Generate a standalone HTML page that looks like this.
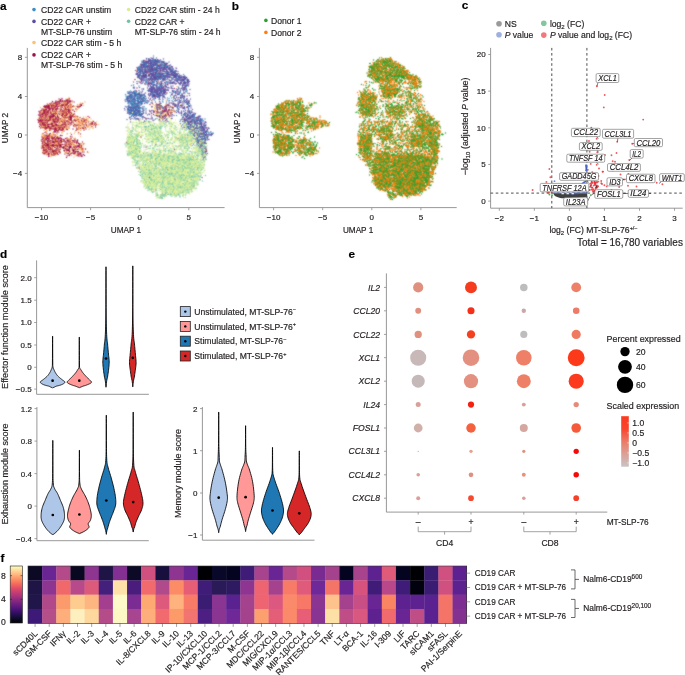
<!DOCTYPE html>
<html><head><meta charset="utf-8"><style>
html,body{margin:0;padding:0;background:#fff;}
body{width:685px;height:675px;overflow:hidden;}
svg{display:block;will-change:transform;}
text{font-family:"Liberation Sans", sans-serif;stroke:#231f20;stroke-width:0.18px;paint-order:stroke;}
</style></head><body>
<svg width="685" height="675" viewBox="0 0 685 675" font-family='"Liberation Sans", sans-serif' fill="#231f20">
<text x="0.00" y="9.60" font-size="11.8" font-weight="bold" fill="#000" >a</text>
<text x="231.80" y="9.60" font-size="11.8" font-weight="bold" fill="#000" >b</text>
<text x="461.80" y="9.30" font-size="11.8" font-weight="bold" fill="#000" >c</text>
<text x="0.00" y="258.20" font-size="11.8" font-weight="bold" fill="#000" >d</text>
<text x="348.60" y="258.20" font-size="11.8" font-weight="bold" fill="#000" >e</text>
<text x="0.60" y="561.80" font-size="11.8" font-weight="bold" fill="#000" >f</text>
<line x1="27.30" y1="47.90" x2="27.30" y2="207.60" stroke="#8c8c8c" stroke-width="0.9" />
<line x1="27.30" y1="207.60" x2="224.60" y2="207.60" stroke="#8c8c8c" stroke-width="0.9" />
<line x1="24.90" y1="57.30" x2="27.30" y2="57.30" stroke="#8c8c8c" stroke-width="0.8" />
<text x="22.10" y="60.20" font-size="8" text-anchor="end" >8</text>
<line x1="24.90" y1="96.50" x2="27.30" y2="96.50" stroke="#8c8c8c" stroke-width="0.8" />
<text x="22.10" y="99.40" font-size="8" text-anchor="end" >4</text>
<line x1="24.90" y1="135.00" x2="27.30" y2="135.00" stroke="#8c8c8c" stroke-width="0.8" />
<text x="22.10" y="137.90" font-size="8" text-anchor="end" >0</text>
<line x1="24.90" y1="173.40" x2="27.30" y2="173.40" stroke="#8c8c8c" stroke-width="0.8" />
<text x="22.10" y="176.30" font-size="8" text-anchor="end" >−4</text>
<line x1="41.50" y1="207.60" x2="41.50" y2="210.20" stroke="#8c8c8c" stroke-width="0.8" />
<text x="41.50" y="220.30" font-size="8" text-anchor="middle" >−10</text>
<line x1="90.60" y1="207.60" x2="90.60" y2="210.20" stroke="#8c8c8c" stroke-width="0.8" />
<text x="90.60" y="220.30" font-size="8" text-anchor="middle" >−5</text>
<line x1="139.70" y1="207.60" x2="139.70" y2="210.20" stroke="#8c8c8c" stroke-width="0.8" />
<text x="139.70" y="220.30" font-size="8" text-anchor="middle" >0</text>
<line x1="188.80" y1="207.60" x2="188.80" y2="210.20" stroke="#8c8c8c" stroke-width="0.8" />
<text x="188.80" y="220.30" font-size="8" text-anchor="middle" >5</text>
<text x="126.00" y="233.30" font-size="8.2" text-anchor="middle" >UMAP 1</text>
<text x="0.00" y="0.00" font-size="8.2" text-anchor="middle" transform="translate(7.70,128) rotate(-90)">UMAP 2</text>
<line x1="259.40" y1="47.90" x2="259.40" y2="207.60" stroke="#8c8c8c" stroke-width="0.9" />
<line x1="259.40" y1="207.60" x2="456.70" y2="207.60" stroke="#8c8c8c" stroke-width="0.9" />
<line x1="257.00" y1="57.30" x2="259.40" y2="57.30" stroke="#8c8c8c" stroke-width="0.8" />
<text x="254.20" y="60.20" font-size="8" text-anchor="end" >8</text>
<line x1="257.00" y1="96.50" x2="259.40" y2="96.50" stroke="#8c8c8c" stroke-width="0.8" />
<text x="254.20" y="99.40" font-size="8" text-anchor="end" >4</text>
<line x1="257.00" y1="135.00" x2="259.40" y2="135.00" stroke="#8c8c8c" stroke-width="0.8" />
<text x="254.20" y="137.90" font-size="8" text-anchor="end" >0</text>
<line x1="257.00" y1="173.40" x2="259.40" y2="173.40" stroke="#8c8c8c" stroke-width="0.8" />
<text x="254.20" y="176.30" font-size="8" text-anchor="end" >−4</text>
<line x1="273.60" y1="207.60" x2="273.60" y2="210.20" stroke="#8c8c8c" stroke-width="0.8" />
<text x="273.60" y="220.30" font-size="8" text-anchor="middle" >−10</text>
<line x1="322.70" y1="207.60" x2="322.70" y2="210.20" stroke="#8c8c8c" stroke-width="0.8" />
<text x="322.70" y="220.30" font-size="8" text-anchor="middle" >−5</text>
<line x1="371.80" y1="207.60" x2="371.80" y2="210.20" stroke="#8c8c8c" stroke-width="0.8" />
<text x="371.80" y="220.30" font-size="8" text-anchor="middle" >0</text>
<line x1="420.90" y1="207.60" x2="420.90" y2="210.20" stroke="#8c8c8c" stroke-width="0.8" />
<text x="420.90" y="220.30" font-size="8" text-anchor="middle" >5</text>
<text x="358.10" y="233.30" font-size="8.2" text-anchor="middle" >UMAP 1</text>
<text x="0.00" y="0.00" font-size="8.2" text-anchor="middle" transform="translate(239.80,128) rotate(-90)">UMAP 2</text>
<circle cx="34.00" cy="9.60" r="1.80" fill="#3a8fc4" />
<circle cx="34.00" cy="21.40" r="1.80" fill="#5a4ea3" />
<circle cx="34.00" cy="42.60" r="1.80" fill="#fcc276" />
<circle cx="34.00" cy="54.90" r="1.80" fill="#a1124c" />
<circle cx="128.60" cy="9.50" r="1.80" fill="#d8ee90" />
<circle cx="128.60" cy="21.30" r="1.80" fill="#6cc4a0" />
<text x="41.00" y="12.90" font-size="8.6" >CD22 CAR unstim</text>
<text x="41.00" y="24.60" font-size="8.6" >CD22 CAR +</text>
<text x="41.00" y="34.60" font-size="8.6" >MT-SLP-76 unstim</text>
<text x="41.00" y="45.80" font-size="8.6" >CD22 CAR stim - 5 h</text>
<text x="41.00" y="57.60" font-size="8.6" >CD22 CAR +</text>
<text x="41.00" y="67.60" font-size="8.6" >MT-SLP-76 stim - 5 h</text>
<text x="134.70" y="12.90" font-size="8.6" >CD22 CAR stim - 24 h</text>
<text x="134.70" y="24.60" font-size="8.6" >CD22 CAR +</text>
<text x="134.70" y="34.60" font-size="8.6" >MT-SLP-76 stim - 24 h</text>
<circle cx="265.90" cy="20.40" r="1.80" fill="#2ca02c" />
<circle cx="265.90" cy="32.40" r="1.80" fill="#ff7f0e" />
<text x="271.00" y="23.50" font-size="8.6" >Donor 1</text>
<text x="271.00" y="35.50" font-size="8.6" >Donor 2</text>
<defs><filter id="ub" x="-5%" y="-5%" width="110%" height="110%"><feConvolveMatrix order="3" kernelMatrix="1 2 1 2 12 2 1 2 1"/></filter></defs><g filter="url(#ub)"><g transform="scale(0.5)" stroke-linecap="round" fill="none"><g stroke-opacity="0.8"><path d="M293 123h0m27 19h0m-1 8h0m11 13h0m32 29h0m-3 4h0m-227 2h0m173 4h0m57 1h0m-243 2h0m9 2h0m5 0h0m6 0h0m1 0h0m-7 1h0m-3 1h0m-33 1h0m30 0h0m-26 1h0m6 0h0m33 0h0m27 0h0m-38 1h0m26 0h0m-68 1h0m17 0h0m1 0h0m10 0h0m8 0h0m7 0h0m7 0h0m12 0h0m-46 2h0m32 0h0m-20 1h0m-17 1h0m9 0h0m35 1h0m9 0h0m-19 1h0m2 0h0m5 0h0m7 1h0m-59 1h0m41 0h0m213 0h0m-223 1h0m11 1h0m8 0h0m-49 1h0m7 0h0m6 0h0m8 0h0m20 0h0m184 0h0m30 0h0m-255 1h0m15 0h0m-12 1h0m32 0h0m8 0h0m190 0h0m6 0h0m-16 1h0m-218 1h0m239 0h0m-225 1h0m210 0h0m-206 1h0m3 0h0m1 0h0m16 0h0m-32 1h0m30 0h0m201 0h0m8 0h0m3 0h0m-230 1h0m-9 1h0m-9 1h0m58 1h0m-68 1h0m10 0h0m38 0h0m3 0h0m4 0h0m-59 1h0m5 0h0m70 0h0m15 0h0m173 0h0m-205 1h0m17 0h0m28 0h0m-78 1h0m16 0h0m-31 1h0m242 0h0m-213 1h0m6 0h0m31 0h0m13 0h0m-63 1h0m17 0h0m13 0h0m39 0h0m-2 1h0m-33 1h0m21 0h0m12 0h0m13 0h0m-105 2h0m27 2h0m28 0h0m19 0h0m31 0h0m12 1h0m-103 1h0m3 0h0m10 0h0m67 0h0m-70 1h0m1 0h0m8 0h0m7 0h0m37 0h0m30 0h0m-73 2h0m21 0h0m38 0h0m2 0h0m-64 1h0m46 0h0m25 0h0m-84 1h0m61 0h0m-45 1h0m10 0h0m37 0h0m-41 1h0m46 0h0m-59 1h0m5 1h0m-24 2h0m30 4h0m6 1h0m11 1h0m-29 1h0m51 0h0m-73 4h0m3 2h0m8 0h0m19 1h0m-5 1h0m7 0h0m-19 1h0m7 0h0m7 1h0m-29 2h0m45 0h0m-26 2h0m14 0h0m40 0h0m-35 1h0m22 1h0m-54 1h0m60 1h0m-59 1h0m4 0h0m69 0h0m-73 2h0m28 0h0m18 0h0m4 0h0m3 0h0m3 0h0m-56 1h0m-6 1h0m6 0h0m7 0h0m54 2h0m-49 1h0m31 0h0m139 0h0m-183 1h0m12 0h0m50 0h0m11 2h0m-63 2h0m4 0h0m10 1h0m30 0h0m22 0h0m-55 1h0m1 2h0m46 0h0m9 0h0m-73 2h0m24 0h0m4 0h0m-13 2h0m-12 1h0m6 1h0m35 2h0m255 32h0m-71 28h0" stroke="#fdae61" stroke-width="3.00"/>
<path d="M261 198h0m11 15h0m49 1h0m-8 15h0m11 1h0m10 0h0m-14 2h0m11 2h0m-24 8h0m34 1h0m32 1h0m-100 1h0m34 0h0m-10 1h0m-39 1h0m18 0h0m62 1h0m35 0h0m8 0h0m6 0h0m-100 1h0m46 0h0m-9 1h0m45 1h0m-72 2h0m46 0h0m19 0h0m-57 1h0m77 0h0m-67 1h0m-32 1h0m62 0h0m-48 1h0m13 0h0m39 0h0m39 0h0m-90 3h0m71 0h0m20 0h0m-133 2h0m26 0h0m21 0h0m-15 1h0m90 0h0m-61 1h0m-8 1h0m59 0h0m-108 1h0m57 1h0m-63 1h0m109 0h0m-63 1h0m4 0h0m6 0h0m-7 1h0m33 0h0m-80 1h0m39 0h0m87 0h0m-102 1h0m35 0h0m8 0h0m-28 1h0m14 0h0m36 0h0m30 0h0m-118 1h0m114 1h0m-89 1h0m0 0h0m30 0h0m47 0h0m9 0h0m10 0h0m3 0h0m-78 1h0m16 0h0m49 0h0m-112 1h0m53 0h0m36 0h0m30 0h0m3 0h0m-19 1h0m-97 1h0m5 0h0m40 1h0m65 0h0m26 0h0m11 0h0m2 0h0m-156 1h0m3 0h0m80 0h0m50 0h0m-11 1h0m-120 1h0m3 0h0m44 0h0m55 0h0m1 0h0m11 0h0m3 0h0m21 0h0m9 0h0m-128 1h0m52 0h0m40 0h0m-19 1h0m18 0h0m14 0h0m-32 2h0m-78 2h0m88 0h0m2 0h0m10 0h0m35 0h0m0 0h0m-149 1h0m17 0h0m64 0h0m32 0h0m31 0h0m-129 1h0m108 0h0m-105 1h0m80 1h0m-87 1h0m5 0h0m94 0h0m-92 1h0m2 0h0m23 0h0m46 0h0m7 0h0m-25 1h0m45 0h0m28 1h0m8 0h0m-130 1h0m126 0h0m-124 1h0m18 0h0m10 0h0m45 0h0m-51 1h0m39 0h0m37 0h0m15 0h0m-125 1h0m59 1h0m-69 1h0m10 0h0m74 0h0m28 1h0m35 0h0m-67 1h0m4 1h0m4 0h0m-34 2h0m49 0h0m1 0h0m6 0h0m10 0h0m-46 1h0m6 0h0m39 0h0m11 0h0m17 0h0m-91 1h0m5 0h0m76 0h0m-133 1h0m24 0h0m2 0h0m4 0h0m38 0h0m25 0h0m24 0h0m-77 1h0m28 0h0m4 0h0m2 0h0m3 0h0m26 0h0m12 0h0m10 0h0m-107 1h0m31 0h0m7 0h0m1 0h0m24 0h0m20 0h0m-93 1h0m5 0h0m19 0h0m21 0h0m44 0h0m4 0h0m17 0h0m-78 1h0m51 0h0m9 0h0m-68 1h0m38 0h0m-39 1h0m3 0h0m15 0h0m42 0h0m0 0h0m33 0h0m-71 1h0m7 0h0m15 0h0m7 0h0m53 0h0m10 0h0m-88 1h0m13 0h0m38 0h0m8 0h0m-96 1h0m35 0h0m73 0h0m2 0h0m14 0h0m1 0h0m-143 1h0m26 0h0m2 0h0m30 0h0m13 0h0m17 0h0m40 0h0m8 0h0m10 0h0m-122 1h0m3 0h0m34 0h0m17 0h0m5 0h0m2 0h0m17 0h0m1 0h0m-104 1h0m22 0h0m40 0h0m4 0h0m15 0h0m16 0h0m15 0h0m10 0h0m-91 1h0m11 0h0m30 0h0m26 0h0m25 0h0m18 0h0m-107 1h0m33 0h0m14 0h0m1 0h0m10 0h0m20 0h0m6 1h0m1 0h0m-99 1h0m41 0h0m18 0h0m23 0h0m23 0h0m-16 1h0m8 0h0m12 0h0m-63 1h0m3 0h0m12 0h0m-60 1h0m8 0h0m21 0h0m11 0h0m1 0h0m22 0h0m19 0h0m3 0h0m-82 1h0m7 0h0m0 0h0m1 0h0m41 0h0m30 0h0m17 0h0m-80 1h0m46 0h0m18 0h0m5 0h0m1 0h0m1 0h0m18 0h0m-55 1h0m4 0h0m19 0h0m25 0h0m1 0h0m1 0h0m12 0h0m-117 1h0m44 0h0m35 0h0m5 0h0m11 0h0m2 0h0m-96 1h0m0 0h0m35 0h0m24 0h0m23 0h0m-62 1h0m58 0h0m-36 1h0m29 0h0m17 0h0m-41 1h0m11 0h0m2 0h0m17 0h0m4 0h0m11 0h0m23 0h0m4 0h0m-115 1h0m18 0h0m5 0h0m19 0h0m47 0h0m8 0h0m7 0h0m-98 1h0m22 0h0m28 0h0m8 0h0m5 0h0m-67 1h0m61 0h0m50 0h0m-114 1h0m10 0h0m1 0h0m24 0h0m47 0h0m-62 1h0m85 0h0m10 0h0m-116 1h0m17 0h0m43 0h0m1 0h0m22 0h0m6 0h0m-64 1h0m4 0h0m47 0h0m-74 1h0m5 0h0m16 0h0m48 0h0m7 0h0m5 0h0m-74 1h0m6 0h0m53 0h0m24 0h0m-68 1h0m47 0h0m5 0h0m-71 1h0m6 0h0m18 0h0m13 0h0m18 0h0m20 0h0m-86 1h0m22 0h0m45 0h0m3 0h0m12 0h0m11 0h0m-34 1h0m27 0h0m7 0h0m16 0h0m-100 1h0m41 0h0m3 0h0m25 0h0m25 0h0m-99 1h0m28 0h0m15 0h0m-34 1h0m25 0h0m8 0h0m12 0h0m20 0h0m24 0h0m-81 1h0m24 0h0m3 0h0m39 0h0m-23 1h0m20 0h0m4 0h0m26 0h0m-68 1h0m65 0h0m-69 1h0m20 0h0m25 0h0m-39 1h0m32 0h0m15 0h0m-38 1h0m10 0h0m4 0h0m-68 1h0m30 0h0m31 0h0m-57 1h0m56 0h0m13 0h0m28 0h0m-82 1h0m39 0h0m2 0h0m3 0h0m14 0h0m32 0h0m-105 1h0m15 0h0m1 0h0m8 0h0m8 0h0m12 0h0m28 0h0m-14 1h0m26 0h0m24 0h0m-74 1h0m58 0h0m-81 1h0m47 0h0m41 0h0m-88 1h0m10 0h0m1 0h0m41 0h0m18 0h0m-75 1h0m6 0h0m1 0h0m79 0h0m-76 1h0m7 0h0m2 0h0m17 0h0m53 0h0m4 0h0m3 0h0m2 0h0m-98 1h0m1 0h0m13 0h0m12 0h0m33 0h0m6 0h0m8 0h0m9 0h0m9 0h0m-74 1h0m9 0h0m6 0h0m17 0h0m46 0h0m-64 1h0m41 0h0m9 0h0m-36 1h0m23 0h0m-42 1h0m4 0h0m18 0h0m40 0h0m-78 1h0m33 0h0m43 0h0m1 0h0m-84 1h0m39 0h0m11 0h0m20 0h0m8 0h0m-45 1h0m2 0h0m6 0h0m29 0h0m-18 1h0m-16 1h0m31 0h0m-42 1h0m19 0h0m5 0h0m-40 1h0m35 0h0m-6 1h0m-1 2h0m29 1h0m-41 3h0m24 0h0m11 0h0m10 1h0m-53 6h0" stroke="#e6f598" stroke-width="3.00"/>
<path d="M297 118h0m13 1h0m-9 1h0m6 0h0m8 0h0m-9 1h0m2 1h0m-19 2h0m5 1h0m20 0h0m-32 3h0m9 0h0m29 1h0m-4 2h0m5 0h0m-4 1h0m-23 1h0m42 1h0m-39 4h0m15 0h0m-31 1h0m52 1h0m6 4h0m-60 2h0m10 0h0m3 0h0m19 0h0m-27 1h0m36 2h0m35 0h0m12 0h0m-43 1h0m-13 1h0m36 0h0m-30 1h0m-15 1h0m46 0h0m-45 1h0m-24 2h0m78 1h0m-53 3h0m-12 2h0m35 6h0m43 0h0m6 0h0m-16 2h0m-97 1h0m48 0h0m14 0h0m-12 2h0m-52 9h0m61 0h0m3 0h0m-56 1h0m58 1h0m20 1h0m-79 1h0m7 2h0m-6 1h0m44 0h0m-36 2h0m7 0h0m5 0h0m31 0h0m-63 1h0m6 0h0m-5 1h0m62 0h0m-56 1h0m14 0h0m51 0h0m-76 1h0m8 0h0m2 0h0m80 1h0m18 0h0m-108 2h0m9 0h0m4 0h0m16 0h0m0 0h0m81 2h0m-68 1h0m-30 1h0m5 3h0m102 0h0m-13 1h0m-103 1h0m121 1h0m-29 1h0m-73 1h0m7 0h0m53 0h0m-72 1h0m2 0h0m92 0h0m-89 1h0m4 1h0m-10 1h0m2 0h0m13 0h0m78 0h0m-98 1h0m70 0h0m-54 1h0m-8 1h0m-2 1h0m15 0h0m-16 1h0m95 0h0m-99 1h0m2 0h0m87 0h0m-71 2h0m0 1h0m1 0h0m38 0h0m15 0h0m-56 2h0m5 0h0m58 0h0m-61 1h0m102 0h0m-97 3h0m107 0h0m-123 1h0m8 1h0m8 0h0m29 0h0m74 0h0m-98 2h0m-17 2h0m113 2h0m-114 1h0m119 0h0m-16 3h0m32 0h0m-23 5h0m10 2h0m-3 10h0m27 2h0m-3 3h0m11 1h0m-34 1h0m35 5h0m-17 9h0m-1 18h0m3 13h0" stroke="#3288bd" stroke-width="3.00"/>
<path d="M311 120h0m-7 1h0m6 1h0m-18 1h0m0 0h0m5 0h0m1 0h0m3 0h0m8 0h0m11 0h0m-8 1h0m12 0h0m14 0h0m-46 1h0m11 0h0m17 0h0m-22 1h0m34 0h0m3 1h0m-51 2h0m4 0h0m22 0h0m10 0h0m5 0h0m-41 1h0m1 0h0m16 0h0m19 0h0m-25 1h0m7 0h0m13 0h0m-27 1h0m29 0h0m15 0h0m-18 1h0m0 0h0m-24 1h0m15 1h0m10 0h0m12 0h0m8 0h0m-51 1h0m34 0h0m2 0h0m3 0h0m6 0h0m10 0h0m-56 1h0m23 0h0m10 0h0m0 0h0m22 0h0m1 0h0m-63 1h0m10 0h0m22 0h0m37 0h0m2 0h0m-55 1h0m5 0h0m5 0h0m3 0h0m15 0h0m4 0h0m5 0h0m11 0h0m2 0h0m-46 1h0m18 0h0m-20 1h0m12 0h0m5 0h0m11 1h0m3 0h0m-11 1h0m15 0h0m16 0h0m11 0h0m-71 1h0m27 0h0m25 0h0m-60 1h0m13 0h0m18 0h0m-21 1h0m46 0h0m4 0h0m-56 1h0m25 0h0m11 0h0m11 0h0m26 0h0m-73 1h0m-8 1h0m14 0h0m4 0h0m8 0h0m10 0h0m10 0h0m1 0h0m5 0h0m-45 1h0m27 0h0m11 0h0m36 0h0m-72 1h0m3 0h0m3 0h0m9 0h0m11 0h0m5 0h0m23 0h0m9 0h0m4 0h0m-73 1h0m3 0h0m49 0h0m41 0h0m-76 1h0m1 0h0m27 0h0m2 0h0m0 0h0m28 0h0m1 0h0m10 0h0m-84 1h0m0 0h0m33 0h0m4 0h0m-26 1h0m23 0h0m4 0h0m32 0h0m4 0h0m8 0h0m-45 1h0m46 0h0m-77 1h0m45 0h0m0 0h0m42 0h0m-74 1h0m62 0h0m-78 1h0m19 0h0m67 0h0m8 0h0m-89 1h0m45 0h0m12 0h0m17 0h0m0 0h0m17 0h0m-36 1h0m14 0h0m5 0h0m8 0h0m-85 1h0m91 0h0m-96 1h0m35 0h0m8 1h0m55 0h0m-80 1h0m11 0h0m37 0h0m19 0h0m7 0h0m-26 1h0m28 0h0m-32 1h0m-20 1h0m3 0h0m-23 1h0m32 0h0m0 0h0m-26 2h0m2 0h0m14 0h0m50 0h0m-75 1h0m4 0h0m71 0h0m-59 1h0m10 0h0m9 1h0m38 0h0m-103 1h0m70 0h0m31 0h0m-67 1h0m9 0h0m15 0h0m2 0h0m-28 1h0m15 0h0m49 0h0m9 0h0m-67 1h0m2 0h0m7 0h0m47 0h0m-55 1h0m30 0h0m-38 1h0m12 0h0m12 0h0m5 0h0m4 0h0m-18 1h0m4 0h0m5 1h0m-55 1h0m34 0h0m8 0h0m42 0h0m-48 1h0m2 0h0m15 0h0m-51 1h0m38 0h0m20 0h0m4 0h0m-23 1h0m22 0h0m-60 1h0m46 0h0m13 0h0m-65 1h0m37 0h0m31 0h0m26 0h0m-95 1h0m46 0h0m7 0h0m-28 1h0m14 0h0m4 0h0m2 0h0m9 0h0m4 0h0m-61 1h0m40 0h0m9 0h0m55 0h0m-96 1h0m3 0h0m34 0h0m13 0h0m-38 1h0m1 0h0m32 0h0m56 0h0m-54 1h0m-59 2h0m4 1h0m51 0h0m56 0h0m-108 1h0m2 0h0m14 0h0m5 0h0m3 0h0m68 0h0m-25 1h0m32 0h0m-72 1h0m65 1h0m-93 1h0m23 0h0m78 0h0m2 0h0m-99 1h0m106 2h0m-30 1h0m2 0h0m-68 1h0m86 0h0m21 0h0m-115 1h0m1 0h0m68 0h0m43 0h0m-96 2h0m71 0h0m3 0h0m-77 1h0m55 0h0m-10 1h0m55 0h0m5 0h0m-78 1h0m11 0h0m41 0h0m-99 1h0m1 0h0m61 0h0m-58 1h0m7 0h0m77 0h0m17 0h0m12 0h0m-108 1h0m61 0h0m28 0h0m13 0h0m-37 1h0m-75 1h0m114 0h0m-120 2h0m16 0h0m13 0h0m-13 1h0m33 0h0m4 0h0m3 0h0m-51 1h0m108 0h0m-56 1h0m64 2h0m12 0h0m-111 1h0m90 0h0m26 0h0m-126 1h0m5 2h0m3 1h0m2 0h0m64 0h0m44 0h0m-67 1h0m10 0h0m19 1h0m-70 1h0m102 0h0m0 0h0m1 0h0m25 0h0m-33 1h0m14 1h0m12 0h0m-102 1h0m86 1h0m0 0h0m4 0h0m20 0h0m-35 1h0m-112 1h0m18 0h0m5 0h0m101 1h0m23 0h0m0 1h0m-23 1h0m23 0h0m-12 1h0m10 0h0m-30 3h0m7 0h0m20 0h0m4 1h0m-24 2h0m26 0h0m-39 3h0m11 0h0m29 0h0m-18 2h0m2 0h0m9 1h0m1 0h0m13 0h0m-45 1h0m31 1h0m-22 1h0m0 0h0m14 4h0m0 0h0m18 0h0m6 1h0m-30 1h0m26 1h0m-20 1h0m16 0h0m2 1h0m-7 1h0m3 0h0m16 0h0m-21 1h0m7 0h0m3 0h0m5 0h0m-20 1h0m2 0h0m11 0h0m-11 1h0m13 0h0m-18 2h0m10 0h0m5 0h0m-12 1h0m16 1h0m3 1h0m-7 1h0m3 0h0m-4 1h0m1 1h0m-12 1h0m8 0h0m14 0h0m-22 2h0m11 3h0m-6 1h0m13 0h0m-7 1h0m3 0h0m3 0h0m-7 2h0m-8 1h0m7 1h0m-5 2h0m5 0h0m4 0h0m-4 1h0m1 2h0m1 0h0m-4 1h0m9 0h0m2 0h0m2 0h0m0 0h0m-1 1h0m0 5h0m-8 4h0m10 3h0m-8 2h0" stroke="#5e4fa2" stroke-width="3.00"/>
<path d="M318 239h0m9 3h0m-47 2h0m9 1h0m38 0h0m-7 1h0m-54 3h0m110 1h0m-43 1h0m-26 2h0m24 0h0m75 1h0m-140 1h0m125 1h0m-5 2h0m-92 1h0m11 0h0m35 0h0m14 0h0m-84 1h0m-15 2h0m60 0h0m-32 1h0m26 0h0m-51 2h0m20 0h0m43 0h0m2 1h0m16 1h0m8 0h0m-44 1h0m2 0h0m61 1h0m5 0h0m30 0h0m-93 1h0m57 0h0m-82 1h0m3 0h0m17 0h0m59 0h0m8 0h0m9 0h0m-55 1h0m56 0h0m-104 1h0m16 0h0m120 0h0m-97 1h0m-47 1h0m4 0h0m35 0h0m53 0h0m32 0h0m6 0h0m-75 1h0m20 0h0m16 0h0m-85 1h0m15 0h0m81 0h0m-73 1h0m68 0h0m13 0h0m-83 1h0m71 0h0m-109 1h0m16 0h0m4 0h0m0 0h0m43 0h0m61 0h0m11 0h0m15 0h0m-144 1h0m89 0h0m-98 1h0m52 0h0m64 0h0m7 0h0m10 0h0m-14 1h0m6 0h0m28 0h0m-151 1h0m8 0h0m86 0h0m11 0h0m45 0h0m-131 1h0m2 0h0m93 0h0m-47 1h0m16 0h0m-85 1h0m81 0h0m-53 1h0m43 0h0m-63 1h0m11 0h0m2 0h0m5 0h0m101 0h0m-107 1h0m17 0h0m84 0h0m-108 1h0m61 0h0m73 1h0m-137 1h0m71 1h0m68 0h0m-136 1h0m144 0h0m-84 2h0m-47 1h0m-12 1h0m2 1h0m1 0h0m78 0h0m16 0h0m-92 1h0m99 0h0m31 0h0m1 0h0m0 1h0m2 0h0m-152 1h0m65 0h0m-59 1h0m52 0h0m92 0h0m-99 1h0m84 0h0m3 0h0m-48 1h0m-45 1h0m76 0h0m29 0h0m-115 1h0m10 0h0m37 0h0m26 0h0m3 0h0m47 0h0m-96 1h0m34 0h0m3 0h0m26 0h0m-68 1h0m8 0h0m-62 1h0m38 0h0m30 0h0m28 0h0m16 0h0m20 0h0m9 0h0m9 0h0m-109 1h0m97 0h0m-125 1h0m5 0h0m43 0h0m2 0h0m33 0h0m10 0h0m25 0h0m-99 1h0m9 0h0m13 0h0m12 0h0m12 0h0m35 0h0m-81 1h0m5 0h0m28 0h0m24 0h0m15 0h0m3 0h0m-85 1h0m62 0h0m9 0h0m6 0h0m2 0h0m35 0h0m18 0h0m-94 1h0m19 0h0m12 0h0m13 0h0m11 0h0m2 0h0m-21 1h0m21 0h0m-88 1h0m23 0h0m27 0h0m25 0h0m9 0h0m20 0h0m2 0h0m-110 1h0m56 0h0m54 0h0m0 0h0m7 0h0m-129 1h0m7 0h0m28 0h0m25 0h0m3 0h0m12 0h0m6 0h0m15 0h0m12 0h0m-39 1h0m9 0h0m17 0h0m4 0h0m18 0h0m1 0h0m-55 1h0m12 0h0m12 0h0m9 0h0m-81 1h0m9 0h0m11 0h0m20 0h0m3 0h0m14 0h0m6 0h0m0 0h0m34 0h0m10 0h0m-66 1h0m49 0h0m-58 1h0m5 0h0m30 0h0m13 0h0m1 0h0m31 0h0m-111 1h0m28 0h0m47 0h0m10 0h0m-60 1h0m8 0h0m13 0h0m2 0h0m-34 1h0m28 0h0m60 0h0m-97 1h0m58 0h0m9 0h0m17 0h0m-57 1h0m32 0h0m3 0h0m11 0h0m20 0h0m-41 1h0m33 0h0m15 0h0m-112 1h0m8 0h0m82 0h0m5 0h0m15 0h0m-99 1h0m68 0h0m3 0h0m-71 1h0m50 0h0m25 0h0m26 0h0m-118 1h0m27 0h0m6 0h0m10 0h0m31 0h0m14 0h0m3 0h0m18 0h0m-98 1h0m71 0h0m29 0h0m-77 1h0m25 0h0m2 1h0m12 0h0m0 0h0m2 0h0m9 0h0m5 0h0m31 0h0m-109 1h0m8 0h0m58 0h0m36 0h0m-86 1h0m8 0h0m33 0h0m5 0h0m3 0h0m2 0h0m9 0h0m41 0h0m-98 1h0m27 0h0m59 0h0m9 0h0m-98 1h0m41 0h0m-30 1h0m5 0h0m6 0h0m4 0h0m24 0h0m8 0h0m34 0h0m7 0h0m-74 1h0m7 0h0m4 0h0m39 0h0m-76 1h0m65 0h0m-68 1h0m1 0h0m1 0h0m16 0h0m4 0h0m37 0h0m13 0h0m28 0h0m-101 1h0m15 0h0m20 0h0m20 0h0m8 0h0m19 0h0m-99 1h0m60 0h0m2 0h0m36 0h0m3 0h0m4 0h0m2 0h0m-94 1h0m14 0h0m19 0h0m29 0h0m-46 1h0m27 0h0m2 0h0m8 0h0m5 0h0m4 0h0m16 0h0m26 0h0m-71 1h0m45 0h0m8 0h0m-53 1h0m1 0h0m46 0h0m-37 1h0m55 0h0m-100 1h0m8 0h0m14 0h0m26 0h0m12 0h0m10 0h0m-67 1h0m0 0h0m7 0h0m7 0h0m44 0h0m20 0h0m17 0h0m7 0h0m2 0h0m-94 1h0m7 0h0m34 0h0m-8 1h0m1 0h0m15 0h0m32 0h0m-94 1h0m15 0h0m13 0h0m11 0h0m53 0h0m11 0h0m-101 1h0m31 0h0m31 0h0m12 0h0m-30 1h0m23 0h0m18 0h0m-38 1h0m2 0h0m21 0h0m11 0h0m-67 1h0m59 0h0m8 0h0m-68 1h0m13 0h0m59 0h0m6 0h0m14 0h0m-97 1h0m11 0h0m63 0h0m-82 1h0m2 0h0m11 0h0m13 0h0m17 0h0m10 0h0m4 0h0m20 0h0m-73 1h0m4 0h0m7 0h0m23 0h0m37 0h0m3 0h0m-46 1h0m1 0h0m4 0h0m2 0h0m45 0h0m5 0h0m-75 1h0m8 0h0m31 0h0m21 0h0m15 0h0m-91 1h0m38 0h0m7 0h0m2 0h0m27 0h0m-45 1h0m66 0h0m-61 1h0m-28 1h0m8 0h0m10 0h0m8 0h0m26 0h0m-51 1h0m28 0h0m-2 1h0m4 0h0m20 0h0m19 0h0m5 0h0m6 0h0m-38 1h0m-47 1h0m51 0h0m15 0h0m9 0h0m17 0h0m-80 1h0m10 0h0m45 0h0m-53 1h0m45 0h0m11 0h0m-25 1h0m11 1h0m10 0h0m-1 1h0m1 0h0m-6 1h0m2 0h0m-1 1h0m16 0h0m3 0h0m12 0h0m-48 1h0m15 0h0m2 0h0m22 0h0m-11 1h0m-31 1h0m20 0h0m-15 1h0m2 0h0m14 0h0m4 0h0m-36 1h0m9 0h0m9 0h0m7 0h0m9 0h0m-30 2h0m16 0h0m-13 1h0" stroke="#abdda4" stroke-width="3.00"/>
<path d="M319 134h0m10 1h0m-3 4h0m4 15h0m-26 3h0m47 11h0m-27 9h0m25 0h0m20 2h0m-42 14h0m-190 4h0m-1 2h0m-3 1h0m0 2h0m-7 1h0m10 1h0m1 0h0m-10 1h0m-21 1h0m29 0h0m208 0h0m-178 1h0m148 1h0m-214 1h0m2 0h0m8 0h0m5 0h0m27 0h0m19 0h0m159 0h0m-223 1h0m18 0h0m220 0h0m-236 1h0m5 0h0m3 0h0m18 0h0m17 0h0m21 0h0m-67 1h0m14 0h0m9 0h0m16 0h0m189 0h0m27 0h0m-258 1h0m24 0h0m-26 1h0m5 0h0m2 0h0m9 1h0m3 0h0m21 0h0m5 0h0m2 0h0m176 0h0m9 0h0m-225 2h0m-13 1h0m2 0h0m14 0h0m13 0h0m24 1h0m8 1h0m1 0h0m-48 1h0m10 0h0m24 0h0m205 0h0m-240 1h0m11 0h0m200 0h0m29 0h0m-197 1h0m-8 1h0m202 0h0m-232 1h0m-12 1h0m6 0h0m30 0h0m1 0h0m-42 1h0m11 0h0m26 0h0m8 0h0m9 0h0m-56 2h0m4 0h0m5 0h0m215 0h0m-192 1h0m-27 1h0m35 0h0m9 0h0m-35 1h0m28 0h0m7 0h0m197 0h0m-222 1h0m-28 1h0m1 1h0m8 0h0m10 0h0m3 0h0m3 0h0m217 0h0m-189 1h0m198 0h0m-208 1h0m44 0h0m-61 1h0m11 0h0m4 0h0m9 0h0m12 0h0m23 0h0m-56 1h0m21 0h0m43 0h0m-91 2h0m46 0h0m15 0h0m31 0h0m-95 1h0m39 0h0m3 0h0m26 0h0m-67 1h0m13 0h0m31 0h0m28 0h0m-26 1h0m33 0h0m19 0h0m-89 1h0m-4 1h0m25 0h0m9 0h0m29 0h0m43 0h0m-81 1h0m-24 1h0m1 0h0m4 0h0m15 0h0m66 0h0m-82 1h0m24 0h0m12 0h0m9 0h0m54 0h0m-105 1h0m15 0h0m70 0h0m-85 1h0m24 0h0m47 0h0m24 0h0m-86 1h0m0 0h0m32 0h0m-16 1h0m-16 1h0m4 0h0m23 0h0m10 0h0m-15 1h0m18 0h0m-40 1h0m23 0h0m279 1h0m-285 1h0m8 0h0m8 0h0m-4 1h0m-21 1h0m68 0h0m-54 1h0m10 0h0m-8 1h0m12 0h0m-38 3h0m67 0h0m4 3h0m-18 1h0m-44 2h0m-10 1h0m8 0h0m4 1h0m2 0h0m3 2h0m-17 1h0m30 0h0m-11 2h0m9 0h0m-24 1h0m5 0h0m31 1h0m26 0h0m-32 1h0m-37 1h0m17 0h0m7 0h0m27 0h0m17 0h0m-63 1h0m5 0h0m27 0h0m1 0h0m-38 1h0m30 0h0m-3 1h0m5 1h0m38 0h0m-58 1h0m5 0h0m6 0h0m49 0h0m243 0h0m-302 1h0m2 0h0m10 0h0m22 0h0m27 0h0m-64 1h0m11 0h0m8 0h0m5 0h0m-35 1h0m21 0h0m-11 1h0m43 0h0m20 0h0m-55 1h0m4 0h0m25 0h0m0 0h0m-31 1h0m14 0h0m20 0h0m24 1h0m0 0h0m3 0h0m-52 1h0m-27 1h0m31 0h0m-23 1h0m10 0h0m12 0h0m52 0h0m-60 1h0m40 0h0m6 0h0m6 0h0m-69 1h0m17 0h0m13 0h0m-15 1h0m62 0h0m-28 1h0m-48 1h0m4 0h0m26 1h0m33 0h0m-48 1h0m3 1h0m-5 1h0m18 0h0m-13 1h0m29 0h0m25 0h0m-31 1h0m25 0h0m2 0h0m-60 1h0m61 0h0m3 0h0m6 0h0m-59 1h0m30 0h0m23 0h0m-62 2h0m310 2h0m-33 11h0m-69 12h0m97 18h0" stroke="#9e0142" stroke-width="3.00"/>
<path d="M323 244h0m-40 4h0m-4 6h0m12 1h0m27 1h0m-16 3h0m67 1h0m-61 1h0m1 0h0m63 0h0m-71 2h0m1 0h0m77 0h0m-80 1h0m10 0h0m3 1h0m-1 1h0m-51 2h0m41 0h0m71 1h0m8 1h0m1 0h0m-107 1h0m49 0h0m88 1h0m-35 1h0m-11 1h0m-49 1h0m52 0h0m-1 2h0m-108 1h0m107 0h0m-1 1h0m-52 1h0m30 0h0m33 0h0m-15 1h0m2 0h0m-101 2h0m12 0h0m88 2h0m31 1h0m-126 1h0m140 1h0m-151 1h0m9 0h0m0 1h0m137 5h0m6 0h0m-39 1h0m20 0h0m-89 1h0m5 0h0m37 0h0m-71 1h0m-12 1h0m146 0h0m-61 1h0m-78 1h0m56 0h0m-43 1h0m63 0h0m22 0h0m-93 1h0m67 0h0m52 2h0m-121 1h0m138 0h0m-105 1h0m50 0h0m10 0h0m16 0h0m-12 1h0m40 0h0m-140 3h0m139 0h0m-82 1h0m-36 2h0m70 0h0m20 0h0m-21 1h0m-70 2h0m39 1h0m38 0h0m0 0h0m-45 1h0m36 1h0m17 0h0m-29 1h0m4 0h0m8 0h0m24 1h0m-6 1h0m-48 2h0m51 0h0m-56 2h0m-32 1h0m85 0h0m-45 1h0m55 0h0m-50 1h0m44 0h0m-4 1h0m1 0h0m4 0h0m12 0h0m-80 1h0m74 2h0m-86 1h0m87 0h0m-50 1h0m-9 1h0m20 0h0m-13 1h0m-52 1h0m11 0h0m91 0h0m21 0h0m-45 1h0m7 0h0m-23 2h0m-7 1h0m0 0h0m-24 2h0m5 0h0m10 0h0m43 1h0m7 0h0m-44 1h0m-36 1h0m-2 2h0m72 0h0m9 0h0m-33 1h0m-57 1h0m42 0h0m2 1h0m10 0h0m1 0h0m13 0h0m-22 1h0m23 0h0m11 2h0m7 0h0m-9 1h0m16 0h0m15 1h0m3 1h0m-99 1h0m74 0h0m-27 1h0m9 0h0m28 0h0m-18 1h0m41 0h0m-86 3h0m-4 1h0m67 1h0m4 1h0m3 0h0m-44 1h0m-49 1h0m64 0h0m2 0h0m17 0h0m-16 1h0m2 0h0m-65 2h0m60 0h0m-18 1h0m23 0h0m23 0h0m-92 2h0m40 0h0m39 1h0m-7 1h0m-65 2h0m66 0h0m-3 1h0m-59 2h0m40 0h0m19 0h0m-2 1h0m-27 4h0m15 1h0m-26 1h0m6 0h0" stroke="#66c2a5" stroke-width="3.00"/>
<path d="M343 247h0m-12 1h0m13 0h0m45 1h0m-69 3h0m-11 12h0m27 0h0m49 0h0m-81 2h0m41 2h0m14 0h0m49 0h0m-76 3h0m-59 3h0m93 0h0m-53 2h0m5 0h0m71 1h0m-123 1h0m138 0h0m-134 1h0m27 0h0m1 0h0m7 0h0m10 0h0m45 0h0m-105 1h0m82 0h0m26 0h0m-4 1h0m8 0h0m-5 3h0m-95 1h0m122 0h0m-116 1h0m6 0h0m2 1h0m94 0h0m26 0h0m-151 1h0m6 0h0m64 2h0m-49 1h0m3 0h0m36 0h0m11 0h0m10 0h0m-62 1h0m32 0h0m9 1h0m66 0h0m-14 1h0m36 0h0m13 0h0m-42 2h0m-89 1h0m-21 2h0m116 1h0m-95 3h0m31 0h0m-44 1h0m5 0h0m-8 1h0m11 1h0m-6 1h0m6 0h0m134 1h0m-143 1h0m-2 1h0m39 0h0m-29 1h0m17 1h0m21 0h0m8 0h0m-14 1h0m53 0h0m-51 1h0m18 0h0m19 0h0m-40 1h0m35 0h0m8 1h0m-34 1h0m21 0h0m-39 1h0m1 0h0m88 0h0m-54 1h0m50 0h0m-110 1h0m88 0h0m-37 1h0m16 1h0m43 0h0m-29 2h0m20 0h0m1 1h0m-25 1h0m-74 1h0m111 0h0m-33 1h0m22 0h0m4 0h0m-53 1h0m12 0h0m12 0h0m-22 2h0m59 0h0m-7 1h0m-80 1h0m53 0h0m6 1h0m-19 1h0m35 0h0m-32 3h0m22 0h0m40 0h0m-58 1h0m20 0h0m-68 1h0m29 0h0m-7 1h0m-13 1h0m67 0h0m-6 1h0m17 1h0m-49 1h0m-47 1h0m109 0h0m-54 1h0m8 0h0m18 0h0m23 0h0m-74 1h0m6 0h0m47 0h0m4 0h0m-41 2h0m40 0h0m0 0h0m-58 2h0m16 0h0m-2 1h0m70 0h0m-69 1h0m31 0h0m-28 1h0m-51 1h0m72 0h0m27 0h0m-97 1h0m4 0h0m50 1h0m9 0h0m-45 1h0m12 1h0m10 0h0m-24 1h0m55 0h0m-41 1h0m33 1h0m11 0h0m-39 1h0m51 0h0m-24 1h0m28 0h0m-7 3h0m16 1h0m-56 1h0m43 0h0m-30 1h0m26 0h0m-46 2h0m2 1h0m44 0h0m-31 1h0m5 0h0m-22 2h0m58 2h0m4 0h0m-35 1h0m-51 1h0m33 1h0m27 0h0m-24 1h0m14 0h0m-16 1h0m-25 1h0m28 1h0m39 1h0m-60 1h0m46 0h0m-27 2h0m40 0h0m-58 1h0m53 1h0m-6 2h0" stroke="#66c2a5" stroke-width="3.00"/>
<path d="M318 124h0m11 3h0m4 8h0m-16 11h0m-14 2h0m39 2h0m-20 1h0m30 35h0m-228 11h0m13 9h0m-28 1h0m20 0h0m-34 1h0m255 0h0m-216 1h0m166 0h0m16 0h0m-213 1h0m24 0h0m-7 1h0m3 0h0m5 0h0m189 0h0m-221 1h0m2 0h0m35 0h0m246 0h0m-288 2h0m283 0h0m-275 1h0m57 0h0m-50 1h0m5 0h0m1 0h0m25 0h0m3 0h0m-41 1h0m29 0h0m-28 1h0m-13 1h0m1 0h0m233 0h0m-233 1h0m3 0h0m2 0h0m8 0h0m6 0h0m14 0h0m222 0h0m-255 1h0m50 0h0m-41 1h0m8 0h0m22 0h0m0 0h0m13 0h0m187 0h0m12 0h0m-251 1h0m36 0h0m12 0h0m-14 1h0m201 0h0m-242 1h0m1 0h0m14 0h0m27 0h0m19 0h0m198 0h0m-257 1h0m9 0h0m35 0h0m4 0h0m194 0h0m2 0h0m14 0h0m-260 1h0m8 0h0m6 0h0m19 0h0m8 0h0m20 0h0m-44 1h0m17 0h0m9 0h0m16 0h0m0 0h0m-49 1h0m36 0h0m5 0h0m0 0h0m3 0h0m202 0h0m-235 1h0m24 0h0m19 0h0m-12 1h0m200 1h0m-247 1h0m18 0h0m51 0h0m-55 1h0m3 0h0m223 0h0m5 0h0m-195 1h0m7 0h0m-59 1h0m6 1h0m14 0h0m-1 1h0m17 0h0m-25 1h0m6 0h0m18 0h0m6 0h0m14 0h0m2 0h0m-50 1h0m6 0h0m20 0h0m56 0h0m-36 1h0m-57 1h0m6 0h0m18 0h0m4 0h0m6 0h0m24 0h0m25 0h0m-53 1h0m20 0h0m-48 1h0m26 1h0m23 0h0m41 0h0m-69 1h0m-18 1h0m9 0h0m33 1h0m65 0h0m-26 1h0m22 0h0m5 0h0m-102 1h0m-1 1h0m0 0h0m20 0h0m81 0h0m83 0h0m-179 1h0m18 0h0m-16 1h0m87 0h0m-94 1h0m3 0h0m18 0h0m5 0h0m8 0h0m14 0h0m266 0h0m-312 1h0m1 0h0m19 0h0m14 0h0m-25 1h0m6 0h0m4 0h0m46 0h0m-68 1h0m45 0h0m22 0h0m5 0h0m-4 1h0m-33 1h0m-16 6h0m281 1h0m-288 1h0m-2 3h0m22 1h0m-26 4h0m-1 1h0m9 0h0m13 1h0m8 2h0m-35 1h0m19 0h0m14 1h0m16 0h0m-20 1h0m266 0h0m-271 1h0m-13 1h0m2 0h0m5 0h0m12 0h0m33 0h0m-30 1h0m-34 1h0m15 0h0m13 0h0m-20 2h0m3 0h0m10 0h0m8 0h0m0 0h0m3 0h0m10 0h0m-17 1h0m35 0h0m-55 1h0m18 0h0m9 0h0m-19 1h0m3 0h0m12 0h0m46 0h0m-76 1h0m12 0h0m3 0h0m5 1h0m22 0h0m13 0h0m16 0h0m2 0h0m4 0h0m-72 1h0m4 0h0m61 0h0m-65 1h0m34 0h0m8 0h0m20 0h0m-14 2h0m27 0h0m-16 1h0m-50 1h0m36 0h0m19 0h0m-62 1h0m7 0h0m13 1h0m16 0h0m18 0h0m-41 1h0m27 0h0m-21 1h0m45 0h0m-67 1h0m3 0h0m58 0h0m24 0h0m-62 1h0m-19 1h0m52 0h0m-12 1h0m6 2h0m16 0h0m8 1h0m-25 1h0m16 0h0m147 14h0m44 6h0m9 2h0m16 32h0m-46 21h0" stroke="#9e0142" stroke-width="3.00"/>
<path d="M374 240h0m-57 1h0m70 3h0m-88 1h0m77 0h0m-96 1h0m-4 2h0m11 1h0m85 0h0m11 1h0m-85 1h0m5 0h0m21 0h0m-59 1h0m9 1h0m15 0h0m-3 1h0m90 0h0m-104 2h0m17 0h0m5 0h0m14 0h0m-5 1h0m17 0h0m44 2h0m-56 1h0m-14 1h0m28 0h0m38 0h0m-27 1h0m45 0h0m15 0h0m-127 1h0m8 0h0m67 0h0m-80 1h0m52 0h0m7 0h0m-21 1h0m44 0h0m-44 1h0m3 0h0m47 0h0m-53 1h0m20 0h0m63 0h0m3 0h0m18 0h0m-93 1h0m-10 1h0m18 0h0m-38 1h0m-1 1h0m9 0h0m18 1h0m14 0h0m-7 1h0m21 0h0m-69 1h0m9 0h0m1 0h0m39 0h0m2 0h0m8 0h0m43 0h0m-89 1h0m75 0h0m-92 1h0m43 0h0m12 0h0m4 0h0m8 0h0m74 0h0m-145 1h0m10 0h0m36 0h0m64 0h0m12 0h0m-85 1h0m23 0h0m57 0h0m11 0h0m11 0h0m5 0h0m-137 1h0m4 0h0m116 0h0m10 0h0m-136 1h0m64 0h0m76 0h0m-138 1h0m99 0h0m-92 1h0m3 0h0m2 0h0m36 0h0m8 0h0m54 0h0m8 0h0m6 0h0m-112 1h0m1 0h0m42 0h0m14 0h0m39 0h0m-110 1h0m1 0h0m23 0h0m45 0h0m-68 1h0m5 0h0m18 0h0m62 0h0m62 0h0m-73 1h0m39 0h0m6 1h0m28 0h0m-139 1h0m68 0h0m40 0h0m-11 1h0m-85 2h0m7 0h0m11 1h0m18 0h0m-52 1h0m36 0h0m19 0h0m57 0h0m36 0h0m-150 1h0m36 0h0m-33 1h0m1 0h0m130 0h0m-13 1h0m24 0h0m-20 1h0m4 1h0m6 0h0m8 1h0m-136 1h0m6 0h0m44 0h0m-57 1h0m13 0h0m6 0h0m42 1h0m73 0h0m-86 1h0m83 1h0m22 0h0m-150 1h0m5 0h0m140 0h0m-111 1h0m88 0h0m-53 1h0m13 0h0m17 0h0m49 0h0m-82 1h0m3 0h0m-20 1h0m25 0h0m32 0h0m33 0h0m-127 1h0m30 0h0m4 0h0m10 0h0m1 0h0m67 0h0m-107 1h0m8 0h0m60 0h0m16 0h0m35 0h0m0 1h0m-130 1h0m42 0h0m27 0h0m60 0h0m-94 1h0m6 0h0m15 0h0m28 0h0m35 0h0m24 0h0m-130 1h0m27 0h0m25 0h0m6 0h0m35 0h0m9 0h0m-32 1h0m20 0h0m-68 1h0m53 0h0m-34 1h0m39 0h0m5 0h0m18 0h0m2 0h0m-100 1h0m13 0h0m47 0h0m0 0h0m32 0h0m7 0h0m5 0h0m-111 1h0m6 0h0m2 0h0m52 0h0m19 0h0m1 0h0m5 0h0m39 0h0m-84 1h0m7 0h0m27 0h0m8 0h0m6 0h0m3 0h0m18 0h0m21 0h0m-64 1h0m27 0h0m-54 1h0m46 0h0m17 0h0m14 0h0m-81 1h0m42 0h0m6 0h0m-69 1h0m19 0h0m37 0h0m20 0h0m21 0h0m10 0h0m-70 1h0m37 0h0m3 0h0m3 0h0m9 0h0m23 0h0m-112 1h0m35 0h0m32 0h0m20 0h0m-105 1h0m34 0h0m28 0h0m3 0h0m-46 1h0m10 0h0m5 0h0m13 0h0m27 0h0m21 0h0m3 0h0m-73 1h0m0 0h0m33 0h0m45 0h0m2 0h0m1 0h0m9 0h0m-123 1h0m16 0h0m29 0h0m18 0h0m21 0h0m4 0h0m4 0h0m9 0h0m31 0h0m-112 2h0m73 0h0m6 0h0m-82 1h0m52 0h0m45 0h0m13 0h0m7 0h0m-127 1h0m24 0h0m16 0h0m15 0h0m3 0h0m13 0h0m31 0h0m2 0h0m-70 1h0m4 0h0m6 0h0m60 0h0m1 0h0m0 0h0m2 0h0m18 0h0m-107 1h0m9 0h0m12 0h0m23 0h0m67 0h0m-107 1h0m19 0h0m49 0h0m-65 1h0m11 0h0m49 0h0m27 0h0m-97 1h0m4 0h0m84 0h0m-64 1h0m1 0h0m5 0h0m-20 1h0m0 0h0m78 0h0m-47 1h0m16 0h0m3 0h0m34 0h0m-74 1h0m64 0h0m15 0h0m-67 1h0m15 0h0m5 0h0m18 0h0m35 0h0m-56 1h0m55 0h0m3 0h0m-103 1h0m16 0h0m20 0h0m3 0h0m15 0h0m7 0h0m6 0h0m10 0h0m11 0h0m-56 1h0m34 0h0m28 0h0m-89 1h0m62 0h0m-36 1h0m34 0h0m6 0h0m12 0h0m9 0h0m5 0h0m-97 1h0m7 0h0m13 0h0m5 0h0m38 0h0m30 0h0m15 0h0m-62 1h0m4 0h0m14 0h0m25 0h0m0 0h0m6 0h0m-91 1h0m32 0h0m0 0h0m5 0h0m7 0h0m9 0h0m8 0h0m9 0h0m12 0h0m-93 1h0m8 0h0m20 0h0m42 0h0m1 0h0m7 0h0m-50 1h0m17 0h0m1 0h0m4 0h0m12 0h0m41 0h0m-96 1h0m14 0h0m14 0h0m14 0h0m11 0h0m2 0h0m26 0h0m4 0h0m-63 1h0m47 0h0m20 0h0m-65 1h0m11 0h0m9 0h0m19 0h0m18 0h0m-74 1h0m9 0h0m4 0h0m13 0h0m62 0h0m-26 1h0m2 0h0m25 0h0m-96 1h0m1 0h0m7 0h0m5 0h0m24 0h0m4 0h0m49 0h0m-67 1h0m15 0h0m7 0h0m48 0h0m-103 1h0m46 0h0m32 0h0m1 0h0m1 0h0m-73 1h0m4 0h0m-5 1h0m13 0h0m80 0h0m-95 1h0m3 0h0m22 0h0m3 0h0m9 0h0m54 0h0m8 0h0m-30 1h0m0 0h0m2 0h0m15 0h0m0 0h0m-48 1h0m23 0h0m6 0h0m13 0h0m0 0h0m30 0h0m-99 1h0m24 0h0m26 0h0m38 0h0m4 0h0m-63 1h0m4 0h0m9 0h0m40 0h0m-80 1h0m57 0h0m6 0h0m4 0h0m10 0h0m-70 1h0m5 0h0m36 0h0m6 0h0m12 0h0m-30 1h0m10 0h0m0 0h0m32 0h0m7 0h0m-80 1h0m27 0h0m15 0h0m38 0h0m1 0h0m0 0h0m-82 1h0m1 0h0m25 0h0m2 0h0m22 0h0m16 0h0m-32 1h0m31 0h0m-70 1h0m8 0h0m42 0h0m6 0h0m0 0h0m10 0h0m-66 1h0m1 0h0m35 0h0m41 0h0m7 0h0m-57 1h0m13 0h0m4 0h0m31 0h0m-61 1h0m0 0h0m16 0h0m2 0h0m-27 1h0m15 0h0m31 1h0m18 0h0m-6 1h0m24 0h0m-74 1h0m32 1h0m8 0h0m11 0h0m-48 1h0m36 0h0m8 0h0m20 0h0m-47 1h0m40 0h0m-38 1h0m27 0h0m-13 1h0m-26 1h0m0 1h0m6 1h0m-3 4h0" stroke="#abdda4" stroke-width="3.00"/>
<path d="M311 120h0m1 0h0m9 0h0m-19 1h0m2 0h0m15 0h0m-15 1h0m0 0h0m7 0h0m3 1h0m11 0h0m-38 1h0m0 1h0m14 0h0m7 0h0m-12 1h0m-5 1h0m2 0h0m1 0h0m34 0h0m-26 1h0m10 0h0m9 0h0m4 0h0m-19 1h0m22 0h0m-44 1h0m16 0h0m4 0h0m4 0h0m0 0h0m7 0h0m15 0h0m-43 2h0m16 0h0m-8 1h0m8 0h0m0 0h0m29 0h0m-50 1h0m1 0h0m21 0h0m10 0h0m-40 1h0m2 0h0m14 0h0m0 0h0m42 0h0m1 0h0m-48 1h0m6 0h0m18 0h0m18 0h0m-25 1h0m11 0h0m13 0h0m-51 1h0m10 0h0m1 0h0m3 0h0m2 0h0m18 0h0m7 0h0m18 0h0m0 0h0m6 0h0m-12 1h0m-51 1h0m62 0h0m-68 1h0m8 0h0m11 0h0m2 0h0m52 0h0m-52 1h0m6 0h0m6 0h0m49 0h0m-72 1h0m3 0h0m1 0h0m7 0h0m11 0h0m16 0h0m12 0h0m4 0h0m6 0h0m2 0h0m-31 1h0m34 0h0m0 0h0m1 0h0m2 0h0m-55 1h0m41 0h0m0 0h0m-22 1h0m9 0h0m0 0h0m10 0h0m2 0h0m-60 1h0m33 0h0m12 0h0m7 0h0m2 0h0m7 0h0m8 0h0m0 0h0m-56 1h0m60 0h0m4 0h0m-75 1h0m63 0h0m1 0h0m-64 1h0m4 0h0m27 0h0m27 0h0m25 0h0m-62 1h0m53 0h0m-60 1h0m40 0h0m1 0h0m1 0h0m6 0h0m13 0h0m2 0h0m-77 1h0m13 0h0m18 0h0m12 0h0m4 0h0m6 0h0m2 0h0m28 0h0m-76 1h0m4 0h0m2 0h0m12 0h0m1 0h0m21 0h0m7 0h0m6 0h0m3 0h0m10 0h0m-61 1h0m22 0h0m33 0h0m-54 1h0m3 0h0m11 0h0m3 0h0m7 0h0m0 0h0m6 0h0m4 0h0m-41 1h0m4 0h0m11 0h0m5 0h0m2 0h0m31 0h0m9 0h0m11 0h0m-49 1h0m7 0h0m53 0h0m-56 1h0m1 0h0m10 0h0m-32 1h0m40 0h0m38 0h0m-79 1h0m73 0h0m1 0h0m14 0h0m-10 1h0m-18 1h0m31 0h0m-38 1h0m-55 1h0m13 0h0m6 0h0m2 0h0m64 0h0m3 0h0m-74 1h0m6 0h0m32 0h0m37 0h0m-27 1h0m11 0h0m3 0h0m-42 1h0m50 0h0m-79 1h0m17 0h0m66 1h0m2 0h0m-11 1h0m5 0h0m0 0h0m-28 1h0m29 0h0m-67 1h0m29 0h0m-10 1h0m-8 1h0m8 0h0m46 0h0m-102 1h0m38 0h0m35 0h0m-19 1h0m-19 1h0m13 0h0m5 0h0m1 0h0m6 0h0m1 0h0m-19 1h0m17 0h0m33 0h0m-57 1h0m13 0h0m13 0h0m-10 1h0m10 0h0m-31 1h0m17 0h0m17 0h0m-68 2h0m17 0h0m35 0h0m1 0h0m4 0h0m30 0h0m10 0h0m-50 1h0m10 0h0m9 0h0m2 0h0m-26 1h0m46 0h0m1 0h0m18 0h0m-43 1h0m-49 1h0m37 0h0m5 0h0m25 0h0m10 0h0m8 0h0m-101 1h0m14 0h0m33 0h0m9 0h0m1 0h0m7 0h0m-63 1h0m7 0h0m12 1h0m38 0h0m30 0h0m-41 1h0m9 0h0m35 0h0m9 0h0m-87 1h0m1 0h0m40 0h0m3 1h0m38 1h0m5 0h0m2 0h0m-34 1h0m26 0h0m-67 1h0m85 0h0m-92 1h0m86 0h0m-62 1h0m-56 1h0m10 1h0m11 0h0m100 0h0m-117 1h0m4 0h0m2 0h0m10 0h0m11 0h0m-15 1h0m11 0h0m8 0h0m61 0h0m-90 1h0m109 0h0m11 0h0m-83 1h0m81 0h0m-92 1h0m64 0h0m-85 1h0m28 0h0m57 0h0m10 0h0m-93 1h0m13 0h0m40 1h0m36 1h0m-2 1h0m12 0h0m4 0h0m-32 1h0m35 1h0m-99 1h0m-9 1h0m7 1h0m58 0h0m39 0h0m4 0h0m0 0h0m-120 1h0m6 1h0m65 0h0m65 1h0m-110 1h0m17 0h0m-19 1h0m3 0h0m68 0h0m-75 1h0m2 0h0m5 0h0m79 0h0m24 0h0m-29 1h0m-87 1h0m15 1h0m29 0h0m-51 1h0m31 0h0m28 0h0m7 0h0m41 0h0m-90 1h0m19 0h0m-26 1h0m10 0h0m9 0h0m-5 1h0m110 0h0m-109 1h0m14 0h0m74 0h0m-53 1h0m72 1h0m12 0h0m-133 1h0m19 0h0m30 0h0m59 0h0m-3 1h0m-5 1h0m10 1h0m-33 1h0m-69 1h0m104 0h0m2 0h0m-13 1h0m34 0h0m-77 1h0m68 0h0m4 0h0m-2 1h0m-6 1h0m-53 1h0m68 0h0m-4 1h0m11 0h0m-124 1h0m45 0h0m48 0h0m12 0h0m-16 1h0m13 1h0m-22 1h0m10 0h0m3 0h0m0 0h0m2 0h0m15 0h0m-31 1h0m37 0h0m7 2h0m-42 1h0m8 0h0m5 0h0m4 0h0m1 1h0m1 2h0m13 0h0m13 0h0m-23 1h0m3 0h0m9 0h0m-21 1h0m10 0h0m3 0h0m0 1h0m-15 1h0m9 1h0m4 1h0m1 0h0m16 1h0m7 2h0m-13 2h0m-15 1h0m11 0h0m27 0h0m-23 1h0m1 0h0m-2 1h0m21 0h0m-28 2h0m5 2h0m9 0h0m0 0h0m5 1h0m-10 4h0m6 0h0m8 1h0m-18 13h0m7 1h0m-4 2h0m5 2h0m-4 4h0m9 2h0m-8 4h0m8 0h0m-5 3h0" stroke="#5e4fa2" stroke-width="3.00"/>
<path d="M309 120h0m6 0h0m-4 1h0m-1 1h0m-22 3h0m36 0h0m-15 1h0m-3 1h0m-12 5h0m24 0h0m-36 1h0m20 1h0m10 2h0m-1 3h0m-31 4h0m9 0h0m24 1h0m21 0h0m-33 1h0m-14 1h0m44 0h0m19 0h0m-53 2h0m47 1h0m-40 2h0m2 1h0m17 0h0m4 0h0m12 0h0m11 0h0m-58 1h0m61 1h0m-64 1h0m44 0h0m-54 1h0m24 1h0m10 3h0m39 0h0m22 0h0m-83 4h0m3 4h0m10 1h0m17 4h0m52 0h0m-30 1h0m14 0h0m-53 1h0m-34 6h0m104 0h0m-91 5h0m76 1h0m-90 1h0m9 0h0m24 0h0m11 0h0m-41 1h0m16 1h0m-36 2h0m19 0h0m1 0h0m69 0h0m-81 1h0m21 0h0m-25 2h0m6 0h0m17 0h0m-22 1h0m11 0h0m51 0h0m-65 1h0m9 0h0m13 0h0m16 1h0m-24 1h0m17 1h0m4 0h0m20 0h0m-37 1h0m3 0h0m64 0h0m-57 1h0m10 0h0m-9 1h0m-26 2h0m21 0h0m83 0h0m16 0h0m-108 3h0m3 0h0m12 0h0m-13 1h0m110 1h0m-111 1h0m1 0h0m1 0h0m3 0h0m45 0h0m-49 2h0m5 1h0m-19 1h0m10 0h0m72 0h0m-79 1h0m18 1h0m14 0h0m21 0h0m-51 3h0m7 0h0m84 1h0m-76 2h0m-18 1h0m9 1h0m50 1h0m-50 2h0m11 1h0m5 0h0m-14 1h0m83 1h0m-70 1h0m96 0h0m-58 1h0m-61 1h0m12 3h0m42 0h0m21 0h0m66 1h0m-30 4h0m18 2h0m0 1h0m-7 2h0m12 0h0m14 4h0m-35 5h0m33 2h0m3 1h0m-19 2h0m17 0h0m-4 1h0m-19 6h0m4 2h0m2 1h0m11 4h0m9 3h0m-16 4h0m15 10h0m-10 3h0m0 1h0m14 6h0" stroke="#3288bd" stroke-width="3.00"/>
<path d="M341 213h0m-16 1h0m-16 1h0m37 4h0m-10 4h0m-9 4h0m24 13h0m-90 2h0m28 1h0m11 0h0m-18 1h0m43 0h0m-57 1h0m24 1h0m15 0h0m46 0h0m-63 1h0m3 0h0m3 0h0m12 0h0m37 0h0m-62 2h0m2 0h0m0 0h0m56 1h0m-17 1h0m-44 1h0m69 0h0m29 0h0m-84 1h0m0 0h0m4 0h0m79 0h0m-36 1h0m-64 1h0m26 0h0m31 0h0m55 0h0m-42 1h0m-32 1h0m-16 1h0m-16 2h0m101 1h0m-122 1h0m14 0h0m25 1h0m67 0h0m-6 1h0m-75 1h0m19 0h0m12 0h0m2 0h0m39 0h0m2 0h0m39 0h0m-121 1h0m83 0h0m38 0h0m-145 2h0m149 0h0m-125 1h0m41 0h0m58 0h0m-120 1h0m43 0h0m20 0h0m38 0h0m-39 1h0m19 0h0m-39 1h0m61 0h0m7 0h0m10 0h0m-120 1h0m8 0h0m30 0h0m17 0h0m49 0h0m25 1h0m-114 1h0m5 0h0m58 0h0m22 0h0m-31 1h0m8 0h0m19 0h0m-30 2h0m18 0h0m33 1h0m6 0h0m10 0h0m-96 1h0m-27 1h0m45 0h0m37 0h0m27 0h0m-17 1h0m27 0h0m-41 1h0m5 0h0m13 0h0m26 0h0m14 0h0m-140 1h0m12 0h0m20 0h0m15 0h0m30 0h0m-66 1h0m35 1h0m-46 1h0m118 0h0m17 0h0m-59 1h0m39 0h0m-12 1h0m14 0h0m-114 1h0m53 0h0m-44 1h0m13 0h0m93 0h0m-123 1h0m6 1h0m3 0h0m138 0h0m-68 1h0m-72 1h0m125 0h0m-121 1h0m4 0h0m60 0h0m-67 2h0m125 0h0m-133 1h0m5 0h0m1 0h0m3 0h0m123 0h0m18 0h0m-135 1h0m76 0h0m53 0h0m-149 1h0m13 0h0m109 0h0m17 0h0m4 0h0m-121 1h0m51 0h0m-65 1h0m145 0h0m-139 1h0m3 0h0m8 0h0m27 0h0m2 0h0m-17 1h0m19 0h0m22 0h0m39 0h0m26 0h0m-94 1h0m39 0h0m-7 1h0m51 0h0m-121 1h0m6 0h0m4 0h0m28 0h0m48 1h0m32 0h0m-63 1h0m3 0h0m6 0h0m-1 1h0m15 0h0m10 0h0m14 0h0m-18 1h0m1 0h0m31 0h0m16 0h0m1 0h0m-125 1h0m36 0h0m23 0h0m3 0h0m11 0h0m-77 1h0m18 0h0m2 0h0m6 0h0m7 0h0m10 0h0m65 0h0m-50 1h0m13 0h0m22 0h0m7 0h0m-108 1h0m20 0h0m2 0h0m26 0h0m48 0h0m28 0h0m17 0h0m-87 1h0m19 0h0m17 0h0m22 0h0m16 0h0m11 0h0m-91 1h0m29 0h0m31 0h0m5 0h0m16 0h0m-100 1h0m19 0h0m14 0h0m55 0h0m18 0h0m-101 1h0m14 0h0m16 0h0m5 0h0m1 0h0m43 0h0m18 0h0m7 0h0m-71 1h0m-6 1h0m9 0h0m21 0h0m9 0h0m37 0h0m-122 1h0m24 0h0m9 0h0m62 0h0m2 0h0m-37 1h0m13 0h0m-75 1h0m18 0h0m17 0h0m1 0h0m25 0h0m14 0h0m1 0h0m13 0h0m4 0h0m32 0h0m-64 1h0m0 0h0m35 0h0m11 0h0m-55 1h0m38 0h0m17 0h0m18 0h0m-73 1h0m24 0h0m47 0h0m-120 1h0m36 0h0m2 0h0m4 0h0m25 0h0m2 0h0m13 0h0m28 0h0m5 0h0m-98 1h0m8 0h0m38 0h0m36 0h0m14 0h0m19 0h0m-118 1h0m70 0h0m6 0h0m14 0h0m13 0h0m-69 1h0m14 0h0m10 0h0m22 0h0m8 0h0m23 0h0m-74 1h0m3 0h0m70 0h0m-117 1h0m21 0h0m96 0h0m-114 1h0m2 0h0m21 0h0m18 0h0m20 0h0m28 0h0m27 0h0m-117 1h0m21 0h0m12 0h0m58 0h0m-59 1h0m8 0h0m6 0h0m21 0h0m41 0h0m-107 1h0m15 0h0m11 0h0m24 0h0m4 0h0m5 0h0m2 0h0m2 0h0m3 0h0m43 0h0m-100 1h0m55 0h0m-65 1h0m12 0h0m27 0h0m1 0h0m15 0h0m48 0h0m-89 1h0m76 0h0m3 0h0m-66 1h0m13 0h0m41 0h0m1 0h0m39 0h0m-106 1h0m39 0h0m30 0h0m15 0h0m-95 1h0m9 0h0m13 0h0m21 0h0m23 0h0m52 0h0m-108 1h0m33 0h0m15 0h0m-54 1h0m8 0h0m58 0h0m15 0h0m1 0h0m10 0h0m-92 1h0m26 0h0m24 1h0m7 0h0m14 1h0m10 0h0m6 0h0m-102 1h0m6 0h0m31 0h0m4 0h0m54 0h0m3 0h0m-30 1h0m36 0h0m6 0h0m-82 1h0m1 0h0m28 0h0m20 0h0m-69 1h0m26 0h0m5 0h0m6 0h0m51 0h0m2 0h0m12 0h0m-76 1h0m16 0h0m4 0h0m22 0h0m28 0h0m-95 1h0m6 0h0m85 0h0m-51 1h0m63 0h0m-100 1h0m14 0h0m2 0h0m38 0h0m36 0h0m-88 1h0m13 0h0m74 0h0m-84 1h0m9 0h0m12 0h0m30 0h0m35 0h0m-91 1h0m3 0h0m7 0h0m95 0h0m-79 1h0m18 0h0m4 0h0m5 0h0m5 0h0m29 0h0m-90 1h0m3 0h0m9 0h0m3 0h0m9 0h0m2 0h0m61 0h0m-92 1h0m26 0h0m6 0h0m55 0h0m0 0h0m-68 1h0m29 0h0m5 0h0m28 0h0m6 0h0m8 0h0m-88 1h0m50 0h0m-50 1h0m8 0h0m95 0h0m-100 1h0m2 0h0m15 0h0m29 0h0m0 0h0m18 0h0m-61 1h0m43 0h0m4 0h0m21 0h0m12 0h0m7 0h0m-92 1h0m23 0h0m35 0h0m0 0h0m4 0h0m-61 1h0m3 0h0m11 0h0m19 0h0m12 0h0m35 0h0m10 0h0m11 0h0m-65 1h0m24 0h0m17 0h0m5 0h0m13 1h0m-29 1h0m-61 1h0m4 0h0m72 0h0m9 0h0m-80 1h0m25 0h0m50 0h0m-65 1h0m53 0h0m13 0h0m-75 1h0m1 0h0m10 0h0m39 0h0m25 0h0m-56 1h0m3 0h0m45 0h0m13 0h0m6 0h0m-79 1h0m35 0h0m-12 1h0m39 0h0m13 0h0m-28 1h0m-44 1h0m23 0h0m17 0h0m-4 1h0m22 0h0m5 0h0m-34 1h0m10 0h0m5 0h0m9 1h0m-26 2h0m31 0h0m3 0h0m-40 1h0m-7 1h0m22 0h0m3 0h0m27 0h0m-28 1h0m16 6h0m-48 1h0" stroke="#e6f598" stroke-width="3.00"/>
<path d="M326 128h0m-26 6h0m42 17h0m-22 4h0m-22 6h0m8 0h0m30 2h0m-54 26h0m-143 7h0m193 4h0m-218 6h0m15 0h0m32 0h0m-59 2h0m22 0h0m19 3h0m-49 1h0m38 0h0m10 1h0m169 0h0m-166 1h0m1 0h0m-53 1h0m11 0h0m212 0h0m28 0h0m-241 1h0m206 0h0m15 0h0m-226 1h0m32 0h0m1 0h0m26 0h0m-57 1h0m-9 1h0m233 0h0m14 0h0m-250 1h0m34 0h0m-30 1h0m39 0h0m-47 1h0m36 0h0m-18 1h0m3 0h0m223 0h0m14 0h0m-241 2h0m22 0h0m16 0h0m5 1h0m179 0h0m-243 1h0m11 0h0m19 0h0m-25 1h0m28 1h0m17 0h0m196 0h0m7 0h0m43 0h0m-244 1h0m198 0h0m-242 1h0m41 0h0m22 0h0m172 1h0m-239 1h0m32 0h0m-34 1h0m37 0h0m37 0h0m11 0h0m-64 2h0m21 0h0m8 0h0m-39 2h0m11 0h0m3 0h0m2 0h0m0 0h0m1 0h0m33 0h0m15 0h0m-62 1h0m29 0h0m2 0h0m4 1h0m22 1h0m1 0h0m-2 2h0m6 0h0m-60 1h0m26 0h0m69 0h0m-86 1h0m8 0h0m43 1h0m5 0h0m-43 2h0m-33 1h0m41 0h0m59 0h0m5 1h0m-66 1h0m25 0h0m-58 1h0m8 0h0m11 1h0m14 0h0m-38 1h0m7 0h0m10 0h0m72 0h0m-40 1h0m25 0h0m13 0h0m118 0h0m-208 1h0m5 0h0m14 0h0m15 1h0m37 3h0m-51 5h0m53 0h0m-65 1h0m5 3h0m4 1h0m-2 1h0m-5 1h0m18 0h0m-2 1h0m-26 2h0m17 0h0m10 1h0m-22 1h0m44 0h0m-47 1h0m0 1h0m48 1h0m10 2h0m-33 2h0m-2 1h0m33 0h0m8 0h0m-36 1h0m20 0h0m-51 1h0m5 0h0m14 0h0m16 0h0m29 1h0m5 0h0m-61 2h0m17 0h0m53 0h0m-29 1h0m-42 1h0m13 0h0m29 1h0m28 0h0m-15 1h0m2 0h0m262 0h0m-300 1h0m-9 1h0m70 2h0m-50 1h0m41 0h0m-72 2h0m16 0h0m-21 1h0m54 0h0m8 0h0m-57 3h0m16 0h0m70 0h0m-18 1h0m-53 2h0m2 2h0m36 1h0m246 23h0" stroke="#fdae61" stroke-width="3.00"/>
<path d="M293 125h0m48 11h0m-68 4h0m49 0h0m19 12h0m-11 20h0m-51 21h0m-140 4h0m-5 4h0m-16 1h0m-6 3h0m3 1h0m7 2h0m12 0h0m28 0h0m-63 1h0m5 0h0m24 0h0m15 0h0m163 0h0m-201 1h0m17 0h0m12 0h0m5 0h0m18 2h0m159 0h0m0 1h0m-208 1h0m-19 3h0m8 1h0m42 0h0m-42 1h0m16 0h0m33 0h0m9 0h0m-64 2h0m15 0h0m6 2h0m3 0h0m7 0h0m196 0h0m-190 1h0m1 1h0m221 0h0m-236 1h0m202 0h0m-219 1h0m18 0h0m18 0h0m-12 1h0m-11 1h0m27 0h0m-3 1h0m-27 1h0m22 0h0m9 0h0m186 0h0m-236 1h0m10 0h0m22 0h0m-9 1h0m38 0h0m-46 1h0m43 0h0m9 0h0m-31 1h0m-16 1h0m213 0h0m3 0h0m-246 1h0m25 0h0m5 0h0m0 0h0m3 0h0m22 0h0m-51 1h0m34 0h0m36 0h0m-64 1h0m17 0h0m6 0h0m38 0h0m-46 1h0m39 0h0m34 0h0m-99 1h0m41 0h0m12 0h0m28 0h0m15 0h0m-81 1h0m21 0h0m73 0h0m-75 1h0m69 0h0m-89 1h0m21 0h0m69 0h0m1 0h0m-103 1h0m80 0h0m-65 1h0m34 1h0m-17 1h0m10 0h0m2 0h0m7 0h0m43 0h0m13 0h0m-77 1h0m9 0h0m9 0h0m-9 1h0m-36 1h0m5 0h0m64 0h0m-59 1h0m39 0h0m4 0h0m29 0h0m-82 1h0m37 0h0m-27 1h0m43 0h0m24 1h0m27 0h0m-54 1h0m7 1h0m-21 1h0m2 0h0m1 0h0m37 0h0m-57 1h0m12 1h0m14 0h0m22 7h0m-62 3h0m1 1h0m281 1h0m-283 1h0m5 0h0m1 0h0m8 0h0m15 0h0m-1 1h0m-14 1h0m6 0h0m35 1h0m-35 1h0m2 1h0m1 1h0m26 0h0m-49 1h0m33 0h0m16 0h0m8 0h0m218 1h0m-266 1h0m8 2h0m-15 1h0m33 0h0m24 0h0m-53 1h0m17 0h0m7 0h0m6 0h0m-34 1h0m31 0h0m-4 1h0m8 0h0m31 0h0m-54 1h0m8 0h0m16 0h0m-31 1h0m16 0h0m40 1h0m-49 1h0m18 0h0m-33 1h0m16 0h0m59 0h0m100 0h0m-138 1h0m9 0h0m-34 2h0m7 0h0m0 0h0m0 0h0m-14 1h0m1 0h0m43 0h0m33 0h0m-83 1h0m22 1h0m37 0h0m24 0h0m0 1h0m-32 1h0m-1 3h0m-21 1h0m22 0h0m16 0h0m-9 2h0m1 0h0m-29 1h0m-10 2h0m212 26h0m16 52h0" stroke="#fdae61" stroke-width="3.00"/>
<path d="M276 184h0m10 8h0m45 16h0m-10 1h0m-4 3h0m8 2h0m-9 4h0m-6 4h0m17 3h0m-10 4h0m-2 1h0m16 0h0m0 3h0m-12 3h0m46 6h0m-87 2h0m103 0h0m-43 2h0m-27 1h0m20 0h0m-18 1h0m-58 1h0m39 1h0m26 0h0m4 0h0m55 0h0m-104 1h0m41 0h0m6 2h0m0 0h0m47 0h0m-71 1h0m4 0h0m-45 1h0m97 0h0m26 0h0m-14 1h0m3 0h0m-73 1h0m11 0h0m80 0h0m-119 1h0m110 0h0m-90 1h0m21 0h0m41 2h0m-31 1h0m29 0h0m-52 1h0m49 0h0m35 0h0m-30 1h0m18 0h0m-66 1h0m65 0h0m19 0h0m-123 1h0m91 0h0m38 0h0m-127 1h0m63 0h0m-23 2h0m30 1h0m24 0h0m14 0h0m6 0h0m14 0h0m-125 1h0m18 0h0m28 0h0m1 0h0m20 0h0m24 0h0m-32 1h0m32 0h0m33 0h0m-130 1h0m6 0h0m7 0h0m83 0h0m13 0h0m-116 1h0m107 0h0m20 0h0m-122 1h0m35 0h0m2 1h0m29 0h0m-69 1h0m46 0h0m49 0h0m6 0h0m19 0h0m3 0h0m-117 1h0m4 0h0m7 0h0m94 0h0m-107 1h0m7 0h0m81 0h0m-79 1h0m39 0h0m4 0h0m-55 1h0m4 0h0m8 0h0m15 1h0m27 0h0m92 0h0m-138 1h0m94 0h0m6 0h0m-15 1h0m-93 1h0m54 0h0m-3 1h0m53 0h0m6 0h0m-57 1h0m94 0h0m8 1h0m-155 1h0m8 0h0m104 0h0m-111 1h0m105 0h0m2 0h0m34 0h0m-147 1h0m18 0h0m1 0h0m97 0h0m15 0h0m-60 1h0m72 0h0m-144 2h0m16 0h0m5 0h0m10 1h0m108 0h0m7 0h0m-142 2h0m139 1h0m-117 1h0m90 0h0m-40 1h0m41 0h0m30 0h0m-136 1h0m12 0h0m54 0h0m-72 1h0m8 0h0m126 0h0m6 0h0m16 0h0m-157 1h0m11 1h0m47 0h0m3 0h0m4 0h0m85 1h0m-141 1h0m16 0h0m3 0h0m116 0h0m-135 1h0m41 0h0m4 0h0m31 0h0m3 0h0m10 0h0m24 1h0m-79 1h0m27 0h0m10 0h0m70 0h0m-143 1h0m7 0h0m4 0h0m0 0h0m23 0h0m-28 1h0m88 0h0m22 0h0m0 0h0m15 0h0m8 0h0m-137 1h0m8 0h0m35 0h0m15 0h0m10 0h0m73 0h0m-92 1h0m57 0h0m-62 1h0m33 0h0m14 0h0m15 0h0m-68 1h0m4 0h0m8 0h0m38 0h0m12 0h0m-83 1h0m23 0h0m33 0h0m24 0h0m-80 1h0m9 0h0m12 0h0m66 0h0m27 0h0m-68 1h0m26 0h0m36 0h0m4 0h0m-98 1h0m13 0h0m16 0h0m12 0h0m38 0h0m-3 1h0m10 0h0m-68 1h0m12 0h0m1 0h0m31 0h0m21 0h0m30 0h0m-57 1h0m22 0h0m11 0h0m9 0h0m-71 1h0m0 0h0m17 0h0m31 0h0m16 0h0m-70 1h0m6 0h0m7 0h0m13 0h0m6 0h0m14 0h0m15 0h0m15 0h0m-89 1h0m21 0h0m33 0h0m-27 1h0m27 0h0m22 1h0m15 0h0m13 0h0m-97 1h0m17 0h0m73 0h0m-98 1h0m33 0h0m29 0h0m10 0h0m31 0h0m-58 1h0m31 0h0m20 0h0m-52 1h0m5 0h0m15 0h0m5 0h0m19 0h0m12 0h0m5 0h0m-123 1h0m33 0h0m56 0h0m6 0h0m8 0h0m-32 1h0m21 0h0m2 0h0m1 0h0m-92 1h0m36 0h0m1 0h0m80 0h0m-107 1h0m4 0h0m4 0h0m6 0h0m14 0h0m3 0h0m8 0h0m33 0h0m3 0h0m-96 1h0m29 0h0m27 0h0m6 0h0m3 0h0m9 0h0m3 0h0m7 0h0m16 0h0m-46 1h0m67 0h0m-107 1h0m10 0h0m13 0h0m29 0h0m36 0h0m22 0h0m1 0h0m-40 1h0m7 0h0m14 0h0m-82 1h0m18 0h0m15 0h0m21 0h0m15 0h0m1 0h0m17 0h0m-76 1h0m16 0h0m1 0h0m11 0h0m5 0h0m8 0h0m13 0h0m-73 1h0m47 0h0m4 0h0m17 1h0m20 0h0m3 0h0m13 0h0m-86 1h0m71 1h0m4 0h0m11 0h0m8 0h0m-82 1h0m17 0h0m16 0h0m23 0h0m-70 1h0m60 0h0m4 0h0m3 0h0m-83 1h0m15 0h0m15 0h0m3 0h0m10 0h0m24 0h0m6 0h0m13 0h0m6 0h0m-69 1h0m41 0h0m-64 1h0m70 0h0m21 0h0m1 0h0m5 0h0m-86 1h0m7 0h0m2 0h0m32 0h0m28 0h0m-62 1h0m22 0h0m8 0h0m-37 1h0m4 0h0m34 0h0m-51 1h0m35 0h0m17 0h0m45 0h0m8 0h0m1 0h0m-112 1h0m18 0h0m33 0h0m2 0h0m30 0h0m7 0h0m-34 1h0m34 0h0m12 0h0m-38 1h0m7 0h0m41 0h0m-103 1h0m6 0h0m5 0h0m4 0h0m6 0h0m12 0h0m3 0h0m7 0h0m1 0h0m6 0h0m45 0h0m-98 1h0m29 0h0m27 0h0m46 0h0m-83 1h0m19 0h0m3 0h0m12 0h0m24 0h0m6 0h0m-43 1h0m9 0h0m36 0h0m10 0h0m-99 1h0m58 0h0m12 0h0m8 0h0m-56 1h0m28 0h0m1 0h0m52 0h0m-68 1h0m31 0h0m1 0h0m-65 1h0m16 0h0m4 0h0m40 0h0m25 0h0m-31 1h0m46 0h0m-71 1h0m10 0h0m16 0h0m2 0h0m6 0h0m7 0h0m10 0h0m1 0h0m0 0h0m0 0h0m14 0h0m2 0h0m7 0h0m-91 1h0m40 0h0m6 0h0m12 0h0m2 0h0m22 0h0m-77 1h0m33 0h0m21 0h0m-52 1h0m77 0h0m-72 1h0m42 0h0m40 0h0m-73 1h0m22 0h0m42 0h0m-95 1h0m7 0h0m32 0h0m11 1h0m-49 1h0m79 0h0m-78 1h0m19 0h0m18 0h0m26 0h0m9 0h0m11 0h0m-44 1h0m-29 1h0m7 0h0m53 0h0m-37 1h0m31 0h0m4 0h0m4 0h0m-34 1h0m-2 1h0m14 0h0m5 0h0m6 0h0m-27 1h0m22 0h0m-2 1h0m4 1h0m10 0h0m-17 2h0m3 1h0m1 0h0m11 0h0m-40 2h0m14 0h0m21 0h0m13 1h0m-2 1h0m-51 1h0" stroke="#e6f598" stroke-width="3.00"/>
<path d="M307 112h0m-3 5h0m-5 1h0m15 3h0m-21 3h0m17 1h0m18 0h0m-5 2h0m-34 1h0m16 1h0m5 2h0m9 0h0m-14 1h0m12 0h0m-29 1h0m31 0h0m-37 2h0m-4 1h0m12 0h0m23 0h0m-13 2h0m46 0h0m-37 1h0m-32 2h0m66 0h0m-63 5h0m22 0h0m32 0h0m-18 1h0m9 1h0m10 0h0m1 0h0m-24 1h0m40 0h0m-73 2h0m24 1h0m-25 2h0m31 0h0m1 0h0m39 0h0m10 0h0m-69 1h0m6 3h0m10 1h0m57 2h0m7 1h0m-7 2h0m-48 1h0m4 1h0m1 5h0m-4 2h0m42 4h0m-41 1h0m31 3h0m-26 1h0m7 0h0m-72 2h0m10 1h0m3 0h0m70 0h0m10 0h0m10 0h0m-103 1h0m9 0h0m46 0h0m-44 1h0m51 0h0m-59 1h0m15 0h0m-24 1h0m21 0h0m0 3h0m-15 2h0m22 0h0m82 0h0m-80 1h0m7 1h0m-15 1h0m-19 1h0m16 1h0m48 0h0m-15 2h0m-37 1h0m6 0h0m11 1h0m5 0h0m-18 1h0m11 1h0m-15 1h0m6 0h0m30 0h0m-31 2h0m-4 1h0m8 0h0m-1 1h0m-16 1h0m58 1h0m37 0h0m-89 1h0m11 2h0m8 1h0m-19 1h0m-7 1h0m1 0h0m2 0h0m11 0h0m62 1h0m-60 1h0m-2 1h0m-9 2h0m6 0h0m8 0h0m-8 1h0m-7 1h0m2 0h0m3 2h0m8 0h0m9 0h0m-1 1h0m106 0h0m-124 2h0m11 1h0m100 0h0m-9 1h0m23 0h0m-55 5h0m34 0h0m0 1h0m25 2h0m2 0h0m-105 3h0m70 0h0m7 0h0m14 0h0m2 0h0m11 0h0m-17 4h0m20 1h0m-7 2h0m3 4h0m12 0h0m-8 2h0m20 0h0m-39 2h0m24 0h0m-8 2h0m5 2h0m-5 20h0m10 8h0m5 12h0m1 11h0m2 6h0" stroke="#3288bd" stroke-width="3.00"/>
<path d="M313 116h0m-6 4h0m3 0h0m-23 1h0m0 0h0m30 0h0m-5 1h0m-18 1h0m14 0h0m-16 2h0m9 1h0m33 1h0m-3 1h0m-49 1h0m2 0h0m1 0h0m3 0h0m2 0h0m26 0h0m13 0h0m-23 1h0m3 0h0m1 0h0m-18 1h0m20 0h0m5 0h0m3 0h0m2 0h0m0 0h0m-25 1h0m31 0h0m0 0h0m-36 1h0m23 0h0m17 0h0m3 0h0m-50 2h0m7 0h0m18 0h0m13 0h0m-42 1h0m41 0h0m22 0h0m-66 1h0m24 0h0m2 0h0m14 0h0m-27 1h0m4 0h0m43 0h0m2 0h0m-50 1h0m8 0h0m6 0h0m23 0h0m3 0h0m3 0h0m4 0h0m0 0h0m-36 1h0m6 0h0m34 0h0m3 0h0m-62 1h0m60 0h0m-41 1h0m5 0h0m36 0h0m2 0h0m-54 1h0m4 0h0m1 0h0m1 0h0m54 0h0m2 0h0m-6 2h0m-71 2h0m27 0h0m14 0h0m3 0h0m5 0h0m1 0h0m18 0h0m-67 1h0m61 0h0m6 0h0m-23 1h0m19 0h0m-17 1h0m5 0h0m24 0h0m-64 1h0m4 0h0m12 1h0m2 0h0m3 0h0m12 0h0m11 0h0m19 0h0m9 0h0m-61 1h0m29 0h0m8 0h0m21 0h0m-71 1h0m43 0h0m12 0h0m0 0h0m7 0h0m4 0h0m7 0h0m9 0h0m-90 1h0m40 0h0m1 0h0m4 0h0m14 0h0m0 0h0m3 0h0m1 0h0m8 0h0m23 0h0m2 0h0m-73 1h0m30 0h0m39 0h0m-61 1h0m3 0h0m-12 1h0m3 0h0m16 0h0m52 0h0m-64 1h0m0 0h0m5 0h0m4 0h0m19 0h0m28 0h0m3 0h0m-73 1h0m10 0h0m24 0h0m-23 1h0m72 0h0m-13 1h0m-60 1h0m11 0h0m-46 1h0m42 0h0m46 0h0m-8 1h0m22 0h0m-25 1h0m6 0h0m11 0h0m10 0h0m-81 1h0m13 0h0m-6 1h0m6 0h0m57 0h0m7 0h0m11 0h0m-57 1h0m1 1h0m-9 1h0m9 0h0m9 0h0m-4 2h0m1 0h0m43 0h0m-1 1h0m-47 1h0m-54 1h0m39 0h0m-6 1h0m16 0h0m26 0h0m-60 1h0m35 0h0m3 0h0m45 0h0m-48 1h0m10 0h0m5 1h0m21 0h0m-77 1h0m34 0h0m6 0h0m-13 1h0m40 0h0m-43 1h0m9 0h0m5 0h0m12 0h0m-69 1h0m43 0h0m21 0h0m-57 1h0m44 0h0m3 0h0m9 0h0m6 0h0m40 0h0m-77 1h0m23 0h0m1 0h0m4 0h0m-42 2h0m29 0h0m6 0h0m-39 1h0m33 0h0m1 0h0m8 0h0m41 0h0m-76 1h0m6 0h0m39 0h0m19 0h0m-37 1h0m1 0h0m0 0h0m12 0h0m3 0h0m0 0h0m3 0h0m35 0h0m-97 1h0m17 0h0m28 0h0m8 0h0m1 0h0m-60 1h0m47 0h0m2 0h0m-42 1h0m3 0h0m14 0h0m6 0h0m-24 1h0m23 1h0m10 0h0m4 1h0m-44 1h0m21 0h0m70 0h0m-93 3h0m105 0h0m7 1h0m-101 1h0m10 0h0m97 0h0m-83 1h0m21 0h0m45 0h0m4 1h0m-97 1h0m6 0h0m9 0h0m-2 1h0m-11 2h0m92 0h0m4 2h0m-104 1h0m56 0h0m21 0h0m-62 1h0m6 0h0m-9 1h0m4 0h0m1 0h0m51 0h0m29 0h0m-87 1h0m-5 1h0m17 0h0m98 1h0m-111 1h0m50 0h0m12 1h0m-70 1h0m14 0h0m67 0h0m-75 1h0m14 0h0m105 1h0m-120 1h0m6 0h0m-2 1h0m35 0h0m12 0h0m14 0h0m25 1h0m26 0h0m-109 1h0m-8 1h0m4 0h0m7 0h0m90 1h0m-104 1h0m83 0h0m3 0h0m40 0h0m2 0h0m-17 1h0m-93 1h0m51 0h0m57 0h0m-105 1h0m23 0h0m68 0h0m-41 1h0m42 0h0m11 0h0m-124 2h0m30 0h0m94 0h0m-80 1h0m93 0h0m-102 1h0m3 0h0m27 0h0m45 0h0m1 0h0m7 0h0m-77 1h0m11 0h0m65 0h0m22 0h0m7 0h0m-18 1h0m6 0h0m-32 1h0m12 2h0m-45 1h0m42 0h0m5 0h0m5 1h0m10 0h0m20 0h0m-8 1h0m-12 1h0m5 0h0m-5 1h0m5 0h0m-34 1h0m12 0h0m20 0h0m6 1h0m4 2h0m-14 1h0m21 0h0m-35 1h0m3 0h0m17 0h0m10 0h0m-12 1h0m6 0h0m-16 1h0m-5 1h0m5 4h0m6 0h0m17 1h0m-9 2h0m-7 1h0m7 0h0m4 1h0m0 1h0m7 0h0m5 1h0m-16 1h0m-9 2h0m25 1h0m9 0h0m-16 2h0m1 0h0m9 0h0m-4 1h0m2 0h0m-2 1h0m-18 1h0m21 0h0m-10 3h0m6 0h0m-15 1h0m5 2h0m2 0h0m7 0h0m-10 2h0m4 2h0m-1 2h0m-3 6h0m12 0h0m-13 8h0m11 0h0m-5 1h0" stroke="#5e4fa2" stroke-width="3.00"/>
<path d="M320 237h0m15 0h0m-42 6h0m77 0h0m-69 1h0m2 0h0m36 0h0m33 0h0m-24 1h0m-28 1h0m22 0h0m-63 1h0m22 4h0m27 0h0m47 0h0m-59 1h0m35 0h0m-78 1h0m9 0h0m118 0h0m-144 1h0m61 0h0m54 0h0m14 1h0m-4 1h0m-41 1h0m-74 1h0m17 0h0m3 1h0m85 0h0m-80 1h0m115 1h0m-102 1h0m12 1h0m-7 1h0m46 0h0m-70 1h0m26 0h0m34 0h0m-83 1h0m49 0h0m-3 1h0m64 1h0m12 0h0m-85 1h0m3 0h0m3 0h0m3 0h0m27 0h0m17 0h0m18 0h0m-73 1h0m66 0h0m-62 1h0m9 0h0m3 0h0m85 0h0m-100 1h0m3 0h0m-26 1h0m30 0h0m-41 1h0m52 0h0m4 0h0m4 0h0m52 0h0m8 1h0m-111 1h0m89 0h0m-43 1h0m2 0h0m2 0h0m20 0h0m-69 1h0m86 0h0m23 0h0m-78 1h0m12 0h0m26 0h0m-69 1h0m31 0h0m58 0h0m-98 1h0m8 0h0m1 0h0m32 0h0m65 0h0m9 0h0m-16 1h0m-71 1h0m66 0h0m49 0h0m-134 1h0m45 0h0m40 0h0m10 0h0m33 0h0m-145 1h0m40 0h0m63 0h0m-85 1h0m61 0h0m-62 1h0m60 0h0m2 0h0m6 0h0m-79 1h0m18 0h0m85 0h0m29 0h0m-128 1h0m105 0h0m33 0h0m-91 1h0m93 0h0m-119 1h0m30 0h0m1 0h0m54 0h0m17 0h0m-45 1h0m38 0h0m-124 1h0m57 0h0m4 0h0m32 0h0m10 0h0m-91 1h0m8 0h0m-23 1h0m92 0h0m-72 1h0m101 1h0m15 0h0m-116 1h0m63 1h0m56 0h0m-128 1h0m1 0h0m20 0h0m42 0h0m68 0h0m-124 1h0m53 0h0m74 0h0m3 0h0m1 0h0m-5 1h0m-134 1h0m3 0h0m127 0h0m7 0h0m-143 1h0m2 0h0m124 0h0m16 0h0m3 0h0m-134 1h0m16 0h0m8 0h0m25 0h0m-9 1h0m26 0h0m6 0h0m-82 1h0m14 0h0m37 0h0m1 0h0m15 0h0m-64 1h0m84 0h0m16 0h0m15 0h0m-93 1h0m28 0h0m3 0h0m20 0h0m38 0h0m-115 1h0m20 0h0m3 0h0m34 0h0m19 0h0m17 0h0m-87 1h0m34 0h0m2 0h0m-33 1h0m59 0h0m14 0h0m3 0h0m12 0h0m26 0h0m12 0h0m2 0h0m6 0h0m-65 1h0m-66 1h0m2 0h0m85 0h0m4 0h0m21 0h0m22 0h0m-138 1h0m43 0h0m10 0h0m8 0h0m30 0h0m36 0h0m-126 1h0m20 0h0m23 0h0m22 0h0m12 0h0m38 0h0m-119 1h0m3 0h0m17 0h0m17 0h0m15 0h0m10 0h0m32 0h0m21 0h0m2 0h0m6 0h0m23 0h0m-59 1h0m33 0h0m23 0h0m-140 1h0m29 0h0m18 0h0m32 0h0m6 0h0m14 0h0m2 0h0m6 0h0m3 0h0m-95 1h0m22 0h0m73 0h0m-103 1h0m52 0h0m8 0h0m32 0h0m10 0h0m6 0h0m9 0h0m-98 1h0m6 0h0m5 0h0m14 0h0m14 0h0m3 0h0m50 0h0m1 0h0m-118 1h0m44 0h0m19 0h0m8 0h0m2 0h0m25 0h0m29 0h0m-74 1h0m32 0h0m47 0h0m-61 1h0m9 0h0m19 0h0m5 0h0m16 0h0m-119 1h0m33 0h0m15 0h0m11 0h0m5 0h0m10 0h0m58 0h0m-103 1h0m3 0h0m20 0h0m2 0h0m51 0h0m19 0h0m3 0h0m-112 1h0m15 0h0m34 0h0m9 0h0m10 0h0m20 0h0m13 0h0m10 0h0m-105 1h0m16 0h0m15 0h0m2 0h0m-35 1h0m10 0h0m24 0h0m35 0h0m13 0h0m6 0h0m1 0h0m-80 1h0m19 0h0m54 0h0m-80 1h0m4 0h0m65 0h0m0 0h0m6 0h0m-53 1h0m18 0h0m21 0h0m25 0h0m2 0h0m11 0h0m-56 1h0m2 0h0m8 0h0m7 0h0m-58 1h0m42 0h0m6 0h0m7 0h0m9 0h0m5 0h0m-83 1h0m11 0h0m42 0h0m24 0h0m4 0h0m8 0h0m11 1h0m28 0h0m-113 1h0m37 0h0m10 0h0m2 0h0m5 0h0m11 0h0m11 0h0m33 0h0m-104 1h0m14 0h0m26 0h0m32 0h0m7 0h0m14 0h0m7 0h0m-109 1h0m7 0h0m10 0h0m-9 1h0m6 0h0m62 0h0m1 0h0m18 0h0m-75 1h0m56 1h0m19 0h0m-88 1h0m36 0h0m20 0h0m17 0h0m18 0h0m-92 1h0m15 0h0m1 0h0m20 0h0m4 0h0m14 0h0m1 0h0m18 0h0m31 0h0m-115 1h0m8 0h0m14 0h0m26 0h0m1 0h0m57 0h0m13 0h0m-118 1h0m23 0h0m11 0h0m49 0h0m6 0h0m-73 1h0m42 0h0m2 0h0m6 0h0m17 0h0m11 0h0m-70 1h0m35 0h0m35 0h0m-96 1h0m44 0h0m19 0h0m19 0h0m-69 1h0m24 0h0m31 0h0m4 0h0m26 0h0m20 0h0m-102 1h0m8 0h0m36 0h0m7 0h0m20 0h0m-68 1h0m30 0h0m22 0h0m1 0h0m1 0h0m28 0h0m-83 1h0m27 0h0m-13 1h0m62 0h0m1 0h0m9 0h0m-89 1h0m3 0h0m14 0h0m0 0h0m40 0h0m18 0h0m14 0h0m-99 1h0m22 0h0m27 0h0m30 0h0m2 0h0m2 0h0m-74 1h0m3 0h0m68 0h0m-56 1h0m39 0h0m7 0h0m-72 1h0m10 0h0m5 0h0m5 0h0m5 0h0m49 0h0m-75 1h0m23 0h0m50 0h0m6 0h0m17 0h0m-96 1h0m3 0h0m47 0h0m35 0h0m-76 1h0m4 0h0m22 0h0m38 0h0m-67 1h0m7 0h0m79 0h0m-90 1h0m5 0h0m27 0h0m4 0h0m3 0h0m16 0h0m4 0h0m9 0h0m22 0h0m-55 1h0m54 0h0m-70 1h0m31 0h0m1 0h0m-33 1h0m8 0h0m56 0h0m-61 1h0m58 0h0m2 0h0m27 0h0m-40 1h0m4 0h0m14 0h0m6 0h0m4 0h0m-9 1h0m-48 1h0m25 0h0m11 0h0m4 0h0m6 0h0m-56 1h0m23 0h0m31 0h0m-49 1h0m7 0h0m16 0h0m21 0h0m-72 1h0m2 0h0m39 0h0m1 0h0m-39 1h0m36 0h0m53 0h0m-82 1h0m40 0h0m-31 1h0m42 0h0m11 0h0m-44 1h0m11 0h0m9 0h0m28 0h0m12 0h0m-43 1h0m8 0h0m24 0h0m-46 1h0m5 0h0m6 0h0m5 0h0m16 1h0m19 0h0m-69 1h0m17 0h0m26 0h0m0 0h0m-36 1h0m34 0h0m19 0h0m8 0h0m-50 1h0m13 0h0m24 0h0m-25 1h0m-9 1h0m-13 2h0m15 1h0m21 0h0m5 0h0m-28 1h0m5 1h0m12 0h0m-21 3h0m-3 1h0" stroke="#abdda4" stroke-width="3.00"/>
<path d="M343 133h0m-38 5h0m16 3h0m-51 18h0m99 33h0m-251 6h0m21 0h0m161 1h0m-164 2h0m3 1h0m2 0h0m-23 1h0m16 0h0m6 0h0m-28 2h0m-2 1h0m26 0h0m-28 1h0m12 0h0m-9 1h0m5 0h0m-1 1h0m12 0h0m14 0h0m-10 1h0m-12 1h0m196 0h0m-226 1h0m24 0h0m4 0h0m1 0h0m6 0h0m240 0h0m-276 1h0m3 0h0m14 0h0m245 0h0m-261 1h0m14 0h0m34 0h0m3 0h0m179 0h0m12 0h0m5 0h0m-232 1h0m21 0h0m6 0h0m214 0h0m-247 1h0m7 0h0m10 0h0m-7 1h0m3 0h0m0 1h0m1 0h0m-22 1h0m3 0h0m19 0h0m17 0h0m12 0h0m197 0h0m-200 1h0m-50 1h0m17 0h0m19 0h0m7 0h0m2 0h0m-46 1h0m12 0h0m29 0h0m10 0h0m187 0h0m11 0h0m-245 1h0m31 0h0m5 0h0m173 0h0m27 0h0m-209 1h0m13 0h0m9 0h0m-52 1h0m43 0h0m3 0h0m182 0h0m-215 1h0m40 0h0m-48 1h0m1 0h0m2 0h0m39 0h0m8 0h0m160 0h0m20 0h0m-238 1h0m3 0h0m19 0h0m42 0h0m135 0h0m53 0h0m-243 2h0m29 0h0m-14 1h0m24 0h0m189 0h0m-193 1h0m16 0h0m-45 1h0m6 0h0m44 0h0m26 0h0m-94 1h0m65 0h0m-41 1h0m22 0h0m12 0h0m1 0h0m-58 1h0m18 0h0m2 0h0m14 0h0m-10 1h0m32 0h0m2 0h0m237 0h0m-299 1h0m248 0h0m-218 1h0m40 0h0m-65 1h0m16 0h0m289 0h0m-297 1h0m9 0h0m35 0h0m-53 1h0m13 0h0m26 0h0m7 0h0m3 0h0m11 0h0m25 0h0m152 0h0m-229 2h0m18 0h0m281 0h0m-309 1h0m4 0h0m8 0h0m26 0h0m17 0h0m-32 1h0m32 1h0m-54 1h0m50 0h0m-29 1h0m9 0h0m-24 1h0m35 0h0m34 0h0m-63 1h0m12 0h0m5 0h0m3 0h0m8 0h0m25 0h0m14 0h0m-41 1h0m6 0h0m7 0h0m-35 1h0m8 0h0m20 0h0m-26 1h0m210 1h0m-199 1h0m55 0h0m-65 1h0m14 0h0m5 0h0m-29 1h0m33 0h0m283 0h0m-294 1h0m20 0h0m21 0h0m-45 1h0m3 2h0m-20 2h0m2 4h0m-4 3h0m4 1h0m11 1h0m5 0h0m5 1h0m-6 1h0m-22 1h0m7 0h0m5 0h0m-13 1h0m4 0h0m7 0h0m2 0h0m10 0h0m-24 1h0m27 0h0m38 0h0m-23 1h0m11 0h0m-48 1h0m26 0h0m6 0h0m13 1h0m0 0h0m-47 1h0m13 0h0m13 0h0m15 0h0m17 0h0m251 0h0m-300 1h0m-2 1h0m3 0h0m43 0h0m8 0h0m-59 1h0m8 0h0m40 0h0m15 0h0m-9 1h0m-27 1h0m21 0h0m-43 2h0m33 0h0m-37 1h0m6 0h0m2 0h0m7 0h0m-9 1h0m12 0h0m7 0h0m43 0h0m-38 1h0m-13 1h0m31 0h0m10 0h0m-8 1h0m151 0h0m-206 1h0m35 0h0m41 0h0m-75 1h0m1 0h0m50 0h0m-42 1h0m31 0h0m4 0h0m-44 1h0m13 0h0m29 0h0m5 0h0m37 0h0m-25 1h0m-38 1h0m24 0h0m-26 1h0m8 0h0m21 0h0m-19 1h0m-25 1h0m0 0h0m56 0h0m-51 1h0m54 0h0m-58 1h0m17 0h0m4 0h0m-15 1h0m62 0h0m-51 1h0m5 0h0m22 0h0m6 0h0m7 0h0m-51 1h0m58 0h0m-48 2h0m45 1h0m4 1h0m3 0h0m136 8h0m91 53h0" stroke="#9e0142" stroke-width="3.00"/>
<path d="M293 240h0m6 4h0m30 4h0m-9 1h0m-11 4h0m-26 2h0m25 2h0m-5 2h0m-41 3h0m34 0h0m50 2h0m13 0h0m21 0h0m-63 3h0m42 1h0m16 0h0m-103 2h0m39 1h0m64 0h0m10 1h0m-64 1h0m61 0h0m-126 2h0m96 0h0m18 0h0m8 0h0m-11 2h0m-98 1h0m-11 1h0m54 0h0m58 0h0m-53 1h0m-48 1h0m97 0h0m15 0h0m-20 1h0m31 0h0m-117 1h0m99 1h0m-107 1h0m134 2h0m-78 2h0m-57 2h0m119 0h0m-74 1h0m-29 2h0m6 0h0m9 3h0m-27 3h0m128 0h0m-70 1h0m3 2h0m53 1h0m11 0h0m12 0h0m-140 1h0m105 1h0m-113 3h0m44 1h0m10 0h0m-38 2h0m98 0h0m-71 1h0m39 0h0m36 0h0m-100 1h0m98 0h0m16 0h0m-77 1h0m65 0h0m-4 1h0m-38 1h0m-69 1h0m24 0h0m53 1h0m4 0h0m30 0h0m14 0h0m-39 2h0m-66 1h0m73 0h0m7 2h0m4 1h0m33 1h0m-48 3h0m11 1h0m-88 1h0m93 0h0m6 0h0m-38 1h0m57 0h0m-116 3h0m61 1h0m53 0h0m-21 1h0m-2 1h0m-21 1h0m34 0h0m-67 1h0m13 0h0m62 0h0m9 0h0m-106 1h0m29 0h0m4 0h0m11 1h0m12 0h0m-71 1h0m37 0h0m47 0h0m-11 1h0m10 0h0m-56 1h0m24 0h0m24 0h0m23 1h0m10 0h0m-77 1h0m3 0h0m24 0h0m11 0h0m-24 1h0m16 0h0m52 0h0m-110 1h0m46 0h0m7 0h0m54 0h0m-34 1h0m21 0h0m-80 1h0m74 1h0m16 0h0m5 1h0m-90 1h0m20 0h0m8 0h0m11 0h0m43 0h0m-40 2h0m25 0h0m-36 1h0m5 0h0m-40 1h0m49 1h0m-40 1h0m52 1h0m28 0h0m-64 1h0m29 0h0m14 0h0m-68 2h0m-10 1h0m17 0h0m-4 1h0m38 0h0m8 0h0m39 0h0m-4 1h0m-58 1h0m53 1h0m0 3h0m-73 1h0m6 1h0m24 0h0m22 2h0m17 0h0m11 0h0m-45 3h0m5 0h0m21 0h0m-34 3h0m-5 1h0m38 0h0m-27 1h0m6 0h0m19 0h0m3 0h0m-26 3h0m15 1h0m-27 2h0m24 2h0" stroke="#66c2a5" stroke-width="3.00"/>
<path d="M283 245h0m23 7h0m-17 1h0m54 0h0m24 2h0m-53 1h0m5 0h0m4 0h0m-12 1h0m3 0h0m-53 5h0m35 0h0m82 3h0m-28 4h0m56 1h0m-8 3h0m-62 2h0m-75 2h0m125 0h0m-31 1h0m-28 1h0m-53 1h0m100 0h0m-105 1h0m35 1h0m-44 2h0m13 0h0m-12 2h0m144 0h0m-60 1h0m38 0h0m-118 1h0m110 1h0m30 0h0m-149 1h0m109 1h0m6 0h0m10 0h0m-107 1h0m4 1h0m1 0h0m-21 1h0m3 0h0m117 1h0m16 0h0m-136 1h0m1 1h0m13 0h0m76 0h0m53 1h0m-88 1h0m-46 2h0m11 1h0m42 0h0m61 1h0m-111 1h0m80 2h0m-90 1h0m102 0h0m29 0h0m-99 1h0m70 0h0m46 0h0m-136 2h0m23 0h0m2 0h0m4 0h0m-19 1h0m28 0h0m19 0h0m65 0h0m-98 1h0m63 0h0m-11 1h0m-74 1h0m102 0h0m-111 2h0m78 0h0m-42 1h0m4 0h0m8 0h0m9 0h0m20 0h0m24 2h0m9 0h0m-52 1h0m-34 1h0m12 0h0m17 0h0m26 0h0m2 0h0m38 0h0m1 0h0m-15 1h0m8 1h0m5 0h0m4 0h0m-48 1h0m-36 1h0m83 2h0m6 0h0m-36 1h0m-85 3h0m103 0h0m16 0h0m-5 1h0m11 0h0m-121 3h0m14 0h0m35 0h0m1 1h0m-17 1h0m4 0h0m38 0h0m-7 1h0m55 0h0m-90 1h0m17 0h0m-1 1h0m-28 1h0m53 0h0m10 2h0m-66 1h0m7 0h0m48 0h0m28 0h0m-14 1h0m-50 1h0m33 0h0m-45 1h0m7 0h0m27 0h0m1 0h0m66 0h0m-119 1h0m55 0h0m-32 1h0m24 0h0m27 1h0m-22 1h0m27 0h0m23 0h0m27 0h0m-118 1h0m67 0h0m-76 1h0m94 0h0m19 0h0m-73 1h0m10 0h0m29 0h0m18 1h0m10 0h0m-73 1h0m8 0h0m-1 1h0m4 0h0m33 0h0m-42 2h0m80 0h0m-10 1h0m-90 1h0m33 0h0m18 0h0m4 0h0m7 1h0m12 0h0m15 0h0m-100 1h0m20 0h0m17 2h0m-1 1h0m21 3h0m36 0h0m-87 1h0m12 0h0m76 0h0m-28 2h0m9 1h0m-14 1h0m11 0h0m-28 1h0m22 0h0m3 0h0m-20 1h0m23 0h0m-28 1h0m-35 1h0m37 0h0m34 0h0m-66 1h0m29 0h0m11 0h0m-30 1h0m32 1h0m23 0h0m-8 2h0m2 0h0m0 3h0m-39 3h0m1 0h0m27 1h0m-8 2h0m-24 3h0m6 1h0m-1 1h0" stroke="#66c2a5" stroke-width="3.00"/>
<path d="M288 121h0m10 0h0m-4 2h0m-12 7h0m17 2h0m-4 1h0m10 1h0m29 8h0m-60 1h0m67 7h0m-24 10h0m7 7h0m11 2h0m-63 13h0m1 0h0m77 16h0m-229 1h0m16 0h0m-17 2h0m12 0h0m6 0h0m-4 1h0m-9 1h0m-2 1h0m25 0h0m-18 1h0m-30 2h0m220 0h0m-189 1h0m3 0h0m-29 1h0m12 0h0m7 0h0m17 0h0m-33 1h0m205 0h0m-220 1h0m32 0h0m38 0h0m174 0h0m24 0h0m-258 1h0m5 0h0m14 0h0m-26 1h0m58 0h0m176 0h0m-238 1h0m17 0h0m13 0h0m182 0h0m-162 1h0m173 0h0m31 1h0m-244 1h0m218 0h0m-228 1h0m13 0h0m6 0h0m21 0h0m20 0h0m162 0h0m17 0h0m-198 1h0m3 0h0m-44 1h0m21 0h0m11 0h0m5 0h0m12 2h0m207 0h0m-235 1h0m8 0h0m4 0h0m15 0h0m-32 1h0m25 0h0m203 0h0m-204 1h0m7 0h0m-26 1h0m16 0h0m213 0h0m-217 1h0m15 0h0m0 0h0m174 0h0m-204 1h0m-7 1h0m2 0h0m-19 1h0m6 0h0m3 0h0m30 0h0m7 0h0m14 0h0m-41 1h0m3 0h0m20 0h0m203 0h0m-237 1h0m221 0h0m24 0h0m-224 1h0m10 0h0m19 0h0m10 0h0m-62 1h0m10 0h0m-6 1h0m15 0h0m6 0h0m0 0h0m24 0h0m38 0h0m214 1h0m-294 1h0m14 0h0m24 0h0m-52 1h0m5 0h0m5 0h0m43 0h0m-28 1h0m223 0h0m-243 1h0m8 0h0m31 0h0m-52 1h0m34 0h0m37 0h0m22 0h0m-92 1h0m11 0h0m3 0h0m15 0h0m24 0h0m38 0h0m-12 1h0m12 0h0m-82 1h0m21 0h0m37 0h0m22 0h0m-73 1h0m35 0h0m2 0h0m-51 1h0m80 0h0m-67 1h0m90 0h0m-98 1h0m13 0h0m6 0h0m1 0h0m73 0h0m-90 1h0m7 0h0m8 0h0m68 0h0m-40 1h0m23 0h0m4 0h0m-67 1h0m0 1h0m39 0h0m18 1h0m-65 1h0m0 1h0m9 0h0m25 0h0m2 0h0m10 0h0m-36 1h0m3 0h0m7 0h0m9 0h0m13 0h0m28 0h0m-63 1h0m9 0h0m22 0h0m-21 1h0m19 0h0m8 0h0m19 0h0m-27 1h0m-1 1h0m4 1h0m279 0h0m-291 1h0m1 2h0m-25 3h0m21 2h0m-17 1h0m9 0h0m1 3h0m-16 1h0m31 1h0m-18 1h0m0 0h0m10 0h0m10 0h0m-25 1h0m50 0h0m214 0h0m-266 1h0m-6 1h0m0 0h0m8 1h0m17 0h0m2 0h0m-7 1h0m18 0h0m-10 1h0m43 0h0m-59 1h0m10 0h0m9 0h0m8 0h0m4 0h0m-38 1h0m41 0h0m18 0h0m17 0h0m-60 1h0m4 0h0m1 0h0m11 0h0m33 0h0m99 0h0m154 0h0m-271 1h0m17 0h0m-54 1h0m35 0h0m-34 1h0m67 0h0m-79 1h0m26 0h0m7 0h0m4 0h0m12 0h0m22 0h0m-67 1h0m10 0h0m29 0h0m-41 1h0m8 0h0m4 0h0m54 0h0m7 0h0m-70 1h0m41 0h0m8 0h0m216 0h0m-272 1h0m22 0h0m14 0h0m8 0h0m-29 1h0m18 0h0m8 0h0m22 0h0m-61 1h0m31 0h0m6 0h0m3 0h0m11 0h0m-34 1h0m-3 1h0m0 0h0m2 0h0m61 1h0m-53 1h0m27 0h0m210 0h0m-256 1h0m41 0h0m2 0h0m11 0h0m-60 1h0m16 0h0m15 0h0m29 0h0m-43 1h0m0 0h0m5 0h0m-3 1h0m1 0h0m4 0h0m28 0h0m-47 1h0m24 0h0m49 0h0m-18 2h0m1 0h0m-54 3h0m256 49h0m-24 4h0" stroke="#9e0142" stroke-width="3.00"/>
<path d="M371 242h0m-106 3h0m59 2h0m15 1h0m-34 1h0m-33 1h0m-1 1h0m79 0h0m-10 1h0m-42 1h0m11 1h0m4 1h0m39 0h0m-88 1h0m34 0h0m-31 2h0m4 0h0m26 0h0m75 1h0m-86 1h0m67 0h0m-33 2h0m80 0h0m-110 1h0m25 0h0m46 1h0m-25 1h0m-23 1h0m-43 1h0m6 0h0m-7 1h0m7 0h0m-5 1h0m3 0h0m55 0h0m-11 1h0m78 0h0m-51 1h0m-70 1h0m44 0h0m32 1h0m-93 1h0m124 0h0m-122 1h0m109 0h0m0 0h0m11 0h0m-35 1h0m15 0h0m15 0h0m-110 1h0m43 0h0m4 0h0m44 0h0m24 0h0m7 0h0m-129 1h0m53 0h0m3 0h0m45 0h0m-45 1h0m-51 1h0m44 0h0m22 1h0m29 0h0m-84 2h0m49 0h0m40 0h0m-41 1h0m43 0h0m10 0h0m-94 1h0m59 0h0m25 0h0m12 0h0m31 0h0m2 0h0m-51 1h0m27 0h0m15 0h0m-149 1h0m23 0h0m10 0h0m20 0h0m94 0h0m-35 1h0m-88 1h0m2 0h0m117 0h0m-91 1h0m99 0h0m-127 1h0m100 0h0m13 0h0m18 0h0m-137 1h0m30 0h0m47 0h0m67 0h0m-40 1h0m-111 1h0m16 1h0m90 0h0m-104 1h0m62 0h0m35 0h0m-100 1h0m12 0h0m84 0h0m-86 1h0m35 0h0m-35 1h0m80 0h0m-32 2h0m12 0h0m-51 1h0m86 0h0m-110 1h0m122 0h0m21 0h0m-130 1h0m81 0h0m-46 1h0m93 0h0m-90 1h0m50 0h0m-96 1h0m7 0h0m25 0h0m26 0h0m85 0h0m-142 1h0m2 0h0m93 0h0m25 0h0m2 0h0m-127 1h0m74 0h0m79 0h0m-145 1h0m0 0h0m10 0h0m35 0h0m17 0h0m46 0h0m-114 1h0m149 0h0m-140 1h0m74 0h0m43 0h0m16 0h0m-113 1h0m34 0h0m6 0h0m11 0h0m29 0h0m3 0h0m7 0h0m-56 1h0m4 0h0m9 0h0m6 0h0m15 0h0m18 0h0m6 0h0m3 0h0m19 0h0m-137 1h0m63 0h0m6 0h0m-34 1h0m32 0h0m28 0h0m5 0h0m-44 1h0m-28 2h0m82 0h0m-106 1h0m22 0h0m88 0h0m0 0h0m5 0h0m5 0h0m-78 1h0m16 0h0m22 0h0m8 0h0m16 0h0m21 0h0m-115 1h0m50 0h0m4 0h0m15 0h0m53 0h0m-121 1h0m9 0h0m10 0h0m7 0h0m7 0h0m21 0h0m10 0h0m-79 1h0m4 0h0m16 0h0m58 0h0m30 0h0m19 0h0m-9 1h0m21 0h0m-100 1h0m49 0h0m-77 1h0m19 0h0m68 0h0m3 0h0m-91 1h0m15 0h0m28 0h0m5 0h0m31 0h0m26 0h0m18 0h0m-124 2h0m11 0h0m1 0h0m21 0h0m58 0h0m1 0h0m10 0h0m-91 1h0m19 0h0m4 0h0m16 0h0m8 0h0m19 0h0m39 0h0m6 0h0m-99 1h0m29 0h0m43 0h0m33 0h0m-126 1h0m15 0h0m69 0h0m4 0h0m-65 1h0m75 0h0m3 0h0m10 0h0m5 0h0m1 0h0m-92 1h0m6 0h0m21 0h0m19 0h0m34 0h0m-96 1h0m3 0h0m54 0h0m26 0h0m6 0h0m-91 1h0m5 0h0m20 0h0m18 0h0m24 0h0m4 0h0m-59 1h0m1 0h0m24 0h0m66 0h0m0 0h0m-106 1h0m97 0h0m-94 1h0m2 0h0m59 0h0m12 0h0m5 0h0m6 0h0m17 0h0m17 0h0m-93 1h0m19 0h0m10 0h0m20 0h0m13 0h0m-70 1h0m61 0h0m-71 1h0m11 0h0m11 0h0m1 0h0m0 0h0m36 0h0m32 0h0m1 0h0m5 0h0m-108 1h0m5 0h0m42 0h0m22 0h0m10 0h0m20 0h0m18 0h0m-80 1h0m5 0h0m66 0h0m-96 1h0m24 0h0m4 0h0m6 0h0m45 0h0m11 0h0m4 0h0m-19 1h0m20 0h0m-87 1h0m14 0h0m21 1h0m16 0h0m7 0h0m-54 1h0m3 0h0m38 0h0m32 0h0m1 0h0m-69 1h0m36 0h0m11 0h0m5 0h0m13 0h0m-73 1h0m55 0h0m27 0h0m-88 1h0m23 0h0m35 0h0m9 0h0m-55 1h0m6 0h0m12 0h0m2 0h0m6 0h0m-26 1h0m11 0h0m4 0h0m15 0h0m8 0h0m3 0h0m4 0h0m-64 1h0m48 0h0m2 0h0m-21 1h0m57 0h0m-81 1h0m14 0h0m13 0h0m9 0h0m8 0h0m3 0h0m21 0h0m15 0h0m-83 1h0m4 0h0m74 0h0m-48 1h0m0 0h0m14 0h0m3 0h0m17 0h0m2 0h0m28 0h0m9 0h0m-94 1h0m40 0h0m20 0h0m-50 1h0m6 0h0m7 0h0m12 0h0m1 0h0m29 0h0m-75 1h0m6 0h0m15 0h0m23 0h0m51 0h0m-72 1h0m13 0h0m7 0h0m-20 1h0m45 0h0m10 0h0m4 0h0m-85 1h0m21 0h0m4 0h0m31 0h0m13 0h0m-60 1h0m55 0h0m-52 1h0m10 0h0m20 0h0m14 0h0m23 0h0m13 0h0m13 0h0m-103 1h0m32 0h0m4 0h0m6 0h0m29 0h0m17 0h0m4 0h0m5 0h0m-89 1h0m14 0h0m9 0h0m14 0h0m14 0h0m25 0h0m-50 1h0m22 0h0m16 0h0m3 0h0m21 0h0m6 0h0m-52 1h0m-37 1h0m36 0h0m35 0h0m7 0h0m-94 1h0m10 0h0m39 0h0m2 0h0m1 0h0m4 0h0m2 0h0m38 0h0m4 0h0m-38 1h0m3 0h0m7 0h0m20 0h0m-35 1h0m30 0h0m17 0h0m-98 1h0m42 0h0m15 0h0m2 0h0m37 0h0m-90 1h0m32 0h0m16 0h0m22 0h0m-64 1h0m68 1h0m-50 2h0m34 0h0m2 0h0m5 0h0m13 0h0m-73 1h0m24 0h0m12 0h0m5 0h0m4 0h0m9 0h0m-52 1h0m40 0h0m31 0h0m-47 1h0m27 0h0m-2 1h0m7 0h0m15 0h0m-64 1h0m58 0h0m-36 1h0m7 1h0m6 0h0m3 0h0m-30 1h0m4 0h0m3 0h0m23 2h0m-22 2h0m20 0h0m-29 1h0m50 0h0" stroke="#abdda4" stroke-width="3.00"/>
<path d="M293 117h0m4 1h0m0 2h0m3 0h0m4 2h0m-17 1h0m14 0h0m14 0h0m-4 1h0m-23 1h0m2 0h0m37 0h0m-34 2h0m19 0h0m-24 1h0m9 0h0m5 0h0m9 0h0m2 0h0m20 0h0m-36 2h0m27 0h0m7 0h0m-47 1h0m16 0h0m39 0h0m-59 1h0m10 0h0m3 0h0m23 0h0m5 0h0m11 0h0m-50 1h0m5 0h0m2 0h0m5 0h0m6 0h0m5 0h0m14 0h0m10 0h0m-51 1h0m18 0h0m2 0h0m30 0h0m-6 1h0m1 0h0m1 0h0m11 0h0m-48 1h0m27 0h0m1 1h0m7 0h0m2 0h0m-49 1h0m55 0h0m-28 1h0m4 0h0m6 0h0m0 0h0m-21 1h0m7 0h0m23 0h0m6 0h0m15 0h0m-60 1h0m2 0h0m14 0h0m9 0h0m2 0h0m7 0h0m11 0h0m-12 1h0m3 0h0m7 0h0m-24 1h0m-23 1h0m14 1h0m20 0h0m25 0h0m11 0h0m2 0h0m-69 1h0m5 0h0m25 0h0m-15 1h0m15 0h0m7 0h0m17 0h0m15 0h0m-78 1h0m1 0h0m65 0h0m16 1h0m-68 1h0m0 0h0m3 0h0m4 0h0m50 0h0m4 0h0m-68 1h0m8 0h0m12 0h0m4 0h0m2 0h0m0 0h0m25 0h0m3 0h0m11 0h0m6 0h0m-63 1h0m12 0h0m11 0h0m5 0h0m2 0h0m7 0h0m3 0h0m-35 1h0m25 0h0m47 0h0m-79 1h0m6 0h0m20 0h0m12 0h0m27 0h0m8 0h0m6 1h0m4 0h0m5 0h0m-43 1h0m-20 1h0m3 0h0m5 0h0m6 0h0m-30 1h0m3 0h0m8 0h0m20 0h0m2 0h0m2 0h0m16 0h0m21 0h0m-41 1h0m30 0h0m2 0h0m-53 1h0m5 0h0m58 0h0m-68 1h0m40 0h0m16 0h0m3 0h0m-4 1h0m1 0h0m-32 1h0m0 0h0m-15 1h0m6 0h0m30 0h0m25 0h0m-24 1h0m3 0h0m9 0h0m10 0h0m-65 1h0m68 0h0m-79 1h0m24 0h0m26 0h0m-28 1h0m48 0h0m-65 1h0m34 1h0m35 1h0m3 0h0m-22 1h0m31 0h0m-74 2h0m15 0h0m-10 1h0m12 0h0m7 0h0m7 0h0m-39 1h0m62 0h0m7 0h0m2 0h0m6 0h0m0 0h0m-68 1h0m1 0h0m4 0h0m15 0h0m22 0h0m-59 1h0m66 0h0m-49 2h0m3 0h0m11 0h0m3 0h0m2 0h0m-25 1h0m11 0h0m0 0h0m4 1h0m1 0h0m0 0h0m13 0h0m2 0h0m-15 1h0m-41 1h0m11 0h0m24 0h0m-5 1h0m1 0h0m-39 1h0m39 0h0m24 0h0m16 0h0m-19 1h0m1 0h0m53 0h0m-82 1h0m21 0h0m6 0h0m7 0h0m25 0h0m-95 1h0m11 0h0m71 0h0m-82 1h0m18 0h0m2 0h0m24 0h0m4 0h0m-37 1h0m9 0h0m3 0h0m22 0h0m1 0h0m14 0h0m44 0h0m-105 1h0m6 0h0m-7 1h0m32 0h0m35 0h0m22 0h0m-79 1h0m11 1h0m25 0h0m48 0h0m-28 1h0m43 0h0m-113 1h0m11 0h0m42 0h0m-40 1h0m11 0h0m102 0h0m-127 1h0m11 0h0m3 1h0m17 0h0m70 0h0m-2 1h0m-84 1h0m8 0h0m10 0h0m63 0h0m28 0h0m1 0h0m-96 1h0m89 1h0m0 1h0m-96 1h0m-7 1h0m6 0h0m9 0h0m64 0h0m-78 1h0m76 0h0m29 0h0m-19 2h0m-88 1h0m111 2h0m-126 1h0m26 0h0m96 0h0m-114 1h0m1 0h0m12 0h0m-7 1h0m4 0h0m0 1h0m54 0h0m-51 1h0m0 0h0m82 0h0m-26 1h0m9 0h0m-73 1h0m20 0h0m69 0h0m-94 1h0m2 0h0m108 0h0m0 0h0m-4 1h0m-47 1h0m-41 1h0m46 0h0m38 0h0m13 0h0m4 1h0m-120 1h0m3 0h0m100 0h0m-105 1h0m111 0h0m22 0h0m-112 1h0m-7 1h0m95 0h0m3 0h0m15 0h0m-116 1h0m119 1h0m0 1h0m-125 1h0m121 1h0m-19 1h0m8 0h0m7 0h0m-120 1h0m10 0h0m4 1h0m2 0h0m4 1h0m5 0h0m106 0h0m-130 1h0m140 0h0m-95 2h0m64 0h0m26 0h0m4 0h0m-111 1h0m99 0h0m3 0h0m-94 1h0m87 0h0m-123 1h0m128 0h0m11 0h0m-30 2h0m30 0h0m1 0h0m-21 1h0m23 0h0m0 1h0m1 0h0m4 0h0m-31 1h0m17 2h0m17 0h0m-19 2h0m15 1h0m-38 1h0m8 0h0m5 0h0m5 0h0m13 0h0m16 1h0m-26 1h0m10 2h0m-15 1h0m10 0h0m13 2h0m2 0h0m5 0h0m-2 1h0m-22 1h0m1 1h0m0 0h0m3 1h0m7 0h0m-8 1h0m29 0h0m-14 1h0m5 1h0m7 0h0m-10 1h0m-7 2h0m5 0h0m-7 2h0m5 0h0m7 0h0m-20 1h0m1 1h0m-7 2h0m6 0h0m6 9h0m8 0h0m-8 3h0m-3 1h0m16 7h0m-7 2h0m-2 2h0m1 4h0m10 1h0m-11 2h0m3 0h0" stroke="#5e4fa2" stroke-width="3.00"/>
<path d="M316 120h0m-15 1h0m6 0h0m-23 1h0m3 1h0m36 1h0m-30 5h0m0 0h0m32 0h0m-40 1h0m5 0h0m38 1h0m-13 1h0m18 0h0m-32 1h0m5 0h0m25 0h0m-17 1h0m-18 1h0m8 0h0m-26 1h0m13 1h0m52 2h0m-62 1h0m33 1h0m0 1h0m33 0h0m-41 1h0m-17 1h0m57 0h0m-62 2h0m67 1h0m-58 1h0m11 0h0m8 0h0m25 0h0m-23 1h0m-36 1h0m10 0h0m61 1h0m-62 1h0m-3 1h0m38 0h0m-7 2h0m45 0h0m-50 2h0m57 4h0m-80 1h0m19 2h0m-2 1h0m27 0h0m-49 2h0m-4 5h0m42 0h0m-1 1h0m-18 1h0m-14 4h0m8 3h0m76 1h0m-98 1h0m-4 2h0m4 1h0m6 1h0m8 2h0m71 0h0m-89 1h0m13 0h0m-8 1h0m6 0h0m1 0h0m29 0h0m15 0h0m-62 1h0m19 0h0m3 0h0m-31 1h0m7 0h0m2 0h0m19 0h0m1 1h0m5 0h0m16 0h0m-17 1h0m-18 1h0m1 0h0m65 0h0m27 0h0m-96 3h0m10 0h0m59 1h0m-79 1h0m33 0h0m-13 1h0m1 0h0m-16 1h0m17 0h0m1 0h0m5 0h0m-6 1h0m-16 1h0m18 2h0m-6 1h0m0 0h0m99 0h0m-111 1h0m52 1h0m34 1h0m-60 2h0m-24 1h0m60 0h0m-66 1h0m12 0h0m11 0h0m-11 1h0m6 2h0m-2 3h0m13 0h0m-22 1h0m115 0h0m-119 1h0m18 0h0m-11 2h0m51 0h0m60 1h0m-95 1h0m-19 1h0m5 0h0m1 0h0m7 0h0m92 0h0m-104 1h0m12 0h0m97 0h0m-106 1h0m94 1h0m16 1h0m0 2h0m-4 2h0m-2 3h0m14 1h0m17 0h0m-27 5h0m3 4h0m-14 1h0m14 0h0m29 2h0m-36 2h0m20 0h0m0 9h0m20 2h0m-31 2h0m41 1h0m-28 2h0m-10 4h0m27 0h0m-5 1h0m-1 4h0m-1 1h0m-6 1h0m12 1h0m1 5h0m-3 5h0m-7 4h0" stroke="#3288bd" stroke-width="3.00"/>
<path d="M330 187h0m41 1h0m-64 23h0m9 1h0m19 1h0m-22 1h0m42 6h0m-40 3h0m24 0h0m-74 2h0m62 11h0m-45 3h0m0 1h0m-15 4h0m60 0h0m-34 2h0m29 0h0m25 0h0m-21 1h0m19 2h0m-26 1h0m-36 2h0m53 0h0m-27 2h0m6 1h0m-4 1h0m2 0h0m43 0h0m-68 1h0m4 0h0m-6 2h0m32 0h0m-48 1h0m41 0h0m27 0h0m1 0h0m56 0h0m3 0h0m-92 1h0m43 0h0m21 0h0m-96 2h0m39 0h0m78 0h0m5 1h0m-93 1h0m0 0h0m10 0h0m2 0h0m20 0h0m67 0h0m-125 1h0m48 0h0m-51 1h0m89 1h0m35 0h0m-106 2h0m11 0h0m17 0h0m45 0h0m6 0h0m-17 1h0m17 0h0m1 0h0m32 0h0m-123 1h0m54 1h0m-74 1h0m113 0h0m8 0h0m9 0h0m-124 1h0m25 0h0m20 0h0m23 0h0m72 0h0m-28 1h0m4 0h0m-120 1h0m116 0h0m-79 1h0m63 0h0m-96 1h0m18 0h0m66 0h0m-90 1h0m44 0h0m18 0h0m31 0h0m-90 1h0m98 0h0m-95 1h0m46 0h0m7 0h0m4 0h0m46 0h0m11 0h0m-121 1h0m35 0h0m67 0h0m-71 1h0m40 0h0m28 0h0m22 1h0m-116 1h0m62 0h0m-31 1h0m8 0h0m51 0h0m-96 2h0m111 0h0m-96 2h0m3 0h0m79 0h0m25 0h0m29 0h0m-144 1h0m-2 2h0m-5 1h0m7 0h0m127 1h0m-120 1h0m87 0h0m40 0h0m14 0h0m-146 1h0m122 0h0m5 0h0m-90 1h0m-47 1h0m8 0h0m16 0h0m85 0h0m25 0h0m-29 1h0m11 0h0m-111 1h0m10 0h0m136 0h0m-105 1h0m9 0h0m11 0h0m51 0h0m-31 1h0m52 0h0m6 0h0m-134 1h0m17 0h0m102 0h0m9 0h0m8 0h0m-93 1h0m8 0h0m29 0h0m41 0h0m-102 1h0m86 0h0m36 0h0m-127 1h0m30 0h0m10 0h0m20 0h0m48 0h0m13 0h0m-137 1h0m1 0h0m52 0h0m10 0h0m8 0h0m2 0h0m67 0h0m-140 1h0m12 0h0m81 0h0m16 1h0m8 0h0m20 0h0m-111 1h0m31 0h0m11 0h0m31 0h0m-82 2h0m68 0h0m3 0h0m5 0h0m13 0h0m4 0h0m2 0h0m6 0h0m-111 1h0m25 0h0m85 0h0m20 0h0m-129 1h0m17 0h0m116 0h0m-129 1h0m19 0h0m20 0h0m9 0h0m13 0h0m48 0h0m-109 1h0m5 0h0m9 0h0m7 0h0m-15 1h0m20 0h0m15 0h0m76 0h0m-117 1h0m10 0h0m31 0h0m-23 1h0m5 0h0m18 0h0m14 0h0m38 0h0m2 0h0m-95 1h0m70 0h0m33 0h0m25 0h0m-112 1h0m58 0h0m31 0h0m11 0h0m0 0h0m1 0h0m-104 1h0m52 0h0m8 0h0m26 0h0m5 0h0m11 0h0m2 0h0m-124 1h0m25 0h0m1 0h0m19 0h0m17 0h0m-8 1h0m2 0h0m15 0h0m16 0h0m6 0h0m8 0h0m1 0h0m10 0h0m9 0h0m-108 1h0m14 0h0m14 0h0m5 0h0m9 0h0m24 0h0m17 0h0m1 0h0m18 0h0m-18 1h0m11 0h0m2 0h0m-68 1h0m14 0h0m4 0h0m2 0h0m29 0h0m9 0h0m-14 1h0m24 0h0m-100 1h0m27 0h0m47 0h0m16 0h0m8 0h0m12 0h0m-101 1h0m7 0h0m39 0h0m27 0h0m14 0h0m14 0h0m-104 1h0m13 0h0m3 0h0m60 0h0m1 0h0m20 0h0m4 0h0m4 0h0m-64 1h0m18 0h0m23 0h0m13 0h0m16 0h0m-91 1h0m34 0h0m44 0h0m6 0h0m4 0h0m-68 1h0m53 0h0m20 0h0m-75 1h0m12 0h0m11 0h0m21 0h0m10 0h0m-3 1h0m16 0h0m-101 1h0m1 0h0m3 0h0m59 0h0m7 0h0m-74 1h0m4 0h0m2 0h0m48 0h0m0 0h0m-48 1h0m14 0h0m11 0h0m12 0h0m7 0h0m12 0h0m4 0h0m3 0h0m11 0h0m2 0h0m-77 1h0m82 0h0m1 0h0m15 0h0m2 0h0m-104 1h0m7 0h0m21 1h0m-5 1h0m5 0h0m6 0h0m25 0h0m9 0h0m4 0h0m4 0h0m26 0h0m-83 1h0m61 0h0m24 0h0m2 0h0m-96 1h0m7 0h0m7 0h0m73 0h0m-92 1h0m39 0h0m15 0h0m4 0h0m17 0h0m9 0h0m-62 1h0m16 0h0m-44 1h0m4 0h0m14 0h0m59 0h0m32 0h0m-104 1h0m0 0h0m6 0h0m10 0h0m4 0h0m12 0h0m30 0h0m33 0h0m9 0h0m12 0h0m-113 1h0m7 0h0m19 0h0m35 0h0m-22 1h0m7 0h0m6 0h0m14 0h0m10 0h0m1 0h0m10 0h0m11 0h0m-77 1h0m51 0h0m7 0h0m-31 1h0m3 0h0m30 0h0m19 0h0m-69 1h0m1 0h0m32 0h0m34 0h0m-97 1h0m24 0h0m10 0h0m1 0h0m58 0h0m1 0h0m2 0h0m-97 1h0m0 0h0m41 0h0m2 0h0m12 0h0m17 0h0m7 0h0m-84 1h0m15 0h0m13 0h0m49 0h0m24 0h0m-90 1h0m29 0h0m-35 1h0m17 0h0m26 0h0m8 0h0m12 0h0m24 0h0m-62 1h0m9 0h0m26 0h0m29 1h0m-95 1h0m8 0h0m70 0h0m5 0h0m-38 1h0m4 0h0m1 0h0m-49 1h0m82 0h0m-79 1h0m10 0h0m51 0h0m23 0h0m5 0h0m-54 1h0m4 0h0m2 0h0m2 0h0m26 0h0m2 0h0m-64 1h0m2 0h0m61 0h0m-51 1h0m15 0h0m35 0h0m-58 1h0m74 0h0m-40 1h0m19 0h0m4 0h0m5 0h0m5 0h0m-61 1h0m42 0h0m12 0h0m2 0h0m5 0h0m-57 1h0m-22 1h0m18 0h0m45 0h0m6 0h0m-37 1h0m30 0h0m13 0h0m11 0h0m-64 1h0m46 0h0m-17 1h0m23 0h0m-68 1h0m28 0h0m18 0h0m6 0h0m2 0h0m0 1h0m1 0h0m23 0h0m-33 1h0m7 0h0m-51 1h0m25 0h0m16 0h0m-3 1h0m3 0h0m20 0h0m1 0h0m-5 1h0m-19 2h0m15 0h0m11 0h0m3 0h0m-26 2h0m-6 1h0m32 0h0m-17 1h0m7 0h0m-33 3h0m0 0h0" stroke="#e6f598" stroke-width="3.00"/>
<path d="M287 137h0m-7 12h0m-143 48h0m-5 6h0m12 1h0m26 0h0m-60 2h0m34 0h0m-49 1h0m38 1h0m22 1h0m-45 1h0m8 0h0m23 0h0m169 1h0m-167 1h0m-37 1h0m26 0h0m6 1h0m-4 2h0m198 0h0m-220 1h0m29 0h0m-32 1h0m2 1h0m-27 1h0m39 0h0m5 0h0m216 0h0m-252 2h0m40 0h0m215 0h0m-206 1h0m8 0h0m-44 1h0m0 0h0m224 0h0m-245 1h0m8 0h0m0 0h0m46 0h0m-16 2h0m11 0h0m1 1h0m6 0h0m7 0h0m186 0h0m9 0h0m-253 1h0m34 0h0m-44 4h0m5 0h0m7 1h0m35 0h0m4 0h0m19 1h0m177 0h0m-224 1h0m26 0h0m-44 1h0m54 0h0m15 0h0m21 0h0m193 0h0m-283 1h0m28 1h0m11 0h0m5 0h0m21 0h0m-66 1h0m8 0h0m18 0h0m49 0h0m6 0h0m12 1h0m-55 1h0m17 0h0m9 0h0m11 0h0m-70 1h0m3 0h0m8 0h0m32 0h0m2 0h0m43 0h0m-55 2h0m5 0h0m42 0h0m-49 1h0m40 0h0m5 0h0m-76 1h0m97 0h0m-96 1h0m39 0h0m34 0h0m2 0h0m20 0h0m-78 1h0m12 0h0m46 0h0m20 0h0m-58 1h0m10 0h0m6 0h0m21 0h0m2 0h0m17 0h0m-90 1h0m72 0h0m13 0h0m2 0h0m-44 2h0m16 0h0m-68 2h0m49 0h0m31 0h0m2 0h0m-51 1h0m0 1h0m55 0h0m-59 1h0m4 0h0m3 0h0m2 0h0m-19 2h0m2 0h0m52 0h0m8 0h0m-1 1h0m-67 1h0m31 0h0m2 0h0m152 3h0m-138 1h0m-33 3h0m7 0h0m-10 1h0m1 0h0m6 0h0m-23 2h0m16 0h0m2 0h0m-6 1h0m-13 1h0m8 0h0m41 3h0m10 0h0m-60 2h0m1 0h0m15 3h0m23 0h0m1 0h0m-30 1h0m38 1h0m-15 1h0m286 0h0m-295 1h0m2 0h0m30 0h0m-54 1h0m2 0h0m7 0h0m23 0h0m12 0h0m-15 1h0m2 0h0m-8 1h0m51 0h0m-63 2h0m17 0h0m31 0h0m-48 2h0m9 0h0m-18 1h0m19 0h0m3 0h0m-3 1h0m23 0h0m-29 1h0m-18 1h0m18 0h0m48 0h0m-23 2h0m163 0h0m-201 1h0m3 1h0m4 0h0m53 0h0m-53 3h0m48 1h0m-61 1h0m6 0h0m19 0h0m2 0h0m-19 1h0m60 1h0m143 0h0m-184 1h0m0 0h0m44 0h0m-63 1h0m11 1h0m44 3h0m170 7h0m-43 16h0m73 49h0" stroke="#fdae61" stroke-width="3.00"/>
<path d="M318 143h0m-22 4h0m44 4h0m-203 48h0m-9 3h0m-11 1h0m22 2h0m-26 1h0m14 0h0m39 1h0m-32 1h0m25 1h0m152 0h0m21 0h0m-212 3h0m15 0h0m177 0h0m33 0h0m-245 1h0m8 0h0m25 0h0m11 0h0m-39 1h0m32 0h0m-56 1h0m48 0h0m3 0h0m-43 1h0m39 0h0m12 0h0m189 0h0m-242 1h0m52 0h0m-10 1h0m-14 1h0m199 0h0m-207 1h0m7 1h0m8 0h0m-38 2h0m2 0h0m6 0h0m21 0h0m227 0h0m-260 1h0m42 0h0m11 1h0m-11 1h0m193 0h0m-222 1h0m2 0h0m9 0h0m37 0h0m175 0h0m-207 1h0m20 0h0m9 0h0m7 1h0m-50 2h0m44 0h0m3 0h0m180 0h0m-235 1h0m11 0h0m-17 1h0m52 0h0m187 0h0m-148 1h0m-36 1h0m-28 2h0m3 0h0m-6 1h0m-10 1h0m1 0h0m23 0h0m32 0h0m7 0h0m-68 1h0m1 0h0m29 0h0m35 1h0m2 0h0m-45 1h0m8 0h0m26 0h0m16 0h0m3 0h0m-71 1h0m7 2h0m68 0h0m232 0h0m-301 1h0m4 0h0m54 0h0m24 1h0m-95 1h0m49 0h0m-44 1h0m43 0h0m-55 1h0m3 0h0m16 0h0m64 0h0m-34 1h0m35 0h0m17 0h0m-78 1h0m54 0h0m1 0h0m18 1h0m-56 2h0m49 0h0m-62 1h0m30 0h0m22 0h0m8 0h0m-77 1h0m65 0h0m31 0h0m-77 1h0m22 0h0m128 0h0m-144 1h0m3 0h0m17 0h0m43 0h0m-77 1h0m-8 1h0m41 7h0m-37 2h0m6 1h0m10 3h0m-11 1h0m2 1h0m46 0h0m-42 2h0m34 2h0m-51 3h0m5 0h0m24 2h0m-9 1h0m25 1h0m270 0h0m-315 1h0m-4 1h0m0 0h0m293 0h0m-290 1h0m11 0h0m48 0h0m-20 1h0m9 0h0m16 0h0m-6 1h0m13 0h0m-78 2h0m48 0h0m16 0h0m-30 1h0m5 0h0m0 1h0m-31 1h0m68 0h0m5 0h0m-45 1h0m-19 1h0m7 0h0m58 2h0m-53 1h0m49 0h0m-62 1h0m16 0h0m26 1h0m-21 1h0m-8 1h0m-2 1h0m43 4h0m-51 2h0" stroke="#fdae61" stroke-width="3.00"/>
<path d="M276 160h0m83 19h0m-13 15h0m-31 20h0m-2 3h0m8 1h0m2 1h0m-44 5h0m35 11h0m5 4h0m-47 2h0m70 0h0m-57 3h0m48 0h0m-63 1h0m73 0h0m-54 1h0m11 0h0m50 0h0m32 0h0m-65 1h0m29 0h0m24 0h0m-107 1h0m17 0h0m2 1h0m37 0h0m37 0h0m11 0h0m-21 1h0m11 1h0m-45 2h0m60 0h0m24 1h0m-90 1h0m-31 1h0m25 0h0m-28 1h0m76 0h0m-90 1h0m19 0h0m43 0h0m81 0h0m-9 1h0m-77 1h0m-54 1h0m59 1h0m11 1h0m11 0h0m16 0h0m-43 1h0m22 0h0m56 0h0m-4 1h0m-96 1h0m-34 1h0m138 0h0m-125 1h0m-13 1h0m33 0h0m56 0h0m-38 1h0m49 0h0m-45 1h0m5 0h0m37 0h0m16 0h0m8 0h0m1 0h0m-119 1h0m1 0h0m54 0h0m-48 1h0m1 0h0m83 0h0m12 0h0m12 0h0m9 0h0m-35 1h0m8 0h0m-103 1h0m42 0h0m8 0h0m40 0h0m49 0h0m-66 1h0m39 0h0m10 0h0m-111 1h0m52 0h0m23 0h0m-85 1h0m0 0h0m68 0h0m-54 1h0m27 0h0m53 0h0m25 0h0m12 0h0m2 0h0m-135 1h0m70 0h0m23 0h0m17 0h0m10 0h0m0 0h0m-104 1h0m24 0h0m11 0h0m3 0h0m99 0h0m-105 1h0m83 0h0m14 0h0m-37 1h0m16 0h0m-118 1h0m51 0h0m-1 1h0m14 0h0m4 0h0m56 0h0m-127 1h0m0 0h0m50 0h0m88 0h0m2 0h0m17 0h0m-141 1h0m87 1h0m-106 1h0m15 0h0m74 0h0m-84 1h0m71 0h0m-74 1h0m11 0h0m44 0h0m38 0h0m21 0h0m-108 1h0m16 0h0m79 0h0m-47 1h0m13 0h0m-14 1h0m9 0h0m77 0h0m-50 1h0m-49 1h0m75 0h0m-106 1h0m4 1h0m61 0h0m6 0h0m10 0h0m-68 2h0m0 0h0m84 0h0m11 0h0m27 0h0m10 0h0m-134 1h0m59 0h0m16 0h0m-69 1h0m6 1h0m48 0h0m54 0h0m-120 1h0m-8 1h0m8 0h0m-15 1h0m83 0h0m7 0h0m50 0h0m-115 1h0m88 0h0m-111 1h0m13 0h0m9 0h0m7 0h0m32 0h0m-41 1h0m13 0h0m17 0h0m3 0h0m8 0h0m17 0h0m38 0h0m35 0h0m-117 1h0m0 0h0m-24 1h0m40 0h0m16 0h0m35 0h0m13 0h0m42 0h0m-130 1h0m27 0h0m5 0h0m13 0h0m1 0h0m12 0h0m34 0h0m4 0h0m-59 1h0m-37 1h0m40 0h0m11 0h0m43 0h0m22 0h0m-89 1h0m8 0h0m12 0h0m13 0h0m4 0h0m29 0h0m-26 1h0m9 0h0m-50 1h0m55 0h0m42 0h0m-115 1h0m25 0h0m6 0h0m13 0h0m9 0h0m3 0h0m24 0h0m-74 1h0m6 0h0m30 0h0m27 0h0m11 0h0m1 0h0m-94 1h0m1 0h0m16 0h0m28 0h0m25 0h0m42 0h0m-67 1h0m47 0h0m23 0h0m-91 1h0m44 0h0m27 0h0m6 0h0m11 0h0m-81 1h0m63 0h0m9 0h0m-39 1h0m11 0h0m15 0h0m-95 1h0m11 0h0m17 0h0m27 0h0m55 0h0m-119 1h0m109 0h0m7 0h0m7 0h0m21 0h0m-100 1h0m29 0h0m44 0h0m20 0h0m4 0h0m-12 1h0m-96 1h0m14 0h0m24 0h0m16 0h0m12 0h0m13 0h0m25 0h0m-95 1h0m14 0h0m0 0h0m50 0h0m8 0h0m2 0h0m-37 2h0m22 0h0m14 0h0m7 0h0m-103 1h0m77 0h0m4 0h0m19 0h0m-103 1h0m3 0h0m9 0h0m31 0h0m66 0h0m4 0h0m-115 1h0m4 0h0m21 0h0m102 0h0m-119 1h0m42 0h0m12 0h0m51 0h0m-107 1h0m10 0h0m5 0h0m0 0h0m41 0h0m-56 1h0m14 0h0m23 0h0m16 0h0m9 0h0m5 0h0m4 0h0m-60 1h0m11 0h0m12 0h0m14 0h0m7 0h0m21 0h0m6 0h0m3 0h0m7 0h0m3 0h0m1 0h0m15 0h0m2 0h0m1 0h0m-116 1h0m92 0h0m-86 1h0m40 0h0m6 0h0m15 0h0m46 0h0m-119 1h0m43 0h0m6 0h0m13 0h0m12 0h0m19 0h0m17 0h0m-78 1h0m40 0h0m19 0h0m5 0h0m7 0h0m-78 1h0m23 0h0m13 0h0m2 0h0m6 0h0m15 0h0m16 0h0m2 0h0m-80 1h0m60 0h0m-63 1h0m18 0h0m5 0h0m4 0h0m41 0h0m14 0h0m16 0h0m-96 1h0m7 0h0m26 0h0m2 0h0m23 0h0m33 0h0m-81 1h0m4 0h0m-18 1h0m6 0h0m71 0h0m2 0h0m25 0h0m-86 1h0m9 0h0m47 0h0m15 0h0m-93 1h0m28 0h0m26 0h0m25 0h0m3 0h0m0 0h0m15 0h0m-88 1h0m18 0h0m5 0h0m73 0h0m-109 1h0m42 0h0m19 0h0m12 0h0m9 1h0m23 0h0m1 0h0m-61 1h0m13 0h0m15 0h0m1 0h0m34 0h0m-78 1h0m17 0h0m12 0h0m0 0h0m10 0h0m6 0h0m-49 1h0m7 0h0m10 0h0m54 0h0m-93 1h0m25 0h0m58 0h0m-18 1h0m-2 1h0m30 0h0m-96 1h0m0 0h0m11 0h0m1 0h0m23 0h0m49 0h0m7 0h0m3 0h0m5 0h0m1 0h0m-91 1h0m7 0h0m31 0h0m1 0h0m58 0h0m-104 1h0m9 0h0m36 0h0m30 0h0m3 0h0m18 0h0m-101 1h0m21 0h0m35 0h0m1 0h0m29 0h0m20 0h0m-82 1h0m0 0h0m5 0h0m23 0h0m0 0h0m8 0h0m23 0h0m9 0h0m13 0h0m-101 1h0m1 0h0m66 0h0m16 0h0m-81 1h0m22 0h0m7 0h0m26 0h0m32 0h0m-89 1h0m10 0h0m5 0h0m5 0h0m29 0h0m4 0h0m3 0h0m2 0h0m-40 1h0m10 0h0m15 0h0m44 0h0m-82 1h0m62 0h0m38 1h0m-90 1h0m1 0h0m3 0h0m15 0h0m40 0h0m14 0h0m3 0h0m-55 1h0m39 0h0m-62 1h0m25 0h0m15 0h0m29 0h0m11 0h0m-19 1h0m-52 1h0m9 0h0m16 0h0m12 0h0m5 0h0m-17 1h0m3 0h0m22 0h0m7 0h0m7 0h0m-59 1h0m30 0h0m38 0h0m-55 1h0m11 1h0m11 0h0m7 0h0m11 0h0m4 0h0m8 0h0m10 0h0m-84 1h0m25 0h0m39 0h0m-57 2h0m15 0h0m2 0h0m5 0h0m5 0h0m10 0h0m8 0h0m8 0h0m-42 1h0m33 0h0m3 0h0m11 1h0m-15 1h0m-28 1h0m34 0h0m4 4h0m-49 1h0" stroke="#e6f598" stroke-width="3.00"/>
<path d="M322 122h0m-6 1h0m13 1h0m0 0h0m-38 1h0m25 0h0m2 1h0m-29 1h0m-3 3h0m48 0h0m-49 1h0m27 0h0m-7 1h0m12 1h0m0 0h0m-38 1h0m12 0h0m-1 1h0m33 1h0m14 0h0m-28 2h0m-23 1h0m27 2h0m-25 1h0m-6 1h0m63 2h0m-64 1h0m47 2h0m24 0h0m-60 1h0m-1 1h0m59 0h0m-14 1h0m20 1h0m-43 1h0m11 0h0m-9 1h0m26 0h0m-50 1h0m26 0h0m12 0h0m15 0h0m-36 1h0m14 0h0m-1 1h0m-21 1h0m-7 1h0m-3 1h0m64 1h0m-30 1h0m51 2h0m-35 1h0m-46 1h0m13 5h0m65 0h0m-47 10h0m6 1h0m-22 1h0m63 0h0m-105 1h0m107 0h0m-96 1h0m-8 2h0m7 0h0m-8 1h0m3 1h0m1 0h0m32 1h0m59 0h0m-93 1h0m1 0h0m45 0h0m-27 1h0m-28 1h0m9 0h0m-8 1h0m13 0h0m1 0h0m-18 1h0m5 0h0m10 0h0m-15 1h0m19 1h0m-26 2h0m13 1h0m60 2h0m13 0h0m-87 1h0m29 0h0m89 0h0m-73 1h0m30 0h0m51 0h0m-113 4h0m12 2h0m-25 3h0m94 3h0m22 0h0m-96 1h0m15 0h0m-29 3h0m2 0h0m-1 2h0m23 0h0m-2 1h0m7 0h0m82 0h0m-112 1h0m16 1h0m1 1h0m-13 1h0m16 1h0m0 0h0m2 3h0m3 0h0m91 0h0m-91 1h0m44 1h0m60 0h0m2 1h0m-61 1h0m58 0h0m11 0h0m3 3h0m12 0h0m-26 2h0m22 1h0m1 1h0m-29 1h0m6 0h0m4 0h0m-27 4h0m38 3h0m1 7h0m11 8h0m7 0h0m-21 1h0m29 0h0m-22 2h0m14 0h0m-8 9h0m1 30h0" stroke="#3288bd" stroke-width="3.00"/>
<path d="M327 118h0m-22 2h0m10 0h0m-18 1h0m20 2h0m10 0h0m-41 1h0m7 1h0m4 0h0m6 0h0m5 0h0m6 0h0m4 0h0m8 0h0m-38 1h0m25 0h0m1 0h0m-15 1h0m4 0h0m8 0h0m-10 1h0m5 1h0m5 1h0m19 0h0m-40 1h0m11 0h0m1 0h0m6 0h0m20 0h0m7 1h0m-29 1h0m11 0h0m0 0h0m-32 1h0m59 0h0m-56 1h0m14 0h0m27 0h0m6 0h0m-36 1h0m5 0h0m9 0h0m9 0h0m-27 1h0m8 0h0m15 0h0m-38 1h0m39 0h0m1 0h0m0 0h0m8 0h0m-44 1h0m19 0h0m1 0h0m6 0h0m-26 1h0m0 0h0m15 0h0m5 0h0m-14 1h0m21 0h0m11 0h0m-37 1h0m5 0h0m12 0h0m7 0h0m12 0h0m12 0h0m12 0h0m4 0h0m-50 1h0m1 0h0m4 0h0m10 0h0m14 0h0m-54 1h0m7 0h0m10 0h0m2 0h0m2 0h0m10 0h0m13 0h0m3 0h0m-40 1h0m0 0h0m12 0h0m25 0h0m23 0h0m5 0h0m2 0h0m0 0h0m-61 1h0m2 0h0m4 0h0m31 0h0m20 0h0m-58 1h0m20 0h0m15 0h0m14 0h0m22 0h0m-58 1h0m51 0h0m-71 1h0m22 0h0m1 0h0m3 0h0m1 0h0m3 0h0m2 0h0m23 0h0m2 0h0m9 0h0m-21 1h0m22 0h0m-58 1h0m5 0h0m56 0h0m7 0h0m-73 1h0m7 0h0m17 0h0m9 0h0m13 0h0m10 0h0m-49 1h0m18 0h0m12 0h0m13 0h0m-43 1h0m35 0h0m31 0h0m10 0h0m3 0h0m-94 1h0m35 0h0m2 0h0m48 0h0m-40 1h0m5 0h0m3 0h0m32 0h0m3 0h0m7 0h0m-18 1h0m1 0h0m17 0h0m-84 1h0m1 0h0m44 0h0m16 0h0m28 0h0m-74 1h0m10 0h0m41 0h0m12 0h0m5 0h0m-85 1h0m22 0h0m4 0h0m40 0h0m16 1h0m-82 1h0m68 0h0m2 0h0m1 0h0m20 0h0m2 0h0m-103 1h0m43 1h0m23 0h0m29 0h0m-89 1h0m43 0h0m6 0h0m48 0h0m-76 1h0m35 0h0m10 0h0m16 0h0m9 0h0m-74 1h0m1 0h0m33 0h0m35 0h0m3 0h0m-65 1h0m10 0h0m9 0h0m43 0h0m-59 1h0m2 0h0m14 0h0m-56 1h0m69 0h0m37 0h0m-59 1h0m61 0h0m-79 1h0m35 0h0m-25 1h0m25 0h0m-6 1h0m40 0h0m-86 1h0m24 0h0m4 0h0m11 0h0m-14 1h0m39 0h0m-25 1h0m-19 1h0m18 0h0m14 0h0m-33 1h0m13 0h0m4 0h0m17 0h0m40 0h0m1 0h0m7 0h0m-78 1h0m2 0h0m7 0h0m18 0h0m-29 1h0m22 0h0m23 0h0m16 0h0m-38 1h0m33 0h0m-58 1h0m10 0h0m5 1h0m42 0h0m-95 1h0m61 0h0m8 0h0m-16 1h0m-34 1h0m22 0h0m21 0h0m-33 1h0m25 0h0m2 0h0m-41 1h0m9 0h0m72 0h0m-47 2h0m5 0h0m5 0h0m-38 1h0m67 0h0m17 0h0m-58 1h0m61 0h0m-3 1h0m1 0h0m-5 1h0m-86 1h0m17 0h0m27 0h0m-50 1h0m15 0h0m-16 1h0m1 1h0m51 0h0m-64 1h0m94 0h0m24 0h0m-115 2h0m27 0h0m6 0h0m4 0h0m-38 1h0m10 0h0m51 0h0m-60 1h0m61 0h0m13 0h0m-54 1h0m25 0h0m58 0h0m-79 1h0m38 1h0m47 1h0m-22 1h0m17 1h0m-88 1h0m46 0h0m19 1h0m11 0h0m12 0h0m-107 1h0m58 0h0m-55 1h0m7 0h0m8 0h0m11 0h0m-25 1h0m1 0h0m1 0h0m55 0h0m49 0h0m16 1h0m-126 1h0m14 0h0m7 0h0m1 0h0m54 0h0m35 0h0m-96 1h0m1 1h0m16 1h0m-29 1h0m9 1h0m3 0h0m7 0h0m97 0h0m-91 1h0m25 0h0m20 0h0m28 0h0m22 0h0m-121 1h0m17 0h0m17 0h0m28 0h0m64 0h0m-104 1h0m77 0h0m27 0h0m-129 1h0m104 0h0m17 0h0m-109 1h0m102 0h0m-70 2h0m-16 1h0m93 1h0m-32 1h0m38 0h0m-2 1h0m5 1h0m11 0h0m3 0h0m-113 1h0m92 0h0m19 0h0m-92 1h0m38 1h0m30 1h0m23 0h0m-27 2h0m15 0h0m1 0h0m-54 1h0m43 0h0m10 0h0m-16 1h0m2 0h0m11 0h0m-16 1h0m11 1h0m25 1h0m11 0h0m-31 1h0m5 0h0m16 1h0m-21 1h0m3 0h0m7 0h0m11 1h0m-17 1h0m22 0h0m5 0h0m-18 1h0m-13 1h0m3 0h0m19 1h0m7 1h0m-4 1h0m-28 2h0m25 0h0m6 1h0m-20 1h0m12 0h0m1 0h0m5 0h0m-26 1h0m1 0h0m23 1h0m1 0h0m-9 1h0m-13 1h0m0 1h0m23 1h0m4 0h0m-16 3h0m4 0h0m9 0h0m1 1h0m2 0h0m5 0h0m8 0h0m-13 1h0m5 0h0m3 0h0m-31 1h0m11 0h0m-10 1h0m9 1h0m7 1h0m5 1h0m-1 1h0m-1 2h0m-9 2h0m0 0h0m1 4h0m-4 1h0m14 0h0m-4 1h0m-2 5h0m-4 4h0m12 4h0m-8 1h0m3 0h0m-2 2h0m6 1h0m1 0h0m-6 3h0m0 7h0m2 1h0m-1 2h0m-1 3h0" stroke="#5e4fa2" stroke-width="3.00"/>
<path d="M324 243h0m-27 1h0m70 0h0m-94 1h0m11 0h0m15 1h0m28 1h0m54 0h0m-66 3h0m19 1h0m-22 1h0m-8 1h0m47 0h0m-97 1h0m18 0h0m46 0h0m-52 1h0m42 0h0m44 0h0m34 0h0m-66 1h0m63 1h0m-127 1h0m75 0h0m-65 1h0m99 0h0m-100 2h0m49 0h0m29 0h0m-82 1h0m30 0h0m51 1h0m-44 1h0m8 0h0m10 0h0m5 0h0m-58 1h0m20 0h0m28 0h0m6 0h0m26 0h0m25 0h0m8 1h0m-67 1h0m34 0h0m5 0h0m31 0h0m-120 2h0m51 0h0m27 0h0m28 0h0m4 0h0m17 0h0m-123 1h0m13 0h0m31 0h0m-46 1h0m17 0h0m99 0h0m9 0h0m6 0h0m-116 1h0m17 0h0m70 0h0m1 0h0m-92 1h0m4 0h0m42 0h0m-54 1h0m101 0h0m-106 1h0m59 0h0m8 0h0m-58 1h0m54 0h0m-61 1h0m9 1h0m82 0h0m10 0h0m1 0h0m-69 1h0m15 0h0m1 0h0m51 0h0m-37 1h0m17 0h0m34 0h0m3 1h0m-121 1h0m123 0h0m-103 1h0m26 0h0m12 0h0m8 0h0m53 2h0m-122 1h0m4 0h0m-3 1h0m-1 1h0m58 0h0m88 0h0m8 0h0m-132 1h0m-13 1h0m42 0h0m59 0h0m-92 1h0m66 0h0m37 0h0m24 0h0m-33 1h0m-99 1h0m89 0h0m-88 2h0m3 0h0m6 0h0m29 0h0m50 0h0m-89 1h0m9 0h0m64 0h0m-77 1h0m71 0h0m73 0h0m-91 1h0m3 0h0m34 0h0m44 0h0m-124 1h0m46 0h0m86 1h0m-136 1h0m6 0h0m31 0h0m16 0h0m-64 1h0m115 0h0m-109 1h0m132 0h0m-54 1h0m25 0h0m36 0h0m-143 1h0m33 0h0m97 0h0m-116 1h0m44 0h0m19 0h0m57 0h0m9 0h0m-140 1h0m6 0h0m36 0h0m90 0h0m-79 1h0m86 0h0m3 0h0m-149 1h0m26 0h0m16 0h0m-7 1h0m43 0h0m22 0h0m4 0h0m48 0h0m-142 1h0m11 0h0m33 0h0m50 0h0m-76 1h0m42 0h0m52 0h0m1 0h0m-96 1h0m71 0h0m12 0h0m10 0h0m7 0h0m23 0h0m-89 1h0m15 0h0m1 0h0m9 0h0m14 0h0m-73 1h0m6 0h0m6 0h0m10 0h0m39 0h0m1 0h0m6 0h0m1 0h0m43 0h0m-120 1h0m41 0h0m38 0h0m21 0h0m28 0h0m-133 1h0m30 0h0m86 0h0m10 0h0m-96 1h0m15 0h0m66 0h0m31 0h0m-117 1h0m26 0h0m2 0h0m17 0h0m19 0h0m7 0h0m14 0h0m13 0h0m-81 1h0m53 0h0m22 0h0m-114 1h0m5 0h0m39 0h0m10 0h0m41 0h0m1 0h0m33 0h0m4 0h0m-81 1h0m2 0h0m8 0h0m24 0h0m10 0h0m4 0h0m-95 1h0m58 0h0m19 0h0m17 0h0m-98 1h0m63 0h0m11 0h0m26 0h0m7 0h0m28 0h0m-137 1h0m3 0h0m38 0h0m7 0h0m18 0h0m3 0h0m19 0h0m-11 1h0m19 0h0m8 0h0m-42 1h0m39 0h0m5 0h0m-98 1h0m33 0h0m65 0h0m3 0h0m-37 1h0m4 0h0m11 0h0m10 0h0m11 0h0m28 0h0m-63 1h0m37 0h0m22 0h0m-77 1h0m24 0h0m28 0h0m15 0h0m-97 1h0m60 0h0m-24 1h0m18 0h0m1 0h0m31 0h0m-86 1h0m35 0h0m4 0h0m12 0h0m13 0h0m8 0h0m-94 1h0m91 0h0m9 0h0m17 0h0m15 0h0m-103 1h0m7 0h0m16 0h0m5 0h0m36 0h0m1 0h0m33 0h0m-96 1h0m66 0h0m1 1h0m9 0h0m-101 1h0m46 0h0m40 0h0m-80 1h0m10 0h0m12 0h0m34 0h0m2 0h0m10 0h0m6 0h0m23 0h0m-100 1h0m125 0h0m-112 1h0m30 0h0m1 0h0m8 0h0m0 0h0m-59 1h0m59 0h0m0 0h0m17 0h0m29 0h0m6 0h0m-107 1h0m15 0h0m55 0h0m28 0h0m9 0h0m-105 1h0m15 0h0m66 0h0m11 0h0m7 0h0m-80 1h0m30 0h0m13 0h0m49 0h0m6 0h0m-115 1h0m3 0h0m20 0h0m8 0h0m5 0h0m17 0h0m9 0h0m6 0h0m2 0h0m20 0h0m-85 1h0m33 0h0m18 0h0m-37 1h0m34 0h0m24 0h0m0 0h0m1 0h0m32 0h0m-105 1h0m6 0h0m9 0h0m39 0h0m26 0h0m25 0h0m-106 1h0m2 0h0m2 0h0m11 0h0m19 0h0m10 0h0m17 0h0m29 0h0m8 0h0m-96 1h0m1 0h0m7 0h0m1 0h0m16 0h0m47 0h0m28 0h0m3 0h0m-67 1h0m19 0h0m20 0h0m-75 1h0m32 0h0m12 0h0m4 0h0m21 0h0m-57 1h0m65 0h0m14 0h0m18 0h0m-73 1h0m4 0h0m21 0h0m-52 1h0m24 0h0m26 0h0m-45 1h0m51 0h0m2 0h0m-12 1h0m20 0h0m15 0h0m18 0h0m-109 1h0m12 0h0m5 0h0m2 0h0m18 0h0m4 0h0m-26 1h0m27 0h0m2 0h0m6 0h0m11 0h0m10 0h0m7 0h0m19 0h0m-38 1h0m36 0h0m4 0h0m3 0h0m-98 1h0m45 0h0m11 0h0m-37 1h0m76 0h0m-41 1h0m7 1h0m7 0h0m20 0h0m1 0h0m-57 1h0m12 0h0m4 0h0m9 0h0m21 0h0m6 0h0m5 0h0m-92 1h0m5 0h0m80 0h0m11 0h0m-52 1h0m21 0h0m2 0h0m11 0h0m0 0h0m7 0h0m-73 1h0m19 0h0m4 0h0m35 0h0m-71 1h0m43 0h0m36 0h0m-74 1h0m65 0h0m-48 1h0m29 0h0m15 0h0m9 0h0m22 0h0m-90 1h0m3 0h0m65 0h0m5 0h0m2 0h0m0 0h0m11 0h0m-90 1h0m68 0h0m21 0h0m2 0h0m-73 1h0m1 0h0m14 0h0m55 0h0m-45 1h0m3 0h0m-9 1h0m11 0h0m8 0h0m14 0h0m14 0h0m-69 1h0m63 0h0m-70 1h0m43 0h0m11 0h0m1 0h0m17 0h0m-3 1h0m-45 1h0m39 0h0m-61 1h0m2 0h0m27 0h0m10 0h0m20 0h0m20 0h0m-47 2h0m0 0h0m37 0h0m-11 1h0m1 1h0m-14 2h0m-4 1h0m22 0h0m-17 1h0m9 0h0m-40 5h0m4 0h0" stroke="#abdda4" stroke-width="3.00"/>
<path d="M291 150h0m7 0h0m51 1h0m-62 1h0m40 7h0m-45 5h0m84 15h0m-32 7h0m-35 6h0m11 0h0m-186 8h0m11 0h0m-14 1h0m4 0h0m-13 1h0m6 1h0m11 1h0m10 0h0m1 0h0m-28 1h0m4 0h0m18 0h0m-31 1h0m32 0h0m-18 1h0m-5 1h0m2 0h0m20 0h0m28 1h0m-30 1h0m205 0h0m-206 1h0m6 0h0m-31 1h0m41 0h0m-36 1h0m18 0h0m31 0h0m-71 1h0m1 0h0m46 0h0m197 0h0m-237 1h0m-4 1h0m30 0h0m-7 1h0m7 0h0m9 1h0m189 0h0m-215 1h0m17 0h0m16 0h0m177 0h0m-209 1h0m-23 1h0m232 0h0m10 0h0m4 0h0m-248 1h0m14 0h0m17 0h0m24 0h0m194 0h0m-252 1h0m20 0h0m27 0h0m24 0h0m-62 1h0m2 0h0m8 0h0m1 0h0m3 0h0m208 0h0m-215 1h0m17 0h0m-32 1h0m31 0h0m23 0h0m-43 1h0m18 0h0m4 0h0m6 0h0m-31 1h0m7 0h0m12 0h0m173 0h0m-194 1h0m5 0h0m5 0h0m24 0h0m212 0h0m6 0h0m-260 1h0m4 0h0m10 0h0m-11 1h0m10 0h0m11 0h0m7 0h0m37 0h0m168 0h0m-229 1h0m16 0h0m2 0h0m-17 1h0m21 0h0m9 0h0m24 0h0m3 0h0m177 0h0m-228 1h0m45 0h0m3 0h0m180 0h0m19 0h0m-241 1h0m3 0h0m14 0h0m14 0h0m-42 1h0m15 0h0m41 0h0m-59 2h0m2 0h0m1 0h0m14 0h0m192 0h0m-211 1h0m12 0h0m12 0h0m2 0h0m7 0h0m3 0h0m25 0h0m177 0h0m51 0h0m-286 1h0m13 0h0m52 0h0m-67 1h0m14 0h0m2 0h0m16 0h0m38 0h0m-66 1h0m47 0h0m-24 1h0m27 0h0m-54 1h0m3 0h0m41 0h0m256 0h0m-305 1h0m13 0h0m24 0h0m70 0h0m1 0h0m-44 1h0m-36 1h0m-2 1h0m9 0h0m31 0h0m-63 1h0m24 0h0m21 0h0m4 0h0m8 0h0m12 0h0m-68 1h0m45 0h0m14 0h0m-53 1h0m3 0h0m27 0h0m40 0h0m-70 1h0m20 0h0m5 0h0m6 0h0m1 0h0m-23 1h0m8 0h0m25 0h0m39 0h0m-46 2h0m-12 1h0m55 0h0m-53 1h0m-4 1h0m19 0h0m-15 1h0m288 0h0m-275 1h0m-26 1h0m11 1h0m-2 1h0m6 3h0m-21 5h0m31 0h0m-30 1h0m1 1h0m-5 1h0m54 0h0m-51 1h0m11 0h0m0 1h0m11 0h0m6 0h0m13 0h0m-39 1h0m11 0h0m25 0h0m-26 2h0m6 0h0m9 1h0m14 0h0m7 0h0m-28 1h0m38 0h0m-54 1h0m13 0h0m2 0h0m22 0h0m-29 1h0m-6 1h0m6 0h0m17 0h0m1 0h0m-15 1h0m1 0h0m14 0h0m-5 1h0m-27 1h0m66 0h0m-61 1h0m-7 1h0m6 0h0m10 0h0m38 0h0m-37 1h0m16 0h0m18 0h0m-30 1h0m21 0h0m-40 1h0m2 0h0m1 0h0m18 0h0m7 0h0m32 0h0m5 0h0m-65 1h0m65 0h0m-57 1h0m2 0h0m41 0h0m10 0h0m-55 1h0m29 0h0m15 0h0m-48 3h0m4 1h0m18 0h0m5 0h0m30 0h0m-60 1h0m13 0h0m44 0h0m-37 1h0m18 0h0m-40 1h0m7 0h0m10 0h0m308 0h0m-313 1h0m39 0h0m-50 1h0m3 0h0m8 0h0m6 0h0m49 0h0m13 0h0m-82 1h0m52 1h0m6 0h0m-46 1h0m-8 1h0m13 0h0m8 0h0m-14 2h0m7 0h0m54 0h0m11 1h0m141 0h0m-176 1h0m-37 1h0m67 0h0m172 26h0m-15 8h0" stroke="#9e0142" stroke-width="3.00"/>
<path d="M338 246h0m-59 1h0m30 1h0m-8 2h0m5 1h0m63 0h0m-44 1h0m-48 1h0m16 0h0m4 0h0m25 0h0m-10 1h0m72 0h0m2 0h0m-84 1h0m18 0h0m-6 3h0m7 0h0m-30 1h0m107 0h0m-126 3h0m116 2h0m-66 1h0m-31 3h0m113 2h0m-85 1h0m-45 1h0m45 0h0m-60 2h0m8 0h0m85 2h0m22 0h0m-102 1h0m36 1h0m76 0h0m14 0h0m-35 2h0m-84 1h0m94 1h0m32 0h0m5 1h0m-142 1h0m80 0h0m-86 2h0m105 0h0m-111 1h0m19 1h0m123 1h0m-137 1h0m10 1h0m-3 1h0m9 1h0m93 1h0m-98 1h0m2 2h0m-6 4h0m40 0h0m29 0h0m-74 1h0m2 3h0m14 0h0m125 0h0m1 0h0m-147 1h0m-3 1h0m19 2h0m75 2h0m-78 1h0m68 0h0m22 0h0m-35 1h0m11 0h0m-55 1h0m62 0h0m11 0h0m-44 3h0m27 0h0m11 1h0m-25 1h0m22 0h0m17 0h0m22 0h0m9 0h0m0 0h0m-35 1h0m5 0h0m-20 1h0m22 0h0m13 0h0m-43 1h0m22 0h0m50 0h0m-119 2h0m56 0h0m-72 2h0m23 0h0m16 0h0m58 0h0m-57 1h0m78 0h0m-74 1h0m1 0h0m82 1h0m-24 1h0m-12 2h0m1 0h0m19 0h0m-73 1h0m11 0h0m21 0h0m26 0h0m-12 2h0m34 0h0m7 0h0m0 0h0m-64 1h0m7 0h0m31 0h0m-79 3h0m56 0h0m-41 1h0m58 1h0m-85 3h0m95 1h0m11 0h0m-57 1h0m25 0h0m-57 1h0m3 0h0m11 1h0m9 0h0m73 0h0m-103 1h0m52 0h0m23 0h0m-59 2h0m90 1h0m-78 1h0m22 0h0m20 0h0m22 0h0m7 0h0m-92 1h0m31 1h0m42 0h0m15 0h0m-59 1h0m37 1h0m-64 1h0m3 0h0m-3 1h0m83 0h0m-80 1h0m64 0h0m33 0h0m-25 2h0m-75 3h0m88 0h0m4 0h0m-77 1h0m20 0h0m10 1h0m-5 1h0m31 0h0m-3 2h0m20 1h0m-75 1h0m34 1h0m18 0h0m-68 1h0m28 0h0m4 0h0m18 0h0m11 0h0m4 2h0m21 4h0m-18 5h0m-21 3h0m-30 1h0m22 0h0m-9 1h0m1 0h0m0 0h0m-13 1h0" stroke="#66c2a5" stroke-width="3.00"/>
<path d="M298 243h0m3 6h0m-10 4h0m39 1h0m-22 3h0m-4 1h0m46 0h0m-86 4h0m38 7h0m74 1h0m6 0h0m-118 2h0m72 3h0m-22 1h0m51 0h0m-60 1h0m-32 1h0m3 2h0m41 2h0m-13 1h0m27 0h0m-25 1h0m20 0h0m-64 1h0m73 1h0m-77 1h0m17 0h0m49 0h0m84 0h0m-152 1h0m-4 4h0m100 0h0m-24 1h0m81 0h0m-149 1h0m47 2h0m-37 1h0m104 0h0m-43 1h0m31 0h0m-89 1h0m-2 2h0m67 0h0m-60 1h0m127 0h0m-131 1h0m70 0h0m3 0h0m-77 1h0m52 1h0m-50 1h0m15 1h0m31 2h0m40 0h0m-103 1h0m48 0h0m25 0h0m65 0h0m3 0h0m-67 1h0m-53 2h0m42 0h0m30 1h0m-81 1h0m1 0h0m35 0h0m33 0h0m41 1h0m10 0h0m-30 1h0m15 0h0m9 0h0m-8 1h0m-62 1h0m10 0h0m61 0h0m-70 1h0m11 0h0m12 0h0m-7 1h0m17 0h0m12 0h0m-64 1h0m-18 1h0m25 0h0m15 0h0m5 2h0m1 0h0m46 0h0m4 0h0m-55 1h0m26 0h0m-25 1h0m38 0h0m25 0h0m-85 1h0m14 0h0m-38 2h0m20 0h0m92 0h0m25 0h0m-96 1h0m95 0h0m-37 3h0m-38 1h0m59 0h0m4 0h0m10 0h0m1 0h0m-62 1h0m34 0h0m-21 2h0m10 0h0m14 0h0m7 0h0m7 0h0m-59 1h0m-37 1h0m61 0h0m21 2h0m-93 2h0m75 0h0m7 0h0m-71 1h0m3 1h0m20 0h0m21 0h0m-22 2h0m17 0h0m13 0h0m37 0h0m-85 1h0m40 0h0m-62 2h0m82 0h0m5 0h0m-21 1h0m27 0h0m-78 2h0m27 1h0m40 0h0m1 1h0m-4 1h0m5 1h0m-53 1h0m53 0h0m-76 1h0m72 0h0m9 0h0m-45 2h0m12 1h0m-31 2h0m10 0h0m-25 1h0m10 1h0m65 0h0m5 0h0m-57 1h0m23 0h0m7 1h0m-45 2h0m62 2h0m15 0h0m4 1h0m-32 2h0m-45 1h0m-4 2h0m22 0h0m33 0h0m-43 1h0m20 0h0m44 0h0m2 5h0m-46 1h0m29 0h0m-11 2h0m-8 1h0m16 0h0m-35 3h0m0 0h0m3 0h0m4 0h0m31 0h0m-39 1h0m2 3h0" stroke="#66c2a5" stroke-width="3.00"/>
<path d="M332 128h0m-33 8h0m13 2h0m-16 7h0m15 1h0m-9 1h0m18 7h0m-12 1h0m-25 5h0m14 7h0m-23 9h0m-145 26h0m15 0h0m-39 1h0m10 0h0m6 0h0m10 0h0m10 0h0m-30 1h0m20 0h0m247 0h0m-259 2h0m10 0h0m-11 2h0m7 1h0m8 1h0m2 0h0m28 0h0m155 0h0m-228 2h0m8 0h0m1 0h0m12 0h0m2 0h0m47 0h0m-62 1h0m47 0h0m11 0h0m-62 1h0m1 0h0m64 0h0m171 0h0m12 0h0m-242 2h0m31 0h0m-35 1h0m2 1h0m15 0h0m1 0h0m4 0h0m215 0h0m-234 1h0m7 0h0m5 0h0m-24 2h0m245 0h0m-243 1h0m3 0h0m13 0h0m16 0h0m212 0h0m-236 1h0m233 0h0m-238 1h0m224 0h0m-179 1h0m207 0h0m-260 1h0m48 0h0m6 0h0m-36 1h0m0 0h0m233 0h0m-249 1h0m39 1h0m9 0h0m13 0h0m-68 1h0m8 0h0m7 0h0m47 0h0m-17 1h0m19 0h0m176 0h0m-238 1h0m9 0h0m25 0h0m12 0h0m3 0h0m10 0h0m-41 1h0m11 0h0m216 0h0m-222 1h0m38 0h0m-10 1h0m28 0h0m165 0h0m-214 2h0m32 0h0m-32 1h0m-35 1h0m10 0h0m1 0h0m69 0h0m12 0h0m-68 1h0m7 0h0m35 0h0m-51 1h0m6 0h0m14 0h0m5 0h0m34 0h0m13 0h0m-78 1h0m24 1h0m2 0h0m3 0h0m73 0h0m-92 1h0m70 0h0m-22 1h0m-62 1h0m29 0h0m29 0h0m51 0h0m-102 1h0m77 0h0m20 0h0m-100 1h0m17 0h0m24 0h0m4 0h0m51 0h0m3 0h0m-96 1h0m0 0h0m3 0h0m6 0h0m3 0h0m10 0h0m40 0h0m22 0h0m12 0h0m-69 1h0m-30 1h0m20 0h0m4 0h0m64 0h0m-62 1h0m41 0h0m-73 1h0m25 0h0m15 0h0m-30 1h0m9 0h0m20 0h0m73 0h0m-105 1h0m1 0h0m84 0h0m-90 1h0m14 0h0m25 0h0m-28 1h0m6 0h0m14 0h0m55 0h0m-75 1h0m10 0h0m3 0h0m14 0h0m35 0h0m18 0h0m-62 1h0m8 0h0m17 0h0m280 0h0m-298 1h0m-3 1h0m38 0h0m-36 3h0m-17 4h0m305 0h0m-294 2h0m11 1h0m-28 1h0m4 0h0m44 1h0m-48 1h0m189 0h0m-195 2h0m26 0h0m7 0h0m-33 1h0m17 0h0m19 0h0m-6 1h0m285 1h0m-314 1h0m8 0h0m17 0h0m36 0h0m-54 1h0m5 0h0m1 0h0m44 0h0m3 0h0m-65 1h0m32 0h0m12 0h0m9 0h0m-29 1h0m5 0h0m27 0h0m-54 1h0m10 0h0m5 0h0m31 0h0m2 1h0m-48 2h0m8 0h0m48 0h0m-9 1h0m-35 1h0m18 0h0m5 0h0m192 0h0m-216 1h0m22 0h0m4 0h0m-35 1h0m14 0h0m3 0h0m2 0h0m1 0h0m6 0h0m8 0h0m-6 1h0m39 0h0m-69 1h0m56 0h0m7 0h0m-51 1h0m18 0h0m7 0h0m16 0h0m21 0h0m-65 1h0m16 0h0m38 0h0m-62 1h0m6 0h0m52 0h0m-28 1h0m15 0h0m33 1h0m-64 1h0m52 0h0m-61 1h0m-4 1h0m18 0h0m32 0h0m8 0h0m3 0h0m-19 1h0m10 0h0m8 1h0m5 0h0m3 0h0m-43 1h0m8 0h0m30 0h0m-18 1h0m26 1h0m4 0h0m-75 1h0m2 0h0m8 0h0m2 0h0m10 0h0m2 0h0m4 0h0m35 0h0m-53 1h0m51 0h0m-32 1h0m47 3h0m-30 3h0m145 21h0m21 19h0" stroke="#9e0142" stroke-width="3.00"/>
<path d="M280 243h0m11 4h0m51 1h0m28 0h0m-80 1h0m95 0h0m-111 1h0m27 0h0m44 0h0m24 0h0m15 1h0m-105 2h0m29 1h0m-56 1h0m121 0h0m-77 1h0m9 0h0m43 0h0m14 0h0m-70 1h0m68 1h0m41 1h0m-103 1h0m89 0h0m-69 1h0m72 0h0m-80 1h0m33 0h0m-40 1h0m41 0h0m-30 1h0m24 0h0m-37 1h0m10 0h0m14 0h0m67 0h0m-31 1h0m-96 1h0m55 0h0m29 0h0m-81 1h0m5 0h0m4 0h0m16 0h0m13 0h0m-43 1h0m38 0h0m3 0h0m16 0h0m13 0h0m58 0h0m-114 2h0m94 0h0m9 0h0m-108 1h0m64 0h0m-64 1h0m46 0h0m31 0h0m-94 1h0m50 0h0m56 0h0m-105 1h0m1 2h0m6 0h0m90 0h0m17 0h0m-98 1h0m56 0h0m61 0h0m-124 1h0m68 1h0m-28 1h0m87 0h0m-29 1h0m11 0h0m3 0h0m4 0h0m14 0h0m2 0h0m-121 1h0m25 0h0m82 0h0m-122 1h0m51 0h0m77 0h0m-126 1h0m36 0h0m5 0h0m18 0h0m49 0h0m-111 1h0m2 2h0m-4 1h0m55 0h0m-37 1h0m1 0h0m-9 1h0m60 0h0m33 0h0m29 0h0m4 0h0m-120 1h0m1 1h0m58 0h0m20 0h0m16 0h0m24 0h0m-84 1h0m78 1h0m11 0h0m-89 1h0m-36 1h0m98 0h0m-109 1h0m32 0h0m82 1h0m-57 1h0m40 0h0m-81 1h0m97 0h0m24 0h0m-133 1h0m70 0h0m61 0h0m0 0h0m3 1h0m-128 1h0m18 0h0m8 0h0m92 0h0m11 0h0m-141 1h0m11 1h0m49 0h0m21 0h0m18 0h0m8 0h0m22 0h0m-78 1h0m86 0h0m1 0h0m15 0h0m-136 1h0m24 0h0m18 0h0m-59 1h0m50 0h0m12 0h0m46 0h0m10 0h0m-117 1h0m3 0h0m-8 1h0m32 0h0m53 0h0m67 0h0m-116 1h0m1 0h0m2 0h0m13 0h0m4 0h0m13 0h0m15 0h0m-62 1h0m10 0h0m11 0h0m4 0h0m12 0h0m9 0h0m11 0h0m0 0h0m6 0h0m0 0h0m-77 1h0m3 0h0m17 0h0m50 0h0m1 0h0m4 0h0m4 0h0m8 0h0m10 0h0m-97 1h0m50 0h0m59 0h0m8 0h0m24 0h0m-139 1h0m16 0h0m45 0h0m15 0h0m-74 1h0m37 0h0m26 0h0m13 0h0m30 0h0m13 0h0m-120 1h0m88 0h0m33 0h0m-106 1h0m12 0h0m7 0h0m22 0h0m2 0h0m11 0h0m27 0h0m38 0h0m-87 1h0m13 0h0m17 0h0m-56 1h0m4 0h0m83 0h0m11 0h0m6 0h0m11 0h0m-112 1h0m15 0h0m4 0h0m12 0h0m13 0h0m49 0h0m5 0h0m-69 1h0m38 0h0m2 0h0m11 0h0m2 0h0m16 0h0m-63 1h0m4 0h0m34 0h0m9 0h0m10 0h0m10 0h0m3 0h0m2 0h0m-105 1h0m2 0h0m64 0h0m20 0h0m6 0h0m-107 1h0m29 0h0m47 0h0m41 0h0m-97 1h0m53 0h0m38 0h0m-81 1h0m54 0h0m30 0h0m-56 1h0m24 0h0m-86 1h0m45 0h0m14 0h0m40 0h0m9 0h0m3 0h0m17 0h0m-104 1h0m5 0h0m19 0h0m10 0h0m41 0h0m10 0h0m2 0h0m-42 1h0m-39 1h0m22 0h0m72 1h0m3 0h0m-50 1h0m11 0h0m4 0h0m14 0h0m4 0h0m-90 1h0m22 0h0m40 0h0m1 0h0m5 0h0m5 0h0m0 0h0m-42 1h0m13 0h0m0 0h0m37 0h0m13 0h0m-57 1h0m25 0h0m-72 1h0m19 0h0m16 0h0m2 0h0m8 0h0m49 0h0m12 0h0m-101 1h0m6 0h0m27 0h0m16 0h0m1 0h0m-22 1h0m14 0h0m30 0h0m18 0h0m15 0h0m3 0h0m-105 1h0m39 0h0m58 0h0m0 0h0m-80 1h0m10 0h0m35 0h0m27 0h0m7 0h0m-101 1h0m3 0h0m13 0h0m45 0h0m-28 1h0m19 0h0m5 0h0m-63 1h0m24 0h0m-19 1h0m15 0h0m0 0h0m22 0h0m67 0h0m-93 1h0m37 0h0m11 0h0m2 0h0m17 0h0m-68 1h0m56 0h0m-53 1h0m17 0h0m26 0h0m60 0h0m-57 1h0m3 0h0m31 0h0m-92 1h0m71 0h0m22 0h0m-91 1h0m20 0h0m40 0h0m21 0h0m6 0h0m12 0h0m11 0h0m-114 1h0m39 0h0m48 0h0m7 0h0m14 0h0m-92 1h0m15 0h0m9 0h0m2 0h0m0 0h0m27 0h0m5 0h0m1 0h0m3 0h0m24 0h0m-50 1h0m18 0h0m1 0h0m9 0h0m9 0h0m25 0h0m-91 1h0m61 0h0m7 0h0m-82 1h0m5 0h0m1 0h0m34 0h0m26 0h0m7 0h0m-70 1h0m9 0h0m34 0h0m6 0h0m40 0h0m-23 1h0m-80 1h0m46 0h0m20 0h0m12 0h0m30 0h0m-63 1h0m9 0h0m11 0h0m43 0h0m3 0h0m-97 1h0m6 0h0m15 0h0m32 0h0m7 0h0m27 0h0m-86 1h0m56 0h0m0 0h0m-16 1h0m1 0h0m5 0h0m5 0h0m20 0h0m11 0h0m1 0h0m2 0h0m5 0h0m-95 1h0m8 0h0m9 0h0m5 0h0m37 0h0m17 0h0m3 0h0m9 0h0m11 0h0m-82 1h0m68 0h0m-7 1h0m24 0h0m-81 1h0m8 0h0m48 0h0m2 0h0m-71 1h0m53 0h0m12 0h0m-8 1h0m4 0h0m-73 1h0m46 0h0m0 0h0m-42 1h0m17 0h0m72 0h0m-72 1h0m14 1h0m16 0h0m16 0h0m18 0h0m-70 1h0m17 0h0m4 0h0m8 0h0m10 0h0m23 0h0m17 0h0m-76 1h0m11 0h0m8 0h0m37 0h0m30 0h0m-81 1h0m12 0h0m8 0h0m8 0h0m9 0h0m18 1h0m11 0h0m3 0h0m-50 1h0m2 0h0m41 0h0m-23 1h0m4 0h0m3 0h0m15 0h0m5 0h0m-39 1h0m26 0h0m7 0h0m-10 1h0m1 0h0m-7 1h0m11 0h0m11 0h0m-7 1h0m-16 1h0m6 0h0m6 2h0m-50 2h0m9 0h0m40 1h0m-37 1h0m-17 1h0m6 1h0m-3 1h0" stroke="#abdda4" stroke-width="3.00"/>
<path d="M302 116h0m5 0h0m-2 1h0m-12 1h0m7 2h0m1 0h0m-1 1h0m-10 1h0m2 0h0m7 0h0m0 0h0m6 0h0m7 0h0m-15 1h0m17 0h0m-30 1h0m11 0h0m28 0h0m-18 1h0m-17 1h0m1 0h0m18 0h0m2 0h0m-11 1h0m3 0h0m2 0h0m-13 1h0m17 0h0m7 0h0m1 0h0m-29 1h0m2 0h0m23 0h0m3 0h0m-7 1h0m16 0h0m18 0h0m-55 1h0m12 0h0m40 0h0m-9 1h0m-36 1h0m1 0h0m10 0h0m20 0h0m14 0h0m-42 1h0m6 0h0m6 0h0m37 0h0m-52 1h0m46 0h0m-26 1h0m13 0h0m4 0h0m2 0h0m9 0h0m11 0h0m-48 1h0m4 0h0m30 0h0m15 0h0m-22 1h0m8 0h0m1 0h0m-61 1h0m2 0h0m22 0h0m37 0h0m-43 1h0m17 0h0m1 0h0m-40 1h0m7 0h0m23 0h0m11 0h0m35 0h0m-65 1h0m15 0h0m33 0h0m7 0h0m-61 1h0m18 0h0m1 0h0m6 0h0m1 0h0m22 0h0m-37 1h0m8 1h0m9 0h0m5 0h0m29 1h0m8 0h0m-62 1h0m17 0h0m6 0h0m3 0h0m4 0h0m30 0h0m-73 1h0m40 0h0m1 0h0m16 0h0m13 0h0m8 0h0m-48 1h0m4 0h0m13 0h0m1 0h0m16 0h0m7 0h0m4 1h0m2 0h0m-74 1h0m75 0h0m9 0h0m-86 1h0m30 0h0m5 0h0m4 0h0m34 0h0m-64 1h0m2 0h0m27 0h0m0 0h0m18 0h0m18 0h0m18 0h0m1 0h0m-87 1h0m6 0h0m1 0h0m47 0h0m31 0h0m-85 1h0m11 0h0m10 0h0m16 0h0m32 0h0m1 0h0m6 0h0m4 0h0m1 0h0m-55 1h0m1 0h0m6 0h0m-36 1h0m3 0h0m19 0h0m9 0h0m1 0h0m6 0h0m10 0h0m1 0h0m30 1h0m10 0h0m3 0h0m1 0h0m-34 1h0m-55 1h0m26 0h0m6 0h0m13 0h0m21 0h0m18 0h0m10 0h0m-81 1h0m68 0h0m-70 1h0m32 0h0m39 0h0m-68 1h0m8 0h0m1 0h0m70 0h0m-84 1h0m77 0h0m-8 1h0m-26 1h0m10 0h0m30 0h0m-101 1h0m1 0h0m9 0h0m18 0h0m42 0h0m9 0h0m5 0h0m10 0h0m-78 1h0m9 0h0m10 1h0m56 1h0m-64 2h0m64 0h0m-58 2h0m6 1h0m5 1h0m1 0h0m11 0h0m6 0h0m32 0h0m-60 1h0m61 0h0m-68 1h0m12 0h0m-10 1h0m9 0h0m44 0h0m-29 1h0m0 0h0m41 0h0m-65 1h0m2 0h0m23 0h0m6 0h0m3 0h0m-52 1h0m17 0h0m43 0h0m8 0h0m14 0h0m-64 1h0m7 0h0m16 0h0m4 0h0m17 0h0m-44 1h0m12 0h0m8 0h0m28 0h0m6 0h0m-95 1h0m43 0h0m1 0h0m17 0h0m-52 1h0m47 0h0m2 0h0m-64 1h0m1 0h0m71 0h0m1 0h0m39 0h0m8 0h0m-107 1h0m9 0h0m20 0h0m3 0h0m13 0h0m15 0h0m36 0h0m-61 1h0m-7 1h0m9 0h0m2 0h0m43 0h0m-91 1h0m10 0h0m12 0h0m97 0h0m-68 1h0m3 0h0m0 0h0m52 0h0m8 0h0m-119 1h0m7 1h0m47 0h0m19 0h0m-17 1h0m5 0h0m32 0h0m-93 1h0m32 0h0m75 0h0m-107 1h0m20 0h0m11 2h0m87 0h0m-110 2h0m12 0h0m101 0h0m-113 1h0m35 0h0m71 0h0m-93 1h0m0 1h0m7 0h0m75 0h0m-63 2h0m-19 1h0m29 0h0m70 0h0m-117 1h0m25 0h0m82 0h0m-100 1h0m110 0h0m-37 1h0m13 0h0m-77 1h0m104 1h0m-19 2h0m-98 1h0m7 0h0m2 0h0m8 0h0m38 0h0m53 0h0m-56 1h0m16 0h0m17 0h0m-61 2h0m73 0h0m-102 1h0m6 0h0m5 0h0m110 0h0m-103 1h0m57 1h0m-67 1h0m10 0h0m1 0h0m5 0h0m77 0h0m20 0h0m-63 1h0m-37 1h0m-17 1h0m12 0h0m63 0h0m-67 1h0m19 0h0m39 0h0m-54 1h0m100 0h0m1 0h0m8 0h0m-111 1h0m28 0h0m-25 1h0m102 0h0m2 1h0m-109 1h0m80 0h0m36 0h0m1 1h0m13 0h0m-79 1h0m54 0h0m24 0h0m-113 1h0m96 1h0m12 0h0m-15 1h0m11 0h0m1 0h0m7 0h0m-132 1h0m65 0h0m-25 1h0m71 0h0m10 0h0m-21 1h0m-56 1h0m76 0h0m-106 1h0m93 0h0m22 0h0m1 0h0m4 0h0m-64 1h0m41 0h0m19 1h0m-14 1h0m22 0h0m-26 1h0m8 0h0m12 1h0m8 0h0m4 0h0m-30 2h0m22 0h0m10 0h0m-29 2h0m1 0h0m12 0h0m-7 3h0m14 0h0m-26 1h0m12 1h0m17 0h0m2 0h0m-15 1h0m4 1h0m13 0h0m4 0h0m6 0h0m-13 1h0m3 0h0m-1 1h0m2 0h0m-23 1h0m16 0h0m1 1h0m10 1h0m-33 1h0m9 0h0m1 2h0m2 0h0m0 0h0m10 2h0m21 2h0m-36 1h0m24 0h0m-15 2h0m6 1h0m-6 2h0m15 1h0m4 0h0m-24 2h0m0 1h0m4 0h0m21 0h0m-20 2h0m14 0h0m-13 2h0m-3 2h0m15 0h0m-12 1h0m12 0h0m3 1h0m-25 1h0m15 2h0m1 3h0m7 12h0m-1 1h0m-5 3h0m6 5h0" stroke="#5e4fa2" stroke-width="3.00"/>
<path d="M306 122h0m12 3h0m-34 1h0m4 0h0m18 0h0m-16 1h0m2 2h0m22 0h0m15 0h0m-37 2h0m1 0h0m7 1h0m25 0h0m8 1h0m8 1h0m-63 3h0m36 0h0m1 0h0m0 2h0m26 0h0m-59 2h0m27 0h0m18 0h0m-29 1h0m7 1h0m44 0h0m-35 3h0m3 2h0m-36 1h0m34 0h0m7 1h0m20 0h0m-12 3h0m40 0h0m-48 3h0m-5 1h0m0 1h0m11 0h0m25 0h0m-9 2h0m-35 1h0m24 2h0m3 0h0m-43 2h0m14 0h0m26 0h0m-16 3h0m-7 1h0m21 2h0m-63 3h0m98 6h0m-5 3h0m-106 1h0m104 1h0m-93 1h0m40 0h0m14 0h0m-61 1h0m53 1h0m-52 2h0m5 0h0m15 0h0m25 0h0m23 1h0m-66 2h0m8 1h0m48 0h0m29 1h0m22 0h0m-84 1h0m53 1h0m-75 1h0m21 0h0m64 0h0m-77 1h0m20 0h0m77 1h0m-92 1h0m68 0h0m7 0h0m8 0h0m-95 1h0m2 1h0m2 0h0m-2 1h0m1 0h0m0 0h0m18 0h0m91 0h0m-116 1h0m6 0h0m15 0h0m1 0h0m-14 1h0m24 0h0m-27 1h0m2 0h0m6 0h0m49 0h0m-48 2h0m-9 1h0m14 0h0m-12 1h0m68 0h0m43 1h0m-121 2h0m13 0h0m3 1h0m5 1h0m10 0h0m89 0h0m-107 1h0m10 0h0m1 0h0m75 0h0m-82 1h0m6 0h0m-24 3h0m3 0h0m8 0h0m9 1h0m-13 1h0m24 1h0m-7 1h0m-13 1h0m6 0h0m-12 2h0m19 0h0m41 0h0m60 0h0m-115 2h0m56 0h0m46 0h0m-89 1h0m-16 1h0m124 2h0m1 0h0m-10 1h0m11 1h0m-25 2h0m38 0h0m-9 2h0m-6 1h0m12 0h0m-6 2h0m-22 2h0m30 0h0m-29 5h0m6 3h0m21 1h0m-22 1h0m4 5h0m23 2h0m-23 1h0m16 0h0m24 1h0m-37 1h0m1 1h0m24 2h0m-10 2h0m17 1h0m-17 1h0m8 1h0m-12 2h0m15 2h0m2 1h0m-10 1h0m-6 1h0m-2 3h0m0 5h0" stroke="#3288bd" stroke-width="3.00"/>
<path d="M349 199h0m12 9h0m9 2h0m-51 13h0m16 12h0m2 0h0m3 4h0m-12 1h0m-51 2h0m17 3h0m79 0h0m-98 1h0m5 0h0m40 0h0m-44 2h0m28 0h0m57 1h0m9 0h0m-58 1h0m12 0h0m73 0h0m-128 1h0m58 0h0m41 0h0m-98 2h0m121 0h0m-113 1h0m6 0h0m21 0h0m-23 1h0m20 0h0m6 0h0m32 0h0m3 1h0m-27 1h0m69 0h0m-77 2h0m69 2h0m5 0h0m-130 1h0m6 0h0m25 0h0m13 0h0m50 0h0m34 0h0m-78 1h0m-26 1h0m98 0h0m13 0h0m-98 1h0m35 0h0m44 0h0m16 0h0m3 0h0m-65 1h0m-30 1h0m20 1h0m-30 1h0m1 0h0m2 0h0m18 0h0m55 0h0m25 0h0m-28 1h0m-98 1h0m4 1h0m42 0h0m14 0h0m-49 1h0m51 0h0m66 0h0m9 0h0m18 1h0m-93 1h0m2 0h0m12 1h0m46 0h0m-124 1h0m4 0h0m10 0h0m1 0h0m35 0h0m3 0h0m59 0h0m-104 1h0m29 0h0m61 0h0m14 1h0m9 0h0m-115 1h0m5 0h0m10 0h0m60 0h0m54 0h0m-113 1h0m44 0h0m22 0h0m59 0h0m-103 1h0m63 0h0m8 0h0m16 1h0m-127 1h0m18 0h0m77 0h0m14 0h0m9 0h0m-120 1h0m127 0h0m3 0h0m5 0h0m8 0h0m-21 1h0m22 0h0m-140 1h0m8 0h0m49 0h0m-54 1h0m1 0h0m126 1h0m-114 1h0m9 0h0m49 1h0m1 0h0m-13 1h0m21 0h0m-88 1h0m12 0h0m3 0h0m74 0h0m37 0h0m-123 1h0m10 1h0m4 0h0m35 0h0m95 0h0m-142 1h0m16 0h0m111 0h0m-129 1h0m9 0h0m95 0h0m-96 1h0m53 0h0m22 0h0m15 0h0m-81 1h0m68 0h0m42 0h0m-125 1h0m44 0h0m1 0h0m18 0h0m83 0h0m-145 1h0m9 0h0m114 0h0m-117 1h0m8 0h0m30 0h0m11 0h0m9 0h0m18 0h0m-70 1h0m96 0h0m-101 1h0m7 0h0m-2 1h0m2 0h0m50 0h0m-45 1h0m18 0h0m10 0h0m56 0h0m44 1h0m-144 1h0m30 0h0m98 0h0m-81 1h0m-47 1h0m80 0h0m4 0h0m-88 1h0m4 0h0m9 0h0m36 0h0m61 0h0m-40 1h0m31 0h0m-98 1h0m30 0h0m30 0h0m35 0h0m8 0h0m1 0h0m40 0h0m-100 1h0m3 0h0m38 0h0m-55 1h0m39 0h0m9 0h0m8 0h0m11 0h0m-92 1h0m72 0h0m22 0h0m12 0h0m17 0h0m-48 1h0m15 0h0m13 0h0m13 0h0m4 0h0m-100 1h0m25 1h0m38 0h0m-48 1h0m3 0h0m10 0h0m1 0h0m9 1h0m12 0h0m1 0h0m2 0h0m51 0h0m-52 1h0m20 0h0m4 0h0m21 0h0m13 0h0m-110 1h0m5 0h0m22 0h0m4 0h0m2 0h0m60 0h0m5 0h0m-59 1h0m7 0h0m14 0h0m9 0h0m0 0h0m10 0h0m9 0h0m8 0h0m-90 1h0m19 0h0m26 0h0m49 0h0m-67 1h0m2 0h0m14 0h0m19 0h0m-59 1h0m18 0h0m23 0h0m4 0h0m5 0h0m26 0h0m10 0h0m10 0h0m-100 1h0m38 0h0m17 0h0m1 0h0m25 0h0m21 0h0m2 0h0m7 0h0m2 0h0m-65 1h0m2 0h0m-76 1h0m57 0h0m5 0h0m24 0h0m29 0h0m-101 1h0m25 0h0m63 0h0m14 0h0m23 0h0m-81 1h0m45 0h0m2 0h0m-42 1h0m11 0h0m16 0h0m2 0h0m37 0h0m-95 1h0m6 0h0m11 0h0m74 0h0m15 0h0m-41 1h0m-91 1h0m115 0h0m14 0h0m-115 1h0m5 0h0m41 0h0m2 1h0m53 0h0m19 0h0m-122 1h0m19 0h0m32 0h0m15 0h0m19 0h0m5 0h0m-21 1h0m2 0h0m1 0h0m4 0h0m-14 1h0m24 0h0m-81 1h0m2 0h0m16 0h0m34 0h0m3 0h0m21 0h0m9 0h0m21 0h0m-108 1h0m18 0h0m17 0h0m12 0h0m55 0h0m-95 1h0m38 0h0m27 0h0m6 0h0m-21 1h0m2 0h0m-67 1h0m26 0h0m15 0h0m42 0h0m3 0h0m1 0h0m3 0h0m21 0h0m-76 1h0m0 0h0m43 0h0m33 0h0m6 0h0m-94 1h0m11 0h0m13 0h0m5 0h0m20 0h0m16 0h0m17 0h0m-71 1h0m37 0h0m28 0h0m-47 1h0m40 0h0m-85 1h0m2 0h0m12 0h0m1 1h0m11 0h0m-19 1h0m7 0h0m15 0h0m16 0h0m7 0h0m0 0h0m1 0h0m21 0h0m6 0h0m-81 1h0m7 0h0m27 0h0m53 0h0m-67 1h0m43 0h0m16 0h0m-64 1h0m2 0h0m40 0h0m23 0h0m-64 1h0m13 0h0m21 0h0m6 0h0m-37 1h0m3 0h0m13 0h0m17 0h0m19 0h0m5 0h0m15 0h0m-81 1h0m46 0h0m1 0h0m19 0h0m32 0h0m-66 1h0m16 0h0m6 0h0m19 0h0m5 0h0m12 0h0m-75 1h0m1 0h0m6 0h0m5 0h0m11 0h0m21 0h0m-70 1h0m45 0h0m22 0h0m7 0h0m-61 1h0m57 0h0m5 0h0m20 0h0m-71 1h0m16 0h0m21 0h0m4 0h0m14 0h0m-65 1h0m3 0h0m38 0h0m10 0h0m38 0h0m-95 1h0m20 0h0m40 0h0m6 0h0m-71 1h0m12 0h0m51 0h0m15 0h0m-62 1h0m27 0h0m15 0h0m25 0h0m7 1h0m-84 1h0m2 0h0m4 0h0m58 0h0m3 0h0m3 0h0m7 0h0m5 0h0m-45 1h0m15 0h0m-37 1h0m5 0h0m26 0h0m15 0h0m8 0h0m-75 1h0m84 0h0m2 0h0m-65 1h0m30 0h0m40 0h0m-81 1h0m6 0h0m2 0h0m26 0h0m10 0h0m3 1h0m38 0h0m-78 1h0m13 0h0m19 0h0m-25 2h0m41 0h0m2 0h0m6 0h0m4 0h0m-41 1h0m7 0h0m5 0h0m12 0h0m13 0h0m-20 1h0m0 0h0m-5 1h0m11 0h0m1 0h0m3 0h0m-17 1h0m11 0h0m15 0h0m18 0h0m-61 1h0m35 0h0m-32 1h0m15 0h0m10 0h0m22 0h0m9 1h0m-19 1h0m12 0h0m-27 1h0m6 0h0m13 0h0m-52 1h0m38 0h0m-6 2h0m-16 6h0" stroke="#e6f598" stroke-width="3.00"/>
<path d="M318 128h0m0 36h0m-27 4h0m63 5h0m-226 32h0m1 0h0m3 0h0m-9 2h0m2 0h0m5 0h0m-25 1h0m12 0h0m22 0h0m-30 1h0m9 2h0m17 0h0m-5 1h0m20 1h0m-26 1h0m194 0h0m-180 1h0m200 0h0m-218 1h0m21 1h0m11 1h0m0 0h0m158 0h0m-169 1h0m205 0h0m1 1h0m-240 1h0m25 0h0m180 0h0m-159 1h0m157 0h0m-211 1h0m0 0h0m23 0h0m-39 1h0m16 0h0m5 0h0m22 0h0m-17 1h0m4 0h0m22 0h0m195 0h0m8 0h0m-255 1h0m48 0h0m-16 2h0m198 0h0m-225 1h0m6 1h0m6 0h0m44 0h0m-17 1h0m195 0h0m-233 1h0m39 1h0m24 0h0m-55 2h0m50 0h0m-62 1h0m40 0h0m31 0h0m168 0h0m-148 1h0m-92 1h0m3 0h0m10 0h0m7 0h0m58 0h0m-1 1h0m-42 1h0m10 0h0m-17 1h0m14 0h0m11 0h0m28 0h0m-64 1h0m30 0h0m-45 1h0m-6 2h0m76 0h0m7 0h0m2 0h0m-72 1h0m43 0h0m17 0h0m8 0h0m13 0h0m-92 1h0m52 0h0m15 0h0m-40 1h0m25 0h0m12 0h0m10 0h0m10 0h0m-7 1h0m12 0h0m16 1h0m-59 1h0m29 0h0m-72 1h0m25 0h0m9 0h0m-33 1h0m2 0h0m24 0h0m6 0h0m7 0h0m25 0h0m10 0h0m-46 2h0m66 1h0m-83 1h0m25 0h0m7 0h0m6 0h0m22 0h0m-1 1h0m3 0h0m-66 2h0m0 3h0m57 1h0m-26 1h0m-29 2h0m-9 1h0m-2 1h0m20 1h0m-17 1h0m1 1h0m4 0h0m26 1h0m43 0h0m-73 1h0m4 0h0m-3 3h0m50 1h0m-51 2h0m25 0h0m28 0h0m10 0h0m-42 1h0m5 0h0m12 1h0m-24 1h0m38 1h0m-41 1h0m36 2h0m29 0h0m5 0h0m-38 1h0m11 0h0m-42 1h0m15 0h0m30 1h0m-9 1h0m-48 1h0m61 0h0m17 0h0m-65 1h0m10 0h0m-20 1h0m3 0h0m-2 3h0m55 0h0m12 2h0m-44 1h0m0 0h0m3 0h0m34 0h0m12 0h0m3 0h0m-64 1h0m63 1h0m-76 1h0m-2 1h0m11 1h0m31 0h0m3 0h0m-23 1h0m-9 1h0m32 0h0m-39 1h0m56 1h0m-39 2h0m48 1h0m227 2h0m-76 68h0" stroke="#fdae61" stroke-width="3.00"/></g><g stroke-opacity="0.95"><path d="M767 118h0m-2 4h0m-3 1h0m15 0h0m-11 1h0m7 0h0m8 2h0m8 0h0m-49 1h0m13 0h0m19 0h0m13 0h0m-31 1h0m1 1h0m17 0h0m20 0h0m-40 1h0m4 0h0m-1 1h0m14 0h0m4 0h0m5 0h0m5 0h0m1 0h0m-41 1h0m0 0h0m12 0h0m24 0h0m11 0h0m-36 1h0m25 0h0m-28 1h0m1 0h0m8 0h0m8 0h0m4 0h0m5 0h0m10 0h0m9 0h0m-34 1h0m24 0h0m-40 1h0m20 0h0m6 0h0m-29 1h0m10 0h0m2 0h0m2 0h0m6 0h0m-20 1h0m26 0h0m-24 1h0m22 0h0m27 0h0m8 0h0m-63 1h0m26 0h0m23 0h0m6 0h0m-51 1h0m14 0h0m37 0h0m3 0h0m1 0h0m0 0h0m-55 1h0m21 0h0m16 0h0m12 0h0m-50 1h0m11 0h0m26 0h0m21 0h0m7 0h0m2 0h0m-43 1h0m-27 1h0m11 0h0m21 0h0m26 0h0m13 0h0m-47 1h0m21 0h0m2 0h0m6 0h0m11 0h0m-53 1h0m1 0h0m3 0h0m1 0h0m7 0h0m-9 1h0m0 0h0m23 0h0m12 0h0m-38 1h0m12 0h0m20 0h0m-43 1h0m0 0h0m42 0h0m16 0h0m17 0h0m-64 1h0m26 0h0m8 0h0m7 0h0m23 1h0m10 0h0m-78 1h0m7 0h0m3 0h0m15 0h0m14 0h0m7 0h0m11 0h0m12 0h0m6 0h0m-57 1h0m65 0h0m2 0h0m-71 1h0m1 0h0m1 0h0m9 0h0m25 0h0m13 0h0m14 0h0m-79 1h0m12 0h0m6 0h0m28 0h0m13 0h0m-43 1h0m12 0h0m6 0h0m31 0h0m6 0h0m5 0h0m4 1h0m-49 1h0m10 0h0m35 0h0m-44 1h0m53 0h0m2 0h0m-71 1h0m22 0h0m-27 1h0m1 0h0m69 0h0m-59 1h0m7 0h0m-34 1h0m99 0h0m0 0h0m3 0h0m-83 1h0m81 1h0m-60 1h0m50 1h0m-49 1h0m7 1h0m36 2h0m3 0h0m5 0h0m-67 1h0m1 0h0m25 0h0m12 0h0m29 0h0m-55 1h0m23 1h0m19 0h0m-46 1h0m8 0h0m34 0h0m-52 1h0m2 0h0m22 0h0m5 0h0m4 0h0m40 0h0m-65 1h0m-20 2h0m39 0h0m-14 1h0m-40 1h0m82 0h0m-44 2h0m42 0h0m-32 1h0m38 0h0m-75 1h0m30 0h0m11 0h0m0 0h0m5 0h0m1 0h0m-67 1h0m17 0h0m33 0h0m31 0h0m14 1h0m6 0h0m-47 1h0m-56 1h0m30 0h0m21 0h0m42 0h0m-47 1h0m13 0h0m-52 1h0m33 0h0m4 0h0m9 0h0m-53 1h0m5 0h0m20 0h0m54 0h0m19 1h0m-91 1h0m3 0h0m5 1h0m34 0h0m5 0h0m3 0h0m-57 1h0m16 0h0m37 0h0m5 0h0m32 0h0m18 0h0m-95 1h0m78 0h0m-214 1h0m116 0h0m17 0h0m4 0h0m-8 1h0m16 0h0m1 0h0m86 0h0m-236 1h0m130 0h0m-133 1h0m125 0h0m3 0h0m49 0h0m65 0h0m-72 1h0m-166 1h0m130 0h0m13 0h0m49 0h0m-193 1h0m2 0h0m141 0h0m-173 2h0m166 0h0m64 0h0m30 1h0m-248 1h0m10 0h0m216 0h0m-226 1h0m27 0h0m115 0h0m5 0h0m22 0h0m-148 1h0m0 0h0m-42 1h0m13 0h0m32 0h0m117 0h0m25 0h0m43 0h0m44 0h0m-269 1h0m170 0h0m49 0h0m2 0h0m39 0h0m13 0h0m-273 1h0m5 0h0m187 0h0m16 0h0m-215 1h0m28 0h0m158 0h0m39 0h0m-221 1h0m171 0h0m84 0h0m-259 1h0m56 0h0m-10 1h0m117 0h0m9 0h0m99 0h0m-50 1h0m7 0h0m32 0h0m-77 1h0m2 0h0m46 0h0m21 0h0m-246 1h0m44 0h0m4 0h0m-34 1h0m40 0h0m117 0h0m53 0h0m-198 1h0m247 0h0m14 0h0m-301 1h0m10 0h0m11 0h0m19 0h0m138 0h0m47 0h0m20 0h0m-228 1h0m2 0h0m225 0h0m-240 1h0m2 0h0m49 0h0m123 0h0m1 0h0m-149 1h0m21 0h0m5 0h0m1 0h0m123 0h0m61 0h0m0 0h0m-193 1h0m4 0h0m4 0h0m1 1h0m0 0h0m124 0h0m10 0h0m-157 1h0m221 0h0m36 0h0m-288 1h0m18 0h0m17 0h0m11 0h0m9 0h0m139 0h0m-178 1h0m41 0h0m117 0h0m25 0h0m58 0h0m44 0h0m-304 1h0m5 0h0m40 0h0m146 0h0m67 0h0m45 0h0m-285 1h0m47 0h0m3 0h0m150 0h0m68 0h0m12 0h0m3 0h0m-304 1h0m186 0h0m-178 1h0m30 0h0m26 0h0m177 0h0m-230 1h0m37 0h0m16 0h0m11 0h0m0 0h0m201 0h0m-233 1h0m16 0h0m244 0h0m-108 1h0m110 0h0m15 0h0m-313 1h0m12 0h0m-8 1h0m27 0h0m41 0h0m229 0h0m6 0h0m5 0h0m-312 1h0m21 0h0m18 0h0m11 0h0m163 0h0m70 0h0m23 0h0m-308 1h0m15 0h0m3 0h0m7 0h0m186 0h0m0 0h0m99 0h0m11 0h0m7 0h0m-260 1h0m12 0h0m19 0h0m4 0h0m98 0h0m18 0h0m-205 1h0m28 0h0m194 0h0m-231 1h0m213 0h0m23 0h0m10 0h0m-249 1h0m61 0h0m31 0h0m201 0h0m-285 1h0m0 0h0m6 0h0m1 0h0m6 0h0m24 0h0m3 0h0m26 0h0m15 0h0m87 0h0m122 0h0m-269 1h0m0 0h0m5 0h0m224 0h0m5 0h0m0 0h0m-252 1h0m22 0h0m14 0h0m37 0h0m10 0h0m98 0h0m1 0h0m57 0h0m-253 1h0m20 0h0m188 0h0m51 0h0m-156 1h0m81 0h0m7 0h0m60 0h0m6 0h0m32 0h0m9 0h0m1 0h0m-295 1h0m76 0h0m8 0h0m206 0h0m4 0h0m-269 1h0m23 0h0m15 0h0m5 0h0m137 0h0m23 0h0m54 0h0m17 0h0m11 0h0m-15 1h0m5 0h0m7 0h0m-295 1h0m1 0h0m14 0h0m15 0h0m4 0h0m148 0h0m27 0h0m57 0h0m-266 1h0m23 0h0m178 0h0m84 0h0m14 0h0m10 0h0m-73 1h0m-238 1h0m180 0h0m8 0h0m67 0h0m44 0h0m-276 1h0m163 0h0m4 0h0m10 0h0m22 0h0m65 0h0m3 0h0m-111 1h0m73 0h0m45 0h0m-265 1h0m163 0h0m19 0h0m5 0h0m61 0h0m5 0h0m-272 1h0m1 0h0m140 0h0m108 0h0m15 0h0m13 0h0m11 0h0m-313 1h0m292 1h0m37 0h0m-103 1h0m4 0h0m98 0h0m-320 2h0m172 0h0m136 0h0m-114 1h0m30 0h0m16 0h0m-229 1h0m211 0h0m78 0h0m1 0h0m19 0h0m-303 1h0m2 0h0m152 0h0m13 0h0m18 0h0m114 0h0m2 0h0m-68 1h0m7 0h0m-240 1h0m22 0h0m123 0h0m28 0h0m32 0h0m21 0h0m0 0h0m16 0h0m29 0h0m-287 1h0m172 0h0m7 0h0m76 0h0m24 0h0m-98 1h0m32 0h0m4 0h0m46 0h0m27 0h0m-119 1h0m4 0h0m28 0h0m29 0h0m57 0h0m11 0h0m6 0h0m-270 1h0m174 0h0m57 0h0m5 0h0m-224 1h0m117 0h0m55 0h0m58 0h0m5 0h0m4 0h0m-291 1h0m201 0h0m8 0h0m35 0h0m70 0h0m-296 1h0m27 0h0m122 0h0m66 0h0m5 0h0m2 0h0m33 0h0m6 0h0m2 0h0m-265 1h0m15 0h0m13 0h0m124 0h0m5 0h0m112 0h0m11 0h0m6 0h0m14 0h0m-325 1h0m1 0h0m33 0h0m11 0h0m21 0h0m113 0h0m91 0h0m6 0h0m7 0h0m13 0h0m3 0h0m9 0h0m-250 1h0m174 0h0m48 0h0m1 0h0m-264 1h0m1 0h0m11 0h0m166 0h0m47 0h0m73 0h0m10 0h0m-325 1h0m9 0h0m21 0h0m24 0h0m14 0h0m128 0h0m23 0h0m14 0h0m71 0h0m7 0h0m-292 1h0m55 0h0m166 0h0m49 0h0m22 0h0m-311 1h0m10 0h0m64 0h0m94 0h0m17 0h0m8 0h0m34 0h0m36 0h0m9 0h0m20 0h0m17 0h0m-295 1h0m9 0h0m11 0h0m41 0h0m123 0h0m1 0h0m77 0h0m12 0h0m29 0h0m6 0h0m9 0h0m-325 1h0m8 0h0m0 0h0m15 0h0m41 0h0m102 0h0m109 0h0m20 0h0m-285 1h0m43 0h0m21 0h0m104 0h0m6 0h0m3 0h0m30 0h0m42 0h0m0 0h0m52 0h0m4 0h0m-313 1h0m8 0h0m15 0h0m17 0h0m0 0h0m2 0h0m122 0h0m6 0h0m66 0h0m-224 1h0m16 0h0m4 0h0m14 0h0m3 0h0m116 0h0m7 0h0m16 0h0m11 0h0m73 0h0m39 0h0m-316 1h0m16 0h0m2 0h0m7 0h0m8 0h0m142 0h0m134 0h0m4 0h0m3 0h0m16 0h0m-321 1h0m46 0h0m126 0h0m41 0h0m46 0h0m-274 1h0m14 0h0m3 0h0m59 0h0m104 0h0m6 0h0m2 0h0m8 0h0m107 0h0m-291 1h0m5 0h0m3 0h0m43 0h0m9 0h0m112 0h0m2 0h0m82 0h0m23 0h0m-286 1h0m23 1h0m47 0h0m105 0h0m2 0h0m49 0h0m48 0h0m14 0h0m24 0h0m9 0h0m-324 1h0m1 0h0m18 0h0m166 0h0m89 0h0m50 0h0m-299 1h0m5 0h0m34 0h0m9 0h0m4 0h0m1 0h0m247 0h0m-300 1h0m254 0h0m-272 1h0m44 0h0m127 0h0m5 0h0m68 0h0m20 0h0m12 0h0m8 0h0m26 0h0m5 0h0m-283 1h0m177 0h0m16 0h0m9 0h0m78 0h0m-256 1h0m124 0h0m117 0h0m9 0h0m-121 1h0m41 0h0m23 0h0m64 0h0m-313 1h0m9 0h0m39 0h0m228 0h0m36 0h0m-307 1h0m0 0h0m37 0h0m22 0h0m115 0h0m23 0h0m6 0h0m31 0h0m2 0h0m1 0h0m22 0h0m1 0h0m-89 1h0m8 0h0m49 0h0m54 0h0m13 0h0m-297 1h0m68 0h0m130 0h0m4 0h0m9 0h0m33 0h0m52 0h0m3 0h0m2 0h0m-282 1h0m190 0h0m1 0h0m20 0h0m-36 1h0m1 0h0m25 0h0m20 0h0m1 0h0m73 0h0m-140 1h0m2 0h0m3 0h0m20 0h0m55 0h0m7 0h0m5 0h0m8 0h0m35 0h0m-143 1h0m25 0h0m1 0h0m27 0h0m36 0h0m30 0h0m-109 1h0m60 0h0m4 0h0m2 0h0m3 0h0m8 0h0m12 0h0m25 0h0m6 0h0m-104 1h0m16 0h0m8 0h0m99 0h0m-117 1h0m18 0h0m24 0h0m16 0h0m2 0h0m9 0h0m2 0h0m5 0h0m3 0h0m14 0h0m-97 1h0m9 0h0m12 0h0m26 0h0m5 0h0m8 0h0m50 0h0m-86 1h0m24 0h0m58 0h0m13 0h0m-123 1h0m16 0h0m10 0h0m28 0h0m13 0h0m13 0h0m4 0h0m4 0h0m11 0h0m-46 1h0m51 0h0m11 0h0m-130 1h0m17 0h0m11 0h0m5 0h0m40 0h0m16 0h0m5 0h0m6 0h0m15 0h0m10 0h0m-129 1h0m53 0h0m8 0h0m13 0h0m17 0h0m14 0h0m14 0h0m12 0h0m-69 1h0m16 0h0m2 0h0m40 0h0m5 0h0m1 0h0m-45 1h0m2 0h0m2 0h0m1 0h0m28 0h0m29 0h0m-118 1h0m36 0h0m7 0h0m6 0h0m41 0h0m4 0h0m2 0h0m2 0h0m21 0h0m-139 1h0m3 0h0m36 0h0m36 0h0m-43 1h0m7 0h0m49 0h0m24 0h0m13 0h0m-99 1h0m43 0h0m11 0h0m17 0h0m12 0h0m14 0h0m1 0h0m4 0h0m-68 1h0m9 0h0m4 0h0m22 0h0m31 0h0m-115 1h0m25 0h0m23 0h0m19 0h0m-37 1h0m12 0h0m2 0h0m14 0h0m15 0h0m15 0h0m4 0h0m12 0h0m13 0h0m-80 1h0m42 0h0m2 0h0m1 0h0m18 0h0m-94 1h0m22 0h0m11 0h0m13 0h0m6 0h0m24 0h0m-81 1h0m25 0h0m1 0h0m47 0h0m6 0h0m1 0h0m4 0h0m14 0h0m26 0h0m-83 1h0m10 0h0m9 0h0m59 0h0m-120 1h0m53 0h0m16 0h0m11 0h0m2 0h0m18 0h0m-101 1h0m9 0h0m50 0h0m17 0h0m4 0h0m21 0h0m-86 1h0m14 0h0m14 0h0m52 0h0m1 0h0m2 0h0m-84 1h0m5 0h0m3 0h0m19 0h0m15 0h0m6 0h0m11 0h0m23 0h0m-80 1h0m81 0h0m1 0h0m0 0h0m4 0h0m-102 1h0m36 0h0m0 0h0m11 0h0m5 0h0m3 0h0m24 0h0m20 0h0m-84 1h0m26 0h0m1 0h0m49 0h0m-36 1h0m17 0h0m5 0h0m0 0h0m20 0h0m5 0h0m3 0h0m11 0h0m-61 1h0m8 0h0m20 0h0m21 0h0m-64 1h0m3 0h0m36 0h0m33 0h0m-106 1h0m5 0h0m10 0h0m24 0h0m19 0h0m6 0h0m3 0h0m2 0h0m1 0h0m3 0h0m0 0h0m32 0h0m-107 1h0m12 0h0m2 0h0m12 0h0m3 0h0m12 0h0m5 0h0m4 0h0m3 0h0m5 0h0m37 0h0m27 0h0m-116 1h0m19 0h0m5 0h0m9 0h0m30 0h0m0 0h0m27 0h0m-45 1h0m19 0h0m7 0h0m16 0h0m5 0h0m-73 1h0m7 0h0m6 0h0m41 0h0m20 0h0m13 1h0m-92 1h0m42 0h0m19 0h0m5 0h0m10 0h0m-78 1h0m10 0h0m13 0h0m37 0h0m-49 1h0m4 0h0m14 0h0m18 0h0m22 0h0m8 0h0m7 0h0m-64 1h0m9 0h0m5 0h0m2 0h0m2 0h0m7 0h0m30 0h0m-87 1h0m3 0h0m10 0h0m2 0h0m0 0h0m20 0h0m15 0h0m35 0h0m8 0h0m-97 1h0m3 0h0m4 0h0m10 0h0m29 0h0m6 0h0m19 0h0m15 0h0m-65 1h0m9 0h0m19 0h0m22 0h0m5 0h0m22 0h0m4 0h0m1 0h0m-79 1h0m3 0h0m6 0h0m3 0h0m8 0h0m18 0h0m6 0h0m3 0h0m14 0h0m10 0h0m-72 1h0m15 0h0m8 0h0m11 0h0m23 0h0m12 0h0m-92 1h0m20 0h0m5 0h0m19 0h0m19 0h0m3 0h0m7 0h0m18 0h0m-46 1h0m21 0h0m6 0h0m-44 1h0m10 0h0m2 0h0m43 0h0m-84 1h0m1 0h0m30 0h0m31 0h0m8 0h0m5 0h0m3 0h0m24 0h0m-78 1h0m6 0h0m26 0h0m10 0h0m0 0h0m15 0h0m8 0h0m4 0h0m4 0h0m7 0h0m-100 1h0m0 0h0m17 0h0m12 0h0m12 0h0m5 0h0m44 0h0m5 0h0m-74 1h0m14 0h0m4 0h0m15 0h0m6 0h0m7 0h0m10 0h0m-56 1h0m12 0h0m3 0h0m2 0h0m-37 1h0m6 0h0m19 0h0m0 0h0m15 0h0m12 0h0m18 0h0m0 0h0m2 0h0m6 0h0m-23 1h0m15 0h0m6 0h0m-80 1h0m11 0h0m37 0h0m3 0h0m7 0h0m7 0h0m6 0h0m23 0h0m2 0h0m0 0h0m14 0h0m-102 1h0m55 0h0m27 0h0m11 0h0m-63 1h0m8 0h0m1 0h0m21 0h0m-47 1h0m6 0h0m41 0h0m2 0h0m-59 1h0m31 0h0m4 0h0m43 0h0m-69 1h0m27 0h0m2 0h0m12 0h0m7 0h0m-48 1h0m-11 1h0m23 0h0m29 0h0m19 0h0m-52 1h0m23 0h0m8 0h0m12 0h0m14 0h0m16 1h0m-82 1h0m66 0h0m-45 1h0m-5 1h0m9 0h0m1 0h0m2 0h0m29 0h0m2 0h0m0 0h0m12 0h0m2 0h0m-33 1h0m9 0h0m6 0h0m4 0h0m-16 1h0m2 0h0m2 0h0m3 0h0m5 0h0m6 0h0m9 0h0m-44 2h0m24 0h0m-37 1h0m32 0h0m20 0h0m-13 1h0m-21 1h0m4 1h0m6 0h0m-23 1h0" stroke="#2ca02c" stroke-width="3.00"/>
<path d="M765 120h0m9 0h0m6 0h0m1 1h0m-22 2h0m1 0h0m29 0h0m-18 1h0m12 0h0m-21 3h0m3 0h0m8 0h0m-11 2h0m-15 1h0m24 0h0m25 0h0m-40 1h0m48 0h0m-37 1h0m2 0h0m0 0h0m13 0h0m0 0h0m11 1h0m13 0h0m-22 1h0m16 0h0m-55 1h0m12 0h0m45 0h0m-58 1h0m54 0h0m-34 2h0m0 1h0m-11 2h0m1 0h0m58 0h0m-6 1h0m-65 1h0m6 1h0m3 1h0m25 0h0m-29 1h0m18 0h0m44 0h0m-10 1h0m-50 2h0m66 0h0m-38 1h0m-24 1h0m21 0h0m5 0h0m3 0h0m9 0h0m24 0h0m9 0h0m-73 1h0m4 0h0m20 0h0m14 0h0m3 0h0m25 0h0m-31 1h0m26 0h0m17 0h0m-80 1h0m1 1h0m5 0h0m77 0h0m-59 1h0m0 0h0m22 0h0m-39 1h0m37 0h0m-45 2h0m35 0h0m5 0h0m33 0h0m4 0h0m-7 1h0m14 0h0m0 0h0m-59 1h0m-16 2h0m27 0h0m42 0h0m12 0h0m-107 1h0m18 0h0m7 0h0m34 0h0m-13 2h0m1 0h0m29 1h0m28 0h0m-9 1h0m-36 1h0m43 0h0m-51 1h0m12 0h0m8 2h0m12 3h0m21 1h0m-57 2h0m1 0h0m7 0h0m37 0h0m-42 1h0m-10 1h0m5 0h0m6 0h0m6 0h0m-12 1h0m60 0h0m-116 1h0m51 0h0m14 0h0m9 0h0m-67 1h0m63 0h0m3 0h0m22 2h0m-48 2h0m20 0h0m-46 1h0m43 0h0m-57 1h0m4 0h0m58 0h0m1 1h0m28 0h0m-69 1h0m73 0h0m-92 1h0m0 1h0m6 0h0m2 0h0m38 1h0m20 0h0m24 0h0m9 0h0m-87 2h0m92 0h0m-88 1h0m19 0h0m3 0h0m-41 1h0m7 0h0m20 0h0m-151 1h0m141 0h0m0 0h0m-9 1h0m42 0h0m-36 1h0m4 0h0m34 1h0m-187 1h0m248 0h0m-114 1h0m-132 1h0m-20 2h0m15 0h0m40 0h0m102 1h0m24 0h0m66 0h0m12 0h0m-92 1h0m-167 1h0m146 0h0m5 0h0m20 0h0m70 0h0m22 0h0m7 0h0m-280 1h0m7 0h0m4 0h0m148 0h0m5 0h0m71 1h0m-228 1h0m170 0h0m3 0h0m28 0h0m12 0h0m8 1h0m-174 1h0m172 0h0m2 0h0m49 0h0m-245 1h0m188 0h0m15 0h0m-231 1h0m20 0h0m150 0h0m46 0h0m7 0h0m-236 1h0m10 0h0m32 0h0m195 0h0m-228 1h0m5 1h0m10 0h0m18 0h0m147 0h0m37 0h0m20 0h0m-248 1h0m4 0h0m16 0h0m171 0h0m81 0h0m-261 1h0m1 0h0m7 0h0m31 0h0m124 0h0m4 0h0m-176 1h0m193 0h0m4 1h0m68 0h0m-237 1h0m147 0h0m3 0h0m53 0h0m50 0h0m-251 1h0m149 0h0m2 0h0m60 0h0m10 0h0m-222 1h0m18 0h0m150 0h0m27 0h0m-220 1h0m170 0h0m131 0h0m-290 1h0m33 0h0m131 0h0m51 0h0m-219 1h0m5 1h0m171 0h0m58 0h0m-18 1h0m74 0h0m-250 1h0m9 0h0m181 1h0m5 0h0m37 0h0m-247 1h0m25 0h0m-65 1h0m25 0h0m7 0h0m5 0h0m8 0h0m186 0h0m-211 1h0m271 0h0m22 0h0m-304 1h0m8 0h0m60 0h0m166 0h0m61 0h0m12 0h0m-312 1h0m34 0h0m9 0h0m245 0h0m22 0h0m-260 1h0m2 0h0m159 0h0m30 0h0m-225 1h0m19 0h0m5 0h0m21 0h0m216 0h0m-289 1h0m25 0h0m40 0h0m11 0h0m10 0h0m11 0h0m-62 1h0m40 0h0m120 0h0m107 0h0m14 0h0m-305 1h0m16 0h0m76 0h0m193 0h0m-291 1h0m3 0h0m193 0h0m90 0h0m16 0h0m10 0h0m-302 1h0m61 0h0m163 0h0m73 0h0m-281 1h0m28 0h0m34 0h0m6 0h0m9 0h0m182 0h0m17 0h0m1 0h0m23 0h0m-328 1h0m41 0h0m11 0h0m44 0h0m17 0h0m201 0h0m-290 1h0m210 0h0m58 0h0m3 0h0m37 0h0m-331 1h0m49 0h0m63 0h0m194 0h0m6 0h0m-305 1h0m316 0h0m-321 1h0m51 0h0m22 0h0m26 0h0m130 0h0m75 0h0m11 0h0m-47 1h0m-255 1h0m13 0h0m68 0h0m180 0h0m2 0h0m-271 1h0m29 0h0m60 0h0m184 0h0m38 0h0m-273 1h0m44 0h0m92 0h0m23 0h0m31 0h0m37 0h0m33 0h0m-263 1h0m7 0h0m28 0h0m121 0h0m3 0h0m5 0h0m90 0h0m20 0h0m10 0h0m3 0h0m-285 1h0m133 0h0m129 0h0m5 0h0m2 0h0m17 0h0m-307 1h0m62 0h0m106 0h0m56 0h0m43 0h0m8 0h0m13 0h0m9 0h0m-293 1h0m35 0h0m126 0h0m43 0h0m70 0h0m12 0h0m4 0h0m6 0h0m-95 1h0m84 0h0m-277 1h0m166 0h0m12 0h0m21 0h0m85 0h0m-28 1h0m-111 1h0m150 0h0m-152 1h0m6 0h0m24 0h0m13 0h0m15 0h0m63 0h0m7 0h0m0 0h0m-116 1h0m66 0h0m65 0h0m-151 1h0m69 0h0m50 0h0m42 0h0m-106 1h0m2 0h0m9 0h0m44 1h0m6 0h0m-277 1h0m186 0h0m126 0h0m-315 1h0m4 1h0m219 0h0m36 0h0m19 0h0m-281 1h0m178 0h0m126 0h0m-114 1h0m47 0h0m6 0h0m-15 1h0m64 0h0m13 0h0m8 0h0m-105 1h0m13 0h0m-200 1h0m9 0h0m161 0h0m22 0h0m7 0h0m7 0h0m67 0h0m9 0h0m13 0h0m-297 1h0m158 0h0m48 0h0m63 0h0m-234 1h0m133 0h0m103 0h0m29 0h0m8 0h0m-276 1h0m118 0h0m5 0h0m7 0h0m95 0h0m12 0h0m20 0h0m4 0h0m-295 1h0m173 0h0m96 0h0m2 0h0m30 0h0m-296 1h0m15 0h0m152 0h0m-135 1h0m219 0h0m2 0h0m-272 1h0m32 0h0m137 0h0m1 0h0m94 0h0m28 0h0m-296 1h0m8 0h0m23 0h0m3 0h0m147 0h0m70 0h0m16 0h0m-209 1h0m9 0h0m255 0h0m-125 1h0m39 0h0m-221 1h0m19 0h0m36 0h0m147 0h0m21 0h0m78 0h0m-304 1h0m171 0h0m1 0h0m1 0h0m30 0h0m66 0h0m8 0h0m5 0h0m7 0h0m-111 1h0m91 0h0m-280 1h0m36 0h0m22 0h0m11 0h0m120 0h0m93 0h0m38 0h0m-302 1h0m56 0h0m9 0h0m139 0h0m2 0h0m24 0h0m17 0h0m3 0h0m53 0h0m-133 1h0m80 0h0m18 0h0m-283 1h0m173 0h0m4 0h0m0 0h0m4 0h0m69 0h0m25 0h0m19 0h0m-282 1h0m40 0h0m134 0h0m2 0h0m-192 1h0m14 0h0m1 0h0m3 0h0m65 0h0m8 0h0m98 0h0m16 0h0m37 0h0m-162 1h0m172 0h0m66 0h0m7 0h0m-247 1h0m115 0h0m56 0h0m55 0h0m12 0h0m11 0h0m-280 1h0m145 0h0m120 0h0m-228 1h0m87 0h0m16 0h0m4 0h0m95 0h0m36 0h0m-302 1h0m28 0h0m162 0h0m61 0h0m54 0h0m-322 1h0m1 0h0m25 0h0m14 0h0m26 0h0m110 0h0m5 0h0m135 0h0m6 0h0m2 0h0m3 0h0m-318 1h0m15 0h0m54 0h0m93 0h0m98 0h0m7 0h0m41 0h0m-322 1h0m77 0h0m14 0h0m153 0h0m46 0h0m-282 1h0m9 0h0m203 0h0m3 0h0m1 0h0m82 0h0m-273 1h0m292 0h0m-297 1h0m155 0h0m23 0h0m6 0h0m68 0h0m-257 1h0m190 0h0m105 0h0m-293 1h0m152 0h0m146 0h0m-269 1h0m25 0h0m212 0h0m-245 1h0m138 0h0m3 0h0m13 0h0m41 0h0m10 0h0m21 0h0m4 0h0m11 0h0m12 0h0m5 0h0m-46 1h0m21 0h0m12 0h0m3 0h0m0 0h0m35 0h0m-104 1h0m4 0h0m19 0h0m12 0h0m15 0h0m-89 1h0m34 0h0m33 0h0m20 0h0m29 0h0m-120 1h0m24 0h0m61 0h0m9 0h0m19 0h0m2 0h0m-53 1h0m16 0h0m11 0h0m-82 1h0m16 0h0m102 0h0m-62 1h0m25 0h0m8 0h0m-97 1h0m25 0h0m8 0h0m46 0h0m-49 1h0m20 0h0m7 0h0m9 0h0m23 0h0m10 0h0m22 0h0m-86 1h0m35 0h0m1 0h0m28 0h0m-63 1h0m6 0h0m29 0h0m58 0h0m-101 1h0m5 0h0m3 0h0m13 0h0m3 0h0m37 0h0m5 0h0m45 0h0m-118 1h0m10 0h0m6 0h0m34 0h0m7 0h0m16 0h0m13 0h0m7 0h0m8 0h0m-93 1h0m79 0h0m9 0h0m19 0h0m-117 1h0m41 0h0m55 0h0m28 0h0m-111 1h0m45 0h0m26 0h0m2 0h0m2 0h0m5 0h0m27 0h0m-70 1h0m3 0h0m30 0h0m1 0h0m21 0h0m-56 1h0m-11 2h0m58 0h0m-55 1h0m-40 1h0m51 0h0m31 0h0m1 0h0m13 0h0m14 0h0m-69 1h0m25 0h0m2 0h0m14 0h0m33 0h0m8 0h0m1 0h0m-93 1h0m24 0h0m6 0h0m21 0h0m40 0h0m-71 1h0m37 0h0m-66 1h0m1 0h0m37 0h0m13 0h0m19 0h0m10 0h0m2 0h0m-100 1h0m8 0h0m29 0h0m-12 1h0m58 0h0m12 0h0m20 0h0m-101 1h0m20 0h0m12 0h0m1 0h0m26 0h0m23 0h0m4 0h0m4 0h0m-108 1h0m43 0h0m27 0h0m19 0h0m1 0h0m-52 2h0m11 0h0m11 0h0m9 0h0m9 0h0m-56 1h0m0 0h0m7 0h0m33 0h0m7 0h0m5 0h0m14 0h0m9 0h0m-87 1h0m24 0h0m50 0h0m12 0h0m16 0h0m-109 1h0m5 0h0m4 0h0m8 0h0m16 0h0m38 0h0m1 0h0m12 0h0m-78 1h0m4 0h0m37 0h0m17 0h0m15 0h0m-69 1h0m25 0h0m5 0h0m43 0h0m3 0h0m8 0h0m-83 1h0m3 0h0m6 0h0m13 0h0m65 0h0m9 0h0m7 0h0m-73 1h0m5 0h0m0 0h0m36 0h0m-75 1h0m19 0h0m18 0h0m22 0h0m16 0h0m19 0h0m7 0h0m-93 1h0m13 0h0m24 0h0m17 0h0m3 0h0m24 0h0m7 0h0m1 0h0m-20 1h0m-70 1h0m60 0h0m3 0h0m31 0h0m-110 1h0m10 0h0m10 0h0m25 0h0m8 0h0m15 0h0m0 0h0m22 0h0m10 0h0m5 0h0m-61 1h0m19 0h0m36 0h0m-93 1h0m29 0h0m63 0h0m-86 1h0m43 0h0m23 0h0m16 0h0m-71 1h0m7 0h0m10 0h0m2 0h0m26 0h0m35 0h0m-85 1h0m37 0h0m19 0h0m22 0h0m15 0h0m0 0h0m-111 1h0m15 0h0m50 0h0m12 0h0m25 0h0m-90 1h0m16 0h0m10 0h0m43 0h0m15 0h0m2 0h0m-90 1h0m40 0h0m9 0h0m2 0h0m9 0h0m5 0h0m2 0h0m15 0h0m24 0h0m-65 1h0m13 0h0m11 0h0m-64 1h0m3 0h0m11 0h0m24 0h0m2 0h0m10 0h0m0 0h0m51 0h0m-83 1h0m34 0h0m7 0h0m1 0h0m25 0h0m-94 1h0m50 0h0m18 0h0m-21 1h0m18 0h0m0 0h0m-40 1h0m12 0h0m37 0h0m2 0h0m-46 1h0m35 0h0m30 0h0m11 0h0m-93 1h0m30 0h0m35 0h0m-61 1h0m59 0h0m5 0h0m22 0h0m1 0h0m-57 1h0m1 0h0m2 0h0m4 0h0m1 0h0m2 0h0m26 0h0m-70 1h0m40 0h0m42 0h0m-14 1h0m-36 1h0m7 0h0m18 0h0m-3 1h0m4 0h0m10 0h0m-27 1h0m13 0h0m24 0h0m-77 1h0m3 0h0m81 0h0m-39 1h0m21 0h0m21 0h0m-29 1h0m7 0h0m-51 1h0m61 0h0m-29 1h0m4 0h0m18 0h0m-55 1h0m36 1h0m-4 2h0m4 0h0m10 0h0m17 0h0m-51 1h0m42 0h0m-49 1h0m29 0h0m2 1h0m4 0h0m7 0h0m-20 1h0m38 0h0m-59 1h0m9 3h0m-8 1h0" stroke="#ff7f0e" stroke-width="3.00"/>
<path d="M783 120h0m-14 2h0m0 0h0m-4 1h0m10 1h0m-2 4h0m7 1h0m-36 1h0m6 0h0m49 1h0m-18 1h0m-38 1h0m6 0h0m48 0h0m-39 1h0m26 1h0m-37 2h0m5 0h0m28 0h0m0 0h0m-11 1h0m2 0h0m-16 1h0m27 0h0m24 0h0m-34 1h0m4 0h0m28 0h0m-44 1h0m36 0h0m-41 1h0m0 0h0m16 0h0m44 0h0m-29 1h0m16 0h0m-24 1h0m23 0h0m-29 1h0m41 0h0m-66 1h0m2 0h0m23 0h0m10 0h0m-32 1h0m23 0h0m-33 1h0m21 0h0m19 0h0m6 0h0m4 0h0m18 0h0m-26 1h0m16 0h0m1 0h0m-29 1h0m-2 1h0m26 0h0m11 0h0m6 0h0m3 0h0m1 0h0m-68 1h0m25 0h0m13 0h0m21 0h0m-66 1h0m34 0h0m19 0h0m-45 1h0m19 0h0m13 0h0m0 1h0m35 0h0m13 0h0m-61 1h0m72 0h0m-71 1h0m8 0h0m10 0h0m8 0h0m-16 1h0m6 0h0m28 0h0m4 0h0m5 0h0m-61 1h0m32 0h0m39 0h0m-39 1h0m7 0h0m32 0h0m-67 3h0m64 2h0m-69 1h0m52 0h0m-12 1h0m26 0h0m6 0h0m-57 1h0m10 0h0m46 0h0m-40 1h0m3 0h0m-19 1h0m7 1h0m56 0h0m-4 1h0m0 0h0m-72 1h0m6 0h0m12 0h0m5 1h0m46 1h0m-64 1h0m9 0h0m41 0h0m6 0h0m-49 1h0m14 2h0m-51 1h0m43 0h0m43 0h0m-57 1h0m17 0h0m12 0h0m-4 1h0m-60 1h0m64 1h0m24 0h0m-44 1h0m11 0h0m-64 1h0m0 0h0m11 0h0m37 0h0m12 0h0m37 0h0m12 0h0m-100 2h0m8 0h0m10 0h0m11 0h0m18 0h0m3 0h0m1 0h0m3 0h0m-8 1h0m-59 1h0m16 0h0m3 0h0m93 0h0m-67 1h0m15 0h0m26 0h0m24 0h0m-51 1h0m6 0h0m19 0h0m-57 1h0m33 0h0m1 0h0m-30 1h0m25 0h0m3 1h0m-50 1h0m-7 1h0m30 0h0m-148 2h0m127 0h0m13 0h0m-11 1h0m20 0h0m67 0h0m4 0h0m-242 1h0m168 0h0m-170 1h0m20 0h0m150 0h0m70 0h0m-91 1h0m3 0h0m38 0h0m73 0h0m8 0h0m-112 1h0m-19 1h0m3 1h0m12 0h0m80 0h0m-249 1h0m10 0h0m198 0h0m-195 1h0m2 0h0m22 0h0m127 0h0m77 0h0m23 0h0m-236 1h0m157 0h0m-184 1h0m18 0h0m21 0h0m-45 1h0m-6 1h0m174 0h0m11 0h0m23 0h0m16 0h0m45 0h0m-230 1h0m138 0h0m10 0h0m33 0h0m28 0h0m10 0h0m17 0h0m9 0h0m-112 1h0m24 0h0m29 0h0m64 0h0m-288 1h0m11 0h0m2 0h0m167 0h0m50 0h0m-227 1h0m1 0h0m36 0h0m2 0h0m17 0h0m188 0h0m35 0h0m10 0h0m-291 1h0m167 0h0m64 0h0m-236 1h0m10 0h0m9 0h0m38 0h0m-22 1h0m149 0h0m7 0h0m-190 1h0m40 0h0m-29 1h0m27 0h0m130 0h0m25 0h0m100 1h0m-232 1h0m116 0h0m2 0h0m78 0h0m14 0h0m-46 1h0m-227 1h0m34 0h0m193 0h0m4 0h0m3 0h0m28 0h0m-263 1h0m57 0h0m247 0h0m5 0h0m-304 1h0m1 0h0m170 0h0m15 0h0m8 0h0m16 0h0m36 0h0m-225 1h0m168 0h0m90 0h0m6 0h0m-98 1h0m14 0h0m12 0h0m27 0h0m40 0h0m-257 1h0m14 0h0m8 0h0m136 0h0m-178 1h0m17 0h0m18 0h0m212 0h0m38 0h0m-269 1h0m8 0h0m39 0h0m22 0h0m-68 1h0m-1 1h0m7 0h0m24 0h0m129 0h0m-156 1h0m234 0h0m45 0h0m-308 1h0m86 0h0m-24 1h0m12 1h0m213 0h0m-268 1h0m8 0h0m57 0h0m101 0h0m39 0h0m71 0h0m-257 2h0m29 0h0m236 0h0m-284 1h0m183 0h0m19 0h0m-217 1h0m186 0h0m39 0h0m-172 1h0m154 0h0m2 0h0m6 0h0m112 0h0m-241 1h0m105 0h0m83 0h0m-259 1h0m62 0h0m150 0h0m-211 1h0m170 0h0m100 0h0m-233 1h0m25 0h0m92 0h0m110 0h0m-267 1h0m18 0h0m44 0h0m3 0h0m11 0h0m120 0h0m23 0h0m96 0h0m-332 1h0m71 1h0m244 0h0m-312 1h0m31 0h0m45 0h0m220 0h0m22 0h0m-252 1h0m132 0h0m25 0h0m57 0h0m28 0h0m16 0h0m6 0h0m-330 1h0m11 1h0m11 0h0m284 0h0m20 0h0m-244 1h0m2 0h0m213 0h0m2 0h0m21 0h0m-298 1h0m160 0h0m17 0h0m94 0h0m-215 1h0m224 0h0m19 0h0m-304 1h0m172 0h0m27 0h0m39 0h0m49 0h0m10 0h0m-305 1h0m29 0h0m160 0h0m22 0h0m34 0h0m-29 1h0m93 0h0m-244 1h0m140 0h0m52 0h0m43 0h0m-92 1h0m13 0h0m2 0h0m22 0h0m55 0h0m-266 1h0m142 0h0m49 0h0m62 0h0m-66 1h0m4 0h0m61 0h0m-75 1h0m89 0h0m-120 1h0m30 0h0m14 0h0m-227 1h0m178 0h0m82 0h0m39 0h0m-91 1h0m16 0h0m6 0h0m77 0h0m2 0h0m-146 1h0m40 0h0m72 0h0m28 0h0m-79 1h0m66 0h0m30 0h0m-308 1h0m156 0h0m79 0h0m32 0h0m30 0h0m4 0h0m-137 1h0m33 0h0m6 0h0m7 0h0m72 0h0m18 0h0m-313 1h0m19 0h0m157 0h0m97 0h0m-253 1h0m33 0h0m118 0h0m6 0h0m0 1h0m7 0h0m32 0h0m-205 1h0m11 0h0m196 0h0m71 0h0m20 0h0m-316 1h0m31 0h0m145 0h0m13 0h0m8 0h0m31 0h0m45 0h0m6 0h0m0 0h0m13 0h0m1 0h0m1 0h0m-290 1h0m3 0h0m14 0h0m46 0h0m222 0h0m38 0h0m-327 1h0m10 0h0m8 0h0m27 0h0m238 0h0m40 0h0m-306 1h0m54 0h0m99 0h0m112 0h0m34 0h0m7 0h0m-303 1h0m35 0h0m161 0h0m21 0h0m77 0h0m-299 1h0m227 0h0m38 0h0m-97 1h0m1 0h0m0 0h0m104 0h0m32 0h0m-312 1h0m47 0h0m20 0h0m110 0h0m5 0h0m51 0h0m46 0h0m26 0h0m9 0h0m-302 1h0m14 0h0m146 0h0m5 0h0m10 0h0m60 0h0m19 0h0m-203 1h0m2 0h0m121 0h0m33 0h0m74 0h0m1 0h0m7 0h0m1 0h0m5 0h0m-249 1h0m173 0h0m22 0h0m23 0h0m10 0h0m10 0h0m18 0h0m-317 1h0m12 0h0m169 0h0m8 0h0m0 0h0m125 0h0m5 0h0m-286 1h0m278 0h0m-304 1h0m9 0h0m168 0h0m71 0h0m-247 1h0m19 0h0m139 0h0m12 0h0m12 0h0m73 0h0m2 0h0m11 0h0m5 0h0m10 0h0m22 0h0m-142 1h0m14 0h0m65 0h0m11 0h0m19 0h0m41 0h0m1 0h0m-141 1h0m5 0h0m38 0h0m14 0h0m-181 1h0m183 0h0m54 0h0m-239 1h0m17 0h0m3 0h0m108 0h0m115 0h0m2 0h0m-225 1h0m189 0h0m23 0h0m-289 1h0m19 0h0m276 0h0m21 0h0m-297 1h0m20 0h0m133 0h0m81 0h0m-245 1h0m165 0h0m20 0h0m5 0h0m125 0h0m-145 1h0m2 0h0m116 0h0m22 0h0m-294 1h0m16 0h0m220 0h0m-238 1h0m175 0h0m80 0h0m16 0h0m9 0h0m-296 1h0m2 0h0m5 0h0m2 0h0m34 0h0m200 0h0m64 0h0m3 0h0m3 0h0m-309 1h0m6 0h0m56 0h0m100 0h0m127 0h0m5 0h0m8 0h0m-294 1h0m5 0h0m161 0h0m37 0h0m-200 1h0m4 0h0m149 0h0m10 0h0m80 0h0m2 0h0m17 0h0m23 0h0m-19 1h0m26 0h0m-255 1h0m135 0h0m15 0h0m27 0h0m29 0h0m11 0h0m39 0h0m-91 1h0m14 0h0m-33 1h0m29 0h0m55 0h0m-79 1h0m4 0h0m41 0h0m31 0h0m7 0h0m3 0h0m-50 1h0m12 0h0m22 0h0m23 0h0m5 0h0m-139 1h0m15 0h0m73 0h0m23 0h0m38 0h0m-135 1h0m2 0h0m80 0h0m12 0h0m46 0h0m-141 1h0m9 0h0m33 0h0m12 0h0m49 0h0m19 0h0m-81 1h0m18 0h0m29 0h0m20 0h0m-58 1h0m4 0h0m40 0h0m-94 1h0m1 0h0m50 0h0m12 0h0m53 0h0m6 0h0m1 0h0m10 0h0m2 0h0m-124 1h0m13 0h0m24 0h0m9 0h0m7 0h0m3 0h0m16 0h0m25 1h0m35 0h0m-112 1h0m32 0h0m20 0h0m25 0h0m8 0h0m-64 1h0m42 0h0m25 0h0m2 0h0m4 0h0m18 0h0m-70 1h0m45 0h0m11 0h0m-8 1h0m-66 1h0m13 0h0m11 0h0m6 0h0m27 0h0m6 0h0m2 0h0m-6 1h0m1 0h0m-61 1h0m54 0h0m5 0h0m13 0h0m-121 1h0m19 0h0m37 0h0m5 0h0m0 0h0m12 0h0m17 0h0m9 0h0m-95 1h0m21 0h0m23 0h0m23 0h0m-73 1h0m11 0h0m35 0h0m16 0h0m5 0h0m26 0h0m18 0h0m17 0h0m-119 1h0m4 0h0m15 1h0m15 0h0m6 0h0m1 0h0m6 0h0m27 0h0m28 0h0m-95 1h0m10 0h0m1 0h0m41 0h0m3 0h0m45 0h0m-102 1h0m45 0h0m7 0h0m43 0h0m19 0h0m2 0h0m-110 1h0m4 0h0m10 0h0m53 0h0m21 0h0m2 0h0m-50 1h0m10 0h0m21 0h0m-51 1h0m1 0h0m19 0h0m40 0h0m31 0h0m2 0h0m-62 1h0m-34 1h0m2 0h0m45 0h0m17 0h0m15 0h0m-55 1h0m3 0h0m51 0h0m7 0h0m-110 1h0m8 0h0m14 0h0m28 0h0m-25 1h0m11 0h0m17 0h0m3 0h0m6 0h0m13 0h0m2 0h0m12 0h0m-84 1h0m15 0h0m62 0h0m-81 1h0m20 0h0m2 0h0m6 0h0m3 0h0m10 0h0m9 0h0m29 0h0m1 0h0m37 0h0m-115 1h0m24 0h0m6 0h0m67 0h0m15 0h0m-94 1h0m15 0h0m3 0h0m1 0h0m22 0h0m0 0h0m27 0h0m32 0h0m-99 1h0m6 0h0m56 0h0m2 0h0m7 0h0m9 0h0m5 0h0m-94 1h0m3 0h0m15 0h0m38 0h0m13 0h0m12 0h0m2 0h0m-92 1h0m29 0h0m21 0h0m-24 1h0m22 0h0m4 0h0m56 0h0m-95 1h0m3 0h0m38 0h0m6 0h0m-60 1h0m40 0h0m8 0h0m8 0h0m34 0h0m-80 1h0m2 0h0m52 0h0m17 0h0m13 0h0m1 0h0m1 0h0m3 0h0m-97 1h0m10 0h0m92 0h0m-97 1h0m7 0h0m41 0h0m29 0h0m8 0h0m8 0h0m-102 1h0m1 0h0m17 0h0m59 0h0m-74 1h0m3 0h0m0 0h0m33 0h0m29 0h0m-61 1h0m47 0h0m47 0h0m-72 1h0m64 0h0m-84 1h0m11 0h0m1 0h0m9 0h0m3 0h0m18 0h0m-47 1h0m2 0h0m16 0h0m15 0h0m12 0h0m10 0h0m23 0h0m8 0h0m-44 1h0m20 0h0m-63 1h0m1 0h0m57 0h0m16 0h0m27 0h0m-96 1h0m52 0h0m3 0h0m24 0h0m-84 1h0m8 0h0m8 0h0m9 0h0m20 0h0m3 0h0m1 0h0m5 0h0m9 0h0m21 0h0m7 0h0m-23 1h0m4 0h0m33 0h0m-83 1h0m10 0h0m28 0h0m-58 1h0m1 0h0m4 0h0m5 0h0m3 0h0m27 0h0m14 0h0m32 0h0m-44 1h0m4 0h0m5 0h0m28 0h0m14 0h0m8 0h0m-95 2h0m58 0h0m3 0h0m9 0h0m6 0h0m1 1h0m14 0h0m-86 1h0m9 0h0m42 0h0m23 0h0m1 0h0m-64 1h0m16 0h0m25 0h0m6 0h0m2 0h0m-67 1h0m65 0h0m-28 1h0m1 0h0m-22 1h0m27 0h0m49 0h0m-62 1h0m19 0h0m-40 1h0m8 0h0m67 0h0m4 0h0m-46 1h0m29 0h0m-15 1h0m32 0h0m-36 1h0m9 0h0m7 0h0m2 1h0m-29 1h0m12 1h0m23 1h0m-35 1h0m19 0h0m-19 1h0m22 0h0m-21 1h0m5 0h0m6 0h0m13 1h0m-47 1h0m43 2h0m-4 2h0" stroke="#ff7f0e" stroke-width="3.00"/>
<path d="M771 117h0m0 2h0m8 0h0m-32 1h0m16 0h0m22 1h0m-9 1h0m3 0h0m-3 1h0m0 0h0m-24 1h0m13 0h0m0 0h0m26 0h0m-30 1h0m6 0h0m2 0h0m2 1h0m12 0h0m-30 1h0m-5 1h0m31 0h0m-31 1h0m5 0h0m18 0h0m-6 1h0m-13 1h0m15 0h0m11 0h0m0 0h0m9 0h0m-21 1h0m9 0h0m9 0h0m-26 1h0m4 0h0m-12 1h0m-7 1h0m57 0h0m2 0h0m-53 1h0m5 0h0m36 0h0m17 0h0m-49 1h0m10 0h0m-29 1h0m68 0h0m-57 1h0m5 0h0m41 0h0m10 0h0m-63 1h0m58 0h0m-30 1h0m19 0h0m14 0h0m-47 1h0m23 0h0m25 0h0m-11 1h0m9 0h0m-29 1h0m30 0h0m-60 1h0m10 0h0m24 0h0m5 0h0m14 0h0m16 0h0m-13 1h0m7 0h0m-61 1h0m28 1h0m8 0h0m16 0h0m2 0h0m-59 1h0m0 0h0m13 0h0m47 0h0m12 0h0m13 0h0m-48 1h0m12 0h0m2 0h0m18 0h0m2 0h0m-76 1h0m5 0h0m4 0h0m6 0h0m33 0h0m39 0h0m9 0h0m-82 1h0m17 0h0m9 0h0m37 1h0m14 0h0m-77 1h0m22 0h0m61 0h0m-76 1h0m15 0h0m32 0h0m2 0h0m7 0h0m4 0h0m2 0h0m-69 1h0m6 0h0m79 0h0m-71 1h0m26 0h0m8 0h0m9 0h0m14 0h0m-70 1h0m9 0h0m7 0h0m27 0h0m15 0h0m0 0h0m20 0h0m-67 1h0m12 0h0m-22 1h0m13 0h0m16 0h0m-33 1h0m45 0h0m8 0h0m3 0h0m23 0h0m2 0h0m-18 1h0m19 1h0m-33 1h0m6 0h0m-21 1h0m40 0h0m-24 1h0m29 0h0m-30 1h0m20 1h0m5 0h0m6 0h0m-53 1h0m-36 1h0m23 0h0m31 0h0m-61 1h0m101 0h0m1 0h0m-48 1h0m-24 1h0m24 0h0m5 0h0m-24 1h0m18 0h0m45 0h0m-94 1h0m38 0h0m2 0h0m7 0h0m46 0h0m-84 2h0m18 0h0m12 0h0m4 0h0m42 0h0m-36 1h0m12 1h0m-26 1h0m0 0h0m2 0h0m28 1h0m-21 1h0m1 0h0m-15 1h0m6 0h0m34 0h0m12 0h0m-46 1h0m-4 3h0m22 0h0m22 0h0m19 0h0m-57 1h0m5 0h0m12 0h0m26 0h0m-70 1h0m30 0h0m5 0h0m9 0h0m35 0h0m-46 1h0m-39 1h0m41 0h0m1 0h0m7 0h0m-17 1h0m41 0h0m-83 1h0m2 3h0m94 0h0m-103 1h0m19 0h0m5 0h0m75 0h0m-95 1h0m5 0h0m-137 1h0m123 0h0m120 0h0m-118 2h0m8 0h0m16 1h0m3 0h0m75 0h0m1 0h0m-2 1h0m-221 1h0m156 0h0m29 0h0m-199 1h0m42 0h0m92 1h0m22 0h0m40 1h0m12 0h0m-238 1h0m16 0h0m152 0h0m47 0h0m40 0h0m-234 1h0m141 0h0m15 0h0m15 0h0m71 0h0m-258 1h0m10 0h0m15 0h0m179 0h0m1 0h0m6 0h0m-214 1h0m218 0h0m-207 1h0m8 0h0m22 0h0m149 0h0m-153 1h0m10 0h0m-35 1h0m152 0h0m9 0h0m2 0h0m7 0h0m62 0h0m-241 1h0m3 0h0m14 0h0m0 0h0m15 0h0m19 0h0m110 0h0m1 0h0m13 0h0m6 0h0m61 0h0m-242 1h0m5 0h0m12 0h0m17 0h0m1 0h0m0 0h0m8 0h0m137 0h0m4 0h0m51 0h0m19 0h0m-263 1h0m6 0h0m17 0h0m176 0h0m37 0h0m8 0h0m-242 1h0m164 0h0m94 0h0m-256 1h0m176 0h0m9 0h0m30 0h0m30 0h0m-235 2h0m38 0h0m114 0h0m19 1h0m102 0h0m-265 1h0m29 0h0m129 0h0m49 0h0m9 0h0m13 0h0m51 0h0m-308 1h0m48 0h0m6 0h0m1 0h0m124 0h0m9 0h0m4 0h0m36 0h0m2 0h0m8 0h0m7 0h0m2 0h0m28 0h0m-274 1h0m10 0h0m1 0h0m5 0h0m23 0h0m125 0h0m25 0h0m3 0h0m69 0h0m27 0h0m7 0h0m-296 1h0m6 0h0m2 0h0m9 0h0m25 0h0m16 0h0m130 1h0m98 0h0m-47 1h0m8 0h0m50 0h0m12 0h0m-294 1h0m40 0h0m132 1h0m59 0h0m8 0h0m50 0h0m-287 1h0m241 0h0m-248 1h0m47 0h0m235 0h0m-240 1h0m203 0h0m45 0h0m-299 1h0m3 0h0m34 0h0m20 0h0m172 0h0m12 0h0m65 0h0m-301 1h0m7 0h0m29 0h0m21 0h0m1 0h0m0 0h0m248 0h0m-304 1h0m1 0h0m236 0h0m1 0h0m1 0h0m68 0h0m-309 1h0m10 0h0m233 0h0m2 0h0m-236 1h0m30 0h0m276 0h0m-313 1h0m12 0h0m2 0h0m284 0h0m0 0h0m-269 1h0m13 0h0m43 0h0m218 0h0m1 0h0m2 0h0m-275 1h0m4 0h0m16 0h0m250 0h0m-313 1h0m3 0h0m18 0h0m13 0h0m4 0h0m24 0h0m23 0h0m134 0h0m77 0h0m28 0h0m-297 1h0m20 0h0m4 0h0m191 0h0m-170 1h0m17 0h0m117 0h0m15 0h0m74 0h0m1 0h0m-256 1h0m6 0h0m26 0h0m20 0h0m24 0h0m132 0h0m61 0h0m3 0h0m-302 1h0m32 0h0m2 0h0m54 0h0m203 0h0m-265 1h0m43 0h0m3 0h0m29 0h0m89 0h0m97 0h0m1 0h0m7 0h0m5 0h0m8 0h0m3 0h0m3 0h0m-321 1h0m18 0h0m2 0h0m63 0h0m126 0h0m23 0h0m0 0h0m3 0h0m4 0h0m60 0h0m4 0h0m5 0h0m7 0h0m-285 2h0m148 0h0m5 0h0m55 0h0m41 0h0m-263 1h0m21 0h0m21 0h0m21 0h0m4 0h0m16 0h0m82 0h0m82 0h0m66 0h0m-327 1h0m30 0h0m7 0h0m17 0h0m17 0h0m6 0h0m8 0h0m197 0h0m21 0h0m2 0h0m-253 1h0m176 0h0m4 0h0m3 0h0m5 0h0m26 0h0m23 0h0m-260 1h0m9 0h0m44 0h0m5 0h0m84 0h0m11 0h0m21 0h0m88 0h0m19 0h0m-129 1h0m33 0h0m90 0h0m-295 1h0m37 0h0m17 0h0m112 0h0m62 0h0m-224 1h0m41 0h0m154 0h0m9 0h0m-207 1h0m12 0h0m169 0h0m66 0h0m14 0h0m36 0h0m-13 1h0m9 0h0m-277 1h0m9 0h0m136 0h0m59 0h0m87 0h0m-288 1h0m150 0h0m28 0h0m10 0h0m11 0h0m14 0h0m43 0h0m35 0h0m-120 2h0m22 0h0m3 0h0m3 0h0m9 0h0m-194 1h0m277 0h0m-141 1h0m107 0h0m12 0h0m0 0h0m-125 1h0m60 0h0m14 0h0m25 0h0m55 0h0m-29 1h0m8 0h0m9 0h0m0 0h0m-11 1h0m-291 1h0m7 0h0m158 0h0m12 0h0m11 0h0m31 0h0m-60 1h0m19 0h0m64 0h0m24 0h0m8 0h0m10 0h0m16 0h0m2 0h0m-310 1h0m2 0h0m33 0h0m186 0h0m23 0h0m35 0h0m-52 1h0m30 0h0m61 0h0m-310 1h0m7 0h0m156 0h0m5 0h0m44 0h0m49 0h0m23 0h0m1 0h0m25 0h0m-150 1h0m10 0h0m30 0h0m8 0h0m7 0h0m30 0h0m23 0h0m47 0h0m-320 1h0m17 0h0m152 0h0m36 0h0m26 0h0m13 0h0m42 0h0m18 0h0m-294 1h0m7 0h0m11 0h0m155 0h0m4 0h0m32 0h0m8 0h0m93 0h0m-155 1h0m9 0h0m133 0h0m-103 1h0m9 0h0m63 0h0m4 0h0m8 0h0m25 0h0m-284 1h0m3 0h0m154 0h0m30 0h0m25 0h0m22 0h0m13 0h0m17 0h0m30 0h0m-293 1h0m32 0h0m153 0h0m30 0h0m7 0h0m16 0h0m41 0h0m-302 1h0m39 0h0m10 0h0m110 0h0m5 0h0m75 0h0m7 0h0m19 0h0m4 0h0m-278 1h0m6 0h0m21 0h0m159 0h0m0 0h0m3 0h0m43 0h0m41 1h0m11 0h0m25 0h0m-314 1h0m32 0h0m153 0h0m97 0h0m34 0h0m-310 1h0m16 0h0m7 0h0m39 0h0m101 0h0m16 0h0m97 0h0m31 0h0m-296 1h0m36 0h0m8 0h0m109 0h0m7 0h0m138 0h0m4 0h0m-318 1h0m19 0h0m177 0h0m-184 1h0m52 0h0m108 0h0m9 0h0m5 0h0m36 0h0m75 0h0m19 0h0m-294 1h0m55 0h0m92 0h0m17 0h0m1 0h0m122 0h0m15 0h0m-287 1h0m145 0h0m22 0h0m77 0h0m20 0h0m6 0h0m11 0h0m8 0h0m-325 1h0m0 0h0m16 0h0m8 0h0m31 0h0m8 0h0m145 0h0m55 0h0m17 0h0m33 0h0m-293 1h0m32 0h0m1 0h0m195 0h0m45 0h0m6 0h0m0 0h0m22 0h0m-269 1h0m119 0h0m15 0h0m68 0h0m-225 1h0m4 0h0m9 0h0m137 0h0m49 0h0m74 0h0m-301 1h0m27 0h0m28 0h0m5 0h0m12 0h0m96 0h0m16 0h0m63 0h0m68 0h0m0 0h0m10 0h0m-326 1h0m51 0h0m19 0h0m1 0h0m6 0h0m92 0h0m52 0h0m27 0h0m54 0h0m22 0h0m-323 1h0m7 0h0m10 0h0m33 0h0m120 0h0m17 0h0m124 0h0m7 0h0m-307 1h0m34 0h0m20 0h0m6 0h0m100 0h0m3 0h0m66 0h0m-240 1h0m10 0h0m67 0h0m125 0h0m36 0h0m-230 1h0m16 0h0m23 0h0m14 0h0m5 0h0m11 0h0m103 0h0m71 0h0m-201 1h0m16 0h0m105 0h0m13 0h0m106 0h0m24 0h0m-265 1h0m118 0h0m9 0h0m9 0h0m-176 1h0m60 0h0m237 0h0m-234 1h0m129 0h0m16 0h0m23 0h0m18 0h0m58 0h0m-282 1h0m41 0h0m98 0h0m11 0h0m78 0h0m58 0h0m-301 1h0m195 0h0m11 0h0m-220 1h0m16 0h0m53 0h0m201 0h0m5 0h0m42 0h0m1 0h0m-144 1h0m9 0h0m75 0h0m35 0h0m22 0h0m-144 1h0m51 0h0m38 0h0m4 0h0m29 0h0m-281 1h0m166 0h0m9 0h0m39 0h0m12 0h0m-78 1h0m35 0h0m17 0h0m20 0h0m1 0h0m15 0h0m5 0h0m11 0h0m-77 1h0m1 0h0m24 0h0m1 0h0m4 0h0m5 0h0m28 0h0m15 0h0m40 0h0m-127 1h0m2 0h0m0 0h0m48 0h0m8 0h0m19 0h0m8 0h0m54 0h0m-117 1h0m21 0h0m12 0h0m36 0h0m23 0h0m-92 1h0m38 0h0m1 0h0m15 0h0m5 0h0m3 0h0m32 0h0m14 0h0m4 0h0m-110 1h0m53 0h0m-61 1h0m20 0h0m16 0h0m15 0h0m1 0h0m2 0h0m47 0h0m3 0h0m2 0h0m-115 1h0m23 0h0m25 0h0m1 0h0m19 0h0m42 0h0m17 0h0m-96 1h0m55 0h0m23 0h0m17 0h0m-99 1h0m3 0h0m4 0h0m25 0h0m24 0h0m7 0h0m33 0h0m-111 1h0m4 0h0m9 0h0m20 0h0m9 0h0m5 0h0m12 0h0m15 0h0m24 0h0m-123 1h0m10 0h0m40 0h0m16 0h0m5 0h0m47 0h0m1 0h0m-85 1h0m10 0h0m12 0h0m7 0h0m72 0h0m-88 1h0m10 0h0m47 0h0m-47 1h0m2 0h0m13 0h0m18 0h0m9 0h0m36 0h0m5 0h0m0 0h0m-119 1h0m13 0h0m38 0h0m8 0h0m29 0h0m18 0h0m3 0h0m-88 1h0m43 0h0m24 0h0m32 0h0m-39 1h0m25 0h0m-103 1h0m6 0h0m43 0h0m1 0h0m12 0h0m22 0h0m5 0h0m-89 1h0m30 0h0m80 0h0m-59 1h0m13 0h0m10 0h0m-87 1h0m75 0h0m29 0h0m12 0h0m-104 1h0m32 0h0m8 0h0m18 0h0m47 0h0m-93 1h0m3 0h0m13 0h0m2 0h0m9 0h0m8 0h0m13 0h0m26 0h0m18 0h0m1 0h0m-88 1h0m14 0h0m0 0h0m22 0h0m4 0h0m-60 1h0m1 0h0m6 0h0m41 0h0m0 0h0m70 0h0m-121 1h0m24 0h0m5 0h0m56 0h0m7 0h0m0 0h0m-91 1h0m16 0h0m5 0h0m24 0h0m10 0h0m13 0h0m38 0h0m11 0h0m-110 1h0m41 0h0m11 0h0m9 0h0m4 0h0m49 0h0m1 0h0m-104 1h0m12 0h0m44 0h0m35 0h0m-93 1h0m16 0h0m10 0h0m0 0h0m5 0h0m16 0h0m4 0h0m11 0h0m1 0h0m-68 1h0m12 0h0m10 0h0m18 0h0m27 0h0m2 0h0m10 0h0m12 0h0m-81 1h0m5 0h0m27 0h0m4 0h0m62 0h0m-126 1h0m24 0h0m15 0h0m16 0h0m1 0h0m15 0h0m2 0h0m26 0h0m0 0h0m25 0h0m1 0h0m-115 1h0m5 0h0m18 0h0m16 0h0m35 0h0m1 0h0m2 0h0m12 0h0m0 0h0m13 0h0m-87 1h0m9 0h0m20 0h0m17 0h0m38 0h0m5 0h0m-66 1h0m7 0h0m0 0h0m25 0h0m-70 1h0m18 0h0m5 0h0m64 0h0m21 0h0m-102 1h0m18 0h0m12 0h0m17 0h0m2 0h0m10 0h0m14 0h0m4 0h0m7 0h0m8 0h0m17 0h0m-102 1h0m14 0h0m26 0h0m11 0h0m-55 1h0m13 0h0m30 0h0m50 0h0m5 0h0m-71 1h0m7 0h0m30 0h0m17 0h0m-88 1h0m38 0h0m21 0h0m29 0h0m-89 1h0m11 0h0m28 0h0m3 0h0m44 0h0m24 0h0m-37 1h0m24 0h0m10 0h0m-105 1h0m15 0h0m15 0h0m0 0h0m5 0h0m7 0h0m19 0h0m4 0h0m2 0h0m22 0h0m4 0h0m-96 1h0m59 0h0m1 0h0m20 0h0m15 0h0m-97 1h0m3 0h0m20 0h0m4 0h0m12 0h0m4 0h0m3 0h0m23 0h0m15 0h0m12 0h0m0 0h0m-88 1h0m2 0h0m16 0h0m25 0h0m12 0h0m1 0h0m6 0h0m-63 1h0m17 0h0m-3 1h0m2 0h0m14 0h0m3 0h0m22 0h0m14 0h0m30 0h0m-88 1h0m16 0h0m42 0h0m-65 1h0m1 0h0m15 0h0m3 0h0m50 0h0m18 0h0m11 0h0m-58 1h0m61 0h0m-59 1h0m2 0h0m5 0h0m31 0h0m1 0h0m8 0h0m8 0h0m-74 1h0m27 0h0m18 0h0m8 0h0m5 0h0m8 0h0m8 0h0m-99 1h0m6 0h0m1 0h0m2 0h0m28 0h0m8 0h0m1 0h0m0 0h0m13 0h0m-65 1h0m20 0h0m32 0h0m27 0h0m3 0h0m-82 1h0m1 0h0m25 0h0m19 0h0m13 0h0m24 0h0m-60 1h0m41 0h0m23 0h0m3 0h0m2 0h0m3 0h0m-75 1h0m23 0h0m23 0h0m17 0h0m26 0h0m-78 1h0m13 0h0m12 0h0m11 0h0m7 0h0m9 0h0m-75 1h0m18 0h0m10 0h0m11 0h0m26 0h0m6 0h0m-67 1h0m7 0h0m42 0h0m-41 1h0m4 0h0m20 0h0m8 0h0m13 0h0m30 0h0m-52 2h0m1 0h0m16 0h0m11 0h0m16 0h0m3 0h0m1 0h0m-80 1h0m34 0h0m3 0h0m5 0h0m14 0h0m19 0h0m0 0h0m1 0h0m2 0h0m2 0h0m3 0h0m-70 1h0m48 0h0m-55 1h0m49 0h0m-46 1h0m26 0h0m11 0h0m0 1h0m17 0h0m7 0h0m-34 1h0m25 0h0m-42 1h0m20 0h0m23 0h0m9 0h0m13 0h0m-67 1h0m7 0h0m11 0h0m1 0h0m18 0h0m-16 1h0m1 0h0m17 0h0m15 0h0m1 0h0m-7 1h0m4 0h0m-43 1h0m24 0h0m16 0h0m16 0h0m-58 1h0m-6 1h0m10 0h0m29 0h0m10 0h0m-48 1h0m33 0h0m-30 2h0m9 1h0" stroke="#2ca02c" stroke-width="3.00"/>
<path d="M778 117h0m-5 3h0m-2 3h0m10 0h0m-25 1h0m0 1h0m12 1h0m2 0h0m-13 1h0m13 0h0m3 0h0m3 0h0m4 0h0m7 1h0m3 0h0m-37 1h0m0 1h0m16 0h0m-15 1h0m0 0h0m3 0h0m29 0h0m15 0h0m-47 1h0m6 0h0m35 0h0m-56 1h0m4 0h0m0 0h0m4 0h0m35 0h0m11 0h0m-42 1h0m1 0h0m41 0h0m7 0h0m-54 1h0m52 0h0m9 0h0m-62 1h0m1 0h0m23 0h0m4 0h0m-6 1h0m1 0h0m-22 1h0m13 0h0m-15 1h0m4 0h0m16 0h0m38 0h0m-13 1h0m-38 1h0m20 0h0m30 0h0m14 0h0m-67 1h0m11 1h0m17 0h0m17 0h0m-28 1h0m28 0h0m6 0h0m-44 2h0m5 0h0m7 0h0m18 0h0m10 0h0m-22 1h0m6 0h0m1 0h0m-33 1h0m23 0h0m28 0h0m-37 1h0m19 0h0m26 0h0m2 0h0m8 0h0m2 0h0m-81 1h0m61 0h0m-25 1h0m8 0h0m8 0h0m14 0h0m15 0h0m-68 1h0m5 0h0m10 0h0m27 0h0m6 0h0m0 1h0m33 0h0m1 0h0m-67 2h0m40 0h0m15 0h0m9 0h0m0 0h0m-63 1h0m23 0h0m-39 1h0m38 0h0m-25 1h0m20 0h0m34 0h0m8 0h0m6 0h0m-40 1h0m35 0h0m-63 1h0m14 0h0m12 0h0m-23 1h0m39 0h0m19 0h0m-46 2h0m64 0h0m-40 1h0m15 2h0m-55 1h0m59 0h0m5 0h0m-59 1h0m8 0h0m52 1h0m3 0h0m1 2h0m5 0h0m-63 1h0m4 1h0m9 0h0m4 1h0m10 0h0m7 0h0m-16 1h0m-31 2h0m6 0h0m59 0h0m-25 1h0m-21 2h0m9 0h0m-20 1h0m61 0h0m-40 1h0m0 0h0m9 0h0m-24 1h0m7 0h0m-60 1h0m47 0h0m-46 1h0m5 0h0m54 0h0m2 0h0m-37 1h0m40 0h0m9 0h0m-53 1h0m41 0h0m22 0h0m32 0h0m-112 2h0m7 0h0m89 0h0m-48 1h0m-26 1h0m34 0h0m32 1h0m24 0h0m-110 1h0m9 0h0m0 0h0m55 0h0m7 0h0m-70 1h0m1 0h0m61 0h0m41 0h0m15 0h0m-128 1h0m22 0h0m5 0h0m2 0h0m84 0h0m0 3h0m-105 1h0m7 0h0m91 0h0m-224 1h0m126 0h0m7 0h0m4 0h0m100 0h0m-250 1h0m-15 1h0m11 0h0m144 0h0m77 0h0m11 0h0m-229 1h0m147 0h0m95 0h0m-247 1h0m137 0h0m58 0h0m-205 1h0m11 0h0m5 0h0m8 0h0m150 0h0m43 0h0m-224 1h0m187 0h0m65 0h0m-242 1h0m17 0h0m2 0h0m2 1h0m222 0h0m-230 1h0m1 0h0m6 0h0m28 0h0m176 0h0m-236 1h0m31 0h0m121 0h0m94 0h0m-242 1h0m30 0h0m219 0h0m-218 1h0m2 0h0m131 0h0m3 0h0m73 0h0m-248 1h0m26 0h0m153 0h0m16 0h0m13 0h0m7 0h0m-201 1h0m1 0h0m215 0h0m16 0h0m-217 1h0m10 0h0m7 0h0m185 0h0m46 1h0m-266 1h0m152 0h0m9 0h0m41 0h0m-219 1h0m33 0h0m20 0h0m128 0h0m4 0h0m5 0h0m45 0h0m5 0h0m3 0h0m14 0h0m-249 1h0m14 0h0m29 0h0m199 0h0m14 0h0m9 0h0m-87 1h0m13 0h0m5 0h0m-193 1h0m161 0h0m118 0h0m-274 1h0m8 0h0m7 0h0m14 0h0m1 0h0m3 0h0m184 0h0m2 0h0m19 0h0m26 0h0m10 0h0m-258 1h0m25 0h0m199 0h0m4 0h0m-75 1h0m52 0h0m12 0h0m-246 1h0m0 0h0m202 0h0m24 0h0m-57 1h0m7 0h0m35 0h0m42 0h0m-243 1h0m18 0h0m207 0h0m56 0h0m-256 1h0m0 0h0m147 0h0m-138 1h0m127 0h0m17 0h0m55 0h0m-240 1h0m4 0h0m50 0h0m115 0h0m24 0h0m96 0h0m-293 1h0m3 0h0m51 0h0m127 0h0m26 0h0m20 0h0m9 0h0m17 0h0m49 0h0m-307 1h0m19 0h0m279 0h0m13 0h0m-267 1h0m11 0h0m13 0h0m223 0h0m-245 1h0m125 0h0m-175 1h0m10 0h0m23 0h0m182 0h0m81 0h0m18 0h0m-251 1h0m168 0h0m-207 1h0m23 0h0m13 0h0m147 0h0m51 0h0m59 0h0m-286 1h0m8 0h0m5 0h0m3 0h0m31 0h0m115 0h0m120 0h0m7 0h0m-298 1h0m36 0h0m12 0h0m167 0h0m-180 2h0m234 0h0m4 0h0m-258 1h0m5 0h0m13 0h0m184 0h0m16 0h0m27 0h0m-234 1h0m26 0h0m33 0h0m104 0h0m35 0h0m44 0h0m24 0h0m1 0h0m-303 1h0m57 0h0m28 0h0m182 0h0m15 0h0m5 0h0m-288 1h0m52 0h0m241 0h0m24 0h0m2 0h0m-320 1h0m2 0h0m16 0h0m15 0h0m14 0h0m41 0h0m185 0h0m-203 1h0m106 0h0m109 0h0m33 0h0m-301 1h0m178 0h0m-191 1h0m2 0h0m5 0h0m84 0h0m98 0h0m99 0h0m-274 1h0m216 0h0m22 0h0m25 0h0m1 0h0m7 0h0m12 0h0m-306 1h0m106 0h0m120 0h0m-216 1h0m14 0h0m18 0h0m21 0h0m106 0h0m32 0h0m19 0h0m-153 1h0m0 0h0m11 0h0m145 0h0m29 0h0m44 0h0m11 0h0m-294 1h0m52 0h0m224 0h0m5 0h0m-282 1h0m29 0h0m145 0h0m12 0h0m0 0h0m84 0h0m14 0h0m29 0h0m-328 1h0m40 0h0m151 0h0m27 0h0m4 0h0m112 0h0m-327 1h0m5 0h0m7 0h0m5 0h0m7 0h0m12 0h0m37 0h0m3 0h0m174 0h0m47 0h0m7 0h0m-133 1h0m36 0h0m9 0h0m60 0h0m37 0h0m-293 1h0m16 0h0m166 0h0m7 0h0m83 0h0m16 0h0m-283 1h0m48 0h0m101 0h0m12 0h0m-134 1h0m167 0h0m45 0h0m38 0h0m4 0h0m-287 1h0m159 0h0m21 0h0m20 0h0m35 0h0m9 0h0m60 0h0m-65 1h0m49 0h0m9 0h0m-51 1h0m39 0h0m-275 1h0m225 0h0m40 0h0m8 0h0m7 0h0m-90 1h0m88 0h0m12 0h0m-2 1h0m-102 1h0m6 0h0m92 0h0m-304 1h0m158 0h0m67 0h0m35 0h0m62 0h0m-169 1h0m8 0h0m52 0h0m38 0h0m14 0h0m22 0h0m-293 1h0m10 0h0m9 0h0m1 0h0m219 0h0m39 0h0m7 0h0m4 0h0m-298 1h0m5 0h0m223 0h0m7 0h0m44 0h0m7 0h0m4 0h0m6 0h0m35 0h0m-308 1h0m151 0h0m44 0h0m57 0h0m40 0h0m8 0h0m5 0h0m-320 1h0m73 0h0m199 0h0m25 0h0m3 0h0m3 0h0m6 0h0m-314 1h0m12 0h0m18 0h0m217 0h0m62 0h0m-302 1h0m7 0h0m4 0h0m166 0h0m42 0h0m51 0h0m41 0h0m2 0h0m5 0h0m-327 1h0m8 0h0m1 0h0m24 0h0m1 0h0m187 0h0m66 0h0m-254 1h0m149 0h0m5 0h0m19 0h0m9 0h0m36 0h0m29 0h0m11 0h0m-282 1h0m6 0h0m42 0h0m120 0h0m13 0h0m33 0h0m47 0h0m6 0h0m-271 1h0m19 0h0m197 0h0m8 0h0m54 0h0m37 0h0m-318 1h0m8 0h0m20 0h0m20 0h0m123 0h0m81 0h0m26 0h0m-88 1h0m93 0h0m13 0h0m-276 1h0m15 0h0m25 0h0m125 0h0m-171 1h0m26 0h0m200 0h0m28 0h0m5 0h0m-255 1h0m21 0h0m261 0h0m21 0h0m-107 1h0m15 0h0m5 0h0m12 0h0m15 0h0m23 0h0m2 0h0m-264 1h0m31 0h0m114 0h0m13 0h0m93 0h0m5 0h0m19 0h0m26 0h0m2 0h0m-326 1h0m8 0h0m49 0h0m7 0h0m111 0h0m5 0h0m16 0h0m71 0h0m49 0h0m-306 1h0m8 0h0m2 0h0m153 0h0m14 0h0m108 0h0m4 0h0m17 0h0m-289 1h0m44 0h0m225 0h0m-293 1h0m21 0h0m59 0h0m91 0h0m72 0h0m2 0h0m14 0h0m38 0h0m9 0h0m9 0h0m3 0h0m5 0h0m-299 1h0m4 0h0m148 0h0m43 0h0m85 0h0m5 0h0m1 0h0m-307 1h0m3 0h0m22 0h0m51 0h0m96 0h0m41 0h0m8 0h0m26 0h0m34 0h0m8 0h0m-111 1h0m5 0h0m39 0h0m99 0h0m-278 1h0m0 0h0m-36 1h0m35 0h0m31 0h0m98 0h0m11 0h0m38 0h0m88 0h0m-285 1h0m5 0h0m30 0h0m109 0h0m47 0h0m7 0h0m7 0h0m86 0h0m-301 1h0m30 0h0m8 0h0m3 0h0m119 0h0m5 0h0m2 0h0m-175 1h0m12 0h0m8 0h0m194 0h0m-206 1h0m12 0h0m198 0h0m8 0h0m27 0h0m2 0h0m-248 1h0m60 0h0m112 0h0m126 0h0m9 0h0m-259 1h0m115 0h0m11 0h0m117 0h0m10 0h0m-309 1h0m14 0h0m31 0h0m11 0h0m111 0h0m2 0h0m2 0h0m-179 1h0m241 0h0m75 0h0m-305 1h0m177 0h0m29 0h0m4 0h0m52 0h0m-265 1h0m26 0h0m145 0h0m32 0h0m-185 1h0m54 0h0m93 0h0m30 0h0m90 0h0m27 0h0m-131 1h0m17 0h0m44 0h0m12 0h0m7 0h0m43 0h0m-253 1h0m164 0h0m96 0h0m-132 1h0m20 0h0m29 0h0m13 0h0m29 0h0m1 0h0m5 0h0m-222 1h0m145 0h0m47 0h0m15 0h0m4 0h0m12 0h0m12 0h0m-88 1h0m20 0h0m36 0h0m15 0h0m-85 1h0m17 0h0m39 0h0m28 0h0m5 0h0m-61 1h0m16 0h0m4 0h0m48 0h0m25 0h0m-148 1h0m13 0h0m23 0h0m35 0h0m21 0h0m10 0h0m2 0h0m2 0h0m19 0h0m11 0h0m1 0h0m7 0h0m-129 1h0m21 0h0m23 0h0m6 0h0m23 0h0m13 0h0m3 0h0m19 0h0m5 0h0m-115 1h0m22 0h0m1 0h0m65 0h0m12 0h0m3 0h0m-104 1h0m53 0h0m5 0h0m30 0h0m36 0h0m15 0h0m-143 1h0m18 0h0m22 0h0m5 0h0m18 0h0m22 0h0m8 0h0m5 0h0m34 0h0m-89 1h0m7 0h0m34 0h0m33 0h0m14 0h0m-114 1h0m0 0h0m0 0h0m7 0h0m18 0h0m61 0h0m9 0h0m28 0h0m1 0h0m-124 1h0m15 0h0m14 0h0m14 0h0m2 0h0m18 0h0m1 0h0m22 0h0m26 0h0m-124 1h0m14 0h0m16 0h0m20 0h0m3 0h0m9 0h0m15 0h0m4 0h0m5 0h0m21 0h0m10 0h0m3 0h0m5 0h0m-87 1h0m8 0h0m4 0h0m25 0h0m16 0h0m13 0h0m0 0h0m-91 1h0m1 0h0m42 0h0m23 0h0m9 0h0m6 0h0m0 0h0m21 0h0m5 0h0m7 0h0m5 0h0m-125 1h0m37 0h0m18 0h0m1 0h0m8 0h0m0 0h0m32 0h0m9 0h0m12 0h0m-84 1h0m32 0h0m1 0h0m6 0h0m10 0h0m1 0h0m13 0h0m13 0h0m-96 1h0m104 0h0m3 0h0m-122 1h0m11 0h0m3 0h0m5 0h0m10 0h0m2 0h0m10 0h0m12 0h0m7 0h0m-67 1h0m13 0h0m13 0h0m23 0h0m5 0h0m26 0h0m19 0h0m3 0h0m1 0h0m14 0h0m8 0h0m-82 1h0m11 0h0m-12 1h0m15 0h0m1 0h0m22 0h0m36 0h0m2 0h0m-86 1h0m5 0h0m43 0h0m12 0h0m2 0h0m10 0h0m5 0h0m26 0h0m-101 1h0m48 0h0m11 0h0m1 0h0m19 0h0m4 0h0m7 0h0m-110 1h0m40 0h0m21 0h0m12 0h0m3 0h0m0 0h0m22 0h0m6 0h0m-81 1h0m25 0h0m4 0h0m1 0h0m27 0h0m21 0h0m7 0h0m11 0h0m-99 1h0m12 0h0m10 0h0m18 0h0m16 0h0m17 0h0m12 0h0m4 0h0m-103 1h0m14 0h0m55 0h0m28 0h0m-77 1h0m16 0h0m5 0h0m14 0h0m4 0h0m34 0h0m5 0h0m-26 1h0m4 0h0m12 0h0m10 0h0m0 0h0m-33 1h0m11 0h0m8 0h0m5 0h0m17 0h0m-96 1h0m5 0h0m7 0h0m5 0h0m7 0h0m6 0h0m5 0h0m25 0h0m14 0h0m17 0h0m5 0h0m1 0h0m-109 1h0m11 0h0m35 0h0m26 0h0m17 0h0m2 0h0m2 0h0m-88 1h0m8 0h0m13 0h0m2 0h0m9 0h0m22 0h0m6 0h0m1 0h0m9 0h0m25 0h0m-98 1h0m48 0h0m37 0h0m-93 1h0m2 0h0m80 0h0m2 0h0m22 0h0m1 0h0m-83 1h0m61 0h0m12 0h0m3 0h0m11 0h0m-94 1h0m0 0h0m17 0h0m15 0h0m2 0h0m13 0h0m1 0h0m10 0h0m11 0h0m16 0h0m4 0h0m8 0h0m-100 1h0m1 0h0m6 0h0m7 0h0m17 0h0m1 0h0m37 0h0m-50 1h0m0 0h0m33 0h0m32 0h0m5 0h0m15 0h0m-93 1h0m4 0h0m1 0h0m44 0h0m2 0h0m-63 1h0m11 0h0m10 0h0m16 0h0m59 0h0m-102 1h0m16 0h0m3 0h0m4 0h0m24 0h0m5 0h0m16 0h0m17 0h0m19 0h0m-89 1h0m37 0h0m9 0h0m38 0h0m-85 1h0m15 0h0m28 0h0m16 0h0m12 0h0m8 0h0m17 0h0m3 0h0m-85 1h0m63 0h0m-84 1h0m20 0h0m25 0h0m14 0h0m3 0h0m7 0h0m6 0h0m26 0h0m-82 1h0m12 0h0m35 0h0m10 0h0m5 0h0m-84 1h0m38 0h0m12 0h0m7 0h0m4 0h0m5 0h0m15 0h0m1 0h0m11 0h0m-70 1h0m12 0h0m-23 1h0m27 0h0m1 0h0m1 0h0m10 0h0m3 0h0m28 0h0m15 0h0m4 0h0m4 0h0m-102 1h0m12 0h0m4 0h0m84 0h0m-90 1h0m9 0h0m12 0h0m2 0h0m16 0h0m19 0h0m16 0h0m22 0h0m2 0h0m-121 1h0m8 0h0m2 0h0m4 0h0m45 0h0m16 0h0m17 0h0m21 0h0m-88 1h0m5 0h0m18 0h0m37 0h0m15 0h0m-90 1h0m62 0h0m20 0h0m-60 1h0m26 0h0m4 0h0m13 0h0m18 0h0m6 0h0m-88 1h0m44 0h0m3 0h0m0 0h0m18 0h0m25 0h0m3 0h0m7 0h0m-45 1h0m21 0h0m-66 1h0m4 0h0m21 0h0m15 0h0m15 0h0m8 0h0m2 0h0m19 0h0m-89 1h0m0 0h0m23 0h0m6 0h0m11 0h0m8 0h0m-38 1h0m19 0h0m4 0h0m10 0h0m8 0h0m15 0h0m13 0h0m-80 1h0m60 0h0m1 0h0m28 0h0m-84 1h0m26 0h0m5 0h0m-37 1h0m12 0h0m26 0h0m4 0h0m0 0h0m3 0h0m14 0h0m3 0h0m4 0h0m8 0h0m-78 1h0m7 0h0m30 0h0m52 0h0m15 0h0m-86 1h0m25 0h0m0 1h0m6 0h0m36 0h0m-64 1h0m25 0h0m31 0h0m-27 1h0m4 0h0m27 0h0m3 1h0m2 0h0m-63 1h0m48 0h0m3 0h0m9 0h0m3 0h0m0 0h0m5 0h0m-18 1h0m2 0h0m15 0h0m-47 1h0m1 0h0m17 0h0m2 0h0m-19 1h0m19 0h0m5 0h0m6 0h0m-19 1h0m12 0h0m-44 1h0m4 0h0m22 1h0m13 0h0m10 1h0m2 1h0m-41 1h0m5 0h0m10 0h0m-22 2h0" stroke="#2ca02c" stroke-width="3.00"/>
<path d="M777 119h0m-22 1h0m15 0h0m-1 2h0m9 1h0m-1 2h0m-28 2h0m36 1h0m2 0h0m-28 1h0m15 0h0m-26 3h0m22 0h0m10 0h0m-42 1h0m14 0h0m9 0h0m7 0h0m29 1h0m9 0h0m-28 1h0m-19 1h0m6 0h0m19 0h0m-23 2h0m0 0h0m33 0h0m-47 1h0m10 0h0m0 1h0m14 1h0m37 0h0m1 0h0m5 0h0m-64 1h0m44 0h0m-53 1h0m5 0h0m3 0h0m2 0h0m22 1h0m-13 2h0m20 0h0m10 0h0m11 0h0m3 0h0m-23 1h0m32 0h0m-63 1h0m10 0h0m-11 1h0m46 0h0m8 0h0m10 0h0m-42 1h0m29 0h0m9 0h0m-6 1h0m14 0h0m-59 2h0m54 0h0m22 0h0m-88 1h0m21 0h0m-23 1h0m21 0h0m14 0h0m-2 1h0m52 0h0m-53 1h0m7 0h0m24 0h0m-45 1h0m5 0h0m64 0h0m-63 2h0m8 1h0m9 0h0m49 0h0m-43 1h0m9 0h0m-69 1h0m34 0h0m55 0h0m11 0h0m-51 1h0m13 0h0m-28 1h0m1 0h0m23 0h0m19 0h0m22 0h0m-2 3h0m-35 1h0m-20 1h0m60 0h0m-50 1h0m37 0h0m14 1h0m-46 1h0m42 0h0m10 0h0m-73 1h0m6 0h0m-2 1h0m20 0h0m-22 1h0m12 1h0m-53 3h0m10 0h0m37 0h0m1 0h0m-35 2h0m55 0h0m-64 1h0m73 0h0m16 0h0m-49 2h0m7 0h0m-42 1h0m44 1h0m6 0h0m2 0h0m2 0h0m-64 1h0m39 0h0m5 0h0m-30 1h0m32 0h0m68 0h0m-68 1h0m12 0h0m-11 1h0m44 0h0m6 0h0m-33 1h0m-37 1h0m15 0h0m-25 1h0m2 0h0m62 0h0m8 0h0m-86 1h0m9 0h0m4 0h0m42 0h0m17 0h0m29 0h0m3 0h0m-103 1h0m73 0h0m-54 1h0m-33 1h0m30 1h0m76 1h0m15 0h0m6 0h0m-117 1h0m-131 1h0m140 0h0m12 0h0m-175 1h0m3 0h0m5 1h0m18 0h0m123 0h0m72 0h0m-219 1h0m2 0h0m15 0h0m134 0h0m5 0h0m68 0h0m12 0h0m-227 1h0m16 0h0m194 0h0m16 0h0m25 0h0m-244 1h0m139 0h0m-166 1h0m160 0h0m15 0h0m-134 2h0m135 0h0m-152 1h0m12 0h0m123 0h0m6 0h0m82 0h0m24 1h0m-261 2h0m32 0h0m126 0h0m16 0h0m53 0h0m44 0h0m-292 1h0m61 0h0m128 0h0m-3 1h0m37 0h0m15 0h0m-228 1h0m176 0h0m9 0h0m-178 1h0m150 0h0m98 0h0m-270 1h0m32 0h0m11 0h0m18 0h0m6 0h0m127 0h0m36 0h0m7 0h0m8 0h0m33 0h0m21 0h0m-287 1h0m7 0h0m7 0h0m19 0h0m214 0h0m4 0h0m-259 1h0m46 0h0m6 0h0m118 0h0m84 0h0m1 0h0m-235 1h0m5 0h0m169 0h0m-159 1h0m140 0h0m19 0h0m38 0h0m7 0h0m3 0h0m-222 1h0m4 0h0m20 1h0m147 0h0m51 0h0m-203 1h0m7 0h0m199 0h0m-212 1h0m140 0h0m62 0h0m-216 1h0m168 0h0m6 0h0m-203 1h0m23 0h0m224 0h0m-238 1h0m13 0h0m39 0h0m129 0h0m9 0h0m68 0h0m37 0h0m3 0h0m-267 1h0m154 0h0m0 0h0m75 0h0m-259 1h0m39 0h0m5 0h0m204 0h0m-254 1h0m24 0h0m20 0h0m130 0h0m26 0h0m86 0h0m-281 1h0m33 0h0m136 0h0m48 0h0m12 0h0m10 0h0m-200 1h0m17 0h0m33 0h0m147 0h0m59 0h0m-252 1h0m19 0h0m196 0h0m25 0h0m4 0h0m-262 1h0m31 0h0m1 0h0m20 0h0m-64 1h0m7 0h0m28 0h0m31 0h0m4 0h0m211 0h0m-224 1h0m7 0h0m201 0h0m-235 1h0m163 0h0m-202 1h0m65 0h0m24 0h0m94 0h0m110 0h0m14 0h0m-306 1h0m1 0h0m0 0h0m2 0h0m10 0h0m82 0h0m78 0h0m46 0h0m-197 1h0m25 0h0m33 0h0m152 0h0m-232 1h0m78 0h0m19 0h0m86 0h0m54 0h0m20 0h0m40 0h0m-307 1h0m14 0h0m22 0h0m12 0h0m58 0h0m198 0h0m5 0h0m-241 1h0m190 0h0m39 0h0m-281 1h0m26 0h0m0 0h0m5 0h0m48 0h0m94 0h0m45 0h0m-177 1h0m241 0h0m2 0h0m-285 1h0m85 0h0m111 0h0m24 0h0m3 0h0m31 0h0m18 0h0m-286 1h0m78 0h0m113 0h0m60 0h0m0 0h0m7 0h0m36 0h0m17 0h0m3 0h0m-123 1h0m108 0h0m10 0h0m-286 1h0m12 0h0m28 0h0m122 0h0m43 0h0m91 0h0m0 0h0m-312 1h0m12 0h0m17 0h0m156 0h0m8 0h0m92 0h0m-263 1h0m14 0h0m155 0h0m103 0h0m4 0h0m6 0h0m-282 1h0m5 0h0m41 0h0m159 0h0m-222 1h0m5 0h0m62 0h0m167 0h0m10 0h0m42 0h0m3 0h0m4 0h0m13 0h0m-290 1h0m45 0h0m2 0h0m-63 1h0m-6 1h0m63 0h0m105 0h0m103 0h0m-46 1h0m85 0h0m3 0h0m-293 1h0m187 0h0m20 0h0m89 0h0m-305 1h0m183 0h0m15 0h0m20 0h0m76 0h0m-24 1h0m-73 1h0m53 0h0m-236 1h0m167 0h0m23 0h0m99 0h0m10 0h0m3 0h0m-314 1h0m238 0h0m-81 1h0m12 0h0m87 0h0m37 0h0m6 0h0m-91 1h0m3 0h0m53 0h0m19 0h0m26 0h0m-84 1h0m14 0h0m52 0h0m-117 1h0m14 0h0m6 0h0m0 0h0m21 0h0m17 0h0m13 0h0m48 0h0m-118 1h0m86 0h0m49 0h0m-318 1h0m2 0h0m181 0h0m19 0h0m16 0h0m0 0h0m63 0h0m10 0h0m-285 1h0m14 0h0m269 0h0m10 0h0m-248 1h0m128 0h0m37 0h0m-197 1h0m146 0h0m3 0h0m8 0h0m-164 1h0m4 0h0m0 0h0m203 0h0m25 0h0m13 0h0m-40 1h0m64 0h0m7 0h0m-287 1h0m8 0h0m165 0h0m35 0h0m2 0h0m10 0h0m27 0h0m45 0h0m-282 1h0m261 0h0m1 0h0m-268 1h0m8 0h0m158 0h0m12 0h0m-195 1h0m26 0h0m154 0h0m47 0h0m57 0h0m4 0h0m28 0h0m8 0h0m-273 1h0m135 0h0m52 0h0m57 0h0m6 0h0m7 0h0m-270 1h0m275 0h0m10 0h0m-319 1h0m42 0h0m-29 1h0m5 0h0m25 0h0m133 0h0m30 0h0m81 0h0m-272 1h0m39 0h0m116 0h0m5 0h0m10 0h0m87 0h0m19 0h0m-228 1h0m188 0h0m41 0h0m-264 1h0m155 0h0m49 0h0m39 0h0m16 0h0m23 0h0m-299 1h0m11 0h0m160 0h0m96 0h0m12 0h0m-284 1h0m1 0h0m35 0h0m281 0h0m6 0h0m-319 1h0m2 0h0m17 0h0m146 0h0m1 0h0m91 0h0m-249 1h0m4 0h0m6 0h0m23 0h0m119 0h0m1 0h0m1 0h0m4 0h0m4 0h0m33 0h0m3 0h0m77 0h0m-259 1h0m182 0h0m-197 1h0m11 0h0m8 0h0m17 0h0m116 0h0m14 0h0m40 0h0m1 0h0m38 0h0m-86 2h0m27 0h0m32 0h0m-217 1h0m26 0h0m24 0h0m110 0h0m139 0h0m-294 1h0m21 1h0m16 0h0m20 0h0m106 0h0m35 0h0m30 0h0m-80 1h0m146 0h0m2 0h0m-101 1h0m20 0h0m-216 1h0m205 0h0m78 0h0m1 1h0m2 0h0m17 0h0m-269 1h0m7 0h0m195 0h0m24 0h0m-114 1h0m101 0h0m47 0h0m-258 1h0m158 0h0m28 0h0m36 0h0m8 0h0m-266 1h0m60 0h0m195 0h0m-76 1h0m16 0h0m76 0h0m10 0h0m-237 1h0m110 1h0m3 0h0m10 0h0m1 0h0m43 0h0m24 0h0m3 0h0m-34 1h0m12 0h0m17 0h0m36 0h0m-103 1h0m11 0h0m4 0h0m24 0h0m4 0h0m11 0h0m7 0h0m21 0h0m19 0h0m34 0h0m-115 1h0m17 0h0m3 0h0m14 0h0m29 0h0m5 0h0m-65 1h0m30 0h0m54 0h0m-107 1h0m61 0h0m13 0h0m0 0h0m-86 1h0m6 0h0m53 0h0m44 0h0m7 0h0m5 0h0m22 0h0m-133 1h0m2 0h0m0 0h0m15 0h0m27 0h0m47 0h0m-71 1h0m21 0h0m12 0h0m27 0h0m-54 1h0m49 0h0m10 0h0m56 0h0m-115 1h0m1 0h0m27 0h0m34 0h0m18 0h0m13 0h0m-94 1h0m34 0h0m21 0h0m5 0h0m7 0h0m11 0h0m15 0h0m-75 1h0m22 0h0m1 0h0m35 0h0m-38 1h0m1 0h0m5 0h0m46 0h0m-93 1h0m3 0h0m26 0h0m23 0h0m6 0h0m1 0h0m28 0h0m-82 1h0m3 0h0m6 0h0m22 0h0m42 0h0m39 0h0m-130 1h0m20 0h0m4 0h0m35 0h0m6 0h0m23 0h0m-79 1h0m14 0h0m7 0h0m7 0h0m15 0h0m6 0h0m0 0h0m1 0h0m3 0h0m7 0h0m22 0h0m23 0h0m-107 1h0m1 0h0m23 0h0m4 0h0m34 0h0m32 0h0m-58 1h0m2 0h0m25 0h0m1 0h0m1 0h0m18 0h0m1 0h0m-59 1h0m49 0h0m7 0h0m14 0h0m5 0h0m5 0h0m-64 1h0m33 0h0m-52 1h0m6 0h0m14 0h0m6 0h0m31 0h0m17 0h0m2 0h0m14 0h0m2 0h0m-53 1h0m28 0h0m33 0h0m-120 1h0m9 0h0m4 0h0m44 0h0m23 0h0m-75 1h0m20 0h0m35 0h0m40 0h0m-87 1h0m17 0h0m1 0h0m6 0h0m23 0h0m48 0h0m9 0h0m-113 1h0m38 0h0m12 0h0m27 0h0m8 0h0m-91 1h0m7 0h0m13 0h0m29 0h0m39 0h0m21 0h0m-99 1h0m34 0h0m19 0h0m15 0h0m11 0h0m21 0h0m-81 1h0m34 0h0m2 0h0m2 0h0m1 0h0m1 0h0m16 0h0m1 0h0m8 0h0m3 0h0m7 0h0m5 0h0m1 0h0m-91 1h0m62 0h0m9 0h0m-90 1h0m38 0h0m65 0h0m0 0h0m-53 1h0m36 0h0m20 0h0m3 0h0m-65 1h0m3 0h0m1 0h0m47 0h0m-86 1h0m14 0h0m-6 1h0m20 0h0m40 0h0m36 0h0m-115 1h0m6 0h0m2 0h0m10 0h0m11 0h0m30 0h0m22 0h0m13 0h0m4 0h0m-100 1h0m4 0h0m15 0h0m21 0h0m5 0h0m11 0h0m22 0h0m9 0h0m-71 1h0m17 0h0m15 0h0m5 0h0m23 0h0m7 0h0m-82 1h0m16 0h0m84 0h0m-72 1h0m3 0h0m14 0h0m6 0h0m55 0h0m2 0h0m6 0h0m-62 1h0m25 0h0m6 0h0m1 0h0m1 0h0m6 0h0m6 0h0m18 0h0m-97 1h0m9 0h0m78 0h0m-89 1h0m31 0h0m14 0h0m48 0h0m8 0h0m-117 1h0m10 0h0m19 0h0m2 0h0m0 0h0m27 0h0m22 0h0m13 0h0m-78 1h0m3 0h0m19 0h0m24 0h0m-28 1h0m19 0h0m3 0h0m5 0h0m7 0h0m5 0h0m4 0h0m-61 1h0m3 0h0m11 0h0m0 0h0m15 1h0m13 0h0m18 0h0m9 0h0m-65 1h0m3 0h0m4 0h0m68 0h0m-85 1h0m20 0h0m52 0h0m20 0h0m11 0h0m-43 1h0m19 0h0m-14 1h0m7 0h0m1 0h0m1 0h0m-74 1h0m15 0h0m3 0h0m2 0h0m7 0h0m6 0h0m32 0h0m20 0h0m6 0h0m0 0h0m9 0h0m-83 1h0m6 0h0m12 0h0m40 0h0m4 0h0m12 0h0m-75 1h0m48 0h0m-57 1h0m65 0h0m9 0h0m7 0h0m-50 1h0m23 0h0m18 0h0m11 0h0m-39 1h0m8 0h0m0 0h0m5 0h0m8 0h0m-47 1h0m78 0h0m-54 1h0m24 0h0m7 0h0m6 0h0m-71 1h0m20 1h0m2 0h0m31 0h0m1 0h0m-67 1h0m17 0h0m71 0h0m-83 1h0m11 0h0m10 0h0m19 0h0m22 0h0m10 0h0m12 0h0m-74 1h0m6 0h0m41 0h0m-34 1h0m8 0h0m41 0h0m10 0h0m-2 1h0m-80 1h0m6 0h0m32 0h0m2 0h0m16 0h0m0 0h0m5 0h0m1 0h0m3 0h0m13 0h0m5 0h0m1 0h0m-42 1h0m43 0h0m-86 1h0m6 0h0m23 1h0m28 0h0m6 0h0m9 0h0m10 0h0m-17 1h0m-16 1h0m10 0h0m-18 1h0m26 0h0m-43 2h0m35 0h0m-42 1h0m19 1h0m18 0h0m-22 1h0m30 0h0m14 0h0m-52 5h0" stroke="#ff7f0e" stroke-width="3.00"/>
<path d="M763 115h0m17 2h0m-4 1h0m-10 1h0m-4 1h0m-4 2h0m26 0h0m-31 1h0m24 0h0m-31 2h0m9 0h0m26 1h0m2 0h0m-23 1h0m13 0h0m20 0h0m-28 1h0m6 0h0m23 1h0m-26 2h0m16 0h0m-39 1h0m13 0h0m16 0h0m-26 1h0m60 1h0m-68 1h0m9 0h0m10 0h0m38 0h0m-50 1h0m11 0h0m27 0h0m3 0h0m-35 1h0m20 1h0m13 0h0m-42 1h0m0 0h0m26 0h0m5 0h0m18 0h0m-46 1h0m-4 1h0m2 0h0m16 0h0m18 0h0m26 0h0m1 0h0m-59 1h0m15 0h0m26 0h0m-33 1h0m51 0h0m-51 1h0m21 0h0m18 0h0m-50 1h0m69 0h0m-52 1h0m9 0h0m0 0h0m11 0h0m-22 1h0m7 0h0m1 0h0m-24 2h0m3 0h0m41 0h0m6 0h0m11 0h0m-54 1h0m-12 1h0m28 0h0m30 0h0m29 0h0m-44 1h0m40 0h0m-4 1h0m-71 1h0m10 0h0m12 0h0m60 0h0m-53 1h0m46 0h0m-73 1h0m83 0h0m1 0h0m-4 1h0m-72 1h0m7 1h0m7 0h0m59 0h0m-65 1h0m37 0h0m-43 1h0m4 0h0m-29 2h0m31 0h0m69 1h0m-52 1h0m15 0h0m12 0h0m-33 1h0m3 0h0m-16 1h0m18 1h0m-10 1h0m14 0h0m46 0h0m-103 1h0m44 0h0m3 1h0m-16 1h0m36 0h0m-57 1h0m41 0h0m-15 1h0m71 0h0m-14 1h0m-51 1h0m4 0h0m25 0h0m12 0h0m18 0h0m-29 1h0m-21 1h0m-20 1h0m26 0h0m20 0h0m-25 2h0m15 0h0m-26 3h0m-53 1h0m81 0h0m-73 1h0m69 0h0m-18 1h0m20 0h0m-71 1h0m3 0h0m41 0h0m7 0h0m-52 1h0m60 0h0m53 0h0m-108 1h0m10 0h0m8 1h0m63 0h0m-18 1h0m50 0h0m-18 1h0m-88 1h0m17 0h0m69 0h0m-87 1h0m20 0h0m77 0h0m-230 1h0m242 0h0m-116 1h0m7 0h0m8 0h0m2 0h0m5 0h0m93 0h0m-119 1h0m17 0h0m2 0h0m-22 1h0m17 0h0m7 0h0m39 0h0m20 0h0m32 1h0m-105 1h0m58 0h0m37 1h0m-87 1h0m12 0h0m93 0h0m-247 1h0m136 0h0m9 0h0m98 0h0m-58 1h0m-198 1h0m260 0h0m-25 1h0m-227 1h0m9 0h0m129 0h0m110 0h0m-273 1h0m158 0h0m4 0h0m-161 1h0m19 0h0m-20 1h0m225 0h0m-231 1h0m22 1h0m3 0h0m19 0h0m1 0h0m123 0h0m5 0h0m6 0h0m0 0h0m55 0h0m-226 1h0m27 1h0m3 0h0m142 0h0m3 0h0m68 0h0m-227 1h0m10 0h0m144 0h0m-167 1h0m13 0h0m201 0h0m-201 1h0m170 0h0m97 0h0m-277 1h0m28 0h0m125 1h0m-153 1h0m230 0h0m1 0h0m-7 1h0m1 0h0m-227 1h0m171 0h0m5 0h0m71 0h0m-267 1h0m33 0h0m21 0h0m188 0h0m-234 1h0m5 0h0m213 0h0m11 0h0m-43 1h0m42 0h0m9 0h0m8 0h0m-81 1h0m7 0h0m0 0h0m19 0h0m-207 1h0m178 0h0m57 0h0m73 0h0m-296 1h0m186 0h0m55 0h0m24 0h0m-217 1h0m-49 1h0m3 0h0m39 0h0m129 0h0m2 0h0m52 0h0m2 1h0m25 0h0m-259 1h0m35 0h0m38 0h0m168 0h0m45 0h0m-242 1h0m157 0h0m-123 1h0m201 0h0m29 0h0m-303 1h0m3 0h0m287 0h0m-271 1h0m62 0h0m202 0h0m-256 1h0m0 0h0m13 0h0m17 0h0m-2 1h0m1 0h0m234 0h0m4 0h0m-210 1h0m158 0h0m53 0h0m-216 1h0m-74 1h0m14 0h0m73 0h0m138 0h0m61 0h0m7 0h0m-252 1h0m28 0h0m-44 1h0m38 0h0m135 0h0m82 0h0m1 0h0m31 0h0m-303 1h0m34 0h0m26 0h0m101 0h0m-164 1h0m4 0h0m36 0h0m15 0h0m133 0h0m-198 1h0m5 0h0m15 0h0m19 0h0m199 0h0m6 0h0m50 0h0m-219 1h0m2 0h0m4 0h0m212 0h0m2 0h0m20 0h0m1 0h0m-297 1h0m17 0h0m49 0h0m112 0h0m89 0h0m4 0h0m-223 1h0m16 0h0m209 0h0m-276 1h0m61 0h0m93 0h0m81 0h0m-224 1h0m55 0h0m22 0h0m116 0h0m70 0h0m11 0h0m11 0h0m11 0h0m3 0h0m-333 1h0m3 0h0m18 0h0m10 0h0m9 0h0m59 0h0m123 0h0m-200 1h0m19 0h0m6 0h0m9 0h0m163 0h0m-211 1h0m211 0h0m41 0h0m-216 1h0m8 0h0m245 0h0m5 0h0m16 0h0m-293 1h0m31 0h0m132 0h0m29 0h0m16 0h0m-219 1h0m7 0h0m163 0h0m85 0h0m1 0h0m16 0h0m19 0h0m-53 1h0m-69 1h0m1 0h0m23 0h0m101 0h0m3 0h0m-295 1h0m222 0h0m49 0h0m24 0h0m23 0h0m-125 1h0m83 0h0m-245 1h0m173 0h0m8 0h0m0 0h0m49 1h0m27 0h0m21 0h0m-306 1h0m8 0h0m207 0h0m71 0h0m-88 1h0m78 0h0m11 0h0m-295 1h0m290 0h0m20 0h0m-123 1h0m27 0h0m80 0h0m-95 1h0m2 0h0m28 0h0m83 0h0m-299 1h0m238 0h0m56 0h0m1 0h0m-304 1h0m169 0h0m2 0h0m10 0h0m16 0h0m64 0h0m2 0h0m20 0h0m-115 1h0m98 0h0m32 0h0m0 0h0m-86 1h0m61 0h0m-270 1h0m11 0h0m199 0h0m25 0h0m57 0h0m-302 1h0m17 0h0m253 0h0m9 0h0m-281 1h0m3 0h0m7 0h0m6 0h0m27 0h0m123 0h0m83 0h0m51 0h0m-298 1h0m11 0h0m9 0h0m5 0h0m157 0h0m56 0h0m32 0h0m18 0h0m32 0h0m-319 1h0m20 0h0m214 0h0m41 0h0m23 0h0m-123 1h0m6 0h0m45 0h0m60 0h0m-267 1h0m299 0h0m-24 1h0m20 0h0m-279 1h0m16 0h0m2 0h0m5 0h0m121 0h0m34 0h0m86 0h0m-283 1h0m160 0h0m14 0h0m21 0h0m94 0h0m13 0h0m-314 1h0m12 0h0m193 0h0m60 0h0m10 0h0m28 0h0m-241 1h0m96 0h0m77 0h0m-181 1h0m126 0h0m5 0h0m96 0h0m11 0h0m-294 1h0m47 0h0m13 0h0m126 0h0m64 0h0m62 0h0m-318 1h0m15 0h0m301 0h0m3 0h0m1 0h0m-273 1h0m-32 1h0m53 0h0m105 0h0m149 0h0m-283 1h0m5 0h0m269 0h0m-136 1h0m11 0h0m74 0h0m23 0h0m-260 1h0m13 0h0m248 0h0m23 0h0m-283 1h0m178 0h0m38 0h0m10 0h0m-250 1h0m24 0h0m5 0h0m13 0h0m143 0h0m1 0h0m85 0h0m46 0h0m-311 1h0m49 0h0m125 0h0m68 0h0m26 0h0m42 0h0m-293 1h0m55 0h0m110 0h0m42 0h0m14 0h0m50 0h0m-78 1h0m100 0h0m-315 1h0m64 0h0m8 0h0m116 0h0m-23 1h0m67 0h0m75 0h0m-303 1h0m43 0h0m126 0h0m32 0h0m26 0h0m-210 1h0m30 0h0m153 0h0m115 0h0m-310 1h0m42 0h0m152 0h0m4 0h0m108 0h0m-267 1h0m133 0h0m41 0h0m73 0h0m21 0h0m-303 1h0m50 0h0m249 0h0m5 0h0m-319 1h0m23 0h0m237 0h0m-252 1h0m218 0h0m93 0h0m-297 1h0m201 0h0m73 0h0m10 0h0m-259 1h0m137 0h0m106 0h0m-99 1h0m34 0h0m27 0h0m13 0h0m19 0h0m-94 1h0m3 0h0m18 0h0m2 0h0m9 0h0m22 1h0m30 0h0m13 0h0m10 0h0m2 0h0m4 0h0m18 0h0m-94 1h0m3 0h0m33 0h0m35 0h0m-121 1h0m6 0h0m13 0h0m41 0h0m17 0h0m45 0h0m19 0h0m-117 1h0m6 0h0m19 0h0m3 0h0m0 0h0m27 0h0m69 0h0m-78 1h0m21 0h0m51 0h0m-136 1h0m3 0h0m4 0h0m46 0h0m53 0h0m8 0h0m5 0h0m3 0h0m4 0h0m-99 1h0m5 0h0m9 0h0m27 0h0m17 0h0m2 0h0m5 0h0m14 0h0m11 0h0m-110 1h0m60 0h0m38 0h0m-90 1h0m0 0h0m27 0h0m9 0h0m14 0h0m1 0h0m12 0h0m10 0h0m1 0h0m24 0h0m0 0h0m-99 1h0m6 0h0m4 0h0m12 0h0m25 0h0m27 0h0m17 0h0m-110 1h0m50 0h0m-44 1h0m34 0h0m20 0h0m20 0h0m31 0h0m22 0h0m-110 1h0m13 0h0m22 0h0m15 0h0m5 0h0m2 0h0m26 0h0m12 0h0m1 0h0m13 0h0m-66 1h0m0 0h0m46 0h0m5 0h0m17 0h0m-111 1h0m20 0h0m27 0h0m51 0h0m-39 1h0m6 0h0m19 0h0m1 0h0m4 0h0m-103 1h0m27 0h0m27 0h0m4 0h0m5 0h0m34 0h0m0 0h0m2 0h0m5 0h0m-40 1h0m16 0h0m5 0h0m19 0h0m16 0h0m-91 1h0m25 0h0m-35 1h0m14 0h0m64 0h0m9 0h0m-53 1h0m23 0h0m26 0h0m-44 1h0m-31 1h0m1 0h0m70 0h0m33 0h0m-108 1h0m4 0h0m53 0h0m9 0h0m20 0h0m-39 1h0m46 0h0m5 0h0m8 0h0m-32 1h0m-95 1h0m30 0h0m0 0h0m0 0h0m7 0h0m1 0h0m42 0h0m31 0h0m-82 1h0m35 0h0m7 0h0m-49 1h0m57 0h0m12 0h0m-37 1h0m2 0h0m34 0h0m1 0h0m2 0h0m9 0h0m14 0h0m-107 1h0m58 0h0m6 0h0m-57 1h0m35 0h0m25 0h0m0 0h0m-34 1h0m8 0h0m5 0h0m3 0h0m27 0h0m41 0h0m-117 1h0m10 0h0m7 0h0m2 0h0m60 0h0m3 0h0m9 0h0m-75 1h0m21 0h0m23 0h0m12 0h0m-76 1h0m14 0h0m43 0h0m11 0h0m27 0h0m23 0h0m-89 1h0m27 0h0m5 0h0m0 0h0m19 0h0m22 0h0m2 0h0m-103 1h0m10 0h0m2 0h0m51 0h0m5 0h0m22 0h0m2 0h0m11 0h0m5 0h0m-67 1h0m4 0h0m26 0h0m6 0h0m5 0h0m29 0h0m1 0h0m-98 1h0m5 0h0m37 0h0m-51 1h0m4 0h0m18 0h0m2 0h0m21 0h0m20 0h0m33 0h0m4 0h0m-91 2h0m8 0h0m10 0h0m31 0h0m2 0h0m14 0h0m24 0h0m-102 1h0m12 0h0m25 0h0m34 0h0m0 0h0m29 0h0m-60 1h0m20 0h0m2 0h0m4 0h0m28 0h0m-90 1h0m13 0h0m36 0h0m3 0h0m8 0h0m21 0h0m-82 1h0m66 0h0m29 0h0m-85 1h0m10 0h0m15 0h0m3 0h0m6 0h0m2 0h0m-44 1h0m1 0h0m72 0h0m5 0h0m7 0h0m5 0h0m3 0h0m-67 1h0m1 0h0m12 0h0m34 0h0m8 0h0m18 0h0m-88 2h0m23 0h0m5 0h0m38 0h0m4 0h0m-41 1h0m3 0h0m7 0h0m7 0h0m17 0h0m7 0h0m-46 1h0m7 0h0m45 0h0m-78 1h0m9 0h0m77 0h0m-87 1h0m2 0h0m26 0h0m58 0h0m8 0h0m1 0h0m-109 1h0m28 0h0m10 0h0m31 0h0m5 0h0m1 1h0m15 0h0m2 0h0m14 0h0m0 0h0m-94 1h0m3 0h0m3 0h0m6 0h0m48 0h0m37 0h0m-72 1h0m5 0h0m21 0h0m-52 1h0m49 0h0m11 0h0m-64 1h0m3 0h0m17 0h0m8 0h0m18 0h0m30 0h0m-73 1h0m10 0h0m18 0h0m29 0h0m12 0h0m8 0h0m-73 1h0m6 0h0m36 0h0m4 0h0m25 1h0m-59 1h0m8 0h0m18 0h0m2 0h0m2 0h0m20 0h0m12 0h0m10 0h0m-45 1h0m40 0h0m-33 1h0m18 0h0m-51 1h0m76 0h0m-66 1h0m-16 1h0m18 0h0m22 0h0m-13 1h0m36 0h0m-28 1h0m7 0h0m12 1h0m-9 2h0m11 0h0m7 0h0m-20 1h0m25 0h0m-62 1h0m45 0h0m12 1h0m-51 9h0" stroke="#ff7f0e" stroke-width="3.00"/>
<path d="M764 118h0m13 0h0m-20 2h0m-3 2h0m-14 5h0m49 0h0m-39 1h0m15 1h0m19 0h0m11 1h0m-22 1h0m-32 1h0m13 0h0m4 0h0m-2 1h0m19 0h0m0 0h0m16 0h0m-51 1h0m4 0h0m40 0h0m24 0h0m-66 1h0m44 0h0m4 0h0m-44 1h0m3 0h0m34 0h0m-29 1h0m26 0h0m8 1h0m9 1h0m-49 1h0m32 0h0m4 0h0m-36 1h0m23 0h0m0 0h0m1 0h0m19 0h0m15 0h0m-60 1h0m11 0h0m13 0h0m0 0h0m37 0h0m-60 1h0m29 0h0m17 0h0m20 0h0m-66 1h0m14 0h0m9 0h0m0 0h0m11 0h0m13 0h0m6 0h0m-15 1h0m-25 1h0m17 0h0m17 0h0m12 0h0m-16 1h0m20 0h0m-68 1h0m21 0h0m35 0h0m6 0h0m9 0h0m2 0h0m-55 1h0m13 0h0m5 0h0m15 0h0m6 0h0m-58 1h0m24 0h0m6 0h0m2 0h0m23 0h0m-29 1h0m-2 1h0m7 0h0m31 0h0m6 0h0m-53 1h0m18 0h0m15 0h0m17 0h0m15 0h0m2 0h0m-62 1h0m46 0h0m8 0h0m-59 1h0m20 0h0m5 0h0m16 0h0m32 0h0m-71 1h0m17 0h0m-31 1h0m39 0h0m31 0h0m19 0h0m3 0h0m-83 1h0m12 0h0m6 0h0m24 0h0m41 0h0m1 0h0m-77 1h0m71 0h0m8 1h0m-70 1h0m9 0h0m-7 1h0m39 1h0m28 0h0m-87 1h0m7 0h0m17 0h0m43 0h0m-20 1h0m2 0h0m26 0h0m-62 2h0m11 0h0m23 0h0m7 1h0m-82 1h0m117 0h0m-80 1h0m9 0h0m20 0h0m-18 1h0m24 1h0m-33 1h0m3 0h0m68 0h0m5 0h0m-8 1h0m5 1h0m-76 1h0m69 0h0m-100 2h0m42 0h0m20 0h0m9 0h0m33 0h0m-66 1h0m6 0h0m4 0h0m14 0h0m-15 1h0m1 0h0m3 0h0m5 0h0m10 0h0m2 0h0m-28 1h0m20 0h0m20 0h0m-13 1h0m-8 1h0m3 0h0m28 0h0m-87 1h0m27 0h0m10 0h0m20 0h0m7 0h0m4 0h0m11 0h0m2 0h0m-42 1h0m5 0h0m6 0h0m1 0h0m37 0h0m-90 1h0m50 1h0m9 0h0m-48 1h0m5 0h0m29 0h0m-3 1h0m4 0h0m1 0h0m16 0h0m-4 1h0m15 0h0m-78 1h0m8 0h0m2 0h0m87 0h0m22 0h0m-121 1h0m39 0h0m15 0h0m13 0h0m15 0h0m13 0h0m15 0h0m-66 1h0m55 0h0m-1 1h0m-89 1h0m21 0h0m70 0h0m-5 1h0m-215 1h0m225 0h0m-101 1h0m115 0h0m-124 1h0m29 0h0m90 0h0m-96 1h0m54 0h0m28 0h0m17 0h0m-98 1h0m20 0h0m-184 1h0m23 0h0m-31 1h0m194 0h0m10 0h0m-169 2h0m120 0h0m25 0h0m40 0h0m-207 1h0m16 0h0m124 0h0m1 0h0m-123 1h0m134 0h0m98 0h0m-254 1h0m204 0h0m38 0h0m-221 1h0m-42 1h0m4 0h0m11 0h0m51 0h0m100 0h0m3 0h0m88 0h0m29 0h0m-289 1h0m37 0h0m6 0h0m23 0h0m104 0h0m8 0h0m41 0h0m10 0h0m10 0h0m40 0h0m-269 1h0m20 0h0m7 0h0m22 0h0m112 0h0m76 0h0m-85 1h0m14 0h0m61 0h0m5 0h0m6 0h0m-247 1h0m15 0h0m20 0h0m250 0h0m-282 1h0m34 0h0m136 0h0m50 0h0m27 0h0m30 0h0m-245 1h0m147 0h0m4 0h0m1 0h0m35 0h0m3 0h0m3 0h0m63 0h0m-121 1h0m25 0h0m10 0h0m15 0h0m-178 1h0m2 0h0m5 0h0m2 0h0m141 0h0m38 0h0m9 0h0m21 0h0m12 0h0m5 0h0m-239 1h0m5 0h0m6 0h0m118 0h0m12 0h0m69 0h0m-236 1h0m40 0h0m115 0h0m26 0h0m32 0h0m16 0h0m19 0h0m4 0h0m-88 1h0m-173 1h0m8 0h0m8 0h0m32 0h0m138 0h0m51 0h0m-243 1h0m21 0h0m28 0h0m3 0h0m132 0h0m1 0h0m96 0h0m-272 1h0m152 0h0m7 0h0m8 0h0m63 0h0m8 0h0m-245 1h0m20 0h0m17 0h0m4 0h0m227 0h0m-263 1h0m30 0h0m132 0h0m59 0h0m17 0h0m-220 1h0m3 0h0m24 0h0m2 0h0m132 0h0m7 0h0m32 0h0m25 0h0m26 0h0m-283 1h0m25 0h0m15 0h0m10 0h0m6 0h0m173 0h0m38 0h0m-220 1h0m140 0h0m104 0h0m9 0h0m-292 1h0m17 0h0m6 0h0m1 0h0m3 0h0m18 0h0m12 0h0m179 0h0m1 0h0m52 0h0m-281 1h0m23 0h0m8 0h0m4 0h0m7 0h0m134 0h0m111 0h0m-303 1h0m249 0h0m19 0h0m-58 1h0m18 0h0m86 0h0m-128 1h0m60 0h0m71 0h0m-315 1h0m30 0h0m32 0h0m121 0h0m-168 1h0m3 0h0m261 0h0m-280 1h0m10 0h0m247 0h0m-257 1h0m68 0h0m12 0h0m167 0h0m3 0h0m9 0h0m33 0h0m-289 1h0m66 0h0m142 0h0m10 0h0m-219 1h0m40 0h0m6 0h0m17 0h0m248 0h0m3 0h0m-215 1h0m183 0h0m-280 1h0m33 0h0m39 0h0m106 0h0m10 0h0m-188 1h0m11 0h0m12 0h0m198 0h0m40 0h0m33 0h0m5 0h0m-275 1h0m4 0h0m7 0h0m7 0h0m2 0h0m32 0h0m107 0h0m95 0h0m19 0h0m20 0h0m-299 1h0m21 0h0m35 0h0m8 0h0m16 0h0m185 0h0m26 0h0m-316 1h0m107 0h0m128 0h0m53 0h0m6 0h0m29 0h0m-292 1h0m4 0h0m256 0h0m31 0h0m9 0h0m-276 1h0m5 0h0m119 0h0m41 0h0m25 0h0m-215 1h0m13 0h0m15 0h0m258 0h0m14 0h0m-327 1h0m3 0h0m3 0h0m12 0h0m37 0h0m4 0h0m136 0h0m55 0h0m38 0h0m13 0h0m8 0h0m3 0h0m6 0h0m-309 1h0m9 0h0m27 0h0m145 0h0m2 0h0m71 0h0m1 0h0m30 0h0m4 0h0m14 0h0m11 0h0m-322 1h0m48 0h0m156 0h0m81 0h0m6 0h0m2 0h0m15 0h0m-299 1h0m5 0h0m209 0h0m9 0h0m51 0h0m7 0h0m9 0h0m1 0h0m19 0h0m-312 1h0m8 0h0m32 0h0m166 0h0m46 0h0m-253 1h0m12 0h0m29 0h0m153 0h0m100 0h0m-291 1h0m4 0h0m3 0h0m18 0h0m2 0h0m14 0h0m140 0h0m113 0h0m-296 1h0m50 0h0m163 0h0m18 0h0m-215 1h0m155 0h0m43 0h0m86 0h0m-303 1h0m193 0h0m21 0h0m7 0h0m7 0h0m-22 1h0m90 0h0m10 0h0m3 0h0m-250 1h0m227 0h0m-91 1h0m26 0h0m65 0h0m26 0h0m-287 1h0m179 0h0m12 1h0m12 0h0m-237 1h0m10 0h0m63 0h0m104 0h0m31 0h0m8 0h0m5 0h0m93 0h0m-91 1h0m7 0h0m9 0h0m78 0h0m2 0h0m6 0h0m-277 1h0m149 0h0m73 0h0m50 0h0m-304 1h0m237 0h0m27 0h0m19 0h0m17 0h0m4 0h0m-316 1h0m188 0h0m11 0h0m16 0h0m12 0h0m111 0h0m-112 1h0m39 0h0m28 0h0m19 0h0m-285 1h0m36 0h0m129 0h0m49 0h0m71 0h0m-286 1h0m222 0h0m53 0h0m14 0h0m8 0h0m-294 1h0m184 0h0m4 0h0m52 0h0m14 0h0m-267 1h0m203 0h0m30 0h0m34 0h0m5 0h0m12 0h0m15 0h0m11 0h0m3 0h0m-153 1h0m18 0h0m21 1h0m49 0h0m19 0h0m8 0h0m3 0h0m24 0h0m-308 1h0m27 0h0m12 0h0m146 0h0m24 0h0m13 0h0m32 0h0m63 0h0m-320 1h0m54 0h0m134 0h0m31 0h0m64 0h0m-290 1h0m188 0h0m52 0h0m50 0h0m12 0h0m9 0h0m6 0h0m-308 1h0m7 0h0m2 0h0m8 0h0m3 0h0m229 0h0m25 0h0m28 0h0m-302 1h0m21 0h0m206 0h0m9 0h0m29 0h0m13 0h0m14 0h0m-289 1h0m2 0h0m15 0h0m23 0h0m122 0h0m0 0h0m12 0h0m32 0h0m80 0h0m-283 1h0m42 0h0m16 0h0m106 0h0m1 0h0m0 0h0m7 0h0m1 0h0m56 0h0m43 0h0m6 0h0m19 0h0m4 0h0m7 0h0m-310 1h0m2 0h0m20 0h0m2 0h0m20 0h0m1 0h0m124 0h0m8 0h0m30 0h0m69 0h0m19 0h0m5 0h0m-260 1h0m135 0h0m4 0h0m2 0h0m49 0h0m45 0h0m18 0h0m-304 1h0m14 0h0m163 0h0m1 0h0m40 0h0m52 0h0m15 0h0m10 0h0m5 0h0m-288 1h0m52 0h0m179 0h0m48 0h0m-288 1h0m31 0h0m142 0h0m42 0h0m23 0h0m72 0h0m-310 1h0m21 0h0m12 0h0m48 0h0m88 0h0m8 0h0m65 0h0m0 0h0m14 0h0m14 0h0m18 0h0m23 0h0m2 0h0m-281 1h0m19 0h0m23 0h0m181 0h0m16 0h0m52 0h0m-319 1h0m4 0h0m1 0h0m2 0h0m57 0h0m183 0h0m22 0h0m9 0h0m-285 1h0m178 0h0m4 0h0m107 0h0m20 0h0m10 0h0m-321 1h0m28 0h0m226 0h0m3 0h0m62 0h0m6 0h0m-277 1h0m194 0h0m33 0h0m4 0h0m19 0h0m1 0h0m-269 1h0m155 0h0m84 0h0m45 0h0m15 0h0m-292 1h0m155 0h0m115 0h0m20 0h0m-315 1h0m21 0h0m26 0h0m137 0h0m19 0h0m33 0h0m61 0h0m-240 1h0m105 0h0m14 0h0m3 0h0m59 0h0m36 0h0m12 0h0m5 0h0m-287 1h0m8 0h0m189 0h0m50 0h0m54 0h0m-315 1h0m15 0h0m51 0h0m3 0h0m214 0h0m-271 1h0m8 0h0m7 0h0m290 0h0m4 0h0m-300 1h0m40 0h0m112 0h0m20 0h0m-172 1h0m28 0h0m129 0h0m14 0h0m61 0h0m39 0h0m16 0h0m-303 1h0m62 0h0m161 0h0m14 0h0m35 0h0m48 0h0m-320 1h0m3 0h0m16 0h0m31 0h0m6 0h0m4 0h0m104 0h0m12 0h0m-173 1h0m44 0h0m118 0h0m120 0h0m24 0h0m-295 1h0m41 0h0m132 0h0m2 0h0m25 0h0m2 0h0m26 0h0m13 0h0m13 0h0m37 0h0m-294 1h0m57 0h0m111 0h0m24 0h0m11 0h0m95 0h0m10 0h0m-315 1h0m62 0h0m151 0h0m97 0h0m1 0h0m-296 1h0m169 0h0m24 0h0m0 0h0m26 0h0m2 0h0m50 0h0m-282 1h0m4 0h0m209 0h0m16 0h0m3 0h0m76 0h0m-130 1h0m32 0h0m1 0h0m24 0h0m2 0h0m22 0h0m17 0h0m23 0h0m8 0h0m-118 1h0m12 0h0m16 0h0m14 0h0m8 0h0m23 0h0m2 0h0m3 0h0m17 0h0m-27 1h0m1 0h0m15 0h0m39 0h0m-137 1h0m5 0h0m12 0h0m24 0h0m24 0h0m6 0h0m23 0h0m4 0h0m5 0h0m20 0h0m9 0h0m-107 1h0m18 0h0m12 0h0m5 0h0m33 0h0m11 0h0m-73 1h0m17 0h0m38 0h0m14 0h0m2 0h0m28 0h0m-109 1h0m14 0h0m6 0h0m19 0h0m11 0h0m35 0h0m1 0h0m-119 1h0m34 0h0m18 0h0m6 0h0m45 0h0m4 0h0m19 0h0m2 0h0m17 0h0m-132 1h0m53 0h0m7 0h0m1 0h0m11 0h0m16 0h0m7 0h0m18 0h0m2 0h0m22 0h0m-105 1h0m22 0h0m12 0h0m70 0h0m-83 1h0m3 0h0m55 0h0m14 0h0m-81 1h0m18 0h0m36 0h0m16 0h0m4 0h0m17 0h0m-138 1h0m101 0h0m12 0h0m22 0h0m-115 1h0m16 0h0m12 0h0m1 0h0m15 0h0m4 0h0m14 0h0m12 0h0m17 0h0m15 0h0m-66 1h0m43 0h0m25 0h0m-76 1h0m16 0h0m19 0h0m37 0h0m-102 1h0m48 0h0m4 0h0m21 0h0m40 0h0m-120 1h0m11 0h0m29 0h0m5 0h0m1 0h0m3 0h0m1 0h0m30 0h0m6 0h0m-76 1h0m57 0h0m16 0h0m19 0h0m-97 1h0m7 0h0m28 0h0m16 0h0m-49 1h0m7 0h0m3 0h0m20 0h0m12 0h0m21 0h0m4 0h0m15 0h0m20 0h0m3 0h0m-124 1h0m13 0h0m50 0h0m2 0h0m-53 1h0m65 0h0m13 0h0m-63 2h0m6 0h0m1 0h0m0 0h0m31 1h0m22 0h0m20 0h0m-47 1h0m13 0h0m20 0h0m-83 1h0m73 0h0m19 0h0m8 0h0m19 0h0m-113 1h0m50 0h0m37 0h0m-91 1h0m16 0h0m1 0h0m7 0h0m2 0h0m6 0h0m1 0h0m22 0h0m22 0h0m2 0h0m11 0h0m-82 1h0m4 0h0m38 0h0m34 0h0m30 0h0m-94 1h0m33 0h0m37 0h0m11 0h0m-88 1h0m3 0h0m26 0h0m6 0h0m1 0h0m9 0h0m15 0h0m3 0h0m38 0h0m3 0h0m-121 1h0m8 0h0m49 0h0m11 0h0m18 0h0m10 0h0m17 0h0m-112 1h0m1 1h0m9 0h0m27 0h0m15 0h0m25 0h0m13 0h0m17 0h0m-107 1h0m27 0h0m22 0h0m11 0h0m30 0h0m15 0h0m5 0h0m0 0h0m-108 1h0m16 0h0m9 0h0m10 0h0m2 0h0m6 0h0m3 0h0m6 0h0m-44 1h0m26 0h0m1 0h0m12 0h0m3 0h0m14 0h0m22 0h0m12 0h0m1 0h0m-90 1h0m7 0h0m4 0h0m19 0h0m0 0h0m31 0h0m12 0h0m-54 1h0m32 0h0m6 0h0m8 0h0m22 0h0m14 0h0m-83 1h0m1 0h0m12 0h0m11 0h0m16 0h0m24 0h0m13 0h0m11 0h0m-96 1h0m10 0h0m22 0h0m11 0h0m12 0h0m-59 1h0m2 0h0m10 0h0m13 0h0m7 0h0m14 0h0m1 0h0m11 0h0m11 0h0m3 0h0m9 0h0m-17 1h0m4 0h0m9 0h0m8 0h0m-80 1h0m17 0h0m18 0h0m17 0h0m5 0h0m5 0h0m12 0h0m-82 1h0m17 0h0m17 0h0m2 0h0m19 0h0m13 0h0m28 0h0m-83 1h0m13 0h0m9 0h0m4 0h0m9 0h0m15 0h0m4 0h0m3 0h0m7 0h0m14 0h0m1 0h0m4 0h0m-81 1h0m13 0h0m0 0h0m-26 1h0m4 0h0m2 0h0m8 0h0m11 0h0m8 0h0m10 0h0m14 0h0m30 0h0m-102 1h0m1 0h0m16 0h0m0 0h0m24 0h0m57 0h0m11 0h0m-64 1h0m3 0h0m16 0h0m31 0h0m11 0h0m-98 1h0m24 0h0m24 0h0m11 0h0m0 0h0m2 0h0m2 0h0m7 0h0m1 0h0m9 0h0m-77 1h0m9 0h0m0 0h0m13 0h0m10 0h0m12 0h0m30 0h0m3 0h0m16 0h0m-99 1h0m7 0h0m2 0h0m0 0h0m19 0h0m8 0h0m10 0h0m2 0h0m29 0h0m12 0h0m2 0h0m-78 1h0m13 0h0m46 0h0m8 0h0m7 0h0m9 0h0m-54 1h0m2 0h0m32 0h0m16 0h0m9 0h0m5 0h0m-87 1h0m38 0h0m7 0h0m10 0h0m3 0h0m6 0h0m-58 1h0m3 0h0m10 0h0m10 0h0m5 0h0m8 0h0m10 0h0m31 0h0m-53 1h0m43 0h0m-88 1h0m71 0h0m20 0h0m-10 1h0m3 1h0m10 0h0m-19 1h0m3 0h0m-42 1h0m1 0h0m8 0h0m3 0h0m9 0h0m17 0h0m13 0h0m5 0h0m-84 1h0m41 0h0m2 0h0m-51 1h0m73 0h0m2 0h0m2 0h0m-48 2h0m23 0h0m19 0h0m8 0h0m-12 1h0m-52 1h0m16 0h0m34 0h0m10 0h0m-45 1h0m15 0h0m8 0h0m4 0h0m13 0h0m5 1h0m2 0h0m-58 1h0m6 0h0m16 0h0m9 0h0m15 0h0m2 1h0m0 0h0m-18 1h0m2 0h0m0 0h0m20 0h0m-25 1h0m16 0h0m-16 2h0m-11 1h0m-11 2h0m10 0h0m22 0h0m-35 2h0" stroke="#2ca02c" stroke-width="3.00"/>
<path d="M781 115h0m-7 2h0m0 1h0m-18 1h0m11 1h0m7 0h0m4 0h0m-9 2h0m3 0h0m7 0h0m2 0h0m-24 1h0m1 0h0m4 0h0m9 0h0m21 0h0m-12 1h0m-18 1h0m12 0h0m-11 1h0m7 0h0m4 1h0m15 0h0m-42 1h0m16 0h0m19 0h0m15 0h0m-40 1h0m18 0h0m25 0h0m-30 1h0m12 0h0m-29 3h0m40 0h0m1 0h0m-55 1h0m7 0h0m44 0h0m-19 1h0m8 0h0m21 0h0m-45 1h0m9 0h0m6 0h0m1 1h0m16 1h0m8 0h0m3 0h0m-55 2h0m16 1h0m27 1h0m3 0h0m6 0h0m1 0h0m18 0h0m-74 1h0m4 0h0m5 0h0m31 0h0m27 0h0m-68 1h0m11 0h0m52 0h0m-30 1h0m1 0h0m19 0h0m7 0h0m4 0h0m16 0h0m-85 1h0m44 0h0m11 0h0m8 0h0m-25 1h0m18 0h0m4 0h0m3 0h0m-16 1h0m9 0h0m-50 1h0m75 0h0m-78 1h0m34 0h0m3 1h0m10 0h0m7 0h0m7 0h0m7 0h0m-66 1h0m18 0h0m45 0h0m6 0h0m12 0h0m-84 1h0m16 0h0m2 0h0m3 0h0m46 0h0m-46 1h0m32 0h0m11 0h0m22 0h0m-82 1h0m21 1h0m13 0h0m13 0h0m31 0h0m-55 1h0m8 0h0m37 0h0m-49 1h0m4 0h0m6 0h0m47 0h0m20 0h0m-82 1h0m14 0h0m6 0h0m18 0h0m-39 1h0m47 0h0m-9 1h0m11 0h0m28 0h0m-49 1h0m14 0h0m35 0h0m9 0h0m-87 1h0m4 0h0m17 0h0m19 0h0m47 0h0m0 0h0m-16 1h0m17 0h0m-52 2h0m-55 1h0m65 0h0m-37 4h0m19 0h0m51 0h0m-93 1h0m35 0h0m28 0h0m-31 1h0m1 0h0m8 0h0m54 0h0m-8 1h0m14 0h0m-70 1h0m-36 1h0m47 0h0m12 1h0m3 0h0m-31 1h0m25 0h0m-5 1h0m10 0h0m19 0h0m-66 1h0m38 0h0m-55 1h0m51 0h0m10 0h0m-1 1h0m-21 1h0m8 0h0m1 2h0m11 0h0m-43 1h0m-16 1h0m40 0h0m6 0h0m5 0h0m-58 1h0m13 0h0m40 0h0m29 0h0m17 0h0m-42 1h0m20 0h0m-78 1h0m53 0h0m0 0h0m-49 1h0m25 1h0m38 0h0m42 0h0m-109 1h0m8 0h0m38 0h0m7 0h0m14 0h0m-48 1h0m-18 1h0m14 0h0m-13 1h0m12 0h0m92 0h0m7 0h0m-96 1h0m-2 1h0m-9 1h0m9 0h0m23 0h0m62 0h0m-99 1h0m103 0h0m-252 1h0m234 0h0m0 0h0m-70 1h0m3 1h0m22 0h0m50 0h0m4 0h0m16 0h0m-237 1h0m135 0h0m8 0h0m0 1h0m4 0h0m-167 1h0m10 0h0m147 0h0m-158 1h0m238 0h0m8 0h0m-231 1h0m146 0h0m8 0h0m-179 1h0m36 0h0m131 0h0m0 0h0m42 0h0m7 0h0m-194 1h0m131 0h0m5 0h0m-139 1h0m36 0h0m114 0h0m61 0h0m29 0h0m-260 1h0m0 0h0m21 0h0m190 0h0m2 0h0m16 0h0m-238 1h0m176 0h0m42 0h0m23 0h0m-243 1h0m4 0h0m65 0h0m124 0h0m38 0h0m13 0h0m23 0h0m-263 1h0m172 0h0m5 0h0m58 0h0m9 0h0m23 0h0m-247 1h0m2 0h0m14 0h0m10 0h0m9 0h0m110 0h0m68 0h0m41 0h0m-271 1h0m24 0h0m1 0h0m11 0h0m10 0h0m10 0h0m187 0h0m-237 1h0m10 0h0m32 0h0m123 0h0m2 0h0m23 0h0m35 0h0m-225 1h0m171 0h0m7 0h0m37 0h0m45 0h0m11 0h0m-287 1h0m13 0h0m40 0h0m123 0h0m-146 1h0m6 0h0m152 0h0m2 0h0m9 0h0m40 0h0m-223 1h0m1 0h0m16 0h0m31 0h0m135 0h0m30 0h0m5 0h0m15 0h0m30 0h0m16 0h0m-301 1h0m12 0h0m10 0h0m11 0h0m6 0h0m24 0h0m128 0h0m58 0h0m30 0h0m17 0h0m-291 1h0m2 0h0m24 0h0m225 0h0m-254 1h0m0 0h0m34 0h0m183 0h0m15 0h0m3 0h0m4 0h0m19 0h0m-225 1h0m138 0h0m17 0h0m11 0h0m29 0h0m31 0h0m-230 1h0m19 0h0m21 0h0m129 0h0m94 1h0m-248 1h0m12 0h0m128 0h0m3 0h0m7 0h0m2 0h0m44 0h0m26 0h0m-256 1h0m34 0h0m3 0h0m14 0h0m236 0h0m-283 1h0m1 0h0m35 0h0m19 0h0m151 0h0m71 0h0m14 0h0m-289 1h0m21 0h0m1 0h0m2 0h0m157 0h0m37 0h0m75 0h0m2 0h0m-309 1h0m225 0h0m62 0h0m-270 1h0m1 0h0m169 0h0m37 0h0m74 0h0m-247 1h0m235 0h0m4 0h0m14 0h0m-304 1h0m299 0h0m-225 1h0m176 0h0m35 0h0m5 0h0m1 0h0m0 0h0m4 0h0m25 0h0m-300 1h0m6 0h0m8 0h0m28 0h0m10 0h0m169 0h0m61 0h0m8 0h0m-289 1h0m16 0h0m20 0h0m-60 1h0m10 0h0m3 0h0m5 0h0m167 0h0m111 0h0m2 0h0m-288 1h0m4 0h0m7 0h0m4 1h0m15 0h0m12 0h0m202 0h0m39 0h0m-289 1h0m13 0h0m7 0h0m9 0h0m40 0h0m-16 1h0m14 0h0m18 0h0m2 0h0m7 0h0m83 0h0m17 0h0m56 0h0m6 0h0m43 0h0m8 0h0m17 0h0m-322 1h0m3 0h0m12 0h0m63 0h0m135 0h0m105 0h0m-316 1h0m31 0h0m19 0h0m25 0h0m171 0h0m34 0h0m-262 1h0m32 0h0m24 0h0m29 0h0m103 0h0m32 0h0m43 0h0m-1 1h0m11 0h0m-7 1h0m34 0h0m-292 1h0m44 0h0m112 0h0m36 0h0m46 0h0m25 0h0m5 0h0m-217 1h0m14 0h0m11 0h0m86 0h0m91 0h0m10 0h0m7 0h0m-306 1h0m2 0h0m13 0h0m215 0h0m82 0h0m7 0h0m-315 1h0m43 0h0m16 0h0m11 0h0m160 0h0m68 0h0m1 0h0m-221 1h0m5 0h0m3 0h0m105 0h0m119 0h0m-303 1h0m44 0h0m130 0h0m56 0h0m88 0h0m-274 1h0m1 0h0m177 0h0m55 0h0m22 0h0m-257 1h0m260 0h0m-301 1h0m72 0h0m170 0h0m59 0h0m3 0h0m-288 1h0m194 0h0m1 1h0m11 0h0m26 0h0m42 0h0m7 0h0m-289 1h0m11 0h0m11 0h0m150 0h0m7 0h0m21 0h0m98 0h0m-279 1h0m178 0h0m18 0h0m67 0h0m-77 1h0m62 0h0m4 0h0m45 0h0m-150 2h0m35 0h0m96 0h0m3 0h0m6 0h0m-266 1h0m202 0h0m15 0h0m7 0h0m6 0h0m39 0h0m19 0h0m-140 1h0m101 0h0m-83 1h0m115 0h0m-333 1h0m11 0h0m198 0h0m67 0h0m27 0h0m29 0h0m3 0h0m-143 1h0m39 0h0m44 0h0m22 0h0m-121 1h0m48 0h0m1 0h0m8 0h0m71 0h0m24 0h0m-149 1h0m107 0h0m26 0h0m15 0h0m-321 1h0m7 0h0m158 0h0m12 0h0m9 0h0m87 0h0m11 0h0m2 0h0m18 0h0m-295 1h0m236 0h0m-66 1h0m32 0h0m62 0h0m-52 1h0m3 0h0m35 0h0m38 0h0m-243 1h0m10 0h0m102 0h0m45 0h0m45 0h0m28 0h0m10 0h0m-280 1h0m8 0h0m29 0h0m125 0h0m4 0h0m-171 1h0m18 0h0m28 0h0m113 0h0m44 0h0m11 0h0m47 0h0m3 0h0m3 0h0m-268 1h0m2 0h0m156 0h0m-165 1h0m21 0h0m141 0h0m20 0h0m101 0h0m31 0h0m-315 1h0m7 0h0m9 0h0m161 0h0m5 0h0m4 0h0m88 0h0m37 0h0m-275 1h0m148 0h0m32 0h0m56 0h0m6 0h0m2 0h0m7 0h0m-281 1h0m156 0h0m113 0h0m12 0h0m15 0h0m-308 1h0m10 0h0m262 0h0m51 0h0m-143 1h0m138 0h0m-299 1h0m27 0h0m8 0h0m116 0h0m19 0h0m10 0h0m10 0h0m79 0h0m10 0h0m11 0h0m-303 1h0m9 0h0m11 0h0m3 0h0m17 0h0m137 0h0m1 0h0m9 0h0m42 0h0m38 0h0m7 0h0m12 0h0m6 0h0m-294 1h0m11 0h0m56 0h0m97 0h0m9 0h0m8 0h0m19 0h0m83 0h0m14 0h0m3 0h0m-279 1h0m9 0h0m37 0h0m107 0h0m69 0h0m-188 1h0m16 0h0m104 0h0m7 0h0m131 0h0m2 0h0m-322 1h0m33 0h0m29 0h0m125 0h0m61 0h0m27 0h0m2 0h0m33 0h0m-275 1h0m47 0h0m110 0h0m88 0h0m15 0h0m-288 1h0m25 0h0m7 0h0m1 0h0m24 0h0m18 0h0m150 0h0m48 0h0m34 0h0m4 0h0m-297 1h0m28 0h0m22 0h0m118 0h0m129 0h0m-308 1h0m25 0h0m48 0h0m135 0h0m14 0h0m25 0h0m-208 1h0m121 0h0m17 0h0m4 0h0m33 0h0m3 0h0m82 0h0m6 0h0m-296 1h0m54 0h0m117 0h0m89 0h0m40 1h0m-243 1h0m3 0h0m94 0h0m137 0h0m-264 1h0m0 0h0m129 0h0m5 0h0m107 0h0m32 0h0m-305 1h0m11 0h0m63 0h0m96 0h0m13 0h0m50 0h0m48 0h0m23 0h0m7 0h0m3 0h0m-113 1h0m2 0h0m29 0h0m80 0h0m-324 1h0m4 0h0m1 0h0m2 0h0m191 0h0m120 0h0m-294 1h0m49 0h0m1 0h0m-50 1h0m24 0h0m123 0h0m23 0h0m-120 1h0m0 0h0m114 0h0m70 0h0m-198 1h0m111 0h0m14 0h0m68 0h0m14 0h0m-83 1h0m19 0h0m10 0h0m10 0h0m43 0h0m27 0h0m-243 1h0m14 0h0m115 0h0m33 0h0m21 0h0m17 0h0m15 0h0m8 0h0m-211 1h0m123 0h0m51 0h0m24 0h0m8 0h0m19 0h0m-272 1h0m213 0h0m20 0h0m42 0h0m1 0h0m-235 1h0m132 0h0m0 0h0m18 0h0m8 0h0m31 0h0m5 0h0m6 0h0m1 0h0m12 0h0m2 0h0m2 0h0m23 0h0m3 0h0m-76 1h0m36 0h0m7 0h0m14 0h0m4 0h0m3 0h0m4 0h0m-237 1h0m157 0h0m26 0h0m25 0h0m9 0h0m22 0h0m3 0h0m4 0h0m-114 1h0m21 0h0m10 0h0m23 0h0m14 0h0m27 0h0m34 0h0m-111 1h0m12 0h0m72 0h0m5 0h0m-94 1h0m0 0h0m27 0h0m24 0h0m2 0h0m45 0h0m4 0h0m5 0h0m-66 1h0m39 0h0m2 0h0m17 0h0m8 0h0m-96 1h0m38 0h0m10 0h0m9 0h0m12 0h0m17 0h0m6 0h0m2 0h0m-104 1h0m20 0h0m19 0h0m7 0h0m54 0h0m5 0h0m0 0h0m-90 1h0m3 0h0m3 0h0m22 0h0m2 0h0m13 0h0m14 0h0m22 0h0m1 0h0m15 0h0m-63 1h0m0 0h0m6 0h0m2 0h0m0 0h0m3 0h0m18 0h0m13 0h0m1 0h0m3 0h0m-82 1h0m3 0h0m3 0h0m14 0h0m20 0h0m17 0h0m6 0h0m25 0h0m6 0h0m10 0h0m2 0h0m-127 1h0m23 0h0m31 0h0m22 0h0m1 0h0m1 0h0m6 0h0m4 0h0m4 0h0m0 0h0m2 0h0m5 0h0m-54 1h0m19 0h0m46 0h0m-59 1h0m1 0h0m6 0h0m23 0h0m1 0h0m2 0h0m2 0h0m42 0h0m-132 1h0m5 0h0m11 0h0m18 0h0m21 0h0m1 0h0m3 0h0m10 0h0m30 0h0m15 0h0m-102 1h0m21 0h0m5 0h0m28 0h0m10 0h0m23 0h0m16 0h0m11 0h0m-101 1h0m3 0h0m5 0h0m5 0h0m14 0h0m21 0h0m11 0h0m-62 1h0m33 0h0m3 0h0m20 0h0m35 0h0m3 0h0m7 0h0m1 0h0m11 0h0m-130 1h0m10 0h0m26 0h0m6 0h0m6 0h0m27 0h0m36 0h0m8 0h0m-86 1h0m3 0h0m5 0h0m4 0h0m66 0h0m14 0h0m-85 1h0m4 0h0m0 0h0m1 0h0m23 0h0m12 0h0m0 0h0m19 0h0m-88 1h0m16 0h0m10 0h0m31 0h0m0 0h0m14 0h0m11 0h0m-35 1h0m11 0h0m3 0h0m17 0h0m4 0h0m24 0h0m1 0h0m11 0h0m-122 1h0m25 0h0m4 0h0m13 0h0m27 0h0m13 0h0m14 0h0m0 0h0m-92 1h0m7 0h0m39 0h0m18 0h0m31 0h0m10 0h0m6 0h0m-107 1h0m12 1h0m2 0h0m3 0h0m13 0h0m16 0h0m2 0h0m13 0h0m5 0h0m2 0h0m1 0h0m7 0h0m10 0h0m11 0h0m4 0h0m1 0h0m-106 1h0m10 0h0m31 0h0m28 0h0m12 0h0m-86 1h0m24 0h0m18 0h0m17 0h0m19 0h0m21 0h0m5 0h0m15 0h0m-107 1h0m6 0h0m10 0h0m18 0h0m2 0h0m13 0h0m12 0h0m1 0h0m22 0h0m8 0h0m-82 1h0m27 0h0m4 0h0m17 0h0m17 0h0m-92 1h0m2 0h0m23 0h0m24 0h0m19 0h0m12 0h0m31 0h0m-110 1h0m11 0h0m48 0h0m29 0h0m-77 1h0m60 0h0m1 0h0m5 0h0m16 0h0m1 0h0m-47 1h0m0 0h0m18 0h0m8 0h0m1 0h0m6 0h0m32 0h0m-90 1h0m5 0h0m7 0h0m1 0h0m64 0h0m9 0h0m2 0h0m-56 1h0m4 0h0m7 0h0m29 0h0m1 0h0m9 0h0m9 0h0m-96 1h0m20 0h0m3 0h0m7 0h0m2 0h0m10 0h0m20 0h0m19 0h0m2 0h0m14 0h0m-97 1h0m94 0h0m-105 1h0m43 0h0m7 0h0m6 0h0m7 0h0m53 0h0m-93 1h0m6 0h0m1 0h0m0 0h0m34 0h0m22 0h0m24 0h0m-107 1h0m66 0h0m10 0h0m4 0h0m18 0h0m2 0h0m5 0h0m-80 1h0m1 0h0m15 0h0m4 0h0m3 0h0m6 0h0m0 0h0m7 0h0m17 0h0m5 0h0m2 0h0m-61 1h0m13 0h0m18 0h0m13 0h0m12 0h0m1 0h0m5 0h0m-57 1h0m13 0h0m2 0h0m2 0h0m3 0h0m21 0h0m-43 1h0m19 0h0m-45 1h0m10 0h0m7 0h0m10 0h0m14 0h0m20 0h0m1 0h0m10 0h0m25 0h0m-105 1h0m15 0h0m2 0h0m22 0h0m29 0h0m11 0h0m26 0h0m1 0h0m5 0h0m-92 1h0m37 0h0m3 0h0m2 0h0m12 0h0m8 0h0m-64 1h0m3 0h0m16 0h0m2 0h0m2 0h0m4 0h0m22 0h0m13 0h0m5 0h0m2 0h0m23 0h0m-90 1h0m7 0h0m1 0h0m20 0h0m35 0h0m5 0h0m19 0h0m1 0h0m-85 1h0m20 0h0m37 0h0m7 0h0m10 0h0m-58 1h0m13 0h0m10 0h0m17 0h0m13 0h0m5 0h0m12 0h0m-88 1h0m32 0h0m4 0h0m4 0h0m9 0h0m16 0h0m2 0h0m5 0h0m-48 1h0m3 0h0m46 0h0m3 0h0m-78 1h0m2 0h0m12 0h0m1 0h0m41 0h0m-67 1h0m79 0h0m1 0h0m7 0h0m0 0h0m-79 1h0m23 0h0m2 0h0m12 0h0m11 0h0m39 0h0m-88 1h0m16 0h0m16 0h0m2 0h0m26 0h0m29 0h0m3 0h0m-89 1h0m17 0h0m19 0h0m6 0h0m9 0h0m6 0h0m19 0h0m0 0h0m-81 1h0m14 0h0m5 0h0m2 0h0m15 0h0m3 0h0m11 0h0m14 0h0m27 0h0m-94 1h0m45 0h0m19 0h0m8 0h0m-68 1h0m82 0h0m-31 1h0m18 0h0m6 0h0m6 0h0m5 0h0m1 0h0m-56 1h0m27 0h0m33 0h0m-88 1h0m9 0h0m21 0h0m27 0h0m8 0h0m4 0h0m16 0h0m-52 1h0m9 0h0m12 0h0m-44 1h0m24 0h0m3 0h0m6 0h0m0 0h0m7 0h0m0 0h0m21 0h0m-28 1h0m9 0h0m-37 1h0m17 0h0m48 0h0m-42 1h0m22 0h0m5 0h0m-14 1h0m12 0h0m7 0h0m-45 2h0m35 0h0m1 0h0m9 0h0m-41 1h0m13 0h0m-16 1h0m8 0h0m-17 1h0m8 0h0m4 0h0m-13 1h0m5 3h0m-2 2h0m8 0h0m-5 2h0" stroke="#2ca02c" stroke-width="3.00"/>
<path d="M768 118h0m7 1h0m-1 1h0m-12 2h0m1 1h0m-7 1h0m16 2h0m11 0h0m1 0h0m-33 1h0m12 0h0m29 0h0m-36 1h0m0 2h0m19 0h0m-31 1h0m11 0h0m6 0h0m-7 1h0m7 0h0m5 1h0m2 0h0m6 0h0m15 0h0m-30 1h0m3 0h0m-14 1h0m4 0h0m7 0h0m42 0h0m-3 1h0m-19 1h0m29 0h0m-28 1h0m-22 1h0m18 0h0m4 3h0m11 0h0m9 0h0m-63 1h0m10 0h0m11 0h0m54 0h0m4 0h0m-69 1h0m2 0h0m35 0h0m21 1h0m9 0h0m-78 2h0m75 0h0m-39 1h0m2 0h0m14 0h0m18 0h0m-57 1h0m23 0h0m35 0h0m5 0h0m-74 1h0m75 0h0m-62 2h0m68 1h0m2 0h0m-68 1h0m72 0h0m-9 2h0m1 0h0m-35 1h0m5 0h0m24 0h0m22 0h0m-11 1h0m-76 1h0m9 0h0m6 0h0m79 0h0m-73 2h0m15 0h0m5 1h0m-31 1h0m5 0h0m16 0h0m-23 1h0m13 0h0m32 0h0m11 0h0m9 1h0m11 0h0m3 0h0m-44 1h0m28 0h0m20 0h0m5 0h0m-71 1h0m4 0h0m58 0h0m9 0h0m-47 1h0m4 0h0m32 1h0m-66 1h0m65 1h0m6 0h0m-46 1h0m10 0h0m30 1h0m2 0h0m-58 1h0m11 1h0m1 0h0m-15 2h0m3 0h0m10 0h0m1 0h0m38 0h0m-45 1h0m3 0h0m34 1h0m-25 1h0m-26 1h0m13 0h0m26 0h0m-26 1h0m-10 1h0m20 0h0m-47 1h0m40 0h0m6 0h0m-45 1h0m36 0h0m0 0h0m6 0h0m6 0h0m-39 1h0m17 0h0m25 0h0m-68 1h0m70 0h0m0 0h0m25 0h0m-92 2h0m3 0h0m41 0h0m10 0h0m48 0h0m-58 1h0m5 0h0m-32 1h0m2 1h0m25 0h0m42 0h0m-88 1h0m37 0h0m-27 1h0m66 0h0m-71 1h0m54 0h0m14 0h0m-73 1h0m3 0h0m18 0h0m25 1h0m-172 1h0m4 0h0m122 0h0m95 1h0m18 0h0m-103 1h0m0 0h0m-130 2h0m147 0h0m0 0h0m8 0h0m-176 1h0m7 1h0m159 0h0m-182 1h0m157 0h0m96 0h0m-236 1h0m140 0h0m12 0h0m-172 1h0m165 0h0m-163 2h0m16 0h0m162 0h0m-171 2h0m20 0h0m137 0h0m17 0h0m3 0h0m71 0h0m-261 1h0m4 0h0m8 0h0m249 1h0m-256 1h0m19 0h0m146 0h0m78 0h0m-87 1h0m26 0h0m28 0h0m37 0h0m-256 1h0m2 0h0m43 0h0m143 0h0m-141 1h0m187 0h0m11 0h0m-248 1h0m25 0h0m260 0h0m-253 1h0m166 0h0m30 0h0m2 0h0m13 0h0m8 0h0m-254 1h0m173 1h0m48 0h0m25 0h0m-234 1h0m-2 1h0m13 0h0m2 1h0m3 0h0m274 0h0m-125 1h0m46 0h0m-201 1h0m36 0h0m127 0h0m-139 1h0m139 0h0m63 0h0m-206 1h0m12 0h0m131 0h0m3 0h0m63 0h0m0 0h0m31 0h0m-273 1h0m24 0h0m25 0h0m165 0h0m67 0h0m1 0h0m-251 1h0m189 0h0m1 0h0m63 0h0m6 0h0m-8 1h0m-281 1h0m43 0h0m231 0h0m-276 1h0m38 0h0m255 0h0m-121 1h0m120 0h0m10 0h0m-302 1h0m19 0h0m9 0h0m139 0h0m0 0h0m-165 1h0m-18 1h0m10 0h0m6 0h0m1 0h0m30 0h0m254 0h0m21 0h0m-309 1h0m276 0h0m-285 1h0m61 0h0m241 0h0m-305 1h0m8 0h0m38 0h0m16 0h0m3 0h0m238 0h0m-292 1h0m83 0h0m200 1h0m36 0h0m-311 1h0m13 0h0m61 0h0m0 0h0m179 0h0m24 0h0m-280 1h0m5 0h0m0 0h0m9 0h0m19 0h0m11 0h0m35 0h0m128 0h0m69 0h0m-279 1h0m41 0h0m52 0h0m186 0h0m8 0h0m1 0h0m-289 1h0m58 0h0m24 0h0m202 0h0m30 0h0m-285 1h0m249 0h0m16 0h0m-234 1h0m179 0h0m-245 1h0m24 0h0m46 0h0m156 0h0m80 0h0m-281 1h0m12 0h0m143 0h0m69 0h0m72 0h0m-318 1h0m31 0h0m49 0h0m180 0h0m39 0h0m-298 1h0m10 0h0m12 0h0m61 0h0m91 0h0m142 0h0m-240 1h0m142 0h0m52 0h0m32 0h0m-277 1h0m247 0h0m27 0h0m-273 1h0m10 0h0m12 0h0m128 0h0m37 0h0m8 0h0m70 0h0m-292 1h0m36 0h0m2 0h0m46 0h0m218 0h0m-88 1h0m86 0h0m-254 1h0m122 0h0m41 0h0m53 0h0m24 0h0m34 0h0m-298 1h0m2 0h0m160 0h0m104 0h0m27 0h0m-276 1h0m274 0h0m-307 1h0m31 1h0m190 0h0m42 0h0m-84 1h0m106 0h0m28 0h0m6 0h0m0 0h0m-303 1h0m5 0h0m175 0h0m2 0h0m6 0h0m47 0h0m-76 1h0m48 0h0m-174 1h0m158 0h0m88 0h0m-259 1h0m163 0h0m93 0h0m-69 1h0m90 0h0m5 0h0m-152 1h0m12 1h0m13 1h0m22 0h0m1 0h0m4 0h0m82 0h0m-143 1h0m45 0h0m13 0h0m29 0h0m19 0h0m5 0h0m6 0h0m12 0h0m13 0h0m-306 1h0m11 0h0m155 0h0m46 0h0m9 0h0m42 0h0m-267 1h0m24 0h0m197 0h0m19 0h0m35 0h0m20 0h0m34 0h0m-139 1h0m31 0h0m33 0h0m9 0h0m13 0h0m41 0h0m-311 1h0m55 0h0m164 0h0m105 0h0m-296 1h0m141 0h0m11 0h0m9 0h0m27 0h0m3 0h0m2 0h0m41 0h0m54 0h0m-259 1h0m114 0h0m54 0h0m51 0h0m32 0h0m-313 1h0m25 0h0m233 0h0m29 0h0m11 0h0m3 0h0m-126 1h0m8 0h0m5 0h0m106 0h0m-262 1h0m26 0h0m172 0h0m82 0h0m-309 1h0m28 0h0m275 0h0m14 0h0m-140 1h0m78 0h0m-253 1h0m170 0h0m15 0h0m92 0h0m2 0h0m2 0h0m33 0h0m-314 1h0m55 0h0m115 0h0m89 0h0m14 0h0m13 0h0m13 0h0m-303 1h0m5 0h0m3 0h0m8 0h0m174 0h0m87 0h0m7 1h0m11 0h0m-291 1h0m47 0h0m229 0h0m-256 1h0m16 0h0m12 0h0m134 0h0m43 0h0m61 0h0m35 0h0m-326 1h0m186 0h0m2 0h0m1 0h0m-170 1h0m16 0h0m39 0h0m201 0h0m17 0h0m-281 1h0m1 0h0m11 0h0m48 0h0m5 0h0m94 0h0m99 0h0m14 0h0m-224 1h0m118 0h0m91 0h0m-265 1h0m45 0h0m14 1h0m132 0h0m126 0h0m0 0h0m-309 1h0m10 0h0m47 0h0m8 0h0m2 0h0m248 0h0m-47 1h0m-101 1h0m-149 1h0m30 0h0m183 0h0m83 0h0m-282 1h0m148 0h0m40 0h0m18 0h0m37 0h0m32 0h0m-310 1h0m76 0h0m219 0h0m-283 1h0m8 0h0m194 0h0m59 0h0m18 0h0m-228 1h0m165 0h0m42 0h0m47 0h0m-297 1h0m3 1h0m289 0h0m-290 1h0m25 0h0m121 0h0m5 0h0m1 0h0m9 0h0m16 0h0m17 0h0m101 0h0m-308 1h0m64 0h0m131 0h0m0 0h0m39 0h0m21 0h0m50 0h0m-307 1h0m38 0h0m10 0h0m111 0h0m32 0h0m25 0h0m-19 1h0m59 0h0m35 0h0m-113 1h0m28 0h0m38 0h0m53 0h0m-301 1h0m197 0h0m-19 1h0m19 0h0m12 0h0m28 0h0m-66 1h0m30 0h0m20 0h0m7 0h0m4 0h0m1 0h0m8 0h0m27 0h0m10 0h0m14 0h0m8 0h0m3 0h0m8 0h0m2 0h0m-135 1h0m33 0h0m1 0h0m33 0h0m13 0h0m6 0h0m27 0h0m12 0h0m-130 1h0m48 0h0m12 0h0m25 0h0m40 0h0m-117 1h0m30 0h0m20 0h0m17 0h0m10 0h0m25 0h0m21 0h0m3 0h0m7 0h0m-136 1h0m53 0h0m20 0h0m0 0h0m4 0h0m41 0h0m-86 1h0m4 0h0m40 0h0m36 0h0m-110 1h0m27 0h0m4 0h0m29 0h0m9 0h0m-43 1h0m51 0h0m24 0h0m31 0h0m-146 1h0m23 0h0m22 0h0m8 0h0m8 0h0m4 0h0m12 0h0m-72 1h0m7 0h0m17 0h0m18 0h0m-23 1h0m3 0h0m4 0h0m3 0h0m18 0h0m78 0h0m7 0h0m-71 1h0m18 0h0m31 0h0m2 0h0m12 0h0m-112 1h0m1 0h0m41 0h0m3 0h0m16 0h0m9 0h0m43 0h0m-53 1h0m19 0h0m11 0h0m-72 1h0m14 0h0m44 0h0m-85 1h0m42 0h0m5 0h0m0 0h0m20 0h0m19 0h0m20 0h0m5 0h0m21 0h0m-57 1h0m48 0h0m2 0h0m-23 1h0m-40 1h0m1 0h0m32 0h0m34 0h0m-103 1h0m99 0h0m-87 1h0m47 0h0m36 0h0m-46 1h0m-46 1h0m2 0h0m24 0h0m40 0h0m14 0h0m23 0h0m-122 1h0m40 0h0m10 0h0m-52 1h0m7 0h0m49 0h0m-44 1h0m10 0h0m80 0h0m25 0h0m-53 1h0m5 0h0m1 0h0m6 0h0m23 0h0m-85 1h0m5 0h0m5 0h0m2 0h0m19 0h0m40 0h0m2 0h0m3 0h0m25 0h0m-71 1h0m0 0h0m16 0h0m1 0h0m11 0h0m19 0h0m5 0h0m-78 1h0m2 0h0m38 0h0m26 0h0m17 0h0m5 0h0m0 0h0m7 0h0m-125 1h0m4 0h0m19 0h0m27 0h0m17 0h0m-58 1h0m54 0h0m20 0h0m3 0h0m6 0h0m9 0h0m20 0h0m-84 1h0m26 0h0m57 0h0m-97 1h0m11 0h0m5 0h0m11 0h0m19 0h0m14 0h0m5 0h0m-83 1h0m16 0h0m1 0h0m10 0h0m17 0h0m12 0h0m25 0h0m40 0h0m-111 1h0m2 0h0m14 0h0m20 0h0m2 0h0m9 0h0m1 0h0m36 0h0m-89 1h0m53 0h0m19 0h0m24 0h0m21 0h0m-92 1h0m27 0h0m3 0h0m11 0h0m4 0h0m9 0h0m7 0h0m18 0h0m-105 1h0m1 0h0m12 0h0m2 0h0m31 0h0m44 0h0m23 0h0m-110 1h0m13 0h0m53 0h0m28 0h0m-84 1h0m57 0h0m22 0h0m9 0h0m7 0h0m-78 1h0m44 0h0m-33 1h0m51 0h0m-90 1h0m14 0h0m44 0h0m1 0h0m10 0h0m10 0h0m34 0h0m-116 1h0m12 0h0m15 0h0m11 0h0m14 0h0m1 0h0m43 0h0m8 0h0m-106 1h0m98 0h0m-58 2h0m4 0h0m25 0h0m17 0h0m-62 1h0m13 0h0m16 0h0m18 0h0m42 0h0m-104 1h0m14 0h0m12 0h0m33 0h0m0 0h0m25 0h0m-42 1h0m33 0h0m-82 1h0m13 0h0m22 0h0m50 0h0m2 0h0m2 0h0m11 0h0m18 0h0m-60 1h0m18 0h0m33 0h0m-104 1h0m8 0h0m28 1h0m4 0h0m2 0h0m1 0h0m50 0h0m-83 1h0m4 0h0m80 0h0m-57 1h0m1 0h0m11 0h0m3 0h0m-48 1h0m58 0h0m17 0h0m3 0h0m2 0h0m-82 1h0m8 0h0m34 0h0m12 0h0m15 0h0m2 0h0m17 0h0m-50 1h0m17 0h0m27 0h0m-83 1h0m36 0h0m0 0h0m0 0h0m33 0h0m14 0h0m16 0h0m-90 1h0m29 0h0m26 0h0m13 0h0m8 0h0m4 0h0m3 0h0m-72 1h0m30 0h0m4 0h0m7 0h0m19 0h0m-47 1h0m29 0h0m-31 1h0m3 1h0m3 0h0m57 0h0m-53 1h0m28 0h0m0 0h0m7 0h0m19 0h0m-13 1h0m6 0h0m-54 1h0m13 1h0m43 0h0m-46 1h0m7 0h0m0 0h0m4 0h0m9 0h0m4 1h0m5 0h0m-17 1h0m3 0h0m10 0h0m3 0h0m7 0h0m-5 2h0m-49 1h0m51 1h0m6 0h0m-50 1h0m45 1h0" stroke="#ff7f0e" stroke-width="3.00"/>
<path d="M781 117h0m-3 1h0m5 0h0m-6 1h0m-19 1h0m26 1h0m-23 2h0m1 1h0m26 0h0m0 2h0m9 0h0m-3 1h0m-17 1h0m13 0h0m5 0h0m-43 1h0m8 0h0m36 0h0m-39 1h0m15 1h0m24 0h0m-48 1h0m10 0h0m1 0h0m41 0h0m-51 1h0m30 0h0m11 0h0m-35 1h0m4 0h0m11 0h0m-23 2h0m4 0h0m7 2h0m28 0h0m19 0h0m-33 1h0m22 0h0m9 0h0m4 0h0m-43 1h0m6 0h0m3 0h0m10 1h0m33 0h0m-76 1h0m1 0h0m15 1h0m24 0h0m26 0h0m6 0h0m1 0h0m-44 1h0m9 0h0m-12 1h0m44 0h0m-14 1h0m-44 1h0m36 0h0m4 0h0m5 0h0m-36 1h0m13 0h0m6 0h0m7 0h0m1 0h0m4 0h0m0 0h0m3 0h0m20 0h0m1 0h0m-68 1h0m16 1h0m7 0h0m45 0h0m-60 1h0m2 0h0m24 0h0m-12 1h0m9 0h0m7 0h0m31 0h0m2 2h0m8 0h0m-49 1h0m48 0h0m-66 2h0m0 0h0m6 0h0m4 0h0m21 0h0m0 0h0m34 0h0m1 0h0m-71 2h0m65 0h0m8 0h0m0 0h0m-58 1h0m5 0h0m7 0h0m-22 1h0m7 0h0m4 0h0m59 0h0m-11 1h0m7 0h0m10 0h0m-55 1h0m42 0h0m2 0h0m0 1h0m-41 1h0m25 0h0m1 0h0m2 0h0m19 1h0m-46 4h0m8 1h0m-21 2h0m19 0h0m-23 1h0m73 1h0m-22 1h0m-31 1h0m-52 2h0m27 1h0m27 1h0m-18 1h0m-9 1h0m2 0h0m5 0h0m22 0h0m-18 1h0m3 0h0m9 1h0m43 0h0m-89 1h0m7 0h0m28 0h0m16 0h0m-45 1h0m61 0h0m-26 1h0m-41 1h0m-12 1h0m38 0h0m7 0h0m-42 1h0m69 0h0m30 0h0m-102 1h0m20 0h0m-16 1h0m20 0h0m33 0h0m-48 1h0m2 0h0m31 1h0m-48 1h0m10 0h0m6 0h0m-143 1h0m127 0h0m87 0h0m-63 2h0m5 0h0m72 0h0m-222 1h0m123 0h0m20 1h0m77 0h0m-248 1h0m16 0h0m136 0h0m7 1h0m82 0h0m-98 1h0m-148 1h0m170 0h0m3 0h0m-174 1h0m51 0h0m213 0h0m-116 1h0m20 0h0m4 0h0m-150 1h0m35 0h0m94 0h0m59 0h0m-214 1h0m172 0h0m3 0h0m102 0h0m-107 1h0m44 0h0m-218 1h0m2 0h0m152 0h0m-106 1h0m136 0h0m59 0h0m25 0h0m-98 1h0m87 0h0m-229 1h0m11 0h0m149 0h0m-183 1h0m161 0h0m34 0h0m36 0h0m-176 1h0m125 0h0m50 0h0m43 0h0m-272 1h0m7 0h0m1 0h0m217 0h0m-201 1h0m4 0h0m226 0h0m-243 1h0m18 0h0m9 0h0m1 0h0m179 0h0m47 0h0m-282 1h0m57 0h0m136 0h0m44 0h0m45 0h0m-279 1h0m17 0h0m10 0h0m139 0h0m57 0h0m-48 1h0m8 0h0m92 0h0m-274 1h0m7 0h0m-8 1h0m13 0h0m158 0h0m3 0h0m46 0h0m6 0h0m53 0h0m-280 1h0m43 0h0m215 0h0m-68 1h0m0 0h0m51 0h0m29 0h0m-256 1h0m43 0h0m148 0h0m-209 1h0m20 0h0m23 0h0m141 0h0m8 0h0m-190 1h0m60 0h0m120 0h0m1 0h0m114 0h0m-270 1h0m14 0h0m5 1h0m15 0h0m173 0h0m5 0h0m11 0h0m-14 1h0m20 0h0m33 0h0m31 0h0m-282 1h0m194 0h0m58 0h0m19 0h0m-296 1h0m38 0h0m253 0h0m10 0h0m-290 1h0m3 0h0m23 0h0m7 0h0m197 0h0m-236 1h0m27 0h0m9 0h0m20 0h0m7 0h0m165 0h0m49 0h0m-285 1h0m59 0h0m220 0h0m13 0h0m-294 1h0m48 0h0m2 0h0m181 0h0m75 0h0m-316 1h0m315 0h0m-286 1h0m25 0h0m260 0h0m-297 1h0m85 0h0m-80 1h0m51 0h0m0 0h0m22 0h0m9 0h0m116 0h0m-210 1h0m3 0h0m6 0h0m17 0h0m60 0h0m112 0h0m116 0h0m-280 1h0m5 0h0m2 0h0m11 0h0m10 0h0m2 0h0m0 0h0m19 0h0m99 0h0m44 0h0m13 0h0m35 0h0m4 0h0m6 0h0m-190 1h0m105 0h0m20 0h0m73 0h0m-219 1h0m156 0h0m-223 1h0m86 0h0m189 0h0m-277 1h0m7 0h0m91 0h0m108 0h0m7 0h0m-182 1h0m249 0h0m2 0h0m8 0h0m15 0h0m-283 1h0m64 0h0m7 0h0m0 0h0m76 0h0m50 0h0m-206 1h0m52 0h0m28 0h0m87 0h0m95 0h0m-269 1h0m20 0h0m0 0h0m1 0h0m138 0h0m46 0h0m24 0h0m18 0h0m21 0h0m-274 1h0m209 0h0m43 0h0m44 0h0m1 0h0m-289 1h0m26 0h0m40 0h0m215 0h0m12 0h0m-309 1h0m1 0h0m8 0h0m24 0h0m16 0h0m165 0h0m20 0h0m32 0h0m-266 1h0m63 0h0m232 0h0m-292 1h0m26 0h0m263 0h0m8 0h0m9 0h0m-305 1h0m6 0h0m68 0h0m117 0h0m33 0h0m73 0h0m25 0h0m-112 1h0m21 0h0m52 0h0m17 0h0m2 0h0m-278 1h0m194 0h0m86 0h0m10 0h0m-42 1h0m1 0h0m33 0h0m15 0h0m-298 1h0m167 0h0m32 0h0m33 0h0m42 0h0m18 0h0m12 0h0m-155 1h0m13 0h0m114 0h0m4 0h0m8 0h0m9 0h0m-70 1h0m69 0h0m6 0h0m-152 1h0m52 0h0m75 0h0m-9 1h0m21 0h0m-99 1h0m5 0h0m22 0h0m10 0h0m2 0h0m14 0h0m33 1h0m-35 1h0m-265 1h0m292 0h0m17 0h0m-311 1h0m226 0h0m72 0h0m15 0h0m-115 1h0m93 0h0m18 0h0m0 0h0m-297 1h0m10 0h0m147 0h0m13 0h0m6 0h0m61 0h0m-230 1h0m196 0h0m6 0h0m3 0h0m70 0h0m-269 1h0m157 0h0m82 0h0m-230 1h0m132 0h0m57 0h0m69 0h0m22 0h0m-132 1h0m42 0h0m8 0h0m61 0h0m-267 1h0m24 0h0m153 0h0m25 0h0m51 0h0m36 0h0m-293 1h0m2 0h0m158 0h0m0 0h0m73 0h0m9 0h0m28 0h0m13 0h0m5 0h0m-49 1h0m10 0h0m-273 1h0m13 0h0m11 0h0m148 0h0m8 0h0m104 0h0m7 0h0m7 0h0m-287 1h0m34 0h0m14 0h0m195 0h0m54 0h0m-293 1h0m2 0h0m42 0h0m131 0h0m29 0h0m71 0h0m30 0h0m-150 1h0m16 0h0m90 0h0m6 0h0m9 0h0m23 0h0m-313 1h0m181 0h0m109 0h0m22 0h0m-302 1h0m5 0h0m30 0h0m130 0h0m90 0h0m12 0h0m-105 1h0m65 0h0m33 0h0m11 0h0m45 0h0m-310 1h0m19 0h0m21 0h0m13 0h0m125 0h0m22 0h0m77 0h0m17 0h0m-287 1h0m5 0h0m37 0h0m101 0h0m112 0h0m6 0h0m22 0h0m-277 1h0m15 0h0m3 0h0m135 0h0m62 0h0m17 0h0m20 0h0m9 0h0m19 0h0m2 0h0m3 0h0m5 0h0m-264 1h0m142 0h0m68 0h0m52 0h0m-302 1h0m7 0h0m23 0h0m124 0h0m13 0h0m0 0h0m100 0h0m-284 1h0m7 0h0m45 0h0m125 0h0m65 0h0m51 0h0m-254 1h0m141 0h0m134 0h0m4 0h0m2 0h0m3 0h0m-300 1h0m160 0h0m2 0h0m90 0h0m50 0h0m-134 1h0m53 0h0m3 0h0m32 0h0m20 0h0m-272 1h0m52 0h0m92 0h0m-155 1h0m37 0h0m174 0h0m-47 1h0m41 0h0m71 0h0m30 0h0m-273 1h0m185 0h0m79 0h0m-264 1h0m26 0h0m138 0h0m110 0h0m6 0h0m-12 1h0m-259 1h0m140 0h0m7 0h0m45 0h0m81 0h0m-149 1h0m39 0h0m35 0h0m72 0h0m-267 1h0m158 0h0m69 0h0m-261 1h0m42 0h0m113 0h0m76 0h0m-247 1h0m204 0h0m-138 1h0m104 0h0m38 0h0m5 0h0m1 0h0m95 0h0m-306 1h0m60 0h0m121 0h0m11 0h0m78 0h0m-266 1h0m212 0h0m18 0h0m34 0h0m-256 1h0m151 0h0m1 0h0m27 0h0m10 0h0m49 0h0m11 0h0m-203 1h0m116 0h0m14 0h0m57 0h0m49 0h0m-8 1h0m-83 1h0m14 0h0m16 0h0m15 0h0m4 0h0m7 0h0m13 0h0m33 0h0m-79 1h0m22 0h0m17 0h0m1 0h0m22 0h0m20 0h0m-135 1h0m30 0h0m20 0h0m48 0h0m-95 1h0m97 0h0m-95 1h0m24 0h0m22 0h0m34 0h0m9 0h0m18 0h0m-126 1h0m21 0h0m5 0h0m38 0h0m24 0h0m1 0h0m20 0h0m44 0h0m-127 1h0m7 0h0m28 0h0m13 0h0m7 0h0m11 0h0m50 0h0m-44 1h0m7 0h0m2 0h0m22 0h0m-86 1h0m24 0h0m0 0h0m1 0h0m15 0h0m3 0h0m12 0h0m5 0h0m13 0h0m32 0h0m-119 1h0m1 0h0m25 0h0m17 0h0m18 0h0m-20 1h0m33 0h0m19 0h0m7 0h0m5 0h0m10 0h0m6 0h0m-127 1h0m30 0h0m40 0h0m7 0h0m23 0h0m-54 1h0m9 0h0m15 0h0m27 0h0m12 0h0m6 0h0m5 0h0m6 0h0m-62 1h0m50 0h0m-85 1h0m23 0h0m23 0h0m24 0h0m4 0h0m2 0h0m-56 1h0m1 0h0m18 0h0m20 0h0m20 0h0m-56 1h0m3 0h0m10 0h0m65 0h0m-138 1h0m13 0h0m3 0h0m43 0h0m33 0h0m-71 1h0m72 0h0m-67 1h0m1 0h0m38 0h0m21 0h0m10 0h0m8 0h0m16 0h0m-38 1h0m1 0h0m18 0h0m1 0h0m0 0h0m2 0h0m-85 1h0m37 0h0m2 0h0m3 0h0m4 0h0m15 0h0m-29 1h0m20 0h0m-19 1h0m24 0h0m12 0h0m-74 1h0m76 0h0m39 0h0m-108 1h0m6 0h0m3 0h0m13 0h0m4 0h0m31 0h0m18 0h0m3 0h0m7 0h0m-91 1h0m58 0h0m11 0h0m13 0h0m-37 2h0m32 0h0m38 0h0m-112 1h0m61 0h0m24 0h0m-23 1h0m40 0h0m3 0h0m1 0h0m-22 1h0m24 0h0m3 0h0m-107 1h0m42 0h0m13 0h0m6 0h0m17 0h0m-76 1h0m52 0h0m26 0h0m-66 1h0m2 0h0m56 0h0m-76 1h0m46 0h0m12 0h0m23 0h0m15 0h0m-71 1h0m12 0h0m54 1h0m5 0h0m-101 1h0m21 0h0m31 0h0m41 0h0m8 0h0m0 0h0m-47 1h0m3 0h0m44 0h0m5 0h0m-63 1h0m10 0h0m18 0h0m2 0h0m-70 1h0m45 0h0m21 0h0m6 0h0m31 0h0m0 0h0m-76 1h0m19 0h0m20 0h0m21 0h0m17 0h0m-82 1h0m17 0h0m51 0h0m-87 1h0m22 0h0m1 0h0m7 0h0m10 0h0m15 0h0m15 0h0m4 0h0m17 0h0m-70 1h0m18 0h0m4 0h0m39 0h0m0 0h0m18 0h0m10 0h0m-100 1h0m6 0h0m7 0h0m14 0h0m26 0h0m20 0h0m-70 1h0m2 0h0m7 0h0m0 0h0m0 0h0m32 0h0m32 0h0m-84 1h0m52 0h0m9 0h0m3 0h0m14 0h0m22 0h0m-84 1h0m33 0h0m16 0h0m9 0h0m-17 1h0m28 0h0m19 0h0m-100 1h0m6 0h0m5 0h0m15 0h0m4 0h0m43 0h0m3 0h0m5 0h0m-88 1h0m35 0h0m10 0h0m12 0h0m25 0h0m7 0h0m11 0h0m3 0h0m-90 1h0m-8 1h0m13 0h0m5 0h0m54 0h0m3 0h0m24 0h0m-102 1h0m14 0h0m20 0h0m52 0h0m-90 1h0m14 0h0m1 0h0m7 0h0m11 0h0m6 0h0m12 0h0m13 0h0m18 0h0m14 0h0m-76 1h0m17 0h0m44 0h0m1 0h0m-67 1h0m51 0h0m14 0h0m0 0h0m3 0h0m-72 1h0m52 0h0m-54 1h0m1 0h0m27 0h0m0 0h0m22 0h0m33 0h0m7 0h0m-92 1h0m6 0h0m9 0h0m5 0h0m35 0h0m2 0h0m14 0h0m-54 1h0m0 0h0m2 0h0m13 0h0m27 0h0m13 0h0m3 0h0m14 0h0m9 0h0m-50 1h0m4 0h0m-6 1h0m29 0h0m11 0h0m-58 1h0m5 0h0m37 0h0m-26 1h0m9 0h0m12 0h0m-48 1h0m19 0h0m24 0h0m0 1h0m6 0h0m-18 1h0m0 0h0m15 0h0m-27 1h0m8 0h0m-9 2h0m21 1h0m-24 1h0m1 4h0m-3 1h0m16 0h0" stroke="#ff7f0e" stroke-width="3.00"/>
<path d="M759 116h0m23 3h0m-7 2h0m-22 1h0m8 0h0m6 0h0m14 0h0m-14 1h0m10 1h0m8 0h0m-36 1h0m18 0h0m3 0h0m4 0h0m0 1h0m-17 1h0m30 0h0m-33 1h0m11 0h0m-16 1h0m8 0h0m20 0h0m-29 1h0m4 0h0m47 0h0m-27 1h0m2 0h0m-21 1h0m0 0h0m15 0h0m5 0h0m5 0h0m13 0h0m-47 1h0m4 0h0m9 0h0m3 0h0m20 0h0m-38 1h0m21 0h0m0 0h0m-8 1h0m34 0h0m2 0h0m4 0h0m-51 1h0m4 0h0m56 0h0m-31 1h0m32 0h0m5 0h0m-63 1h0m45 0h0m9 0h0m-63 1h0m11 0h0m10 0h0m14 0h0m8 0h0m15 0h0m-41 2h0m27 0h0m4 0h0m-43 1h0m0 0h0m1 0h0m18 0h0m-1 1h0m3 0h0m4 0h0m26 0h0m16 0h0m-71 1h0m3 0h0m14 0h0m29 0h0m-15 1h0m32 0h0m0 0h0m8 0h0m-60 1h0m13 0h0m18 0h0m-33 1h0m45 0h0m11 0h0m10 0h0m-71 1h0m14 0h0m15 0h0m8 0h0m1 0h0m-27 1h0m59 0h0m-70 1h0m55 0h0m14 0h0m7 0h0m2 0h0m-62 1h0m21 0h0m16 0h0m3 0h0m5 0h0m4 0h0m3 0h0m-66 1h0m34 0h0m4 0h0m2 0h0m2 0h0m8 0h0m2 0h0m1 0h0m0 0h0m-15 1h0m2 0h0m7 0h0m3 0h0m5 0h0m6 0h0m-14 1h0m15 1h0m-64 1h0m7 1h0m2 0h0m4 0h0m2 0h0m6 0h0m11 0h0m10 0h0m-10 1h0m2 0h0m-22 1h0m37 0h0m37 0h0m-77 1h0m6 0h0m1 0h0m8 0h0m36 0h0m-24 1h0m24 1h0m-48 1h0m15 0h0m1 1h0m7 0h0m14 0h0m-49 1h0m3 1h0m29 1h0m40 0h0m18 0h0m-34 1h0m6 0h0m-24 3h0m2 1h0m37 0h0m22 0h0m0 1h0m-73 1h0m-37 1h0m36 2h0m55 0h0m-28 1h0m-6 1h0m-59 1h0m65 0h0m-19 1h0m5 2h0m-48 1h0m32 1h0m29 1h0m-58 1h0m32 0h0m17 0h0m39 0h0m-36 1h0m4 0h0m-63 1h0m9 0h0m29 0h0m23 0h0m-12 1h0m12 0h0m1 0h0m21 0h0m-33 1h0m1 0h0m17 0h0m-51 1h0m21 0h0m10 0h0m1 0h0m-38 1h0m6 0h0m-3 1h0m4 0h0m23 0h0m29 0h0m-75 1h0m55 0h0m-62 1h0m1 0h0m24 0h0m8 0h0m1 0h0m69 0h0m-81 1h0m-14 1h0m27 0h0m62 0h0m-77 1h0m-3 1h0m13 1h0m1 0h0m52 0h0m25 1h0m-220 1h0m143 0h0m90 0h0m-117 1h0m92 0h0m-227 1h0m13 0h0m213 0h0m2 0h0m16 0h0m-198 1h0m-61 1h0m5 0h0m25 0h0m22 0h0m-41 1h0m4 0h0m153 0h0m10 0h0m30 0h0m42 0h0m6 0h0m-239 1h0m139 0h0m3 0h0m7 0h0m3 0h0m13 0h0m31 0h0m20 0h0m-227 1h0m14 0h0m28 0h0m4 0h0m104 0h0m19 0h0m52 0h0m22 0h0m-94 1h0m15 0h0m33 0h0m10 0h0m65 0h0m-272 1h0m31 0h0m114 0h0m2 0h0m11 0h0m7 0h0m69 0h0m28 0h0m-286 1h0m39 1h0m6 0h0m1 0h0m204 0h0m-246 1h0m2 0h0m5 0h0m163 0h0m52 0h0m8 0h0m1 0h0m-218 1h0m23 0h0m9 0h0m152 0h0m46 0h0m26 0h0m-229 2h0m127 0h0m20 0h0m50 0h0m37 0h0m-274 1h0m175 0h0m72 0h0m-215 1h0m136 0h0m12 0h0m64 0h0m32 0h0m-246 1h0m24 0h0m107 0h0m0 0h0m2 0h0m16 0h0m43 0h0m58 0h0m11 0h0m-274 1h0m21 0h0m170 0h0m8 0h0m-212 1h0m11 0h0m156 0h0m13 0h0m48 0h0m1 0h0m11 0h0m-70 1h0m19 0h0m-198 1h0m12 0h0m22 0h0m6 0h0m207 0h0m36 0h0m-111 1h0m6 0h0m67 0h0m-59 1h0m11 0h0m-191 1h0m9 0h0m283 0h0m-290 1h0m4 0h0m162 0h0m37 0h0m23 0h0m13 0h0m-198 1h0m7 0h0m123 0h0m50 0h0m16 0h0m54 0h0m5 0h0m-307 1h0m3 0h0m45 0h0m145 0h0m-196 1h0m8 0h0m34 0h0m6 0h0m16 0h0m-63 1h0m21 0h0m5 0h0m226 0h0m-206 1h0m1 0h0m239 0h0m-265 1h0m33 0h0m15 0h0m-73 1h0m35 0h0m8 0h0m252 0h0m25 0h0m-230 1h0m95 0h0m29 0h0m54 0h0m32 0h0m-229 1h0m-64 1h0m11 0h0m38 0h0m239 0h0m22 0h0m1 0h0m-251 1h0m24 0h0m-5 1h0m217 0h0m-291 1h0m2 0h0m27 0h0m17 0h0m2 0h0m232 0h0m9 0h0m12 0h0m-312 1h0m22 0h0m7 0h0m47 0h0m107 0h0m48 0h0m-223 1h0m240 0h0m-234 1h0m3 0h0m33 0h0m12 0h0m20 0h0m129 0h0m98 0h0m-300 1h0m32 0h0m8 0h0m1 0h0m10 0h0m26 0h0m153 0h0m62 0h0m22 0h0m-323 1h0m6 0h0m7 0h0m28 0h0m141 0h0m130 0h0m16 0h0m-320 1h0m20 0h0m47 0h0m0 0h0m12 0h0m12 0h0m2 0h0m164 0h0m37 0h0m-264 1h0m47 0h0m130 0h0m-175 1h0m196 0h0m83 0h0m4 0h0m-244 1h0m100 0h0m43 0h0m73 0h0m6 0h0m15 0h0m11 0h0m6 0h0m-260 1h0m2 0h0m3 0h0m23 0h0m165 0h0m-260 1h0m203 0h0m12 0h0m35 0h0m71 0h0m9 0h0m-333 1h0m41 0h0m9 0h0m23 0h0m23 0h0m178 0h0m18 0h0m14 0h0m-304 1h0m30 0h0m23 0h0m143 0h0m96 0h0m-269 1h0m42 0h0m154 0h0m4 0h0m2 0h0m3 0h0m68 0h0m1 0h0m20 0h0m-299 1h0m26 0h0m170 0h0m56 0h0m24 0h0m-271 1h0m20 0h0m144 0h0m38 0h0m81 0h0m-298 1h0m7 0h0m16 0h0m34 0h0m124 0h0m10 0h0m81 0h0m44 0h0m-294 1h0m2 0h0m8 0h0m173 0h0m5 0h0m99 0h0m-283 1h0m143 0h0m7 0h0m45 0h0m35 0h0m31 0h0m-256 1h0m181 0h0m11 0h0m2 0h0m48 0h0m17 0h0m7 0h0m3 0h0m20 0h0m-130 1h0m12 0h0m-142 1h0m102 0h0m26 0h0m57 0h0m11 0h0m11 0h0m-97 1h0m82 0h0m62 0h0m-271 1h0m151 0h0m122 0h0m-48 1h0m21 0h0m-290 1h0m52 0h0m135 0h0m92 0h0m1 0h0m25 0h0m2 0h0m15 0h0m-152 1h0m41 0h0m89 0h0m12 0h0m-315 1h0m220 0h0m8 0h0m4 0h0m0 0h0m54 0h0m16 0h0m-281 1h0m154 0h0m6 0h0m3 0h0m0 0h0m5 0h0m16 0h0m16 0h0m10 0h0m45 0h0m0 0h0m10 0h0m-9 1h0m20 0h0m16 0h0m-282 1h0m192 0h0m49 0h0m33 0h0m-304 1h0m22 0h0m3 0h0m20 0h0m139 0h0m84 0h0m40 0h0m-296 1h0m159 0h0m46 0h0m7 0h0m7 0h0m39 0h0m18 0h0m-272 1h0m158 0h0m117 0h0m16 0h0m5 0h0m-311 1h0m15 0h0m2 0h0m4 0h0m5 0h0m145 0h0m4 0h0m31 0h0m108 0h0m6 0h0m-326 1h0m172 0h0m55 0h0m58 0h0m23 0h0m-308 1h0m188 0h0m-186 1h0m10 0h0m16 0h0m29 0h0m3 0h0m206 0h0m8 0h0m6 0h0m17 0h0m19 0h0m6 0h0m2 0h0m-308 1h0m1 0h0m42 0h0m125 0h0m3 0h0m32 0h0m46 0h0m10 0h0m-240 1h0m20 0h0m15 0h0m103 0h0m60 0h0m46 0h0m21 0h0m-302 1h0m39 0h0m44 0h0m112 0h0m63 0h0m19 0h0m44 0h0m-311 1h0m50 0h0m17 0h0m108 0h0m106 0h0m36 0h0m-267 1h0m23 0h0m91 0h0m69 0h0m47 0h0m6 0h0m19 0h0m9 0h0m1 0h0m-319 1h0m24 0h0m19 0h0m0 0h0m2 0h0m28 0h0m9 0h0m218 0h0m-288 1h0m36 0h0m136 0h0m96 0h0m1 0h0m26 0h0m-281 1h0m48 0h0m89 0h0m109 0h0m14 0h0m24 0h0m11 0h0m-289 1h0m27 1h0m7 0h0m217 0h0m9 0h0m23 0h0m4 0h0m3 0h0m-319 1h0m0 0h0m20 0h0m251 0h0m7 0h0m25 0h0m3 0h0m-128 1h0m111 0h0m28 0h0m-303 1h0m17 0h0m144 0h0m17 0h0m89 0h0m-285 1h0m29 0h0m0 0h0m40 0h0m110 0h0m43 0h0m66 0h0m-290 1h0m77 0h0m221 0h0m8 0h0m-302 1h0m30 0h0m146 0h0m6 0h0m43 0h0m26 0h0m71 0h0m-300 1h0m3 0h0m152 0h0m2 0h0m-162 1h0m13 0h0m7 0h0m25 0h0m2 0h0m12 0h0m92 0h0m7 0h0m0 0h0m5 0h0m111 0h0m4 0h0m20 0h0m-294 1h0m50 0h0m111 0h0m35 0h0m45 0h0m4 0h0m-262 1h0m50 0h0m113 0h0m8 0h0m-169 1h0m60 0h0m223 0h0m14 0h0m13 0h0m-313 1h0m35 0h0m26 0h0m15 0h0m168 0h0m50 0h0m8 0h0m-301 1h0m3 0h0m17 0h0m5 0h0m19 0h0m211 0h0m25 0h0m29 0h0m-243 1h0m1 0h0m106 0h0m39 0h0m33 0h0m24 0h0m-255 1h0m23 0h0m13 0h0m7 0h0m120 0h0m34 0h0m16 0h0m28 0h0m11 0h0m9 0h0m36 0h0m-314 1h0m196 0h0m23 0h0m-210 1h0m39 0h0m14 0h0m10 0h0m101 0h0m1 0h0m10 0h0m15 0h0m22 0h0m2 0h0m44 0h0m1 0h0m15 0h0m34 0h0m-260 1h0m137 0h0m23 0h0m15 0h0m0 0h0m20 0h0m61 0h0m-155 1h0m37 0h0m3 0h0m14 0h0m18 0h0m40 0h0m25 0h0m-91 1h0m27 0h0m38 0h0m-33 1h0m-36 1h0m11 0h0m54 0h0m8 0h0m6 0h0m33 0h0m1 0h0m-141 1h0m1 0h0m7 0h0m28 1h0m52 0h0m21 0h0m19 0h0m-126 1h0m30 0h0m0 0h0m38 0h0m31 0h0m-50 1h0m38 0h0m28 0h0m5 0h0m3 0h0m13 0h0m1 0h0m-257 1h0m126 0h0m19 0h0m20 0h0m39 0h0m19 0h0m8 0h0m16 0h0m20 0h0m-141 1h0m33 0h0m4 0h0m3 0h0m35 0h0m8 0h0m8 0h0m13 0h0m45 0h0m-135 1h0m13 0h0m1 0h0m1 0h0m25 0h0m8 0h0m0 0h0m33 0h0m7 0h0m19 0h0m-115 1h0m80 0h0m30 0h0m12 0h0m-125 1h0m16 0h0m34 0h0m2 0h0m8 0h0m7 0h0m6 0h0m1 0h0m3 0h0m4 0h0m4 0h0m12 0h0m10 0h0m27 0h0m-94 1h0m23 0h0m45 0h0m13 0h0m-115 1h0m25 0h0m45 0h0m20 0h0m9 0h0m4 0h0m6 0h0m18 0h0m-126 1h0m21 0h0m4 0h0m2 0h0m5 0h0m4 0h0m15 0h0m43 0h0m4 0h0m19 0h0m1 0h0m-120 1h0m8 0h0m8 0h0m29 0h0m2 0h0m25 0h0m27 0h0m2 0h0m-71 1h0m2 0h0m36 0h0m58 0h0m-76 1h0m31 0h0m12 0h0m39 0h0m-115 1h0m30 0h0m17 0h0m3 0h0m2 0h0m22 0h0m5 0h0m10 0h0m8 0h0m-78 1h0m9 0h0m8 0h0m11 0h0m32 0h0m0 0h0m-102 1h0m9 0h0m16 0h0m3 0h0m62 0h0m2 0h0m16 0h0m-97 1h0m40 0h0m28 0h0m18 0h0m20 0h0m-43 1h0m28 0h0m13 0h0m5 0h0m-107 1h0m14 0h0m29 0h0m3 0h0m8 0h0m16 0h0m19 0h0m12 0h0m3 0h0m5 0h0m-63 1h0m4 0h0m11 0h0m4 0h0m26 0h0m30 0h0m-123 1h0m3 0h0m3 0h0m7 0h0m2 0h0m82 0h0m1 0h0m2 0h0m-67 1h0m49 0h0m-91 1h0m20 0h0m70 0h0m-67 1h0m31 0h0m8 0h0m6 0h0m34 0h0m6 0h0m3 0h0m2 0h0m3 0h0m-105 1h0m2 0h0m3 0h0m1 0h0m5 0h0m13 0h0m19 0h0m44 0h0m19 0h0m9 0h0m-123 1h0m61 0h0m17 0h0m20 0h0m15 0h0m-111 1h0m28 0h0m8 0h0m45 0h0m4 0h0m25 0h0m-107 1h0m0 0h0m5 0h0m17 0h0m19 0h0m27 0h0m16 0h0m3 0h0m-72 1h0m60 0h0m26 0h0m-76 1h0m19 0h0m5 0h0m35 0h0m4 0h0m5 0h0m13 0h0m0 0h0m3 0h0m-107 1h0m7 0h0m19 0h0m22 0h0m11 0h0m1 0h0m10 0h0m10 0h0m8 0h0m1 0h0m3 0h0m17 0h0m-82 1h0m20 0h0m22 0h0m15 0h0m6 0h0m8 0h0m11 0h0m-28 1h0m-52 1h0m20 0h0m-33 1h0m12 0h0m13 0h0m12 0h0m10 0h0m15 0h0m5 0h0m1 0h0m6 0h0m-100 1h0m32 0h0m44 0h0m20 0h0m-62 1h0m5 0h0m32 0h0m10 0h0m13 0h0m23 0h0m-90 1h0m23 0h0m36 0h0m5 0h0m16 0h0m-72 1h0m43 0h0m19 0h0m-86 1h0m8 0h0m42 0h0m34 0h0m2 0h0m13 0h0m7 0h0m-69 1h0m37 0h0m22 0h0m9 0h0m-56 1h0m5 0h0m25 0h0m2 0h0m3 0h0m2 0h0m6 0h0m10 0h0m1 0h0m-61 1h0m46 0h0m10 0h0m18 0h0m-117 1h0m6 0h0m11 0h0m4 0h0m81 0h0m-49 1h0m6 0h0m21 0h0m-65 1h0m7 0h0m9 0h0m14 0h0m11 0h0m8 0h0m16 0h0m2 0h0m10 0h0m1 0h0m13 0h0m-103 1h0m9 0h0m1 0h0m37 0h0m9 0h0m37 0h0m8 0h0m-67 1h0m12 0h0m20 0h0m3 0h0m5 0h0m27 0h0m-52 1h0m2 0h0m26 0h0m1 0h0m-56 1h0m24 0h0m3 0h0m50 0h0m2 0h0m-80 1h0m45 0h0m17 0h0m20 0h0m-83 1h0m42 0h0m-55 1h0m15 0h0m18 0h0m6 0h0m25 0h0m12 0h0m6 0h0m1 0h0m-87 1h0m5 0h0m1 0h0m2 0h0m7 0h0m10 0h0m15 0h0m34 0h0m6 0h0m0 0h0m11 0h0m-77 1h0m4 0h0m4 0h0m21 0h0m4 0h0m29 0h0m11 0h0m-91 1h0m49 0h0m7 0h0m8 0h0m16 0h0m3 0h0m11 0h0m0 0h0m17 0h0m-102 1h0m6 0h0m1 0h0m1 0h0m56 0h0m1 0h0m6 0h0m1 0h0m13 0h0m1 0h0m3 0h0m2 0h0m-75 1h0m48 0h0m5 0h0m11 0h0m4 0h0m-73 1h0m19 0h0m3 0h0m11 0h0m-36 1h0m23 0h0m11 0h0m36 0h0m0 0h0m1 0h0m-40 1h0m-36 1h0m44 0h0m25 0h0m-35 1h0m3 0h0m22 0h0m3 0h0m9 0h0m-70 1h0m58 0h0m-14 1h0m6 0h0m24 0h0m4 0h0m8 0h0m-41 2h0m-15 1h0m20 0h0m23 0h0m-8 1h0m-52 1h0m27 0h0m3 0h0m-8 1h0m20 0h0m-41 1h0m22 0h0m1 0h0m13 0h0m4 0h0m15 0h0m6 0h0m-52 2h0m33 0h0m7 0h0m-28 1h0m17 2h0m-37 1h0m36 1h0m-29 2h0m-1 4h0" stroke="#2ca02c" stroke-width="3.00"/></g></g></g>
<line x1="490.60" y1="47.90" x2="490.60" y2="208.20" stroke="#8c8c8c" stroke-width="0.9" />
<line x1="490.60" y1="208.20" x2="682.70" y2="208.20" stroke="#8c8c8c" stroke-width="0.9" />
<line x1="488.20" y1="201.10" x2="490.60" y2="201.10" stroke="#8c8c8c" stroke-width="0.8" />
<text x="485.60" y="204.00" font-size="8" text-anchor="end" >0</text>
<line x1="488.20" y1="164.45" x2="490.60" y2="164.45" stroke="#8c8c8c" stroke-width="0.8" />
<text x="485.60" y="167.35" font-size="8" text-anchor="end" >5</text>
<line x1="488.20" y1="127.80" x2="490.60" y2="127.80" stroke="#8c8c8c" stroke-width="0.8" />
<text x="485.60" y="130.70" font-size="8" text-anchor="end" >10</text>
<line x1="488.20" y1="91.15" x2="490.60" y2="91.15" stroke="#8c8c8c" stroke-width="0.8" />
<text x="485.60" y="94.05" font-size="8" text-anchor="end" >15</text>
<line x1="488.20" y1="54.50" x2="490.60" y2="54.50" stroke="#8c8c8c" stroke-width="0.8" />
<text x="485.60" y="57.40" font-size="8" text-anchor="end" >20</text>
<line x1="499.30" y1="208.20" x2="499.30" y2="210.80" stroke="#8c8c8c" stroke-width="0.8" />
<text x="499.30" y="220.60" font-size="8" text-anchor="middle" >−2</text>
<line x1="534.35" y1="208.20" x2="534.35" y2="210.80" stroke="#8c8c8c" stroke-width="0.8" />
<text x="534.35" y="220.60" font-size="8" text-anchor="middle" >−1</text>
<line x1="569.40" y1="208.20" x2="569.40" y2="210.80" stroke="#8c8c8c" stroke-width="0.8" />
<text x="569.40" y="220.60" font-size="8" text-anchor="middle" >0</text>
<line x1="604.45" y1="208.20" x2="604.45" y2="210.80" stroke="#8c8c8c" stroke-width="0.8" />
<text x="604.45" y="220.60" font-size="8" text-anchor="middle" >1</text>
<line x1="639.50" y1="208.20" x2="639.50" y2="210.80" stroke="#8c8c8c" stroke-width="0.8" />
<text x="639.50" y="220.60" font-size="8" text-anchor="middle" >2</text>
<line x1="674.55" y1="208.20" x2="674.55" y2="210.80" stroke="#8c8c8c" stroke-width="0.8" />
<text x="674.55" y="220.60" font-size="8" text-anchor="middle" >3</text>
<line x1="551.80" y1="47.90" x2="551.80" y2="208.20" stroke="#222" stroke-width="0.8" stroke-dasharray="2.6 2.5"/>
<line x1="586.90" y1="47.90" x2="586.90" y2="208.20" stroke="#222" stroke-width="0.8" stroke-dasharray="2.6 2.5"/>
<line x1="490.60" y1="193.10" x2="682.70" y2="193.10" stroke="#222" stroke-width="0.8" stroke-dasharray="2.6 2.5"/>
<circle cx="499.00" cy="23.70" r="2.80" fill="#9a9a9a" />
<circle cx="499.00" cy="34.80" r="2.80" fill="#9fb0de" />
<circle cx="543.80" cy="23.20" r="2.80" fill="#85c79a" />
<circle cx="543.80" cy="35.10" r="2.80" fill="#f2787c" />
<text x="504.70" y="27.10" font-size="8.6" >NS</text>
<text x="504.70" y="38.30" font-size="8.6" ><tspan font-style="italic">P</tspan> value</text>
<text x="549.90" y="27.10" font-size="8.6" >log<tspan font-size="6" dy="2">2</tspan><tspan dy="-2"> (FC)</tspan></text>
<text x="549.90" y="38.30" font-size="8.6" ><tspan font-style="italic">P</tspan> value and log<tspan font-size="6" dy="2">2</tspan><tspan dy="-2"> (FC)</tspan></text>
<text x="0.00" y="0.00" font-size="8.9" text-anchor="middle" transform="translate(468.4,126.4) rotate(-90)">−log<tspan font-size="6" dy="2">10</tspan><tspan dy="-2"> (adjusted </tspan><tspan font-style="italic">P</tspan> value)</text>
<text x="549.40" y="233.30" font-size="8.6" >log<tspan font-size="6" dy="2">2</tspan><tspan dy="-2"> (FC) MT-SLP-76</tspan><tspan font-size="5.5" dy="-3.5">+/−</tspan></text>
<text x="682.90" y="245.80" font-size="10" text-anchor="end" >Total = 16,780 variables</text>
<path d="M553.5 193.8 C560 194.0 575 194.0 587.2 193.7 L587.2 196.8 C582 197.4 572 197.6 564 197.9 C561 198.6 558 197.6 556 196.6 C554.5 195.8 553.8 195 553.5 193.8Z" fill="#404040"/>
<path d="M553.8 192.4 C565 192.7 578 192.8 587.2 192.3 L587.2 194.0 C578 194.2 565 194.2 553.8 194.0Z" fill="#4466c4"/>
<rect x="561.5" y="192.9" width="2.4" height="1.4" fill="#fff" fill-opacity="0.85"/>
<rect x="566.5" y="192.9" width="2.4" height="1.4" fill="#fff" fill-opacity="0.85"/>
<rect x="571.5" y="192.9" width="2.4" height="1.4" fill="#fff" fill-opacity="0.85"/>
<path d="M581.3 183.2 L585.8 180.6 L586.4 181.9 L582.2 184Z" fill="#3f5fbf"/>
<path d="M585.2 164.5 L587.2 164.5 L587.3 171 L585.6 171Z" fill="#3f5fbf"/>
<circle cx="554.5" cy="181.2" r="0.9" fill="#5270cc" fill-opacity="0.8"/>
<circle cx="586.2" cy="166.0" r="0.9" fill="#5270cc" fill-opacity="0.8"/>
<circle cx="586.0" cy="170.4" r="0.9" fill="#5270cc" fill-opacity="0.8"/>
<circle cx="584.2" cy="182.2" r="0.9" fill="#5270cc" fill-opacity="0.8"/>
<circle cx="586.4" cy="176.5" r="0.9" fill="#5270cc" fill-opacity="0.8"/>
<circle cx="596.9" cy="86.2" r="0.95" fill="#ec2f36" fill-opacity="0.8"/>
<circle cx="604.7" cy="95.0" r="0.95" fill="#ec2f36" fill-opacity="0.8"/>
<circle cx="603.8" cy="107.4" r="0.95" fill="#ec2f36" fill-opacity="0.8"/>
<circle cx="643.2" cy="119.6" r="0.95" fill="#ec2f36" fill-opacity="0.8"/>
<circle cx="591.3" cy="127.7" r="0.95" fill="#ec2f36" fill-opacity="0.8"/>
<circle cx="596.7" cy="138.7" r="0.95" fill="#ec2f36" fill-opacity="0.8"/>
<circle cx="617.2" cy="141.7" r="0.95" fill="#ec2f36" fill-opacity="0.8"/>
<circle cx="632.2" cy="143.7" r="0.95" fill="#ec2f36" fill-opacity="0.8"/>
<circle cx="589.6" cy="151.8" r="0.95" fill="#ec2f36" fill-opacity="0.8"/>
<circle cx="597.3" cy="152.2" r="0.95" fill="#ec2f36" fill-opacity="0.8"/>
<circle cx="605.0" cy="155.0" r="0.95" fill="#ec2f36" fill-opacity="0.8"/>
<circle cx="611.5" cy="155.3" r="0.95" fill="#ec2f36" fill-opacity="0.8"/>
<circle cx="629.3" cy="160.0" r="0.95" fill="#ec2f36" fill-opacity="0.8"/>
<circle cx="612.7" cy="161.2" r="0.95" fill="#ec2f36" fill-opacity="0.8"/>
<circle cx="615.0" cy="161.7" r="0.95" fill="#ec2f36" fill-opacity="0.8"/>
<circle cx="590.7" cy="163.9" r="0.95" fill="#ec2f36" fill-opacity="0.8"/>
<circle cx="596.7" cy="164.8" r="0.95" fill="#ec2f36" fill-opacity="0.8"/>
<circle cx="587.8" cy="169.8" r="0.95" fill="#ec2f36" fill-opacity="0.8"/>
<circle cx="603.0" cy="171.6" r="0.95" fill="#ec2f36" fill-opacity="0.8"/>
<circle cx="592.3" cy="172.1" r="0.95" fill="#ec2f36" fill-opacity="0.8"/>
<circle cx="628.4" cy="173.9" r="0.95" fill="#ec2f36" fill-opacity="0.8"/>
<circle cx="598.4" cy="181.6" r="0.95" fill="#ec2f36" fill-opacity="0.8"/>
<circle cx="602.0" cy="184.0" r="0.95" fill="#ec2f36" fill-opacity="0.8"/>
<circle cx="604.4" cy="185.2" r="0.95" fill="#ec2f36" fill-opacity="0.8"/>
<circle cx="606.7" cy="186.4" r="0.95" fill="#ec2f36" fill-opacity="0.8"/>
<circle cx="601.2" cy="181.0" r="0.95" fill="#ec2f36" fill-opacity="0.8"/>
<circle cx="619.2" cy="187.0" r="0.95" fill="#ec2f36" fill-opacity="0.8"/>
<circle cx="628.0" cy="185.8" r="0.95" fill="#ec2f36" fill-opacity="0.8"/>
<circle cx="611.5" cy="190.0" r="0.95" fill="#ec2f36" fill-opacity="0.8"/>
<circle cx="662.4" cy="184.3" r="0.95" fill="#ec2f36" fill-opacity="0.8"/>
<circle cx="656.7" cy="182.7" r="0.95" fill="#ec2f36" fill-opacity="0.8"/>
<circle cx="602.6" cy="171.8" r="0.95" fill="#ec2f36" fill-opacity="0.8"/>
<circle cx="601.3" cy="183.2" r="0.95" fill="#ec2f36" fill-opacity="0.8"/>
<circle cx="532.6" cy="190.0" r="0.95" fill="#ec2f36" fill-opacity="0.8"/>
<circle cx="549.4" cy="169.0" r="0.95" fill="#ec2f36" fill-opacity="0.8"/>
<circle cx="550.4" cy="177.3" r="0.95" fill="#ec2f36" fill-opacity="0.8"/>
<circle cx="546.4" cy="181.9" r="0.95" fill="#ec2f36" fill-opacity="0.8"/>
<circle cx="549.0" cy="192.6" r="0.95" fill="#ec2f36" fill-opacity="0.8"/>
<circle cx="551.6" cy="192.9" r="0.95" fill="#ec2f36" fill-opacity="0.8"/>
<circle cx="547.5" cy="192.2" r="0.95" fill="#ec2f36" fill-opacity="0.8"/>
<circle cx="610.5" cy="183.5" r="0.95" fill="#ec2f36" fill-opacity="0.8"/>
<circle cx="615.5" cy="184.5" r="0.95" fill="#ec2f36" fill-opacity="0.8"/>
<circle cx="598.5" cy="176.0" r="0.95" fill="#ec2f36" fill-opacity="0.8"/>
<circle cx="624.0" cy="179.5" r="0.95" fill="#ec2f36" fill-opacity="0.8"/>
<circle cx="620.5" cy="174.5" r="0.95" fill="#ec2f36" fill-opacity="0.8"/>
<circle cx="636.5" cy="186.5" r="0.95" fill="#ec2f36" fill-opacity="0.8"/>
<circle cx="596.0" cy="147.5" r="0.95" fill="#ec2f36" fill-opacity="0.8"/>
<circle cx="589.0" cy="141.0" r="0.95" fill="#ec2f36" fill-opacity="0.8"/>
<circle cx="594.5" cy="158.5" r="0.95" fill="#ec2f36" fill-opacity="0.8"/>
<circle cx="599.0" cy="168.5" r="0.95" fill="#ec2f36" fill-opacity="0.8"/>
<circle cx="616.5" cy="153.0" r="0.95" fill="#ec2f36" fill-opacity="0.8"/>
<circle cx="588.5" cy="133.0" r="0.95" fill="#ec2f36" fill-opacity="0.8"/>
<circle cx="591.1" cy="187.2" r="0.95" fill="#ec2f36" fill-opacity="0.8"/>
<circle cx="592.3" cy="187.8" r="0.95" fill="#ec2f36" fill-opacity="0.8"/>
<circle cx="594.6" cy="182.2" r="0.95" fill="#ec2f36" fill-opacity="0.8"/>
<circle cx="589.1" cy="190.3" r="0.95" fill="#ec2f36" fill-opacity="0.8"/>
<circle cx="591.3" cy="184.0" r="0.95" fill="#ec2f36" fill-opacity="0.8"/>
<circle cx="598.0" cy="186.4" r="0.95" fill="#ec2f36" fill-opacity="0.8"/>
<circle cx="596.5" cy="186.5" r="0.95" fill="#ec2f36" fill-opacity="0.8"/>
<circle cx="594.8" cy="183.1" r="0.95" fill="#ec2f36" fill-opacity="0.8"/>
<circle cx="594.7" cy="190.6" r="0.95" fill="#ec2f36" fill-opacity="0.8"/>
<circle cx="593.7" cy="189.3" r="0.95" fill="#ec2f36" fill-opacity="0.8"/>
<circle cx="595.0" cy="182.2" r="0.95" fill="#ec2f36" fill-opacity="0.8"/>
<circle cx="595.8" cy="187.7" r="0.95" fill="#ec2f36" fill-opacity="0.8"/>
<circle cx="591.7" cy="181.8" r="0.95" fill="#ec2f36" fill-opacity="0.8"/>
<circle cx="596.8" cy="186.5" r="0.95" fill="#ec2f36" fill-opacity="0.8"/>
<circle cx="595.5" cy="190.7" r="0.95" fill="#ec2f36" fill-opacity="0.8"/>
<circle cx="595.4" cy="191.2" r="0.95" fill="#ec2f36" fill-opacity="0.8"/>
<circle cx="592.6" cy="189.9" r="0.95" fill="#ec2f36" fill-opacity="0.8"/>
<circle cx="593.0" cy="191.3" r="0.95" fill="#ec2f36" fill-opacity="0.8"/>
<circle cx="596.9" cy="182.5" r="0.95" fill="#ec2f36" fill-opacity="0.8"/>
<circle cx="590.2" cy="183.8" r="0.95" fill="#ec2f36" fill-opacity="0.8"/>
<circle cx="597.7" cy="186.1" r="0.95" fill="#ec2f36" fill-opacity="0.8"/>
<circle cx="594.6" cy="184.7" r="0.95" fill="#ec2f36" fill-opacity="0.8"/>
<circle cx="593.6" cy="185.6" r="0.95" fill="#ec2f36" fill-opacity="0.8"/>
<circle cx="592.2" cy="187.6" r="0.95" fill="#ec2f36" fill-opacity="0.8"/>
<circle cx="594.3" cy="191.0" r="0.95" fill="#ec2f36" fill-opacity="0.8"/>
<circle cx="595.1" cy="191.3" r="0.95" fill="#ec2f36" fill-opacity="0.8"/>
<circle cx="596.7" cy="191.9" r="0.95" fill="#ec2f36" fill-opacity="0.8"/>
<circle cx="595.0" cy="183.2" r="0.95" fill="#ec2f36" fill-opacity="0.8"/>
<circle cx="596.7" cy="191.6" r="0.95" fill="#ec2f36" fill-opacity="0.8"/>
<circle cx="597.1" cy="187.5" r="0.95" fill="#ec2f36" fill-opacity="0.8"/>
<circle cx="595.4" cy="183.7" r="0.95" fill="#ec2f36" fill-opacity="0.8"/>
<circle cx="596.5" cy="187.5" r="0.95" fill="#ec2f36" fill-opacity="0.8"/>
<circle cx="591.6" cy="182.2" r="0.95" fill="#ec2f36" fill-opacity="0.8"/>
<circle cx="596.7" cy="191.9" r="0.95" fill="#ec2f36" fill-opacity="0.8"/>
<circle cx="589.8" cy="189.9" r="0.95" fill="#ec2f36" fill-opacity="0.8"/>
<circle cx="592.7" cy="183.1" r="0.95" fill="#ec2f36" fill-opacity="0.8"/>
<circle cx="591.6" cy="189.6" r="0.95" fill="#ec2f36" fill-opacity="0.8"/>
<circle cx="596.9" cy="182.0" r="0.95" fill="#ec2f36" fill-opacity="0.8"/>
<circle cx="594.5" cy="182.0" r="0.95" fill="#ec2f36" fill-opacity="0.8"/>
<circle cx="595.5" cy="185.0" r="0.95" fill="#ec2f36" fill-opacity="0.8"/>
<circle cx="596.9" cy="191.8" r="0.95" fill="#ec2f36" fill-opacity="0.8"/>
<circle cx="593.5" cy="192.0" r="0.95" fill="#ec2f36" fill-opacity="0.8"/>
<circle cx="591.8" cy="182.3" r="0.95" fill="#ec2f36" fill-opacity="0.8"/>
<circle cx="594.4" cy="181.8" r="0.95" fill="#ec2f36" fill-opacity="0.8"/>
<circle cx="590.8" cy="185.8" r="0.95" fill="#ec2f36" fill-opacity="0.8"/>
<circle cx="549.4" cy="194.6" r="0.95" fill="#2ca02c" fill-opacity="0.85"/>
<circle cx="590.8" cy="195.1" r="0.95" fill="#2ca02c" fill-opacity="0.85"/>
<circle cx="552.0" cy="195.3" r="0.95" fill="#2ca02c" fill-opacity="0.85"/>
<line x1="598.0" y1="82.5" x2="596.9" y2="86.2" stroke="#111" stroke-width="0.55"/>
<line x1="596.5" y1="136.6" x2="598.3" y2="138.5" stroke="#111" stroke-width="0.55"/>
<line x1="634.3" y1="143.5" x2="632.6" y2="143.7" stroke="#111" stroke-width="0.55"/>
<line x1="597.2" y1="150.3" x2="598.5" y2="152.4" stroke="#111" stroke-width="0.55"/>
<line x1="632.0" y1="158.1" x2="629.6" y2="160.3" stroke="#111" stroke-width="0.55"/>
<line x1="613.0" y1="171.3" x2="611.5" y2="169.0" stroke="#111" stroke-width="0.55"/>
<line x1="596.5" y1="162.2" x2="598.6" y2="164.4" stroke="#111" stroke-width="0.55"/>
<line x1="587.0" y1="180.3" x2="588.5" y2="182.5" stroke="#111" stroke-width="0.55"/>
<line x1="588.8" y1="187.5" x2="591.8" y2="185.0" stroke="#111" stroke-width="0.55"/>
<line x1="594.8" y1="193.0" x2="591.6" y2="194.8" stroke="#111" stroke-width="0.55"/>
<line x1="587.7" y1="201.0" x2="590.0" y2="196.5" stroke="#111" stroke-width="0.55"/>
<line x1="622.5" y1="180.0" x2="624.0" y2="179.2" stroke="#111" stroke-width="0.55"/>
<line x1="626.5" y1="179.0" x2="624.5" y2="179.5" stroke="#111" stroke-width="0.55"/>
<line x1="648.5" y1="193.5" x2="651.0" y2="193.5" stroke="#111" stroke-width="0.55"/>
<line x1="628.2" y1="193.5" x2="623.0" y2="193.5" stroke="#111" stroke-width="0.55"/>
<line x1="661.5" y1="181.5" x2="659.0" y2="183.5" stroke="#111" stroke-width="0.55"/>
<line x1="595.5" y1="189.7" x2="597.0" y2="184.6" stroke="#111" stroke-width="0.55"/>
<line x1="617.5" y1="141.5" x2="617.8" y2="138.2" stroke="#111" stroke-width="0.55"/>
<rect x="596.1" y="73.6" width="22.7" height="8.9" rx="1.3" fill="#fff" fill-opacity="0.92" stroke="#666" stroke-width="0.6"/>
<text x="607.5" y="81.0" font-size="8.2" font-style="italic" text-anchor="middle" textLength="18.5" lengthAdjust="spacingAndGlyphs">XCL1</text>
<rect x="571.4" y="128.3" width="28.8" height="8.3" rx="1.3" fill="#fff" fill-opacity="0.92" stroke="#666" stroke-width="0.6"/>
<text x="585.8" y="135.3" font-size="8.2" font-style="italic" text-anchor="middle" textLength="24.6" lengthAdjust="spacingAndGlyphs">CCL22</text>
<rect x="602.5" y="129.3" width="31.1" height="8.9" rx="1.3" fill="#fff" fill-opacity="0.92" stroke="#666" stroke-width="0.6"/>
<text x="618.0" y="136.7" font-size="8.2" font-style="italic" text-anchor="middle" textLength="26.9" lengthAdjust="spacingAndGlyphs">CCL3L1</text>
<rect x="634.3" y="138.5" width="28.2" height="8.2" rx="1.3" fill="#fff" fill-opacity="0.92" stroke="#666" stroke-width="0.6"/>
<text x="648.4" y="145.5" font-size="8.2" font-style="italic" text-anchor="middle" textLength="24.0" lengthAdjust="spacingAndGlyphs">CCL20</text>
<rect x="579.4" y="142.6" width="22.8" height="7.7" rx="1.3" fill="#fff" fill-opacity="0.92" stroke="#666" stroke-width="0.6"/>
<text x="590.8" y="149.3" font-size="8.2" font-style="italic" text-anchor="middle" textLength="18.6" lengthAdjust="spacingAndGlyphs">XCL2</text>
<rect x="630.2" y="149.6" width="13.0" height="8.5" rx="1.3" fill="#fff" fill-opacity="0.92" stroke="#666" stroke-width="0.6"/>
<text x="636.7" y="156.8" font-size="8.2" font-style="italic" text-anchor="middle" textLength="8.8" lengthAdjust="spacingAndGlyphs">IL2</text>
<rect x="566.8" y="154.2" width="37.9" height="8.0" rx="1.3" fill="#fff" fill-opacity="0.92" stroke="#666" stroke-width="0.6"/>
<text x="585.8" y="161.1" font-size="8.2" font-style="italic" text-anchor="middle" textLength="33.7" lengthAdjust="spacingAndGlyphs">TNFSF 14</text>
<rect x="607.5" y="163.6" width="32.9" height="7.7" rx="1.3" fill="#fff" fill-opacity="0.92" stroke="#666" stroke-width="0.6"/>
<text x="624.0" y="170.3" font-size="8.2" font-style="italic" text-anchor="middle" textLength="28.7" lengthAdjust="spacingAndGlyphs">CCL4L2</text>
<rect x="559.6" y="172.7" width="38.9" height="7.6" rx="1.3" fill="#fff" fill-opacity="0.92" stroke="#666" stroke-width="0.6"/>
<text x="579.0" y="179.4" font-size="8.2" font-style="italic" text-anchor="middle" textLength="34.7" lengthAdjust="spacingAndGlyphs">GADD45G</text>
<rect x="626.5" y="174.2" width="28.5" height="8.5" rx="1.3" fill="#fff" fill-opacity="0.92" stroke="#666" stroke-width="0.6"/>
<text x="640.8" y="181.3" font-size="8.2" font-style="italic" text-anchor="middle" textLength="24.3" lengthAdjust="spacingAndGlyphs">CXCL8</text>
<rect x="659.6" y="173.7" width="24.7" height="7.8" rx="1.3" fill="#fff" fill-opacity="0.92" stroke="#666" stroke-width="0.6"/>
<text x="672.0" y="180.5" font-size="8.2" font-style="italic" text-anchor="middle" textLength="20.5" lengthAdjust="spacingAndGlyphs">WNT1</text>
<rect x="607.0" y="177.8" width="15.5" height="8.1" rx="1.3" fill="#fff" fill-opacity="0.92" stroke="#666" stroke-width="0.6"/>
<text x="614.8" y="184.8" font-size="8.2" font-style="italic" text-anchor="middle" textLength="11.3" lengthAdjust="spacingAndGlyphs">ID3</text>
<rect x="540.2" y="183.4" width="48.6" height="8.4" rx="1.3" fill="#fff" fill-opacity="0.92" stroke="#666" stroke-width="0.6"/>
<text x="564.5" y="190.5" font-size="8.2" font-style="italic" text-anchor="middle" textLength="44.4" lengthAdjust="spacingAndGlyphs">TNFRSF 12A</text>
<rect x="594.8" y="189.7" width="28.0" height="8.6" rx="1.3" fill="#fff" fill-opacity="0.92" stroke="#666" stroke-width="0.6"/>
<text x="608.8" y="196.9" font-size="8.2" font-style="italic" text-anchor="middle" textLength="23.8" lengthAdjust="spacingAndGlyphs">FOSL1</text>
<rect x="628.2" y="189.7" width="20.3" height="7.6" rx="1.3" fill="#fff" fill-opacity="0.92" stroke="#666" stroke-width="0.6"/>
<text x="638.4" y="196.4" font-size="8.2" font-style="italic" text-anchor="middle" textLength="16.1" lengthAdjust="spacingAndGlyphs">IL24</text>
<rect x="563.7" y="197.7" width="24.0" height="8.2" rx="1.3" fill="#fff" fill-opacity="0.92" stroke="#666" stroke-width="0.6"/>
<text x="575.7" y="204.7" font-size="8.2" font-style="italic" text-anchor="middle" textLength="19.8" lengthAdjust="spacingAndGlyphs">IL23A</text>
<line x1="36.60" y1="260.40" x2="36.60" y2="394.30" stroke="#8c8c8c" stroke-width="0.9" />
<line x1="36.60" y1="394.30" x2="148.90" y2="394.30" stroke="#8c8c8c" stroke-width="0.9" />
<line x1="34.20" y1="277.70" x2="36.60" y2="277.70" stroke="#8c8c8c" stroke-width="0.8" />
<text x="31.60" y="280.60" font-size="8" text-anchor="end" >2.0</text>
<line x1="34.20" y1="300.20" x2="36.60" y2="300.20" stroke="#8c8c8c" stroke-width="0.8" />
<text x="31.60" y="303.10" font-size="8" text-anchor="end" >1.5</text>
<line x1="34.20" y1="322.50" x2="36.60" y2="322.50" stroke="#8c8c8c" stroke-width="0.8" />
<text x="31.60" y="325.40" font-size="8" text-anchor="end" >1.0</text>
<line x1="34.20" y1="345.00" x2="36.60" y2="345.00" stroke="#8c8c8c" stroke-width="0.8" />
<text x="31.60" y="347.90" font-size="8" text-anchor="end" >0.5</text>
<line x1="34.20" y1="367.30" x2="36.60" y2="367.30" stroke="#8c8c8c" stroke-width="0.8" />
<text x="31.60" y="370.20" font-size="8" text-anchor="end" >0</text>
<line x1="34.20" y1="389.10" x2="36.60" y2="389.10" stroke="#8c8c8c" stroke-width="0.8" />
<text x="31.60" y="392.00" font-size="8" text-anchor="end" >−0.5</text>
<text x="0.00" y="0.00" font-size="9.2" text-anchor="middle" transform="translate(7.6,327) rotate(-90)">Effector function module score</text>
<path d="M52.66 336.20 L52.67 339.25 L52.68 343.66 L52.70 348.79 L52.72 353.99 L52.74 358.61 L52.77 362.00 L52.79 364.06 L52.82 365.27 L52.85 365.90 L52.88 366.22 L52.94 366.50 L53.03 367.00 L53.15 367.67 L53.32 368.28 L53.54 368.85 L53.81 369.39 L54.12 369.90 L54.30 370.40 L54.49 370.88 L54.69 371.33 L54.90 371.76 L55.12 372.18 L55.36 372.59 L55.60 373.00 L55.86 373.42 L56.13 373.84 L56.42 374.25 L56.71 374.65 L57.01 375.04 L57.30 375.40 L57.59 375.74 L57.89 376.05 L58.19 376.35 L58.49 376.64 L58.79 376.92 L59.10 377.20 L59.41 377.48 L59.73 377.76 L60.05 378.03 L60.37 378.29 L60.69 378.55 L61.00 378.80 L61.31 379.05 L61.61 379.29 L61.92 379.53 L62.22 379.76 L62.51 379.99 L62.80 380.20 L63.09 380.40 L63.39 380.59 L63.68 380.77 L63.96 380.94 L64.20 381.12 L64.40 381.30 L64.57 381.48 L64.71 381.67 L64.82 381.85 L64.89 382.03 L64.92 382.22 L64.90 382.40 L64.82 382.58 L64.69 382.77 L64.51 382.95 L64.29 383.13 L64.05 383.32 L63.80 383.50 L63.53 383.69 L63.23 383.87 L62.90 384.06 L62.55 384.25 L62.18 384.43 L61.80 384.60 L61.40 384.76 L60.97 384.92 L60.52 385.07 L60.06 385.21 L59.58 385.36 L59.10 385.50 L58.61 385.63 L58.10 385.74 L57.58 385.85 L57.05 385.97 L56.52 386.12 L56.00 386.30 L55.45 386.55 L54.85 386.86 L54.26 387.20 L53.41 387.53 L52.87 387.80 L52.66 388.00 L52.54 388.00 L52.33 387.80 L51.79 387.53 L50.94 387.20 L50.35 386.86 L49.75 386.55 L49.20 386.30 L48.68 386.12 L48.15 385.97 L47.62 385.85 L47.10 385.74 L46.59 385.63 L46.10 385.50 L45.62 385.36 L45.14 385.21 L44.68 385.07 L44.23 384.92 L43.80 384.76 L43.40 384.60 L43.02 384.43 L42.65 384.25 L42.30 384.06 L41.97 383.87 L41.67 383.69 L41.40 383.50 L41.15 383.32 L40.91 383.13 L40.69 382.95 L40.51 382.77 L40.38 382.58 L40.30 382.40 L40.28 382.22 L40.31 382.03 L40.38 381.85 L40.49 381.67 L40.63 381.48 L40.80 381.30 L41.00 381.12 L41.24 380.94 L41.52 380.77 L41.81 380.59 L42.11 380.40 L42.40 380.20 L42.69 379.99 L42.98 379.76 L43.28 379.53 L43.59 379.29 L43.89 379.05 L44.20 378.80 L44.51 378.55 L44.83 378.29 L45.15 378.03 L45.47 377.76 L45.79 377.48 L46.10 377.20 L46.41 376.92 L46.71 376.64 L47.01 376.35 L47.31 376.05 L47.61 375.74 L47.90 375.40 L48.19 375.04 L48.49 374.65 L48.78 374.25 L49.07 373.84 L49.34 373.42 L49.60 373.00 L49.84 372.59 L50.08 372.18 L50.30 371.76 L50.51 371.33 L50.71 370.88 L50.90 370.40 L51.08 369.90 L51.39 369.39 L51.66 368.85 L51.88 368.28 L52.05 367.67 L52.17 367.00 L52.26 366.50 L52.32 366.22 L52.35 365.90 L52.38 365.27 L52.41 364.06 L52.43 362.00 L52.46 358.61 L52.48 353.99 L52.50 348.79 L52.52 343.66 L52.53 339.25 L52.54 336.20Z" fill="#aec7e8" stroke="#000" stroke-width="0.85" stroke-linejoin="round"/>
<circle cx="52.60" cy="380.70" r="1.35" fill="#000" />
<path d="M79.36 337.10 L79.37 340.29 L79.38 344.92 L79.39 350.30 L79.41 355.73 L79.44 360.53 L79.47 364.00 L79.50 366.01 L79.53 367.09 L79.58 367.53 L79.63 367.63 L79.72 367.69 L79.84 368.00 L80.01 368.49 L80.24 368.91 L80.54 369.29 L80.86 369.64 L81.07 370.01 L81.30 370.40 L81.56 370.82 L81.84 371.26 L82.14 371.70 L82.45 372.14 L82.77 372.58 L83.10 373.00 L83.44 373.42 L83.79 373.84 L84.16 374.25 L84.52 374.65 L84.87 375.04 L85.20 375.40 L85.51 375.74 L85.80 376.05 L86.08 376.35 L86.36 376.64 L86.63 376.92 L86.90 377.20 L87.17 377.48 L87.44 377.74 L87.70 378.01 L87.96 378.27 L88.23 378.53 L88.50 378.80 L88.78 379.08 L89.07 379.36 L89.37 379.65 L89.66 379.94 L89.94 380.22 L90.20 380.50 L90.47 380.78 L90.76 381.05 L91.03 381.32 L91.27 381.59 L91.43 381.85 L91.50 382.10 L91.46 382.34 L91.34 382.56 L91.14 382.78 L90.90 382.99 L90.61 383.19 L90.30 383.40 L89.95 383.61 L89.53 383.82 L89.08 384.02 L88.60 384.23 L88.14 384.42 L87.70 384.60 L87.29 384.77 L86.89 384.93 L86.50 385.07 L86.11 385.22 L85.71 385.36 L85.30 385.50 L84.88 385.63 L84.47 385.75 L84.04 385.87 L83.61 385.99 L83.16 386.13 L82.70 386.30 L82.18 386.51 L81.59 386.77 L80.99 387.05 L80.14 387.31 L79.58 387.54 L79.36 387.70 L79.24 387.70 L79.02 387.54 L78.46 387.31 L77.61 387.05 L77.01 386.77 L76.42 386.51 L75.90 386.30 L75.44 386.13 L74.99 385.99 L74.56 385.87 L74.13 385.75 L73.72 385.63 L73.30 385.50 L72.89 385.36 L72.49 385.22 L72.10 385.07 L71.71 384.93 L71.31 384.77 L70.90 384.60 L70.46 384.42 L70.00 384.23 L69.52 384.02 L69.07 383.82 L68.65 383.61 L68.30 383.40 L67.99 383.19 L67.70 382.99 L67.46 382.78 L67.26 382.56 L67.14 382.34 L67.10 382.10 L67.17 381.85 L67.33 381.59 L67.57 381.32 L67.84 381.05 L68.13 380.78 L68.40 380.50 L68.66 380.22 L68.94 379.94 L69.23 379.65 L69.53 379.36 L69.82 379.08 L70.10 378.80 L70.37 378.53 L70.64 378.27 L70.90 378.01 L71.16 377.74 L71.43 377.48 L71.70 377.20 L71.97 376.92 L72.24 376.64 L72.52 376.35 L72.80 376.05 L73.09 375.74 L73.40 375.40 L73.73 375.04 L74.08 374.65 L74.44 374.25 L74.81 373.84 L75.16 373.42 L75.50 373.00 L75.83 372.58 L76.15 372.14 L76.46 371.70 L76.76 371.26 L77.04 370.82 L77.30 370.40 L77.53 370.01 L77.74 369.64 L78.06 369.29 L78.36 368.91 L78.59 368.49 L78.76 368.00 L78.88 367.69 L78.97 367.63 L79.02 367.53 L79.07 367.09 L79.10 366.01 L79.13 364.00 L79.16 360.53 L79.19 355.73 L79.21 350.30 L79.22 344.92 L79.23 340.29 L79.24 337.10Z" fill="#ff9896" stroke="#000" stroke-width="0.85" stroke-linejoin="round"/>
<circle cx="79.30" cy="380.70" r="1.35" fill="#000" />
<path d="M106.06 266.80 L106.06 270.56 L106.07 275.90 L106.08 282.15 L106.08 288.68 L106.09 294.85 L106.11 300.00 L106.12 304.13 L106.13 307.76 L106.15 311.03 L106.17 314.06 L106.20 317.00 L106.24 320.00 L106.29 323.08 L106.37 326.15 L106.45 329.12 L106.56 331.94 L106.68 334.52 L106.81 336.80 L106.95 338.68 L107.10 340.21 L107.27 341.50 L107.46 342.68 L107.59 343.87 L107.70 345.20 L107.82 346.65 L107.96 348.13 L108.09 349.62 L108.23 351.11 L108.37 352.57 L108.50 354.00 L108.64 355.38 L108.79 356.71 L108.94 358.02 L109.07 359.33 L109.17 360.65 L109.20 362.00 L109.17 363.38 L109.09 364.77 L108.97 366.18 L108.82 367.59 L108.66 369.00 L108.50 370.40 L108.33 371.80 L108.13 373.20 L107.92 374.60 L107.70 376.00 L107.49 377.40 L107.13 378.80 L106.82 380.30 L106.56 381.91 L106.35 383.53 L106.20 385.02 L106.11 386.29 L106.06 387.20 L105.94 387.20 L105.89 386.29 L105.80 385.02 L105.65 383.53 L105.44 381.91 L105.18 380.30 L104.87 378.80 L104.51 377.40 L104.30 376.00 L104.08 374.60 L103.87 373.20 L103.67 371.80 L103.50 370.40 L103.34 369.00 L103.18 367.59 L103.03 366.18 L102.91 364.77 L102.83 363.38 L102.80 362.00 L102.83 360.65 L102.93 359.33 L103.06 358.02 L103.21 356.71 L103.36 355.38 L103.50 354.00 L103.63 352.57 L103.77 351.11 L103.91 349.62 L104.04 348.13 L104.18 346.65 L104.30 345.20 L104.41 343.87 L104.54 342.68 L104.73 341.50 L104.90 340.21 L105.05 338.68 L105.19 336.80 L105.32 334.52 L105.44 331.94 L105.55 329.12 L105.63 326.15 L105.71 323.08 L105.76 320.00 L105.80 317.00 L105.83 314.06 L105.85 311.03 L105.87 307.76 L105.88 304.13 L105.89 300.00 L105.91 294.85 L105.92 288.68 L105.92 282.15 L105.93 275.90 L105.94 270.56 L105.94 266.80Z" fill="#1f77b4" stroke="#000" stroke-width="0.85" stroke-linejoin="round"/>
<circle cx="106.00" cy="358.50" r="1.35" fill="#000" />
<path d="M132.86 265.90 L132.86 269.77 L132.87 275.26 L132.88 281.70 L132.88 288.41 L132.89 294.74 L132.91 300.00 L132.92 304.19 L132.93 307.83 L132.95 311.08 L132.97 314.09 L133.00 317.02 L133.04 320.00 L133.09 323.08 L133.16 326.15 L133.25 329.12 L133.35 331.94 L133.47 334.52 L133.61 336.80 L133.77 338.68 L133.95 340.21 L134.17 341.50 L134.35 342.68 L134.48 343.87 L134.60 345.20 L134.73 346.64 L134.86 348.10 L135.00 349.57 L135.14 351.05 L135.27 352.53 L135.40 354.00 L135.54 355.48 L135.70 356.98 L135.85 358.48 L135.98 359.96 L136.07 361.40 L136.10 362.80 L136.06 364.13 L135.96 365.39 L135.82 366.62 L135.65 367.85 L135.47 369.10 L135.30 370.40 L135.12 371.76 L134.92 373.16 L134.71 374.57 L134.50 376.00 L134.29 377.41 L133.93 378.80 L133.62 380.25 L133.36 381.79 L133.15 383.32 L133.00 384.74 L132.91 385.93 L132.86 386.80 L132.74 386.80 L132.69 385.93 L132.60 384.74 L132.45 383.32 L132.24 381.79 L131.98 380.25 L131.67 378.80 L131.31 377.41 L131.10 376.00 L130.89 374.57 L130.68 373.16 L130.48 371.76 L130.30 370.40 L130.13 369.10 L129.95 367.85 L129.78 366.62 L129.64 365.39 L129.54 364.13 L129.50 362.80 L129.53 361.40 L129.62 359.96 L129.75 358.48 L129.90 356.98 L130.06 355.48 L130.20 354.00 L130.33 352.53 L130.46 351.05 L130.60 349.57 L130.74 348.10 L130.87 346.64 L131.00 345.20 L131.12 343.87 L131.25 342.68 L131.43 341.50 L131.65 340.21 L131.83 338.68 L131.99 336.80 L132.13 334.52 L132.25 331.94 L132.35 329.12 L132.44 326.15 L132.51 323.08 L132.56 320.00 L132.60 317.02 L132.63 314.09 L132.65 311.08 L132.67 307.83 L132.68 304.19 L132.69 300.00 L132.71 294.74 L132.72 288.41 L132.72 281.70 L132.73 275.26 L132.74 269.77 L132.74 265.90Z" fill="#d62728" stroke="#000" stroke-width="0.85" stroke-linejoin="round"/>
<circle cx="132.80" cy="357.80" r="1.35" fill="#000" />
<rect x="180.30" y="306.60" width="10.00" height="10.00" fill="#aec7e8" stroke="#222" stroke-width="0.8"/>
<circle cx="185.30" cy="311.60" r="1.20" fill="#000" />
<rect x="180.30" y="321.40" width="10.00" height="10.00" fill="#ff9896" stroke="#222" stroke-width="0.8"/>
<circle cx="185.30" cy="326.40" r="1.20" fill="#000" />
<rect x="180.30" y="336.20" width="10.00" height="10.00" fill="#1f77b4" stroke="#222" stroke-width="0.8"/>
<circle cx="185.30" cy="341.20" r="1.20" fill="#000" />
<rect x="180.30" y="351.00" width="10.00" height="10.00" fill="#d62728" stroke="#222" stroke-width="0.8"/>
<circle cx="185.30" cy="356.00" r="1.20" fill="#000" />
<text x="194.30" y="314.80" font-size="8.6" >Unstimulated, MT-SLP-76<tspan font-size="5.5" dy="-3.5">−</tspan></text>
<text x="194.30" y="329.60" font-size="8.6" >Unstimulated, MT-SLP-76<tspan font-size="5.5" dy="-3.5">+</tspan></text>
<text x="194.30" y="344.40" font-size="8.6" >Stimulated, MT-SLP-76<tspan font-size="5.5" dy="-3.5">−</tspan></text>
<text x="194.30" y="359.20" font-size="8.6" >Stimulated, MT-SLP-76<tspan font-size="5.5" dy="-3.5">+</tspan></text>
<line x1="36.90" y1="407.00" x2="36.90" y2="540.70" stroke="#8c8c8c" stroke-width="0.9" />
<line x1="36.90" y1="540.70" x2="148.80" y2="540.70" stroke="#8c8c8c" stroke-width="0.9" />
<line x1="34.50" y1="408.60" x2="36.90" y2="408.60" stroke="#8c8c8c" stroke-width="0.8" />
<text x="31.90" y="411.50" font-size="8" text-anchor="end" >1.2</text>
<line x1="34.50" y1="441.10" x2="36.90" y2="441.10" stroke="#8c8c8c" stroke-width="0.8" />
<text x="31.90" y="444.00" font-size="8" text-anchor="end" >0.8</text>
<line x1="34.50" y1="473.60" x2="36.90" y2="473.60" stroke="#8c8c8c" stroke-width="0.8" />
<text x="31.90" y="476.50" font-size="8" text-anchor="end" >0.4</text>
<line x1="34.50" y1="506.10" x2="36.90" y2="506.10" stroke="#8c8c8c" stroke-width="0.8" />
<text x="31.90" y="509.00" font-size="8" text-anchor="end" >0</text>
<line x1="34.50" y1="538.60" x2="36.90" y2="538.60" stroke="#8c8c8c" stroke-width="0.8" />
<text x="31.90" y="541.50" font-size="8" text-anchor="end" >−0.4</text>
<text x="0.00" y="0.00" font-size="9.0" text-anchor="middle" transform="translate(7.7,474) rotate(-90)">Exhaustion module score</text>
<path d="M52.86 440.40 L52.87 443.80 L52.87 448.65 L52.88 454.32 L52.89 460.19 L52.91 465.63 L52.93 470.00 L52.97 473.34 L53.01 476.16 L53.06 478.55 L53.12 480.59 L53.22 482.38 L53.34 484.00 L53.49 485.33 L53.65 486.29 L53.85 486.98 L54.13 487.55 L54.42 488.11 L54.70 488.80 L55.06 489.56 L55.49 490.29 L55.97 491.01 L56.49 491.77 L57.00 492.58 L57.50 493.50 L57.99 494.53 L58.49 495.66 L59.00 496.86 L59.51 498.08 L60.01 499.31 L60.50 500.50 L61.00 501.67 L61.51 502.83 L62.01 504.00 L62.49 505.17 L62.93 506.33 L63.30 507.50 L63.61 508.68 L63.88 509.88 L64.11 511.07 L64.29 512.26 L64.42 513.40 L64.50 514.50 L64.54 515.53 L64.55 516.52 L64.51 517.47 L64.41 518.40 L64.25 519.34 L64.00 520.30 L63.65 521.29 L63.20 522.31 L62.69 523.32 L62.13 524.33 L61.56 525.29 L61.00 526.20 L60.46 527.05 L59.90 527.85 L59.34 528.62 L58.75 529.36 L58.14 530.08 L57.50 530.80 L56.77 531.55 L55.94 532.33 L55.08 533.09 L54.25 533.79 L53.22 534.37 L52.86 534.80 L52.74 534.80 L52.38 534.37 L51.35 533.79 L50.52 533.09 L49.66 532.33 L48.83 531.55 L48.10 530.80 L47.46 530.08 L46.85 529.36 L46.26 528.62 L45.70 527.85 L45.14 527.05 L44.60 526.20 L44.04 525.29 L43.47 524.33 L42.91 523.32 L42.40 522.31 L41.95 521.29 L41.60 520.30 L41.35 519.34 L41.19 518.40 L41.09 517.47 L41.05 516.52 L41.06 515.53 L41.10 514.50 L41.18 513.40 L41.31 512.26 L41.49 511.07 L41.72 509.88 L41.99 508.68 L42.30 507.50 L42.67 506.33 L43.11 505.17 L43.59 504.00 L44.09 502.83 L44.60 501.67 L45.10 500.50 L45.59 499.31 L46.09 498.08 L46.60 496.86 L47.11 495.66 L47.61 494.53 L48.10 493.50 L48.60 492.58 L49.11 491.77 L49.62 491.01 L50.11 490.29 L50.54 489.56 L50.90 488.80 L51.18 488.11 L51.47 487.55 L51.75 486.98 L51.95 486.29 L52.11 485.33 L52.26 484.00 L52.38 482.38 L52.48 480.59 L52.54 478.55 L52.59 476.16 L52.63 473.34 L52.66 470.00 L52.69 465.63 L52.71 460.19 L52.72 454.32 L52.73 448.65 L52.73 443.80 L52.74 440.40Z" fill="#aec7e8" stroke="#000" stroke-width="0.85" stroke-linejoin="round"/>
<circle cx="52.80" cy="515.00" r="1.35" fill="#000" />
<path d="M79.46 450.20 L79.47 453.08 L79.47 457.21 L79.48 462.04 L79.49 466.99 L79.51 471.49 L79.54 475.00 L79.57 477.46 L79.61 479.33 L79.66 480.75 L79.72 481.90 L79.82 482.93 L79.94 484.00 L80.07 485.02 L80.19 485.83 L80.34 486.52 L80.58 487.19 L80.96 487.92 L81.30 488.80 L81.79 489.84 L82.41 490.97 L83.12 492.16 L83.85 493.39 L84.56 494.61 L85.20 495.80 L85.77 496.97 L86.33 498.13 L86.86 499.30 L87.37 500.47 L87.85 501.63 L88.30 502.80 L88.72 503.98 L89.12 505.17 L89.49 506.37 L89.83 507.55 L90.13 508.70 L90.40 509.80 L90.64 510.86 L90.86 511.90 L91.04 512.90 L91.18 513.87 L91.27 514.80 L91.30 515.70 L91.27 516.55 L91.18 517.37 L91.04 518.15 L90.86 518.90 L90.65 519.61 L90.40 520.30 L90.07 520.95 L89.65 521.55 L89.19 522.12 L88.76 522.67 L88.41 523.23 L88.20 523.80 L88.21 524.38 L88.41 524.97 L88.70 525.55 L88.96 526.13 L89.10 526.72 L89.00 527.30 L88.65 527.89 L88.14 528.49 L87.49 529.09 L86.76 529.69 L85.98 530.26 L85.20 530.80 L84.32 531.34 L83.29 531.89 L82.21 532.42 L81.19 532.90 L79.96 533.30 L79.46 533.60 L79.34 533.60 L78.84 533.30 L77.61 532.90 L76.59 532.42 L75.51 531.89 L74.48 531.34 L73.60 530.80 L72.82 530.26 L72.04 529.69 L71.31 529.09 L70.66 528.49 L70.15 527.89 L69.80 527.30 L69.70 526.72 L69.84 526.13 L70.10 525.55 L70.39 524.97 L70.59 524.38 L70.60 523.80 L70.39 523.23 L70.04 522.67 L69.61 522.12 L69.15 521.55 L68.73 520.95 L68.40 520.30 L68.15 519.61 L67.94 518.90 L67.76 518.15 L67.62 517.37 L67.53 516.55 L67.50 515.70 L67.53 514.80 L67.62 513.87 L67.76 512.90 L67.94 511.90 L68.16 510.86 L68.40 509.80 L68.67 508.70 L68.97 507.55 L69.31 506.37 L69.68 505.17 L70.08 503.98 L70.50 502.80 L70.95 501.63 L71.43 500.47 L71.94 499.30 L72.47 498.13 L73.03 496.97 L73.60 495.80 L74.24 494.61 L74.95 493.39 L75.68 492.16 L76.39 490.97 L77.01 489.84 L77.50 488.80 L77.84 487.92 L78.22 487.19 L78.46 486.52 L78.61 485.83 L78.73 485.02 L78.86 484.00 L78.98 482.93 L79.08 481.90 L79.14 480.75 L79.19 479.33 L79.23 477.46 L79.27 475.00 L79.29 471.49 L79.31 466.99 L79.32 462.04 L79.33 457.21 L79.33 453.08 L79.34 450.20Z" fill="#ff9896" stroke="#000" stroke-width="0.85" stroke-linejoin="round"/>
<circle cx="79.40" cy="514.50" r="1.35" fill="#000" />
<path d="M106.36 415.20 L106.37 418.61 L106.37 423.45 L106.38 429.12 L106.39 435.01 L106.41 440.50 L106.44 445.00 L106.47 448.53 L106.51 451.60 L106.56 454.27 L106.62 456.63 L106.72 458.74 L106.84 460.70 L106.99 462.36 L107.15 463.62 L107.35 464.65 L107.63 465.59 L107.92 466.59 L108.20 467.80 L108.56 469.19 L108.99 470.65 L109.47 472.16 L109.99 473.74 L110.50 475.39 L111.00 477.10 L111.50 478.94 L112.04 480.91 L112.58 482.95 L113.10 484.99 L113.58 486.96 L114.00 488.80 L114.37 490.52 L114.70 492.16 L114.99 493.74 L115.24 495.26 L115.44 496.71 L115.60 498.10 L115.72 499.40 L115.80 500.60 L115.84 501.74 L115.83 502.85 L115.75 503.96 L115.60 505.10 L115.36 506.27 L115.02 507.43 L114.62 508.59 L114.19 509.76 L113.74 510.93 L113.30 512.10 L112.86 513.28 L112.39 514.46 L111.90 515.65 L111.41 516.84 L110.94 518.02 L110.50 519.20 L110.08 520.36 L109.67 521.50 L109.27 522.64 L108.90 523.79 L108.54 524.97 L108.20 526.20 L107.87 527.58 L107.35 529.12 L106.91 530.69 L106.62 532.16 L106.44 533.41 L106.36 534.30 L106.24 534.30 L106.16 533.41 L105.98 532.16 L105.69 530.69 L105.25 529.12 L104.73 527.58 L104.40 526.20 L104.06 524.97 L103.70 523.79 L103.33 522.64 L102.93 521.50 L102.52 520.36 L102.10 519.20 L101.66 518.02 L101.19 516.84 L100.70 515.65 L100.21 514.46 L99.74 513.28 L99.30 512.10 L98.86 510.93 L98.41 509.76 L97.97 508.59 L97.58 507.43 L97.24 506.27 L97.00 505.10 L96.85 503.96 L96.77 502.85 L96.76 501.74 L96.80 500.60 L96.88 499.40 L97.00 498.10 L97.16 496.71 L97.36 495.26 L97.61 493.74 L97.90 492.16 L98.23 490.52 L98.60 488.80 L99.02 486.96 L99.50 484.99 L100.02 482.95 L100.56 480.91 L101.10 478.94 L101.60 477.10 L102.10 475.39 L102.61 473.74 L103.12 472.16 L103.61 470.65 L104.04 469.19 L104.40 467.80 L104.68 466.59 L104.97 465.59 L105.25 464.65 L105.45 463.62 L105.61 462.36 L105.76 460.70 L105.88 458.74 L105.98 456.63 L106.04 454.27 L106.09 451.60 L106.13 448.53 L106.16 445.00 L106.19 440.50 L106.21 435.01 L106.22 429.12 L106.23 423.45 L106.23 418.61 L106.24 415.20Z" fill="#1f77b4" stroke="#000" stroke-width="0.85" stroke-linejoin="round"/>
<circle cx="106.30" cy="500.50" r="1.35" fill="#000" />
<path d="M133.26 412.10 L133.26 415.82 L133.27 421.09 L133.28 427.28 L133.29 433.74 L133.31 439.86 L133.33 445.00 L133.37 449.28 L133.42 453.22 L133.48 456.82 L133.57 460.06 L133.69 462.92 L133.87 465.40 L134.09 467.31 L134.37 468.64 L134.71 469.59 L134.93 470.39 L135.19 471.25 L135.50 472.40 L135.88 473.80 L136.31 475.27 L136.79 476.81 L137.29 478.41 L137.80 480.07 L138.30 481.80 L138.82 483.64 L139.37 485.62 L139.92 487.66 L140.47 489.69 L140.97 491.66 L141.40 493.50 L141.79 495.22 L142.16 496.86 L142.48 498.44 L142.74 499.96 L142.92 501.41 L143.00 502.80 L142.96 504.10 L142.83 505.30 L142.61 506.44 L142.32 507.55 L141.98 508.66 L141.60 509.80 L141.15 510.97 L140.62 512.13 L140.04 513.30 L139.43 514.47 L138.84 515.63 L138.30 516.80 L137.80 517.95 L137.30 519.09 L136.82 520.22 L136.36 521.38 L135.91 522.56 L135.50 523.80 L135.10 525.19 L134.70 526.75 L134.04 528.34 L133.61 529.83 L133.37 531.09 L133.26 532.00 L133.14 532.00 L133.03 531.09 L132.79 529.83 L132.36 528.34 L131.70 526.75 L131.30 525.19 L130.90 523.80 L130.49 522.56 L130.04 521.38 L129.58 520.22 L129.10 519.09 L128.60 517.95 L128.10 516.80 L127.56 515.63 L126.97 514.47 L126.36 513.30 L125.78 512.13 L125.25 510.97 L124.80 509.80 L124.42 508.66 L124.08 507.55 L123.79 506.44 L123.57 505.30 L123.44 504.10 L123.40 502.80 L123.48 501.41 L123.66 499.96 L123.92 498.44 L124.24 496.86 L124.61 495.22 L125.00 493.50 L125.43 491.66 L125.93 489.69 L126.47 487.66 L127.03 485.62 L127.58 483.64 L128.10 481.80 L128.60 480.07 L129.11 478.41 L129.61 476.81 L130.09 475.27 L130.52 473.80 L130.90 472.40 L131.21 471.25 L131.47 470.39 L131.69 469.59 L132.03 468.64 L132.31 467.31 L132.53 465.40 L132.71 462.92 L132.83 460.06 L132.92 456.82 L132.98 453.22 L133.03 449.28 L133.06 445.00 L133.09 439.86 L133.11 433.74 L133.12 427.28 L133.13 421.09 L133.14 415.82 L133.14 412.10Z" fill="#d62728" stroke="#000" stroke-width="0.85" stroke-linejoin="round"/>
<circle cx="133.20" cy="502.10" r="1.35" fill="#000" />
<line x1="202.40" y1="407.00" x2="202.40" y2="540.20" stroke="#8c8c8c" stroke-width="0.9" />
<line x1="202.40" y1="540.20" x2="314.50" y2="540.20" stroke="#8c8c8c" stroke-width="0.9" />
<line x1="200.00" y1="408.60" x2="202.40" y2="408.60" stroke="#8c8c8c" stroke-width="0.8" />
<text x="197.40" y="411.50" font-size="8" text-anchor="end" >2</text>
<line x1="200.00" y1="450.70" x2="202.40" y2="450.70" stroke="#8c8c8c" stroke-width="0.8" />
<text x="197.40" y="453.60" font-size="8" text-anchor="end" >1</text>
<line x1="200.00" y1="493.00" x2="202.40" y2="493.00" stroke="#8c8c8c" stroke-width="0.8" />
<text x="197.40" y="495.90" font-size="8" text-anchor="end" >0</text>
<line x1="200.00" y1="535.00" x2="202.40" y2="535.00" stroke="#8c8c8c" stroke-width="0.8" />
<text x="197.40" y="537.90" font-size="8" text-anchor="end" >−1</text>
<text x="0.00" y="0.00" font-size="9.0" text-anchor="middle" transform="translate(180.6,473.6) rotate(-90)">Memory module score</text>
<path d="M218.76 412.10 L218.77 415.27 L218.77 419.77 L218.78 425.05 L218.79 430.55 L218.81 435.72 L218.83 440.00 L218.87 443.46 L218.92 446.54 L218.99 449.30 L219.07 451.77 L219.15 453.99 L219.24 456.00 L219.30 457.70 L219.33 459.03 L219.35 460.11 L219.41 461.07 L219.55 462.03 L219.83 463.10 L220.25 464.22 L220.57 465.27 L220.94 466.31 L221.34 467.42 L221.77 468.66 L222.20 470.10 L222.67 471.78 L223.18 473.65 L223.72 475.66 L224.25 477.73 L224.75 479.80 L225.20 481.80 L225.60 483.80 L225.98 485.87 L226.32 487.94 L226.63 489.95 L226.89 491.82 L227.10 493.50 L227.26 494.91 L227.38 496.10 L227.45 497.15 L227.47 498.17 L227.42 499.25 L227.30 500.50 L227.09 501.92 L226.80 503.43 L226.45 505.00 L226.05 506.61 L225.63 508.22 L225.20 509.80 L224.74 511.38 L224.23 512.97 L223.70 514.58 L223.17 516.16 L222.66 517.71 L222.20 519.20 L221.79 520.66 L221.40 522.10 L221.03 523.50 L220.69 524.85 L220.38 526.12 L220.01 527.30 L219.58 528.42 L219.26 529.50 L219.04 530.51 L218.90 531.40 L218.81 532.14 L218.76 532.70 L218.64 532.70 L218.59 532.14 L218.50 531.40 L218.36 530.51 L218.14 529.50 L217.82 528.42 L217.39 527.30 L217.02 526.12 L216.71 524.85 L216.37 523.50 L216.00 522.10 L215.61 520.66 L215.20 519.20 L214.74 517.71 L214.23 516.16 L213.70 514.58 L213.17 512.97 L212.66 511.38 L212.20 509.80 L211.77 508.22 L211.35 506.61 L210.95 505.00 L210.60 503.43 L210.31 501.92 L210.10 500.50 L209.98 499.25 L209.93 498.17 L209.95 497.15 L210.02 496.10 L210.14 494.91 L210.30 493.50 L210.51 491.82 L210.77 489.95 L211.07 487.94 L211.42 485.87 L211.80 483.80 L212.20 481.80 L212.65 479.80 L213.15 477.73 L213.68 475.66 L214.22 473.65 L214.73 471.78 L215.20 470.10 L215.63 468.66 L216.06 467.42 L216.46 466.31 L216.83 465.27 L217.15 464.22 L217.57 463.10 L217.85 462.03 L217.99 461.07 L218.05 460.11 L218.07 459.03 L218.10 457.70 L218.16 456.00 L218.25 453.99 L218.33 451.77 L218.41 449.30 L218.48 446.54 L218.53 443.46 L218.56 440.00 L218.59 435.72 L218.61 430.55 L218.62 425.05 L218.63 419.77 L218.63 415.27 L218.64 412.10Z" fill="#aec7e8" stroke="#000" stroke-width="0.85" stroke-linejoin="round"/>
<circle cx="218.70" cy="497.70" r="1.35" fill="#000" />
<path d="M245.66 425.70 L245.67 427.90 L245.67 431.01 L245.68 434.66 L245.69 438.47 L245.71 442.04 L245.73 445.00 L245.77 447.36 L245.82 449.43 L245.88 451.26 L245.96 452.93 L246.05 454.49 L246.14 456.00 L246.21 457.41 L246.25 458.66 L246.29 459.80 L246.37 460.89 L246.55 461.97 L246.91 463.10 L247.31 464.22 L247.70 465.27 L248.14 466.31 L248.63 467.42 L249.12 468.66 L249.60 470.10 L250.09 471.75 L250.62 473.57 L251.16 475.51 L251.69 477.56 L252.18 479.66 L252.60 481.80 L252.97 484.08 L253.32 486.56 L253.63 489.09 L253.89 491.57 L254.08 493.85 L254.20 495.80 L254.24 497.35 L254.21 498.57 L254.12 499.59 L253.97 500.56 L253.76 501.58 L253.50 502.80 L253.15 504.22 L252.72 505.73 L252.23 507.30 L251.71 508.91 L251.19 510.52 L250.70 512.10 L250.22 513.65 L249.74 515.20 L249.25 516.76 L248.77 518.32 L248.32 519.90 L247.90 521.50 L247.50 523.25 L247.10 525.16 L246.44 527.09 L246.01 528.89 L245.77 530.41 L245.66 531.50 L245.54 531.50 L245.43 530.41 L245.19 528.89 L244.76 527.09 L244.10 525.16 L243.70 523.25 L243.30 521.50 L242.88 519.90 L242.43 518.32 L241.95 516.76 L241.46 515.20 L240.98 513.65 L240.50 512.10 L240.01 510.52 L239.49 508.91 L238.97 507.30 L238.48 505.73 L238.05 504.22 L237.70 502.80 L237.44 501.58 L237.23 500.56 L237.07 499.59 L236.99 498.57 L236.96 497.35 L237.00 495.80 L237.12 493.85 L237.31 491.57 L237.57 489.09 L237.88 486.56 L238.23 484.08 L238.60 481.80 L239.02 479.66 L239.51 477.56 L240.04 475.51 L240.58 473.57 L241.11 471.75 L241.60 470.10 L242.08 468.66 L242.57 467.42 L243.06 466.31 L243.50 465.27 L243.89 464.22 L244.29 463.10 L244.65 461.97 L244.83 460.89 L244.91 459.80 L244.95 458.66 L244.99 457.41 L245.06 456.00 L245.15 454.49 L245.24 452.93 L245.32 451.26 L245.38 449.43 L245.43 447.36 L245.47 445.00 L245.49 442.04 L245.51 438.47 L245.52 434.66 L245.53 431.01 L245.53 427.90 L245.54 425.70Z" fill="#ff9896" stroke="#000" stroke-width="0.85" stroke-linejoin="round"/>
<circle cx="245.60" cy="497.20" r="1.35" fill="#000" />
<path d="M272.56 447.40 L272.56 449.41 L272.57 452.25 L272.58 455.59 L272.59 459.06 L272.61 462.31 L272.63 465.00 L272.67 467.12 L272.71 468.95 L272.76 470.56 L272.84 472.03 L272.96 473.42 L273.17 474.80 L273.46 476.07 L273.84 477.17 L274.17 478.18 L274.48 479.22 L274.85 480.39 L275.30 481.80 L275.87 483.48 L276.56 485.36 L277.31 487.36 L278.08 489.43 L278.82 491.50 L279.50 493.50 L280.13 495.49 L280.76 497.54 L281.37 499.59 L281.93 501.58 L282.41 503.43 L282.80 505.10 L283.09 506.53 L283.31 507.77 L283.46 508.88 L283.54 509.93 L283.55 510.98 L283.50 512.10 L283.38 513.28 L283.18 514.46 L282.91 515.65 L282.59 516.84 L282.22 518.02 L281.80 519.20 L281.34 520.36 L280.84 521.50 L280.29 522.64 L279.68 523.79 L279.02 524.97 L278.30 526.20 L277.44 527.58 L276.41 529.12 L275.33 530.69 L274.30 532.16 L273.07 533.41 L272.56 534.30 L272.44 534.30 L271.93 533.41 L270.70 532.16 L269.67 530.69 L268.59 529.12 L267.56 527.58 L266.70 526.20 L265.98 524.97 L265.32 523.79 L264.71 522.64 L264.16 521.50 L263.66 520.36 L263.20 519.20 L262.78 518.02 L262.41 516.84 L262.09 515.65 L261.82 514.46 L261.62 513.28 L261.50 512.10 L261.45 510.98 L261.46 509.93 L261.54 508.88 L261.69 507.77 L261.91 506.53 L262.20 505.10 L262.59 503.43 L263.07 501.58 L263.63 499.59 L264.24 497.54 L264.87 495.49 L265.50 493.50 L266.18 491.50 L266.92 489.43 L267.69 487.36 L268.44 485.36 L269.13 483.48 L269.70 481.80 L270.15 480.39 L270.52 479.22 L270.83 478.18 L271.16 477.17 L271.54 476.07 L271.83 474.80 L272.04 473.42 L272.16 472.03 L272.24 470.56 L272.29 468.95 L272.33 467.12 L272.37 465.00 L272.39 462.31 L272.41 459.06 L272.42 455.59 L272.43 452.25 L272.44 449.41 L272.44 447.40Z" fill="#1f77b4" stroke="#000" stroke-width="0.85" stroke-linejoin="round"/>
<circle cx="272.50" cy="510.50" r="1.35" fill="#000" />
<path d="M299.36 450.90 L299.36 452.83 L299.37 455.54 L299.38 458.74 L299.39 462.09 L299.41 465.28 L299.44 468.00 L299.47 470.28 L299.51 472.39 L299.56 474.33 L299.64 476.14 L299.76 477.82 L299.97 479.40 L300.26 480.77 L300.64 481.89 L300.97 482.88 L301.28 483.88 L301.65 485.01 L302.10 486.40 L302.67 488.10 L303.35 490.04 L304.09 492.10 L304.86 494.20 L305.61 496.23 L306.30 498.10 L306.95 499.83 L307.60 501.49 L308.23 503.09 L308.81 504.63 L309.35 506.10 L309.80 507.50 L310.20 508.81 L310.55 510.01 L310.85 511.15 L311.07 512.26 L311.19 513.36 L311.20 514.50 L311.08 515.67 L310.86 516.83 L310.53 518.00 L310.12 519.17 L309.64 520.33 L309.10 521.50 L308.47 522.67 L307.73 523.86 L306.92 525.04 L306.07 526.22 L305.22 527.37 L304.40 528.50 L303.55 529.66 L302.63 530.89 L301.71 532.09 L300.85 533.19 L299.75 534.12 L299.36 534.80 L299.24 534.80 L298.85 534.12 L297.75 533.19 L296.89 532.09 L295.97 530.89 L295.05 529.66 L294.20 528.50 L293.38 527.37 L292.53 526.22 L291.68 525.04 L290.87 523.86 L290.13 522.67 L289.50 521.50 L288.96 520.33 L288.48 519.17 L288.07 518.00 L287.74 516.83 L287.52 515.67 L287.40 514.50 L287.41 513.36 L287.53 512.26 L287.75 511.15 L288.05 510.01 L288.40 508.81 L288.80 507.50 L289.25 506.10 L289.79 504.63 L290.38 503.09 L291.00 501.49 L291.65 499.83 L292.30 498.10 L292.99 496.23 L293.74 494.20 L294.51 492.10 L295.25 490.04 L295.93 488.10 L296.50 486.40 L296.95 485.01 L297.32 483.88 L297.63 482.88 L297.96 481.89 L298.34 480.77 L298.63 479.40 L298.84 477.82 L298.96 476.14 L299.04 474.33 L299.09 472.39 L299.13 470.28 L299.17 468.00 L299.19 465.28 L299.21 462.09 L299.22 458.74 L299.23 455.54 L299.24 452.83 L299.24 450.90Z" fill="#d62728" stroke="#000" stroke-width="0.85" stroke-linejoin="round"/>
<circle cx="299.30" cy="513.30" r="1.35" fill="#000" />
<line x1="386.40" y1="273.40" x2="386.40" y2="512.10" stroke="#8c8c8c" stroke-width="0.9" />
<line x1="386.40" y1="512.10" x2="607.30" y2="512.10" stroke="#8c8c8c" stroke-width="0.9" />
<line x1="384.00" y1="287.40" x2="386.40" y2="287.40" stroke="#8c8c8c" stroke-width="0.8" />
<text x="380.00" y="290.50" font-size="8.6" text-anchor="end" font-style="italic" >IL2</text>
<line x1="384.00" y1="310.80" x2="386.40" y2="310.80" stroke="#8c8c8c" stroke-width="0.8" />
<text x="380.00" y="313.90" font-size="8.6" text-anchor="end" font-style="italic" >CCL20</text>
<line x1="384.00" y1="334.40" x2="386.40" y2="334.40" stroke="#8c8c8c" stroke-width="0.8" />
<text x="380.00" y="337.50" font-size="8.6" text-anchor="end" font-style="italic" >CCL22</text>
<line x1="384.00" y1="357.70" x2="386.40" y2="357.70" stroke="#8c8c8c" stroke-width="0.8" />
<text x="380.00" y="360.80" font-size="8.6" text-anchor="end" font-style="italic" >XCL1</text>
<line x1="384.00" y1="381.20" x2="386.40" y2="381.20" stroke="#8c8c8c" stroke-width="0.8" />
<text x="380.00" y="384.30" font-size="8.6" text-anchor="end" font-style="italic" >XCL2</text>
<line x1="384.00" y1="404.60" x2="386.40" y2="404.60" stroke="#8c8c8c" stroke-width="0.8" />
<text x="380.00" y="407.70" font-size="8.6" text-anchor="end" font-style="italic" >IL24</text>
<line x1="384.00" y1="428.00" x2="386.40" y2="428.00" stroke="#8c8c8c" stroke-width="0.8" />
<text x="380.00" y="431.10" font-size="8.6" text-anchor="end" font-style="italic" >FOSL1</text>
<line x1="384.00" y1="451.30" x2="386.40" y2="451.30" stroke="#8c8c8c" stroke-width="0.8" />
<text x="380.00" y="454.40" font-size="8.6" text-anchor="end" font-style="italic" >CCL3L1</text>
<line x1="384.00" y1="474.80" x2="386.40" y2="474.80" stroke="#8c8c8c" stroke-width="0.8" />
<text x="380.00" y="477.90" font-size="8.6" text-anchor="end" font-style="italic" >CCL4L2</text>
<line x1="384.00" y1="498.20" x2="386.40" y2="498.20" stroke="#8c8c8c" stroke-width="0.8" />
<text x="380.00" y="501.30" font-size="8.6" text-anchor="end" font-style="italic" >CXCL8</text>
<circle cx="418.20" cy="287.40" r="5.10" fill="#e0907e" />
<circle cx="471.00" cy="287.40" r="5.95" fill="#f53c1e" />
<circle cx="523.80" cy="287.40" r="3.75" fill="#bdbdbd" />
<circle cx="576.20" cy="287.40" r="4.90" fill="#ee8068" />
<circle cx="418.20" cy="310.80" r="2.95" fill="#e0907e" />
<circle cx="471.00" cy="310.80" r="3.55" fill="#f5301a" />
<circle cx="523.80" cy="310.80" r="2.20" fill="#c8a8a8" />
<circle cx="576.20" cy="310.80" r="3.30" fill="#ee7a68" />
<circle cx="418.20" cy="334.40" r="3.65" fill="#e0907e" />
<circle cx="471.00" cy="334.40" r="4.15" fill="#f54020" />
<circle cx="523.80" cy="334.40" r="3.55" fill="#bdbdbd" />
<circle cx="576.20" cy="334.40" r="4.60" fill="#ef7a60" />
<circle cx="418.20" cy="357.70" r="8.05" fill="#c8b8b8" />
<circle cx="471.00" cy="357.70" r="8.30" fill="#e49080" />
<circle cx="523.80" cy="357.70" r="7.80" fill="#ee8068" />
<circle cx="576.20" cy="357.70" r="8.45" fill="#fc3a1a" />
<circle cx="418.20" cy="381.20" r="6.50" fill="#c4b8b8" />
<circle cx="471.00" cy="381.20" r="7.10" fill="#e49080" />
<circle cx="523.80" cy="381.20" r="6.95" fill="#ef8068" />
<circle cx="576.20" cy="381.20" r="7.55" fill="#fc3a1e" />
<circle cx="418.20" cy="404.60" r="2.50" fill="#d8a098" />
<circle cx="471.00" cy="404.60" r="3.10" fill="#f52010" />
<circle cx="523.80" cy="404.60" r="1.95" fill="#d8a098" />
<circle cx="576.20" cy="404.60" r="2.65" fill="#e98a78" />
<circle cx="418.20" cy="428.00" r="4.40" fill="#d0b0a8" />
<circle cx="471.00" cy="428.00" r="4.75" fill="#f5603e" />
<circle cx="523.80" cy="428.00" r="4.00" fill="#d4a8a0" />
<circle cx="576.20" cy="428.00" r="4.80" fill="#f65a3a" />
<circle cx="418.20" cy="451.30" r="0.60" fill="#e09080" />
<circle cx="471.00" cy="451.30" r="1.65" fill="#e8a090" />
<circle cx="523.80" cy="451.30" r="1.60" fill="#e09080" />
<circle cx="576.20" cy="451.30" r="2.65" fill="#f50a0a" />
<circle cx="418.20" cy="474.80" r="1.80" fill="#d8a098" />
<circle cx="471.00" cy="474.80" r="2.35" fill="#e09080" />
<circle cx="523.80" cy="474.80" r="1.95" fill="#e8907a" />
<circle cx="576.20" cy="474.80" r="2.75" fill="#f50a0a" />
<circle cx="418.20" cy="498.20" r="2.00" fill="#d8a098" />
<circle cx="471.00" cy="498.20" r="2.85" fill="#f54a30" />
<circle cx="523.80" cy="498.20" r="1.80" fill="#d8a098" />
<circle cx="576.20" cy="498.20" r="2.85" fill="#f5402a" />
<line x1="418.20" y1="512.10" x2="418.20" y2="514.60" stroke="#8c8c8c" stroke-width="0.8" />
<text x="418.20" y="524.50" font-size="8.6" text-anchor="middle" >–</text>
<line x1="471.00" y1="512.10" x2="471.00" y2="514.60" stroke="#8c8c8c" stroke-width="0.8" />
<text x="471.00" y="524.50" font-size="8.6" text-anchor="middle" >+</text>
<line x1="523.80" y1="512.10" x2="523.80" y2="514.60" stroke="#8c8c8c" stroke-width="0.8" />
<text x="523.80" y="524.50" font-size="8.6" text-anchor="middle" >–</text>
<line x1="576.20" y1="512.10" x2="576.20" y2="514.60" stroke="#8c8c8c" stroke-width="0.8" />
<text x="576.20" y="524.50" font-size="8.6" text-anchor="middle" >+</text>
<path d="M418.20 526.6 V531.7 H471.00 V526.6 M444.60 531.7 V534.6" fill="none" stroke="#8c8c8c" stroke-width="0.8"/>
<text x="444.60" y="546.30" font-size="8.6" text-anchor="middle" >CD4</text>
<path d="M523.80 526.6 V531.7 H576.20 V526.6 M550.00 531.7 V534.6" fill="none" stroke="#8c8c8c" stroke-width="0.8"/>
<text x="550.00" y="546.30" font-size="8.6" text-anchor="middle" >CD8</text>
<text x="606.70" y="524.60" font-size="8.3" >MT-SLP-76</text>
<text x="606.60" y="341.60" font-size="8.9" >Percent expressed</text>
<circle cx="625.00" cy="351.60" r="4.65" fill="#000" />
<text x="636.00" y="354.70" font-size="8.6" >20</text>
<circle cx="625.00" cy="366.80" r="6.90" fill="#000" />
<text x="636.00" y="369.90" font-size="8.6" >40</text>
<circle cx="625.00" cy="384.90" r="8.20" fill="#000" />
<text x="636.00" y="388.00" font-size="8.6" >60</text>
<text x="606.60" y="408.60" font-size="8.9" >Scaled expression</text>
<defs><linearGradient id="eg" x1="0" y1="1" x2="0" y2="0"><stop offset="0" stop-color="#c9c3c3"/><stop offset="0.25" stop-color="#dba097"/><stop offset="0.5" stop-color="#ec7a66"/><stop offset="0.75" stop-color="#f8452c"/><stop offset="1" stop-color="#fc3a1e"/></linearGradient></defs>
<rect x="621.20" y="416.20" width="7.60" height="50.50" fill="url(#eg)" />
<line x1="627.30" y1="422.90" x2="628.80" y2="422.90" stroke="#fff" stroke-width="0.6" />
<text x="632.30" y="426.00" font-size="8.6" >1.0</text>
<line x1="627.30" y1="432.90" x2="628.80" y2="432.90" stroke="#fff" stroke-width="0.6" />
<text x="632.30" y="436.00" font-size="8.6" >0.5</text>
<line x1="627.30" y1="442.90" x2="628.80" y2="442.90" stroke="#fff" stroke-width="0.6" />
<text x="632.30" y="446.00" font-size="8.6" >0</text>
<line x1="627.30" y1="452.90" x2="628.80" y2="452.90" stroke="#fff" stroke-width="0.6" />
<text x="632.30" y="456.00" font-size="8.6" >−0.5</text>
<line x1="627.30" y1="462.90" x2="628.80" y2="462.90" stroke="#fff" stroke-width="0.6" />
<text x="632.30" y="466.00" font-size="8.6" >−1.0</text>
<rect x="28.00" y="566.00" width="14.45" height="14.62" fill="#0b0924" />
<rect x="28.00" y="580.33" width="14.45" height="14.62" fill="#1f1446" />
<rect x="28.00" y="594.65" width="14.45" height="14.62" fill="#21164a" />
<rect x="28.00" y="608.97" width="14.45" height="14.62" fill="#3d1a78" />
<line x1="35.08" y1="623.30" x2="35.08" y2="626.90" stroke="#8c8c8c" stroke-width="0.8" />
<text x="0.00" y="0.00" font-size="8.6" text-anchor="end" transform="translate(38.08,634.10) rotate(-45)">sCD40L</text>
<rect x="42.15" y="566.00" width="14.45" height="14.62" fill="#6a2595" />
<rect x="42.15" y="580.33" width="14.45" height="14.62" fill="#8e3592" />
<rect x="42.15" y="594.65" width="14.45" height="14.62" fill="#b04889" />
<rect x="42.15" y="608.97" width="14.45" height="14.62" fill="#b44f8a" />
<line x1="49.23" y1="623.30" x2="49.23" y2="626.90" stroke="#8c8c8c" stroke-width="0.8" />
<text x="0.00" y="0.00" font-size="8.6" text-anchor="end" transform="translate(52.23,634.10) rotate(-45)">GM-CSF</text>
<rect x="56.30" y="566.00" width="14.45" height="14.62" fill="#b44a8a" />
<rect x="56.30" y="580.33" width="14.45" height="14.62" fill="#f0686a" />
<rect x="56.30" y="594.65" width="14.45" height="14.62" fill="#fb9a6a" />
<rect x="56.30" y="608.97" width="14.45" height="14.62" fill="#fdae7a" />
<line x1="63.38" y1="623.30" x2="63.38" y2="626.90" stroke="#8c8c8c" stroke-width="0.8" />
<text x="0.00" y="0.00" font-size="8.6" text-anchor="end" transform="translate(66.38,634.10) rotate(-45)">IFNγ</text>
<rect x="70.45" y="566.00" width="14.45" height="14.62" fill="#080820" />
<rect x="70.45" y="580.33" width="14.45" height="14.62" fill="#b8498a" />
<rect x="70.45" y="594.65" width="14.45" height="14.62" fill="#fdcc8e" />
<rect x="70.45" y="608.97" width="14.45" height="14.62" fill="#fdefbe" />
<line x1="77.53" y1="623.30" x2="77.53" y2="626.90" stroke="#8c8c8c" stroke-width="0.8" />
<text x="0.00" y="0.00" font-size="8.6" text-anchor="end" transform="translate(80.53,634.10) rotate(-45)">IL-2</text>
<rect x="84.61" y="566.00" width="14.45" height="14.62" fill="#8e3592" />
<rect x="84.61" y="580.33" width="14.45" height="14.62" fill="#dc5a7a" />
<rect x="84.61" y="594.65" width="14.45" height="14.62" fill="#feb680" />
<rect x="84.61" y="608.97" width="14.45" height="14.62" fill="#fed79d" />
<line x1="91.68" y1="623.30" x2="91.68" y2="626.90" stroke="#8c8c8c" stroke-width="0.8" />
<text x="0.00" y="0.00" font-size="8.6" text-anchor="end" transform="translate(94.68,634.10) rotate(-45)">IL-3</text>
<rect x="98.76" y="566.00" width="14.45" height="14.62" fill="#1e1446" />
<rect x="98.76" y="580.33" width="14.45" height="14.62" fill="#43207c" />
<rect x="98.76" y="594.65" width="14.45" height="14.62" fill="#a33f8e" />
<rect x="98.76" y="608.97" width="14.45" height="14.62" fill="#b44c8a" />
<line x1="105.83" y1="623.30" x2="105.83" y2="626.90" stroke="#8c8c8c" stroke-width="0.8" />
<text x="0.00" y="0.00" font-size="8.6" text-anchor="end" transform="translate(108.83,634.10) rotate(-45)">IL-4</text>
<rect x="112.91" y="566.00" width="14.45" height="14.62" fill="#842f92" />
<rect x="112.91" y="580.33" width="14.45" height="14.62" fill="#fde1a8" />
<rect x="112.91" y="594.65" width="14.45" height="14.62" fill="#fdf9c8" />
<rect x="112.91" y="608.97" width="14.45" height="14.62" fill="#fdf7c6" />
<line x1="119.99" y1="623.30" x2="119.99" y2="626.90" stroke="#8c8c8c" stroke-width="0.8" />
<text x="0.00" y="0.00" font-size="8.6" text-anchor="end" transform="translate(122.99,634.10) rotate(-45)">IL-5</text>
<rect x="127.06" y="566.00" width="14.45" height="14.62" fill="#0d0a28" />
<rect x="127.06" y="580.33" width="14.45" height="14.62" fill="#4a1d7c" />
<rect x="127.06" y="594.65" width="14.45" height="14.62" fill="#7b2c92" />
<rect x="127.06" y="608.97" width="14.45" height="14.62" fill="#a84590" />
<line x1="134.14" y1="623.30" x2="134.14" y2="626.90" stroke="#8c8c8c" stroke-width="0.8" />
<text x="0.00" y="0.00" font-size="8.6" text-anchor="end" transform="translate(137.14,634.10) rotate(-45)">IL-6</text>
<rect x="141.21" y="566.00" width="14.45" height="14.62" fill="#d0507f" />
<rect x="141.21" y="580.33" width="14.45" height="14.62" fill="#f06a6e" />
<rect x="141.21" y="594.65" width="14.45" height="14.62" fill="#fea872" />
<rect x="141.21" y="608.97" width="14.45" height="14.62" fill="#feae7a" />
<line x1="148.29" y1="623.30" x2="148.29" y2="626.90" stroke="#8c8c8c" stroke-width="0.8" />
<text x="0.00" y="0.00" font-size="8.6" text-anchor="end" transform="translate(151.29,634.10) rotate(-45)">IL-8/CXCL8</text>
<rect x="155.36" y="566.00" width="14.45" height="14.62" fill="#17103e" />
<rect x="155.36" y="580.33" width="14.45" height="14.62" fill="#b04a8a" />
<rect x="155.36" y="594.65" width="14.45" height="14.62" fill="#de5a7c" />
<rect x="155.36" y="608.97" width="14.45" height="14.62" fill="#f06a6e" />
<line x1="162.44" y1="623.30" x2="162.44" y2="626.90" stroke="#8c8c8c" stroke-width="0.8" />
<text x="0.00" y="0.00" font-size="8.6" text-anchor="end" transform="translate(165.44,634.10) rotate(-45)">IL-9</text>
<rect x="169.52" y="566.00" width="14.45" height="14.62" fill="#8e3592" />
<rect x="169.52" y="580.33" width="14.45" height="14.62" fill="#fb8c66" />
<rect x="169.52" y="594.65" width="14.45" height="14.62" fill="#feb27e" />
<rect x="169.52" y="608.97" width="14.45" height="14.62" fill="#fd9a6a" />
<line x1="176.59" y1="623.30" x2="176.59" y2="626.90" stroke="#8c8c8c" stroke-width="0.8" />
<text x="0.00" y="0.00" font-size="8.6" text-anchor="end" transform="translate(179.59,634.10) rotate(-45)">IL-10</text>
<rect x="183.67" y="566.00" width="14.45" height="14.62" fill="#6a2595" />
<rect x="183.67" y="580.33" width="14.45" height="14.62" fill="#e65e76" />
<rect x="183.67" y="594.65" width="14.45" height="14.62" fill="#f87b68" />
<rect x="183.67" y="608.97" width="14.45" height="14.62" fill="#f27470" />
<line x1="190.74" y1="623.30" x2="190.74" y2="626.90" stroke="#8c8c8c" stroke-width="0.8" />
<text x="0.00" y="0.00" font-size="8.6" text-anchor="end" transform="translate(193.74,634.10) rotate(-45)">IL-13</text>
<rect x="197.82" y="566.00" width="14.45" height="14.62" fill="#000004" />
<rect x="197.82" y="580.33" width="14.45" height="14.62" fill="#3e1c78" />
<rect x="197.82" y="594.65" width="14.45" height="14.62" fill="#3a1c72" />
<rect x="197.82" y="608.97" width="14.45" height="14.62" fill="#4e1f82" />
<line x1="204.90" y1="623.30" x2="204.90" y2="626.90" stroke="#8c8c8c" stroke-width="0.8" />
<text x="0.00" y="0.00" font-size="8.6" text-anchor="end" transform="translate(207.90,634.10) rotate(-45)">IP-10/CXCL10</text>
<rect x="211.97" y="566.00" width="14.45" height="14.62" fill="#0a0828" />
<rect x="211.97" y="580.33" width="14.45" height="14.62" fill="#2a1a58" />
<rect x="211.97" y="594.65" width="14.45" height="14.62" fill="#8a3592" />
<rect x="211.97" y="608.97" width="14.45" height="14.62" fill="#8a3592" />
<line x1="219.05" y1="623.30" x2="219.05" y2="626.90" stroke="#8c8c8c" stroke-width="0.8" />
<text x="0.00" y="0.00" font-size="8.6" text-anchor="end" transform="translate(222.05,634.10) rotate(-45)">MCP-1/CCL2</text>
<rect x="226.12" y="566.00" width="14.45" height="14.62" fill="#050420" />
<rect x="226.12" y="580.33" width="14.45" height="14.62" fill="#2e1a60" />
<rect x="226.12" y="594.65" width="14.45" height="14.62" fill="#5a2290" />
<rect x="226.12" y="608.97" width="14.45" height="14.62" fill="#6e2898" />
<line x1="233.20" y1="623.30" x2="233.20" y2="626.90" stroke="#8c8c8c" stroke-width="0.8" />
<text x="0.00" y="0.00" font-size="8.6" text-anchor="end" transform="translate(236.20,634.10) rotate(-45)">MCP-3/CCL7</text>
<rect x="240.27" y="566.00" width="14.45" height="14.62" fill="#3e1c78" />
<rect x="240.27" y="580.33" width="14.45" height="14.62" fill="#8e3592" />
<rect x="240.27" y="594.65" width="14.45" height="14.62" fill="#a4428e" />
<rect x="240.27" y="608.97" width="14.45" height="14.62" fill="#a4428e" />
<line x1="247.35" y1="623.30" x2="247.35" y2="626.90" stroke="#8c8c8c" stroke-width="0.8" />
<text x="0.00" y="0.00" font-size="8.6" text-anchor="end" transform="translate(250.35,634.10) rotate(-45)">M-CSF</text>
<rect x="254.43" y="566.00" width="14.45" height="14.62" fill="#a8448e" />
<rect x="254.43" y="580.33" width="14.45" height="14.62" fill="#ee6470" />
<rect x="254.43" y="594.65" width="14.45" height="14.62" fill="#ee6470" />
<rect x="254.43" y="608.97" width="14.45" height="14.62" fill="#fda070" />
<line x1="261.50" y1="623.30" x2="261.50" y2="626.90" stroke="#8c8c8c" stroke-width="0.8" />
<text x="0.00" y="0.00" font-size="8.6" text-anchor="end" transform="translate(264.50,634.10) rotate(-45)">MDC/CCL22</text>
<rect x="268.58" y="566.00" width="14.45" height="14.62" fill="#6a2595" />
<rect x="268.58" y="580.33" width="14.45" height="14.62" fill="#a4428e" />
<rect x="268.58" y="594.65" width="14.45" height="14.62" fill="#dc5880" />
<rect x="268.58" y="608.97" width="14.45" height="14.62" fill="#e45e78" />
<line x1="275.65" y1="623.30" x2="275.65" y2="626.90" stroke="#8c8c8c" stroke-width="0.8" />
<text x="0.00" y="0.00" font-size="8.6" text-anchor="end" transform="translate(278.65,634.10) rotate(-45)">MIG/CXCL9</text>
<rect x="282.73" y="566.00" width="14.45" height="14.62" fill="#b44a8a" />
<rect x="282.73" y="580.33" width="14.45" height="14.62" fill="#f87b68" />
<rect x="282.73" y="594.65" width="14.45" height="14.62" fill="#fb8a6a" />
<rect x="282.73" y="608.97" width="14.45" height="14.62" fill="#fb8a6a" />
<line x1="289.80" y1="623.30" x2="289.80" y2="626.90" stroke="#8c8c8c" stroke-width="0.8" />
<text x="0.00" y="0.00" font-size="8.6" text-anchor="end" transform="translate(292.80,634.10) rotate(-45)">MIP-1α/CCL3</text>
<rect x="296.88" y="566.00" width="14.45" height="14.62" fill="#d2507f" />
<rect x="296.88" y="580.33" width="14.45" height="14.62" fill="#e05a7c" />
<rect x="296.88" y="594.65" width="14.45" height="14.62" fill="#f87868" />
<rect x="296.88" y="608.97" width="14.45" height="14.62" fill="#e85e76" />
<line x1="303.96" y1="623.30" x2="303.96" y2="626.90" stroke="#8c8c8c" stroke-width="0.8" />
<text x="0.00" y="0.00" font-size="8.6" text-anchor="end" transform="translate(306.96,634.10) rotate(-45)">MIP-1β/CCL4</text>
<rect x="311.03" y="566.00" width="14.45" height="14.62" fill="#7a2b92" />
<rect x="311.03" y="580.33" width="14.45" height="14.62" fill="#6e2898" />
<rect x="311.03" y="594.65" width="14.45" height="14.62" fill="#8a3592" />
<rect x="311.03" y="608.97" width="14.45" height="14.62" fill="#883492" />
<line x1="318.11" y1="623.30" x2="318.11" y2="626.90" stroke="#8c8c8c" stroke-width="0.8" />
<text x="0.00" y="0.00" font-size="8.6" text-anchor="end" transform="translate(321.11,634.10) rotate(-45)">RANTES/CCL5</text>
<rect x="325.18" y="566.00" width="14.45" height="14.62" fill="#a4428e" />
<rect x="325.18" y="580.33" width="14.45" height="14.62" fill="#f47468" />
<rect x="325.18" y="594.65" width="14.45" height="14.62" fill="#fec28c" />
<rect x="325.18" y="608.97" width="14.45" height="14.62" fill="#fde0a6" />
<line x1="332.26" y1="623.30" x2="332.26" y2="626.90" stroke="#8c8c8c" stroke-width="0.8" />
<text x="0.00" y="0.00" font-size="8.6" text-anchor="end" transform="translate(335.26,634.10) rotate(-45)">TNF</text>
<rect x="339.34" y="566.00" width="14.45" height="14.62" fill="#050420" />
<rect x="339.34" y="580.33" width="14.45" height="14.62" fill="#6a2595" />
<rect x="339.34" y="594.65" width="14.45" height="14.62" fill="#a4428e" />
<rect x="339.34" y="608.97" width="14.45" height="14.62" fill="#c04e86" />
<line x1="346.41" y1="623.30" x2="346.41" y2="626.90" stroke="#8c8c8c" stroke-width="0.8" />
<text x="0.00" y="0.00" font-size="8.6" text-anchor="end" transform="translate(349.41,634.10) rotate(-45)">LT-α</text>
<rect x="353.49" y="566.00" width="14.45" height="14.62" fill="#a8448e" />
<rect x="353.49" y="580.33" width="14.45" height="14.62" fill="#d8527e" />
<rect x="353.49" y="594.65" width="14.45" height="14.62" fill="#c84e86" />
<rect x="353.49" y="608.97" width="14.45" height="14.62" fill="#d85880" />
<line x1="360.56" y1="623.30" x2="360.56" y2="626.90" stroke="#8c8c8c" stroke-width="0.8" />
<text x="0.00" y="0.00" font-size="8.6" text-anchor="end" transform="translate(363.56,634.10) rotate(-45)">BCA-1</text>
<rect x="367.64" y="566.00" width="14.45" height="14.62" fill="#5e2290" />
<rect x="367.64" y="580.33" width="14.45" height="14.62" fill="#401c78" />
<rect x="367.64" y="594.65" width="14.45" height="14.62" fill="#6a2595" />
<rect x="367.64" y="608.97" width="14.45" height="14.62" fill="#5e2290" />
<line x1="374.71" y1="623.30" x2="374.71" y2="626.90" stroke="#8c8c8c" stroke-width="0.8" />
<text x="0.00" y="0.00" font-size="8.6" text-anchor="end" transform="translate(377.71,634.10) rotate(-45)">IL-16</text>
<rect x="381.79" y="566.00" width="14.45" height="14.62" fill="#e05a7a" />
<rect x="381.79" y="580.33" width="14.45" height="14.62" fill="#b8488a" />
<rect x="381.79" y="594.65" width="14.45" height="14.62" fill="#fb8462" />
<rect x="381.79" y="608.97" width="14.45" height="14.62" fill="#f06a6e" />
<line x1="388.87" y1="623.30" x2="388.87" y2="626.90" stroke="#8c8c8c" stroke-width="0.8" />
<text x="0.00" y="0.00" font-size="8.6" text-anchor="end" transform="translate(391.87,634.10) rotate(-45)">I-309</text>
<rect x="395.94" y="566.00" width="14.45" height="14.62" fill="#050420" />
<rect x="395.94" y="580.33" width="14.45" height="14.62" fill="#3e1c78" />
<rect x="395.94" y="594.65" width="14.45" height="14.62" fill="#5e2290" />
<rect x="395.94" y="608.97" width="14.45" height="14.62" fill="#6a2595" />
<line x1="403.02" y1="623.30" x2="403.02" y2="626.90" stroke="#8c8c8c" stroke-width="0.8" />
<text x="0.00" y="0.00" font-size="8.6" text-anchor="end" transform="translate(406.02,634.10) rotate(-45)">LIF</text>
<rect x="410.09" y="566.00" width="14.45" height="14.62" fill="#000004" />
<rect x="410.09" y="580.33" width="14.45" height="14.62" fill="#02010e" />
<rect x="410.09" y="594.65" width="14.45" height="14.62" fill="#5e2290" />
<rect x="410.09" y="608.97" width="14.45" height="14.62" fill="#c04e86" />
<line x1="417.17" y1="623.30" x2="417.17" y2="626.90" stroke="#8c8c8c" stroke-width="0.8" />
<text x="0.00" y="0.00" font-size="8.6" text-anchor="end" transform="translate(420.17,634.10) rotate(-45)">TARC</text>
<rect x="424.25" y="566.00" width="14.45" height="14.62" fill="#3a1c72" />
<rect x="424.25" y="580.33" width="14.45" height="14.62" fill="#3a1c72" />
<rect x="424.25" y="594.65" width="14.45" height="14.62" fill="#5a2290" />
<rect x="424.25" y="608.97" width="14.45" height="14.62" fill="#5a2290" />
<line x1="431.32" y1="623.30" x2="431.32" y2="626.90" stroke="#8c8c8c" stroke-width="0.8" />
<text x="0.00" y="0.00" font-size="8.6" text-anchor="end" transform="translate(434.32,634.10) rotate(-45)">sICAM1</text>
<rect x="438.40" y="566.00" width="14.45" height="14.62" fill="#d0507f" />
<rect x="438.40" y="580.33" width="14.45" height="14.62" fill="#d0507f" />
<rect x="438.40" y="594.65" width="14.45" height="14.62" fill="#f47468" />
<rect x="438.40" y="608.97" width="14.45" height="14.62" fill="#f47468" />
<line x1="445.47" y1="623.30" x2="445.47" y2="626.90" stroke="#8c8c8c" stroke-width="0.8" />
<text x="0.00" y="0.00" font-size="8.6" text-anchor="end" transform="translate(448.47,634.10) rotate(-45)">sFASL</text>
<rect x="452.55" y="566.00" width="14.45" height="14.62" fill="#5e2290" />
<rect x="452.55" y="580.33" width="14.45" height="14.62" fill="#5e2290" />
<rect x="452.55" y="594.65" width="14.45" height="14.62" fill="#7e2e92" />
<rect x="452.55" y="608.97" width="14.45" height="14.62" fill="#843292" />
<line x1="459.62" y1="623.30" x2="459.62" y2="626.90" stroke="#8c8c8c" stroke-width="0.8" />
<text x="0.00" y="0.00" font-size="8.6" text-anchor="end" transform="translate(462.62,634.10) rotate(-45)">PAI-1/SerpinE</text>
<rect x="28.00" y="566.00" width="438.70" height="57.30" fill="none" stroke="#333" stroke-width="0.6"/>
<line x1="466.70" y1="573.16" x2="470.10" y2="573.16" stroke="#8c8c8c" stroke-width="0.8" />
<text x="474.80" y="576.16" font-size="8.2" >CD19 CAR</text>
<line x1="466.70" y1="587.49" x2="470.10" y2="587.49" stroke="#8c8c8c" stroke-width="0.8" />
<text x="474.80" y="590.49" font-size="8.2" >CD19 CAR + MT-SLP-76</text>
<line x1="466.70" y1="601.81" x2="470.10" y2="601.81" stroke="#8c8c8c" stroke-width="0.8" />
<text x="474.80" y="604.81" font-size="8.2" >CD19 CAR</text>
<line x1="466.70" y1="616.14" x2="470.10" y2="616.14" stroke="#8c8c8c" stroke-width="0.8" />
<text x="474.80" y="619.14" font-size="8.2" >CD19 CAR + MT-SLP-76</text>
<path d="M571 569.90 H575 V588.90 H571 M575 579.40 H579" fill="none" stroke="#444" stroke-width="0.8"/>
<text x="583.20" y="582.40" font-size="8.4" >Nalm6-CD19<tspan font-size="6.4" dy="-3.6">600</tspan></text>
<path d="M571 599.40 H575 V617.50 H571 M575 608.45 H579" fill="none" stroke="#444" stroke-width="0.8"/>
<text x="583.20" y="611.45" font-size="8.4" >Nalm6-CD19<tspan font-size="6.4" dy="-3.6">20,100</tspan></text>
<defs><linearGradient id="mg" x1="0" y1="1" x2="0" y2="0"><stop offset="0" stop-color="#000004"/><stop offset="0.1" stop-color="#140e36"/><stop offset="0.2" stop-color="#3b0f70"/><stop offset="0.3" stop-color="#641a80"/><stop offset="0.4" stop-color="#8c2981"/><stop offset="0.5" stop-color="#b73779"/><stop offset="0.6" stop-color="#de4968"/><stop offset="0.7" stop-color="#f7705c"/><stop offset="0.8" stop-color="#fe9f6d"/><stop offset="0.9" stop-color="#fecf92"/><stop offset="1" stop-color="#fcfdbf"/></linearGradient></defs>
<rect x="10.20" y="566.00" width="12.20" height="57.00" fill="url(#mg)" stroke="#222" stroke-width="0.6"/>
<line x1="20.60" y1="575.70" x2="22.40" y2="575.70" stroke="#222" stroke-width="0.6" />
<line x1="10.20" y1="575.70" x2="12.00" y2="575.70" stroke="#222" stroke-width="0.6" />
<text x="1.00" y="578.80" font-size="8.6" >8</text>
<line x1="20.60" y1="599.30" x2="22.40" y2="599.30" stroke="#222" stroke-width="0.6" />
<line x1="10.20" y1="599.30" x2="12.00" y2="599.30" stroke="#222" stroke-width="0.6" />
<text x="1.00" y="602.40" font-size="8.6" >4</text>
<line x1="20.60" y1="622.10" x2="22.40" y2="622.10" stroke="#222" stroke-width="0.6" />
<line x1="10.20" y1="622.10" x2="12.00" y2="622.10" stroke="#222" stroke-width="0.6" />
<text x="1.00" y="625.20" font-size="8.6" >0</text>
</svg>
</body></html>
